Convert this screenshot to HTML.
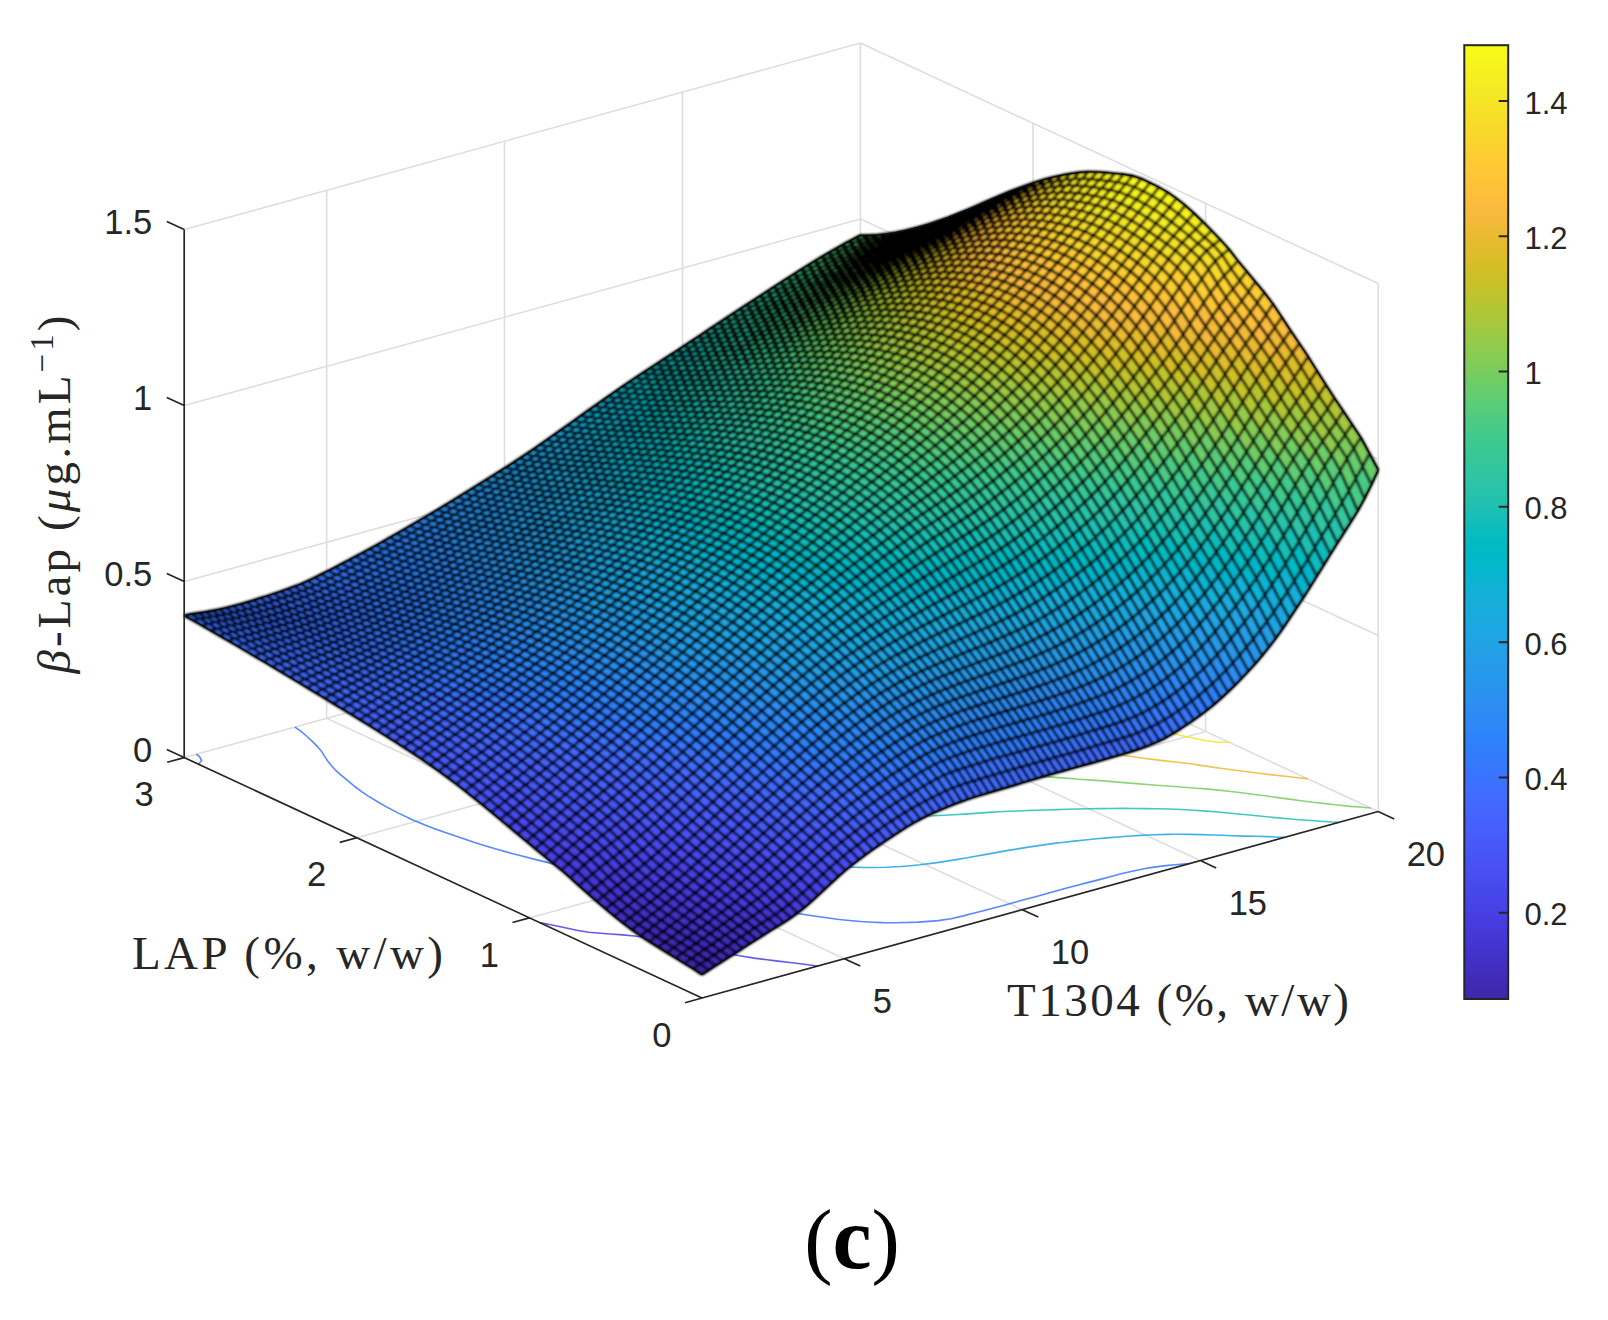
<!DOCTYPE html>
<html><head><meta charset="utf-8"><title>Figure (c)</title>
<style>
html,body{margin:0;padding:0;background:#fff}
body{width:1608px;height:1320px;overflow:hidden}
svg{display:block}
.tk text{font-family:"Liberation Sans",Arial,sans-serif;font-size:34.5px;fill:#262626}
.cbt text{font-family:"Liberation Sans",Arial,sans-serif;font-size:31px;fill:#262626}
.lab{font-family:"Liberation Serif","Times New Roman",serif;font-size:47px;fill:#262626}
.cap{font-family:"Liberation Serif","Times New Roman",serif;fill:#000}
#fills path{fill:currentColor;stroke:currentColor;stroke-width:.9;stroke-linejoin:round}
#cont path{fill:none;stroke-width:1.6;stroke-opacity:.85}
</style></head><body>
<svg width="1608" height="1320" viewBox="0 0 1608 1320">
<rect width="1608" height="1320" fill="#fff"/>
<path d="M326.6 718.3L326.6 190.3M504.5 669.3L504.5 141.3M682.5 620.2L682.5 92.2M860.4 571.1L860.4 43.1M184.2 757.6L860.4 571.1M184.2 581.6L860.4 395.1M184.2 405.6L860.4 219.1M184.2 229.6L860.4 43.1M1378.2 811.5L1378.2 283.5M1205.6 731.4L1205.6 203.4M1033 651.2L1033 123.2M860.4 571.1L1378.2 811.5M860.4 395.1L1378.2 635.5M860.4 219.1L1378.2 459.5M860.4 43.1L1378.2 283.5M844.4 958.7L326.6 718.3M1022.3 909.7L504.5 669.3M1200.3 860.6L682.5 620.2M529.4 917.9L1205.6 731.4M356.8 837.7L1033 651.2" fill="none" stroke="#dedede" stroke-width="1.6"/>
<g id="cont">
<path d="M539.7 922.6 550.8 924.7 563.9 927.5 576.8 930.3 588.6 932.2 600.8 933.3 609.9 934 622.9 934.9 636.7 936.2 645 937.3 659 939.6 672.6 942.2 682.7 944.2 693 946.4 705.6 949.1 718.8 951.8 732.4 954.5 742.6 956.3 754.2 958.1 767.2 959.8 777.9 961.1 790 962.5 802.3 964 813.5 965.5 817.7 966.1" stroke="#4740e3"/>
<path d="M198.4 764.2 201.6 760.4 199.5 756.6 196.4 754.2" stroke="#3a73fe"/>
<path d="M294.9 727.1 301.4 731.7 307 736.5 312.3 741.4 317.3 746.4 321.7 751.6 325.1 757.1 327.7 761 330.9 765.1 335.5 770.2 341 775.1 348.4 781.1 355.4 787 361.6 791.7 368.3 796.2 379.2 802.8 386.9 807.1 398.9 813.4 411.7 819.4 425.6 825.2 435.3 828.9 450.4 834.3 460.7 837.8 474.6 842.4 487.5 846.4 498.6 849.7 510.1 852.9 521.9 856.1 534 859.1 546.2 862.1 558.4 865.2 570.5 868.2 582.6 871.3 594.9 874.2 607.4 877.2 620 880.1 632.8 883 645.8 885.8 658.9 888.5 668.9 890.4 679.3 892.5 693 895.1 706.8 897.7 716.8 899.5 727.7 901.5 741.7 904 753.7 906.1 763 907.7 777.4 910.1 789.2 912.1 799.3 913.7 814.1 916 823.2 917.3 837.3 919.2 846.5 920.2 860.6 921.5 872.5 922.2 882.7 922.6 893.9 922.7 906.2 922.5 918.5 922.1 928.5 921.4 938.1 920.6 951 918.7 962.3 916.1 973.3 913.3 984.3 910.5 991.7 908.6 1002.5 905.7 1013.1 902.8 1023.8 899.8 1034.6 896.9 1045.3 894 1056 891 1066.7 888.1 1077.4 885.2 1088.4 882.4 1099.4 879.6 1110.1 876.7 1121 873.8 1132.3 871.2 1144.2 868.8 1152.5 867.4 1165.7 865.6 1175.1 864.7 1189.4 863.6" stroke="#3a73fe"/>
<path d="M531.2 661.9 533 666.7 534.2 670.6 535.7 675.8 536.7 679.5 538.2 684.9 539.2 688.4 540.8 694 541.8 697.3 543.7 703.2 544.8 706.4 546.8 711.9 548.3 715.9 550.2 720.5 552.4 725.7 553.9 729.1 556.6 734.7 559 739.4 561.1 743.1 564.3 748.6 567.8 754 570.6 757.9 573.6 762 577.9 767.2 582.4 772.3 587.4 777.3 592.7 782.3 598.4 787.1 605.8 792.7 614.5 798.6 621.6 803 633.1 809.4 645.4 815.6 658.6 821.6 672.6 827.3 683.1 831.2 697.8 836.3 708.5 839.7 720.7 843.4 734.7 847.3 747.3 850.5 758.9 853.2 769.7 855.6 781.4 858 795.3 860.5 807 862.4 817.7 863.9 830.6 865.4 842.9 866.5 852.3 867.1 863.4 867.5 874.8 867.5 886.6 867.2 900.9 866.5 910.6 865.7 919.9 864.8 933.4 863.1 942 861.9 954.8 859.9 967.2 857.7 975.5 856.3 987.7 854.1 999.9 851.9 1008.2 850.4 1020.8 848.4 1029.9 846.9 1042 845.1 1054 843.4 1064.2 842.2 1074.1 841.1 1087.3 839.7 1096.6 838.8 1109.9 837.6 1120.5 836.7 1130.4 836 1141.1 835.4 1155 834.7 1166.6 834.4 1177.7 834.3 1189.2 834.4 1201.1 834.6 1212 835 1222.3 835.3 1232.4 835.7 1244 836.1 1255.7 836.3 1267.7 836.6 1280.4 837.2 1284.2 837.4" stroke="#21a3e4"/>
<path d="M704.4 614.1 703.7 617.5 702.8 621.7 701.6 626.4 700.5 631.2 699.7 634.6 699 638.4 698.1 643.2 697.4 648 697 651.3 696.7 655.8 696.5 660.9 696.4 664.2 696.5 668.8 696.7 673.7 696.9 676.9 697.5 682.5 698 686.1 698.9 691 699.8 695.2 700.9 699.9 702.2 704.2 703.8 709.1 705.3 712.9 707.8 718.6 709.6 722.3 712.1 727 715.5 732.4 718.7 737.1 721.7 741.1 725.5 745.6 730.1 750.7 735.2 755.7 740.7 760.6 748.6 766.8 756.4 772.2 763.5 776.7 775 783.1 787.7 789.1 801.7 794.9 811.8 798.5 826.4 802.9 839.2 806.2 849.9 808.5 860.6 810.6 875.6 812.8 883.8 813.8 897.8 815 910.7 815.7 922 816 933.6 815.8 943.9 815.3 954 814.7 963.9 814.1 978.8 813.1 988.7 812.4 998.7 811.8 1009 811.3 1021.9 810.8 1035.2 810.3 1045.8 810 1056.4 809.6 1067.1 809.3 1077.8 809 1088.7 808.8 1099.7 808.6 1111.2 808.5 1123 808.4 1134.5 808.5 1145.7 808.6 1156.7 808.7 1168.6 809 1181.1 809.5 1194 810.3 1206 811.1 1215 811.8 1228.2 813 1241.1 814.2 1249.7 815 1264.2 816.5 1275.1 817.6 1285.6 818.5 1299.4 819.7 1310.7 820.5 1319.9 821.2 1332.8 822 1338.7 822.4" stroke="#1ec0b2"/>
<path d="M890.9 585.3 886.8 589.4 882.3 593.8 878.2 597.8 874.7 601.4 871.2 605.1 867.8 608.8 864.5 612.5 861.3 616.3 858.2 620.1 855.2 624 852.3 627.9 849.5 631.9 847 636 844.6 640.1 842.3 644.4 840.4 648.7 838.6 653.2 837.2 657.3 836.3 660.8 835.4 664.9 834.8 669.8 834.5 674.1 834.5 677.6 835 683.1 835.6 686.5 836.9 691.9 838.1 695.4 840.5 701.1 842.5 705 845.2 709.4 849.1 714.7 853.6 719.9 858.7 724.9 864.4 729.7 870.7 734.3 881.3 741 890 745.5 898 749.2 912.4 754.8 923.1 758.2 936.4 761.8 947.6 764.3 960.9 766.9 975.1 769.2 983.3 770.4 998.7 772.3 1007.5 773.2 1020.5 774.5 1033.4 775.7 1042.3 776.4 1055.2 777.4 1068.7 778.4 1078.6 779.2 1089 779.9 1102.4 780.9 1115 781.9 1124 782.6 1136.6 783.6 1150.4 784.8 1159.8 785.5 1170.8 786.3 1184.1 787.2 1196.5 788.2 1205.4 788.9 1218.7 790.1 1230.8 791.5 1241.5 792.8 1254.7 794.5 1265.1 795.8 1278.1 797.6 1289.2 799.1 1301.2 800.8 1313 802.3 1325.7 803.6 1335.3 804.7 1350.2 806.4 1359.9 807 1370.8 808" stroke="#78cc5f"/>
<path d="M980 626.6 976.3 630.2 972.8 633.8 969.5 637.5 966.4 641.4 963.6 645.3 961.1 649.5 959 653.8 957.3 658.2 956.1 662.9 955.6 666.2 955.4 670.5 955.9 675.7 956.6 679 958.5 684.6 960.5 688.7 963.1 692.9 967.2 698.1 972.1 703.2 977.8 708 985.5 713.4 995.1 719.2 1007.7 725.3 1021.9 731 1032.1 734.5 1044.8 738.4 1058.4 742.1 1070.4 745 1081.3 747.4 1092.7 749.7 1106.4 752.3 1119.5 754.6 1128.1 756 1143.2 758.2 1152.5 759.4 1167.2 761.1 1175.5 762 1190.3 763.7 1199.2 765.1 1213.9 767.4 1223.9 768.8 1237.4 770.5 1247.1 771.7 1261.2 773.5 1270.3 774.6 1285.4 776.3 1293.8 777.3 1307.9 778.9" stroke="#eabb30"/>
<path d="M1067.2 667.1 1067.3 670.5 1068.6 675.7 1070.2 679.3 1073.9 684.7 1078.5 689.8 1083.8 694.7 1089.8 699.4 1100.3 706.1 1108.4 710.3 1121.8 716.2 1131.4 719.9 1146.8 725.2 1157.5 728.7 1168.6 732 1179.9 735.3 1193 738 1206.3 740.8 1217.6 742.2 1229 742.2" stroke="#f5e526"/>
</g>
<filter id="bl" x="0" y="0" width="1608" height="1320" filterUnits="userSpaceOnUse"><feGaussianBlur stdDeviation="0.8"/></filter>
<g filter="url(#bl)">
<g id="fills">
<path color="#5ecc74" d="M862.4 239l6.8-3.7-8.8 0-6.8 3.6z"/>
<path color="#59cc78" d="M848.7 246.3l13.7-7.3-8.8-0.1-13.7 7.4z"/>
<path color="#53cc7d" d="M835 254.1l13.7-7.8-8.8 0-13.6 7.8z"/>
<path color="#4ccb82" d="M821.4 262.2l13.6-8.1-8.7 0-13.7 8.3z"/>
<path color="#46cb88" d="M807.7 270.7l13.7-8.5-8.8 0.2-13.7 8.5z"/>
<path color="#3fca8e" d="M794.1 279.4l13.6-8.7-8.8 0.2-13.6 8.7z"/>
<path color="#3ac994" d="M780.4 288.3l13.7-8.9-8.8 0.2-13.7 8.9z"/>
<path color="#35c79a" d="M766.7 297.2l13.7-8.9-8.8 0.2-13.6 8.8z"/>
<path color="#32c69f" d="M753.1 306.1l13.6-8.9-8.7 0.1-13.7 8.9z"/>
<path color="#2ec4a4" d="M739.4 315.1l13.7-9-8.8 0.1-13.7 9z"/>
<path color="#2ac3a9" d="M725.7 324.2l13.7-9.1-8.8 0.1-13.6 9z"/>
<path color="#24c1ae" d="M712.1 333.3l13.6-9.1-8.7 0-13.7 9.1z"/>
<path color="#1dc0b3" d="M698.4 342.4l13.7-9.1-8.8 0-13.7 9z"/>
<path color="#15bfb8" d="M684.8 351.5l13.6-9.1-8.8-0.1-13.6 9z"/>
<path color="#0cbdbc" d="M671.1 360.5l13.7-9-8.8-0.2-13.7 8.9z"/>
<path color="#05bbc1" d="M657.4 369.6l13.7-9.1-8.8-0.3-13.6 8.9z"/>
<path color="#01bac5" d="M643.8 378.8l13.6-9.2-8.7-0.5-13.7 9z"/>
<path color="#01b8ca" d="M630.1 388.1l13.7-9.3-8.8-0.7-13.7 9.2z"/>
<path color="#06b6ce" d="M616.5 397.6l13.6-9.5-8.8-0.8-13.6 9.5z"/>
<path color="#0cb3d3" d="M602.8 407.3l13.7-9.7-8.8-0.8-13.7 9.6z"/>
<path color="#13b0d7" d="M589.1 417.1l13.7-9.8-8.8-0.9-13.6 9.7z"/>
<path color="#18aedb" d="M575.5 427l13.6-9.9-8.7-1-13.7 9.8z"/>
<path color="#1baade" d="M561.8 436.8l13.7-9.8-8.8-1.1-13.7 9.6z"/>
<path color="#1ea7e1" d="M548.2 446.4l13.6-9.6-8.8-1.3-13.6 9.6z"/>
<path color="#20a4e3" d="M534.5 455.8l13.7-9.4-8.8-1.3-13.7 9.3z"/>
<path color="#23a1e5" d="M520.8 465l13.7-9.2-8.8-1.4-13.6 9z"/>
<path color="#249ee6" d="M507.2 473.8l13.6-8.8-8.7-1.6-13.7 8.7z"/>
<path color="#269be8" d="M493.5 482.6l13.7-8.8-8.8-1.7-13.7 8.6z"/>
<path color="#2798ea" d="M479.9 491.2l13.6-8.6-8.8-1.9-13.6 8.5z"/>
<path color="#2995ec" d="M466.2 499.8l13.7-8.6-8.8-2-13.7 8.4z"/>
<path color="#2b92ef" d="M452.5 508.2l13.7-8.4-8.8-2.2-13.6 8.3z"/>
<path color="#2c8ff1" d="M438.9 516.6l13.6-8.4-8.7-2.3-13.7 8.3z"/>
<path color="#2d8cf3" d="M425.2 524.8l13.7-8.2-8.8-2.4-13.7 8z"/>
<path color="#2d89f6" d="M411.5 532.9l13.7-8.1-8.8-2.6-13.6 8z"/>
<path color="#2e86f7" d="M397.9 540.9l13.6-8-8.7-2.7-13.7 7.8z"/>
<path color="#2e83f9" d="M384.2 548.7l13.7-7.8-8.8-2.9-13.6 7.7z"/>
<path color="#2f80fa" d="M370.6 556.4l13.6-7.7-8.7-3-13.7 7.5z"/>
<path color="#317dfb" d="M356.9 563.8l13.7-7.4-8.8-3.2-13.7 7.3z"/>
<path color="#337bfd" d="M343.2 571.1l13.7-7.3-8.8-3.3-13.6 7.1z"/>
<path color="#3578fd" d="M329.6 578.2l13.6-7.1-8.7-3.5-13.7 6.9z"/>
<path color="#3876fe" d="M315.9 584.9l13.7-6.7-8.8-3.7-13.7 6.7z"/>
<path color="#3a74fe" d="M302.3 590.7l13.6-5.8-8.8-3.7-13.6 5.6z"/>
<path color="#3b73fe" d="M288.6 595.7l13.7-5-8.8-3.9-13.7 4.9z"/>
<path color="#3c72ff" d="M274.9 600.4l13.7-4.7-8.8-4-13.6 4.6z"/>
<path color="#3c71ff" d="M261.3 604.7l13.6-4.3-8.7-4.1-13.7 4.3z"/>
<path color="#3d71ff" d="M247.6 608.7l13.7-4-8.8-4.1-13.7 3.9z"/>
<path color="#3d71ff" d="M234 612.2l13.6-3.5-8.8-4.2-13.6 3.5z"/>
<path color="#3c71ff" d="M220.3 615.1l13.7-2.9-8.8-4.2-13.7 2.9z"/>
<path color="#3b72ff" d="M206.6 617.6l13.7-2.5-8.8-4.2-13.6 2.3z"/>
<path color="#3a73fe" d="M193 620.3l13.6-2.7-8.7-4.4-13.7 2.3z"/>
<path color="#65cd6e" d="M871.1 238.6l6.9-3.8-8.8 0.5-6.8 3.7z"/>
<path color="#60cd72" d="M857.5 246.1l13.6-7.5-8.7 0.4-13.7 7.3z"/>
<path color="#5acc77" d="M843.8 253.9l13.7-7.8-8.8 0.2-13.7 7.8z"/>
<path color="#53cc7d" d="M830.1 262l13.7-8.1-8.8 0.2-13.6 8.1z"/>
<path color="#4ccb83" d="M816.5 270.4l13.6-8.4-8.7 0.2-13.7 8.5z"/>
<path color="#45cb89" d="M802.8 279.1l13.7-8.7-8.8 0.3-13.6 8.7z"/>
<path color="#3eca8f" d="M789.2 287.9l13.6-8.8-8.7 0.3-13.7 8.9z"/>
<path color="#39c895" d="M775.5 296.8l13.7-8.9-8.8 0.4-13.7 8.9z"/>
<path color="#35c79a" d="M761.8 305.8l13.7-9-8.8 0.4-13.6 8.9z"/>
<path color="#31c6a0" d="M748.2 314.9l13.6-9.1-8.7 0.3-13.7 9z"/>
<path color="#2dc4a5" d="M734.5 324l13.7-9.1-8.8 0.2-13.7 9.1z"/>
<path color="#28c3aa" d="M720.9 333.2l13.6-9.2-8.8 0.2-13.6 9.1z"/>
<path color="#23c1af" d="M707.2 342.4l13.7-9.2-8.8 0.1-13.7 9.1z"/>
<path color="#1bc0b4" d="M693.5 351.6l13.7-9.2-8.8 0-13.6 9.1z"/>
<path color="#12beb9" d="M679.9 360.8l13.6-9.2-8.7-0.1-13.7 9z"/>
<path color="#0abdbe" d="M666.2 370l13.7-9.2-8.8-0.3-13.7 9.1z"/>
<path color="#03bbc2" d="M652.6 379.3l13.6-9.3-8.8-0.4-13.6 9.2z"/>
<path color="#01b9c7" d="M638.9 388.7l13.7-9.4-8.8-0.5-13.7 9.3z"/>
<path color="#03b7cc" d="M625.2 398.4l13.7-9.7-8.8-0.6-13.6 9.5z"/>
<path color="#08b5d0" d="M611.6 408.1l13.6-9.7-8.7-0.8-13.7 9.7z"/>
<path color="#0fb2d5" d="M597.9 418l13.7-9.9-8.8-0.8-13.7 9.8z"/>
<path color="#15afd9" d="M584.3 427.9l13.6-9.9-8.8-0.9-13.6 9.9z"/>
<path color="#1aacdd" d="M570.6 437.8l13.7-9.9-8.8-0.9-13.7 9.8z"/>
<path color="#1da9e0" d="M556.9 447.5l13.7-9.7-8.8-1-13.6 9.6z"/>
<path color="#1fa5e2" d="M543.3 457.1l13.6-9.6-8.7-1.1-13.7 9.4z"/>
<path color="#22a2e4" d="M529.6 466.3l13.7-9.2-8.8-1.3-13.7 9.2z"/>
<path color="#249fe5" d="M516 475.4l13.6-9.1-8.8-1.3-13.6 8.8z"/>
<path color="#259ce7" d="M502.3 484.3l13.7-8.9-8.8-1.6-13.7 8.8z"/>
<path color="#2699e9" d="M488.6 493.1l13.7-8.8-8.8-1.7-13.6 8.6z"/>
<path color="#2896eb" d="M475 501.8l13.6-8.7-8.7-1.9-13.7 8.6z"/>
<path color="#2a93ee" d="M461.3 510.4l13.7-8.6-8.8-2-13.7 8.4z"/>
<path color="#2c90f0" d="M447.6 518.9l13.7-8.5-8.8-2.2-13.6 8.4z"/>
<path color="#2d8df2" d="M434 527.3l13.6-8.4-8.7-2.3-13.7 8.2z"/>
<path color="#2d8af5" d="M420.3 535.5l13.7-8.2-8.8-2.5-13.7 8.1z"/>
<path color="#2e87f7" d="M406.7 543.7l13.6-8.2-8.8-2.6-13.6 8z"/>
<path color="#2e84f9" d="M393 551.6l13.7-7.9-8.8-2.8-13.7 7.8z"/>
<path color="#2f81fa" d="M379.3 559.4l13.7-7.8-8.8-2.9-13.6 7.7z"/>
<path color="#317efb" d="M365.7 567l13.6-7.6-8.7-3-13.7 7.4z"/>
<path color="#327bfc" d="M352 574.5l13.7-7.5-8.8-3.2-13.7 7.3z"/>
<path color="#3579fd" d="M338.4 581.6l13.6-7.1-8.8-3.4-13.6 7.1z"/>
<path color="#3776fe" d="M324.7 588.3l13.7-6.7-8.8-3.4-13.7 6.7z"/>
<path color="#3974fe" d="M311 594.3l13.7-6-8.8-3.4-13.6 5.8z"/>
<path color="#3b73fe" d="M297.4 599.6l13.6-5.3-8.7-3.6-13.7 5z"/>
<path color="#3c72ff" d="M283.7 604.4l13.7-4.8-8.8-3.9-13.7 4.7z"/>
<path color="#3c71ff" d="M270.1 608.8l13.6-4.4-8.8-4-13.6 4.3z"/>
<path color="#3d71ff" d="M256.4 612.8l13.7-4-8.8-4.1-13.7 4z"/>
<path color="#3d71ff" d="M242.7 616.3l13.7-3.5-8.8-4.1-13.6 3.5z"/>
<path color="#3c71ff" d="M229.1 619.4l13.6-3.1-8.7-4.1-13.7 2.9z"/>
<path color="#3b72ff" d="M215.4 622.2l13.7-2.8-8.8-4.3-13.7 2.5z"/>
<path color="#3b73fe" d="M201.8 625.3l13.6-3.1-8.8-4.6-13.6 2.7z"/>
<path color="#6dcd67" d="M879.9 237.8l6.8-4-8.7 1-6.9 3.8z"/>
<path color="#68cd6b" d="M866.2 245.5l13.7-7.7-8.8 0.8-13.6 7.5z"/>
<path color="#61cd71" d="M852.6 253.3l13.6-7.8-8.7 0.6-13.7 7.8z"/>
<path color="#5acc77" d="M838.9 261.4l13.7-8.1-8.8 0.6-13.7 8.1z"/>
<path color="#53cc7d" d="M825.3 269.8l13.6-8.4-8.8 0.6-13.6 8.4z"/>
<path color="#4bcb83" d="M811.6 278.5l13.7-8.7-8.8 0.6-13.7 8.7z"/>
<path color="#44cb89" d="M797.9 287.3l13.7-8.8-8.8 0.6-13.6 8.8z"/>
<path color="#3eca90" d="M784.3 296.2l13.6-8.9-8.7 0.6-13.7 8.9z"/>
<path color="#38c896" d="M770.6 305.3l13.7-9.1-8.8 0.6-13.7 9z"/>
<path color="#34c79b" d="M757 314.4l13.6-9.1-8.8 0.5-13.6 9.1z"/>
<path color="#30c5a1" d="M743.3 323.7l13.7-9.3-8.8 0.5-13.7 9.1z"/>
<path color="#2cc4a6" d="M729.6 332.9l13.7-9.2-8.8 0.3-13.6 9.2z"/>
<path color="#27c2ab" d="M716 342.2l13.6-9.3-8.7 0.3-13.7 9.2z"/>
<path color="#21c1b0" d="M702.3 351.5l13.7-9.3-8.8 0.2-13.7 9.2z"/>
<path color="#19bfb5" d="M688.7 360.8l13.6-9.3-8.8 0.1-13.6 9.2z"/>
<path color="#10beba" d="M675 370.2l13.7-9.4-8.8 0-13.7 9.2z"/>
<path color="#08bcbf" d="M661.3 379.7l13.7-9.5-8.8-0.2-13.6 9.3z"/>
<path color="#02bac4" d="M647.7 389.3l13.6-9.6-8.7-0.4-13.7 9.4z"/>
<path color="#01b8c9" d="M634 399l13.7-9.7-8.8-0.6-13.7 9.7z"/>
<path color="#05b6ce" d="M620.4 408.9l13.6-9.9-8.8-0.6-13.6 9.7z"/>
<path color="#0bb3d2" d="M606.7 418.8l13.7-9.9-8.8-0.8-13.7 9.9z"/>
<path color="#13b1d7" d="M593 428.8l13.7-10-8.8-0.8-13.6 9.9z"/>
<path color="#18aedb" d="M579.4 438.7l13.6-9.9-8.7-0.9-13.7 9.9z"/>
<path color="#1baade" d="M565.7 448.5l13.7-9.8-8.8-0.9-13.7 9.7z"/>
<path color="#1ea7e1" d="M552 458.1l13.7-9.6-8.8-1-13.6 9.6z"/>
<path color="#20a4e3" d="M538.4 467.6l13.6-9.5-8.7-1-13.7 9.2z"/>
<path color="#23a1e5" d="M524.7 476.8l13.7-9.2-8.8-1.3-13.6 9.1z"/>
<path color="#249de6" d="M511.1 485.9l13.6-9.1-8.7-1.4-13.7 8.9z"/>
<path color="#269ae8" d="M497.4 494.8l13.7-8.9-8.8-1.6-13.7 8.8z"/>
<path color="#2797ea" d="M483.7 503.7l13.7-8.9-8.8-1.7-13.6 8.7z"/>
<path color="#2994ed" d="M470.1 512.4l13.6-8.7-8.7-1.9-13.7 8.6z"/>
<path color="#2b91ef" d="M456.4 521.1l13.7-8.7-8.8-2-13.7 8.5z"/>
<path color="#2c8ef1" d="M442.8 529.6l13.6-8.5-8.8-2.2-13.6 8.4z"/>
<path color="#2d8bf4" d="M429.1 538l13.7-8.4-8.8-2.3-13.7 8.2z"/>
<path color="#2d88f6" d="M415.4 546.3l13.7-8.3-8.8-2.5-13.6 8.2z"/>
<path color="#2e85f8" d="M401.8 554.4l13.6-8.1-8.7-2.6-13.7 7.9z"/>
<path color="#2f82fa" d="M388.1 562.4l13.7-8-8.8-2.8-13.7 7.8z"/>
<path color="#307ffb" d="M374.5 570.1l13.6-7.7-8.8-3-13.6 7.6z"/>
<path color="#327cfc" d="M360.8 577.7l13.7-7.6-8.8-3.1-13.7 7.5z"/>
<path color="#3479fd" d="M347.1 584.9l13.7-7.2-8.8-3.2-13.6 7.1z"/>
<path color="#3777fe" d="M333.5 591.7l13.6-6.8-8.7-3.3-13.7 6.7z"/>
<path color="#3975fe" d="M319.8 597.9l13.7-6.2-8.8-3.4-13.7 6z"/>
<path color="#3b73fe" d="M306.2 603.4l13.6-5.5-8.8-3.6-13.6 5.3z"/>
<path color="#3c72ff" d="M292.5 608.4l13.7-5-8.8-3.8-13.7 4.8z"/>
<path color="#3c71ff" d="M278.8 612.8l13.7-4.4-8.8-4-13.6 4.4z"/>
<path color="#3d71ff" d="M265.2 616.8l13.6-4-8.7-4-13.7 4z"/>
<path color="#3d71ff" d="M251.5 620.4l13.7-3.6-8.8-4-13.7 3.5z"/>
<path color="#3c71ff" d="M237.9 623.7l13.6-3.3-8.8-4.1-13.6 3.1z"/>
<path color="#3c72ff" d="M224.2 626.9l13.7-3.2-8.8-4.3-13.7 2.8z"/>
<path color="#3b72ff" d="M210.5 630.4l13.7-3.5-8.8-4.7-13.6 3.1z"/>
<path color="#77cc60" d="M888.7 236.5l6.8-4-8.8 1.3-6.8 4z"/>
<path color="#71cd64" d="M875 244.4l13.7-7.9-8.8 1.3-13.7 7.7z"/>
<path color="#6acd6a" d="M861.4 252.4l13.6-8-8.8 1.1-13.6 7.8z"/>
<path color="#62cd70" d="M847.7 260.6l13.7-8.2-8.8 0.9-13.7 8.1z"/>
<path color="#5bcc77" d="M834 269l13.7-8.4-8.8 0.8-13.6 8.4z"/>
<path color="#53cc7d" d="M820.4 277.7l13.6-8.7-8.7 0.8-13.7 8.7z"/>
<path color="#4bcb83" d="M806.7 286.5l13.7-8.8-8.8 0.8-13.7 8.8z"/>
<path color="#44cb8a" d="M793.1 295.5l13.6-9-8.8 0.8-13.6 8.9z"/>
<path color="#3dc990" d="M779.4 304.6l13.7-9.1-8.8 0.7-13.7 9.1z"/>
<path color="#38c896" d="M765.7 313.8l13.7-9.2-8.8 0.7-13.6 9.1z"/>
<path color="#34c79c" d="M752.1 323.1l13.6-9.3-8.7 0.6-13.7 9.3z"/>
<path color="#30c5a2" d="M738.4 332.5l13.7-9.4-8.8 0.6-13.7 9.2z"/>
<path color="#2cc4a7" d="M724.8 341.9l13.6-9.4-8.8 0.4-13.6 9.3z"/>
<path color="#26c2ac" d="M711.1 351.3l13.7-9.4-8.8 0.3-13.7 9.3z"/>
<path color="#1fc0b2" d="M697.4 360.8l13.7-9.5-8.8 0.2-13.6 9.3z"/>
<path color="#16bfb7" d="M683.8 370.3l13.6-9.5-8.7 0-13.7 9.4z"/>
<path color="#0dbdbc" d="M670.1 380l13.7-9.7-8.8-0.1-13.7 9.5z"/>
<path color="#05bbc1" d="M656.5 389.7l13.6-9.7-8.8-0.3-13.6 9.6z"/>
<path color="#01b9c6" d="M642.8 399.5l13.7-9.8-8.8-0.4-13.7 9.7z"/>
<path color="#02b7cb" d="M629.1 409.5l13.7-10-8.8-0.5-13.6 9.9z"/>
<path color="#07b5d0" d="M615.5 419.5l13.6-10-8.7-0.6-13.7 9.9z"/>
<path color="#0fb2d4" d="M601.8 429.5l13.7-10-8.8-0.7-13.7 10z"/>
<path color="#15afd9" d="M588.1 439.5l13.7-10-8.8-0.7-13.6 9.9z"/>
<path color="#1aacdd" d="M574.5 449.4l13.6-9.9-8.7-0.8-13.7 9.8z"/>
<path color="#1da9e0" d="M560.8 459.1l13.7-9.7-8.8-0.9-13.7 9.6z"/>
<path color="#1fa6e2" d="M547.2 468.7l13.6-9.6-8.8-1-13.6 9.5z"/>
<path color="#22a2e4" d="M533.5 478.1l13.7-9.4-8.8-1.1-13.7 9.2z"/>
<path color="#249fe5" d="M519.8 487.3l13.7-9.2-8.8-1.3-13.6 9.1z"/>
<path color="#259ce7" d="M506.2 496.4l13.6-9.1-8.7-1.4-13.7 8.9z"/>
<path color="#2699e9" d="M492.5 505.4l13.7-9-8.8-1.6-13.7 8.9z"/>
<path color="#2896ec" d="M478.9 514.3l13.6-8.9-8.8-1.7-13.6 8.7z"/>
<path color="#2a92ee" d="M465.2 523.1l13.7-8.8-8.8-1.9-13.7 8.7z"/>
<path color="#2c8ff1" d="M451.5 531.8l13.7-8.7-8.8-2-13.6 8.5z"/>
<path color="#2d8cf3" d="M437.9 540.4l13.6-8.6-8.7-2.2-13.7 8.4z"/>
<path color="#2d89f5" d="M424.2 548.8l13.7-8.4-8.8-2.4-13.7 8.3z"/>
<path color="#2e86f8" d="M410.6 557.1l13.6-8.3-8.8-2.5-13.6 8.1z"/>
<path color="#2e83f9" d="M396.9 565.2l13.7-8.1-8.8-2.7-13.7 8z"/>
<path color="#3080fb" d="M383.2 573.1l13.7-7.9-8.8-2.8-13.6 7.7z"/>
<path color="#317dfc" d="M369.6 580.7l13.6-7.6-8.7-3-13.7 7.6z"/>
<path color="#347afd" d="M355.9 588l13.7-7.3-8.8-3-13.7 7.2z"/>
<path color="#3677fe" d="M342.3 594.9l13.6-6.9-8.8-3.1-13.6 6.8z"/>
<path color="#3975fe" d="M328.6 601.3l13.7-6.4-8.8-3.2-13.7 6.2z"/>
<path color="#3a73fe" d="M314.9 607.1l13.7-5.8-8.8-3.4-13.6 5.5z"/>
<path color="#3b72ff" d="M301.3 612.2l13.6-5.1-8.7-3.7-13.7 5z"/>
<path color="#3c71ff" d="M287.6 616.7l13.7-4.5-8.8-3.8-13.7 4.4z"/>
<path color="#3c71ff" d="M273.9 620.9l13.7-4.2-8.8-3.9-13.6 4z"/>
<path color="#3d71ff" d="M260.3 624.6l13.6-3.7-8.7-4.1-13.7 3.6z"/>
<path color="#3c71ff" d="M246.6 628.2l13.7-3.6-8.8-4.2-13.6 3.3z"/>
<path color="#3c71ff" d="M233 631.7l13.6-3.5-8.7-4.5-13.7 3.2z"/>
<path color="#3c72ff" d="M219.3 635.5l13.7-3.8-8.8-4.8-13.7 3.5z"/>
<path color="#81cc58" d="M897.5 234.9l6.8-4.2-8.8 1.8-6.8 4z"/>
<path color="#7bcc5d" d="M883.8 243l13.7-8.1-8.8 1.6-13.7 7.9z"/>
<path color="#73cd63" d="M870.1 251.1l13.7-8.1-8.8 1.4-13.6 8z"/>
<path color="#6bcd69" d="M856.5 259.4l13.6-8.3-8.7 1.3-13.7 8.2z"/>
<path color="#63cd70" d="M842.8 267.9l13.7-8.5-8.8 1.2-13.7 8.4z"/>
<path color="#5bcc76" d="M829.2 276.6l13.6-8.7-8.8 1.1-13.6 8.7z"/>
<path color="#53cc7d" d="M815.5 285.5l13.7-8.9-8.8 1.1-13.7 8.8z"/>
<path color="#4bcb84" d="M801.8 294.6l13.7-9.1-8.8 1-13.6 9z"/>
<path color="#43ca8a" d="M788.2 303.8l13.6-9.2-8.7 0.9-13.7 9.1z"/>
<path color="#3dc991" d="M774.5 313.1l13.7-9.3-8.8 0.8-13.7 9.2z"/>
<path color="#37c897" d="M760.9 322.5l13.6-9.4-8.8 0.7-13.6 9.3z"/>
<path color="#33c69d" d="M747.2 332l13.7-9.5-8.8 0.6-13.7 9.4z"/>
<path color="#2fc5a3" d="M733.5 341.5l13.7-9.5-8.8 0.5-13.6 9.4z"/>
<path color="#2ac3a8" d="M719.9 351.1l13.6-9.6-8.7 0.4-13.7 9.4z"/>
<path color="#25c2ae" d="M706.2 360.7l13.7-9.6-8.8 0.2-13.7 9.5z"/>
<path color="#1dc0b3" d="M692.5 370.4l13.7-9.7-8.8 0.1-13.6 9.5z"/>
<path color="#13beb8" d="M678.9 380.1l13.6-9.7-8.7-0.1-13.7 9.7z"/>
<path color="#0abdbe" d="M665.2 390l13.7-9.9-8.8-0.1-13.6 9.7z"/>
<path color="#02bbc3" d="M651.6 399.9l13.6-9.9-8.7-0.3-13.7 9.8z"/>
<path color="#01b8c8" d="M637.9 410l13.7-10.1-8.8-0.4-13.7 10z"/>
<path color="#04b6cd" d="M624.2 420.1l13.7-10.1-8.8-0.5-13.6 10z"/>
<path color="#0bb4d2" d="M610.6 430.2l13.6-10.1-8.7-0.6-13.7 10z"/>
<path color="#12b1d7" d="M596.9 440.2l13.7-10-8.8-0.7-13.7 10z"/>
<path color="#17aedb" d="M583.3 450.2l13.6-10-8.8-0.7-13.6 9.9z"/>
<path color="#1babde" d="M569.6 460l13.7-9.8-8.8-0.8-13.7 9.7z"/>
<path color="#1ea7e1" d="M555.9 469.7l13.7-9.7-8.8-0.9-13.6 9.6z"/>
<path color="#20a4e3" d="M542.3 479.3l13.6-9.6-8.7-1-13.7 9.4z"/>
<path color="#23a1e4" d="M528.6 488.6l13.7-9.3-8.8-1.2-13.7 9.2z"/>
<path color="#249de6" d="M515 497.9l13.6-9.3-8.8-1.3-13.6 9.1z"/>
<path color="#269ae8" d="M501.3 507.1l13.7-9.2-8.8-1.5-13.7 9z"/>
<path color="#2797eb" d="M487.6 516.1l13.7-9-8.8-1.7-13.6 8.9z"/>
<path color="#2994ed" d="M474 525.1l13.6-9-8.7-1.8-13.7 8.8z"/>
<path color="#2b90ef" d="M460.3 533.9l13.7-8.8-8.8-2-13.7 8.7z"/>
<path color="#2d8df2" d="M446.7 542.6l13.6-8.7-8.8-2.1-13.6 8.6z"/>
<path color="#2d8af5" d="M433 551.2l13.7-8.6-8.8-2.2-13.7 8.4z"/>
<path color="#2e87f7" d="M419.3 559.6l13.7-8.4-8.8-2.4-13.6 8.3z"/>
<path color="#2e84f9" d="M405.7 567.8l13.6-8.2-8.7-2.5-13.7 8.1z"/>
<path color="#2f81fa" d="M392 575.8l13.7-8-8.8-2.6-13.7 7.9z"/>
<path color="#317efb" d="M378.4 583.6l13.6-7.8-8.8-2.7-13.6 7.6z"/>
<path color="#337bfd" d="M364.7 591l13.7-7.4-8.8-2.9-13.7 7.3z"/>
<path color="#3678fd" d="M351 598.1l13.7-7.1-8.8-3-13.6 6.9z"/>
<path color="#3876fe" d="M337.4 604.6l13.6-6.5-8.7-3.2-13.7 6.4z"/>
<path color="#3a74fe" d="M323.7 610.6l13.7-6-8.8-3.3-13.7 5.8z"/>
<path color="#3b72fe" d="M310 615.9l13.7-5.3-8.8-3.5-13.6 5.1z"/>
<path color="#3c72ff" d="M296.4 620.6l13.6-4.7-8.7-3.7-13.7 4.5z"/>
<path color="#3c71ff" d="M282.7 624.9l13.7-4.3-8.8-3.9-13.7 4.2z"/>
<path color="#3d71ff" d="M269.1 628.9l13.6-4-8.8-4-13.6 3.7z"/>
<path color="#3d71ff" d="M255.4 632.7l13.7-3.8-8.8-4.3-13.7 3.6z"/>
<path color="#3d71ff" d="M241.7 636.5l13.7-3.8-8.8-4.5-13.6 3.5z"/>
<path color="#3d71ff" d="M228.1 640.6l13.6-4.1-8.7-4.8-13.7 3.8z"/>
<path color="#8ccb50" d="M906.2 232.8l6.9-4.2-8.8 2.1-6.8 4.2z"/>
<path color="#86cb55" d="M892.6 241.2l13.6-8.4-8.7 2.1-13.7 8.1z"/>
<path color="#7ecc5b" d="M878.9 249.5l13.7-8.3-8.8 1.8-13.7 8.1z"/>
<path color="#75cc61" d="M865.3 257.9l13.6-8.4-8.8 1.6-13.6 8.3z"/>
<path color="#6dcd68" d="M851.6 266.6l13.7-8.7-8.8 1.5-13.7 8.5z"/>
<path color="#64cd6f" d="M837.9 275.4l13.7-8.8-8.8 1.3-13.6 8.7z"/>
<path color="#5ccc76" d="M824.3 284.3l13.6-8.9-8.7 1.2-13.7 8.9z"/>
<path color="#53cc7d" d="M810.6 293.5l13.7-9.2-8.8 1.2-13.7 9.1z"/>
<path color="#4acb84" d="M797 302.8l13.6-9.3-8.8 1.1-13.6 9.2z"/>
<path color="#42ca8b" d="M783.3 312.2l13.7-9.4-8.8 1-13.7 9.3z"/>
<path color="#3cc992" d="M769.6 321.7l13.7-9.5-8.8 0.9-13.6 9.4z"/>
<path color="#36c898" d="M756 331.3l13.6-9.6-8.7 0.8-13.7 9.5z"/>
<path color="#32c69e" d="M742.3 341l13.7-9.7-8.8 0.7-13.7 9.5z"/>
<path color="#2ec4a4" d="M728.6 350.7l13.7-9.7-8.8 0.5-13.6 9.6z"/>
<path color="#29c3aa" d="M715 360.5l13.6-9.8-8.7 0.4-13.7 9.6z"/>
<path color="#23c1af" d="M701.3 370.3l13.7-9.8-8.8 0.2-13.7 9.7z"/>
<path color="#1ac0b5" d="M687.7 380.2l13.6-9.9-8.8 0.1-13.6 9.7z"/>
<path color="#10beba" d="M674 390.2l13.7-10-8.8-0.1-13.7 9.9z"/>
<path color="#07bcc0" d="M660.3 400.3l13.7-10.1-8.8-0.2-13.6 9.9z"/>
<path color="#02bac5" d="M646.7 410.4l13.6-10.1-8.7-0.4-13.7 10.1z"/>
<path color="#01b8ca" d="M633 420.6l13.7-10.2-8.8-0.4-13.7 10.1z"/>
<path color="#07b5cf" d="M619.4 430.7l13.6-10.1-8.8-0.5-13.6 10.1z"/>
<path color="#0eb2d4" d="M605.7 440.9l13.7-10.2-8.8-0.5-13.7 10z"/>
<path color="#15afd8" d="M592 450.9l13.7-10-8.8-0.7-13.6 10z"/>
<path color="#19acdc" d="M578.4 460.9l13.6-10-8.7-0.7-13.7 9.8z"/>
<path color="#1ca9df" d="M564.7 470.7l13.7-9.8-8.8-0.9-13.7 9.7z"/>
<path color="#1fa6e2" d="M551.1 480.4l13.6-9.7-8.8-1-13.6 9.6z"/>
<path color="#21a2e4" d="M537.4 489.9l13.7-9.5-8.8-1.1-13.7 9.3z"/>
<path color="#249fe5" d="M523.7 499.3l13.7-9.4-8.8-1.3-13.6 9.3z"/>
<path color="#259ce7" d="M510.1 508.6l13.6-9.3-8.7-1.4-13.7 9.2z"/>
<path color="#2698ea" d="M496.4 517.8l13.7-9.2-8.8-1.5-13.7 9z"/>
<path color="#2895ec" d="M482.8 526.9l13.6-9.1-8.8-1.7-13.6 9z"/>
<path color="#2b92ee" d="M469.1 535.9l13.7-9-8.8-1.8-13.7 8.8z"/>
<path color="#2c8ef1" d="M455.4 544.8l13.7-8.9-8.8-2-13.6 8.7z"/>
<path color="#2d8bf4" d="M441.8 553.5l13.6-8.7-8.7-2.2-13.7 8.6z"/>
<path color="#2d88f6" d="M428.1 562l13.7-8.5-8.8-2.3-13.7 8.4z"/>
<path color="#2e85f8" d="M414.4 570.3l13.7-8.3-8.8-2.4-13.6 8.2z"/>
<path color="#2f82fa" d="M400.8 578.5l13.6-8.2-8.7-2.5-13.7 8z"/>
<path color="#307ffb" d="M387.1 586.4l13.7-7.9-8.8-2.7-13.6 7.8z"/>
<path color="#327cfc" d="M373.5 593.9l13.6-7.5-8.7-2.8-13.7 7.4z"/>
<path color="#3579fd" d="M359.8 601.1l13.7-7.2-8.8-2.9-13.7 7.1z"/>
<path color="#3776fe" d="M346.1 607.8l13.7-6.7-8.8-3-13.6 6.5z"/>
<path color="#3974fe" d="M332.5 613.9l13.6-6.1-8.7-3.2-13.7 6z"/>
<path color="#3b73fe" d="M318.8 619.4l13.7-5.5-8.8-3.3-13.7 5.3z"/>
<path color="#3c72ff" d="M305.2 624.4l13.6-5-8.8-3.5-13.6 4.7z"/>
<path color="#3c71ff" d="M291.5 628.9l13.7-4.5-8.8-3.8-13.7 4.3z"/>
<path color="#3d71ff" d="M277.8 633.2l13.7-4.3-8.8-4-13.6 4z"/>
<path color="#3d71ff" d="M264.2 637.2l13.6-4-8.7-4.3-13.7 3.8z"/>
<path color="#3d70ff" d="M250.5 641.3l13.7-4.1-8.8-4.5-13.7 3.8z"/>
<path color="#3d70ff" d="M236.9 645.7l13.6-4.4-8.8-4.8-13.6 4.1z"/>
<path color="#98ca47" d="M915 230.5l6.8-4.3-8.7 2.4-6.9 4.2z"/>
<path color="#91ca4c" d="M901.4 239l13.6-8.5-8.8 2.3-13.6 8.4z"/>
<path color="#89cb52" d="M887.7 247.5l13.7-8.5-8.8 2.2-13.7 8.3z"/>
<path color="#80cc59" d="M874 256.2l13.7-8.7-8.8 2-13.6 8.4z"/>
<path color="#77cc60" d="M860.4 264.9l13.6-8.7-8.7 1.7-13.7 8.7z"/>
<path color="#6ecd67" d="M846.7 273.8l13.7-8.9-8.8 1.7-13.7 8.8z"/>
<path color="#65cd6e" d="M833 282.9l13.7-9.1-8.8 1.6-13.6 8.9z"/>
<path color="#5ccc76" d="M819.4 292.2l13.6-9.3-8.7 1.4-13.7 9.2z"/>
<path color="#53cc7d" d="M805.7 301.6l13.7-9.4-8.8 1.3-13.6 9.3z"/>
<path color="#4acb85" d="M792.1 311.2l13.6-9.6-8.7 1.2-13.7 9.4z"/>
<path color="#42ca8c" d="M778.4 320.8l13.7-9.6-8.8 1-13.7 9.5z"/>
<path color="#3bc993" d="M764.7 330.6l13.7-9.8-8.8 0.9-13.6 9.6z"/>
<path color="#36c799" d="M751.1 340.4l13.6-9.8-8.7 0.7-13.7 9.7z"/>
<path color="#31c6a0" d="M737.4 350.2l13.7-9.8-8.8 0.6-13.7 9.7z"/>
<path color="#2dc4a6" d="M723.8 360.1l13.6-9.9-8.8 0.5-13.6 9.8z"/>
<path color="#27c2ab" d="M710.1 370.1l13.7-10-8.8 0.4-13.7 9.8z"/>
<path color="#20c1b1" d="M696.4 380.2l13.7-10.1-8.8 0.2-13.6 9.9z"/>
<path color="#17bfb7" d="M682.8 390.3l13.6-10.1-8.7 0-13.7 10z"/>
<path color="#0cbdbc" d="M669.1 400.5l13.7-10.2-8.8-0.1-13.7 10.1z"/>
<path color="#04bbc2" d="M655.5 410.7l13.6-10.2-8.8-0.2-13.6 10.1z"/>
<path color="#01b9c7" d="M641.8 421l13.7-10.3-8.8-0.3-13.7 10.2z"/>
<path color="#04b6cc" d="M628.1 431.2l13.7-10.2-8.8-0.4-13.6 10.1z"/>
<path color="#0ab4d1" d="M614.5 441.5l13.6-10.3-8.7-0.5-13.7 10.2z"/>
<path color="#12b1d6" d="M600.8 451.6l13.7-10.1-8.8-0.6-13.7 10z"/>
<path color="#17aeda" d="M587.2 461.6l13.6-10-8.8-0.7-13.6 10z"/>
<path color="#1babde" d="M573.5 471.6l13.7-10-8.8-0.7-13.7 9.8z"/>
<path color="#1ea8e1" d="M559.8 481.4l13.7-9.8-8.8-0.9-13.6 9.7z"/>
<path color="#20a4e3" d="M546.2 491.1l13.6-9.7-8.7-1-13.7 9.5z"/>
<path color="#23a1e4" d="M532.5 500.7l13.7-9.6-8.8-1.2-13.7 9.4z"/>
<path color="#249de6" d="M518.9 510.1l13.6-9.4-8.8-1.4-13.6 9.3z"/>
<path color="#269ae9" d="M505.2 519.5l13.7-9.4-8.8-1.5-13.7 9.2z"/>
<path color="#2797eb" d="M491.5 528.7l13.7-9.2-8.8-1.7-13.6 9.1z"/>
<path color="#2a93ed" d="M477.9 537.8l13.6-9.1-8.7-1.8-13.7 9z"/>
<path color="#2c90f0" d="M464.2 546.8l13.7-9-8.8-1.9-13.7 8.9z"/>
<path color="#2d8cf3" d="M450.5 555.6l13.7-8.8-8.8-2-13.6 8.7z"/>
<path color="#2d89f5" d="M436.9 564.3l13.6-8.7-8.7-2.1-13.7 8.5z"/>
<path color="#2e86f7" d="M423.2 572.8l13.7-8.5-8.8-2.3-13.7 8.3z"/>
<path color="#2e83f9" d="M409.6 581l13.6-8.2-8.8-2.5-13.6 8.2z"/>
<path color="#3080fb" d="M395.9 589l13.7-8-8.8-2.5-13.7 7.9z"/>
<path color="#317dfc" d="M382.2 596.7l13.7-7.7-8.8-2.6-13.6 7.5z"/>
<path color="#347afd" d="M368.6 604l13.6-7.3-8.7-2.8-13.7 7.2z"/>
<path color="#3677fe" d="M354.9 610.8l13.7-6.8-8.8-2.9-13.7 6.7z"/>
<path color="#3875fe" d="M341.3 617.2l13.6-6.4-8.8-3-13.6 6.1z"/>
<path color="#3a73fe" d="M327.6 622.9l13.7-5.7-8.8-3.3-13.7 5.5z"/>
<path color="#3b72ff" d="M313.9 628.2l13.7-5.3-8.8-3.5-13.6 5z"/>
<path color="#3c71ff" d="M300.3 633l13.6-4.8-8.7-3.8-13.7 4.5z"/>
<path color="#3d71ff" d="M286.6 637.5l13.7-4.5-8.8-4.1-13.7 4.3z"/>
<path color="#3d70ff" d="M273 641.8l13.6-4.3-8.8-4.3-13.6 4z"/>
<path color="#3d70ff" d="M259.3 646.2l13.7-4.4-8.8-4.6-13.7 4.1z"/>
<path color="#3e6fff" d="M245.6 650.8l13.7-4.6-8.8-4.9-13.6 4.4z"/>
<path color="#a3c83e" d="M923.8 227.9l6.8-4.3-8.8 2.6-6.8 4.3z"/>
<path color="#9dc943" d="M910.1 236.6l13.7-8.7-8.8 2.6-13.6 8.5z"/>
<path color="#94ca4a" d="M896.5 245.3l13.6-8.7-8.7 2.4-13.7 8.5z"/>
<path color="#8bcb51" d="M882.8 254.1l13.7-8.8-8.8 2.2-13.7 8.7z"/>
<path color="#82cc58" d="M869.1 263l13.7-8.9-8.8 2.1-13.6 8.7z"/>
<path color="#78cc5f" d="M855.5 272.1l13.6-9.1-8.7 1.9-13.7 8.9z"/>
<path color="#6ecd66" d="M841.8 281.4l13.7-9.3-8.8 1.7-13.7 9.1z"/>
<path color="#65cd6e" d="M828.2 290.8l13.6-9.4-8.8 1.5-13.6 9.3z"/>
<path color="#5bcc76" d="M814.5 300.3l13.7-9.5-8.8 1.4-13.7 9.4z"/>
<path color="#52cc7e" d="M800.8 310l13.7-9.7-8.8 1.3-13.6 9.6z"/>
<path color="#49cb85" d="M787.2 319.8l13.6-9.8-8.7 1.2-13.7 9.6z"/>
<path color="#40ca8d" d="M773.5 329.7l13.7-9.9-8.8 1-13.7 9.8z"/>
<path color="#3ac994" d="M759.9 339.7l13.6-10-8.8 0.9-13.6 9.8z"/>
<path color="#35c79b" d="M746.2 349.7l13.7-10-8.8 0.7-13.7 9.8z"/>
<path color="#30c5a1" d="M732.5 359.8l13.7-10.1-8.8 0.5-13.6 9.9z"/>
<path color="#2cc4a7" d="M718.9 369.9l13.6-10.1-8.7 0.3-13.7 10z"/>
<path color="#25c2ad" d="M705.2 380.1l13.7-10.2-8.8 0.2-13.7 10.1z"/>
<path color="#1dc0b3" d="M691.6 390.4l13.6-10.3-8.8 0.1-13.6 10.1z"/>
<path color="#12beb9" d="M677.9 400.7l13.7-10.3-8.8-0.1-13.7 10.2z"/>
<path color="#08bcbe" d="M664.2 411l13.7-10.3-8.8-0.2-13.6 10.2z"/>
<path color="#02bac4" d="M650.6 421.4l13.6-10.4-8.7-0.3-13.7 10.3z"/>
<path color="#01b8c9" d="M636.9 431.7l13.7-10.3-8.8-0.4-13.7 10.2z"/>
<path color="#06b5cf" d="M623.3 442l13.6-10.3-8.8-0.5-13.6 10.3z"/>
<path color="#0db3d4" d="M609.6 452.2l13.7-10.2-8.8-0.5-13.7 10.1z"/>
<path color="#14b0d8" d="M595.9 462.4l13.7-10.2-8.8-0.6-13.6 10z"/>
<path color="#19addc" d="M582.3 472.4l13.6-10-8.7-0.8-13.7 10z"/>
<path color="#1ca9df" d="M568.6 482.4l13.7-10-8.8-0.8-13.7 9.8z"/>
<path color="#1fa6e2" d="M554.9 492.2l13.7-9.8-8.8-1-13.6 9.7z"/>
<path color="#21a2e4" d="M541.3 501.9l13.6-9.7-8.7-1.1-13.7 9.6z"/>
<path color="#249fe5" d="M527.6 511.5l13.7-9.6-8.8-1.2-13.6 9.4z"/>
<path color="#259ce7" d="M514 521l13.6-9.5-8.7-1.4-13.7 9.4z"/>
<path color="#2798ea" d="M500.3 530.4l13.7-9.4-8.8-1.5-13.7 9.2z"/>
<path color="#2995ec" d="M486.6 539.6l13.7-9.2-8.8-1.7-13.6 9.1z"/>
<path color="#2b91ef" d="M473 548.7l13.6-9.1-8.7-1.8-13.7 9z"/>
<path color="#2c8ef2" d="M459.3 557.7l13.7-9-8.8-1.9-13.7 8.8z"/>
<path color="#2d8af4" d="M445.7 566.5l13.6-8.8-8.8-2.1-13.6 8.7z"/>
<path color="#2e87f7" d="M432 575.1l13.7-8.6-8.8-2.2-13.7 8.5z"/>
<path color="#2e84f9" d="M418.3 583.5l13.7-8.4-8.8-2.3-13.6 8.2z"/>
<path color="#2f81fa" d="M404.7 591.6l13.6-8.1-8.7-2.5-13.7 8z"/>
<path color="#317efb" d="M391 599.4l13.7-7.8-8.8-2.6-13.7 7.7z"/>
<path color="#337bfc" d="M377.4 606.8l13.6-7.4-8.8-2.7-13.6 7.3z"/>
<path color="#3578fd" d="M363.7 613.9l13.7-7.1-8.8-2.8-13.7 6.8z"/>
<path color="#3876fe" d="M350 620.4l13.7-6.5-8.8-3.1-13.6 6.4z"/>
<path color="#3a74fe" d="M336.4 626.4l13.6-6-8.7-3.2-13.7 5.7z"/>
<path color="#3b72fe" d="M322.7 631.9l13.7-5.5-8.8-3.5-13.7 5.3z"/>
<path color="#3c71ff" d="M309.1 637l13.6-5.1-8.8-3.7-13.6 4.8z"/>
<path color="#3d71ff" d="M295.4 641.8l13.7-4.8-8.8-4-13.7 4.5z"/>
<path color="#3d70ff" d="M281.7 646.4l13.7-4.6-8.8-4.3-13.6 4.3z"/>
<path color="#3e6fff" d="M268.1 651.1l13.6-4.7-8.7-4.6-13.7 4.4z"/>
<path color="#3f6fff" d="M254.4 656l13.7-4.9-8.8-4.9-13.7 4.6z"/>
<path color="#afc636" d="M932.6 225.1l6.8-4.5-8.8 3-6.8 4.3z"/>
<path color="#a9c73a" d="M918.9 233.9l13.7-8.8-8.8 2.8-13.7 8.7z"/>
<path color="#a0c841" d="M905.2 242.8l13.7-8.9-8.8 2.7-13.6 8.7z"/>
<path color="#97ca48" d="M891.6 251.8l13.6-9-8.7 2.5-13.7 8.8z"/>
<path color="#8ecb4f" d="M877.9 260.9l13.7-9.1-8.8 2.3-13.7 8.9z"/>
<path color="#84cc56" d="M864.3 270.2l13.6-9.3-8.8 2.1-13.6 9.1z"/>
<path color="#79cc5e" d="M850.6 279.6l13.7-9.4-8.8 1.9-13.7 9.3z"/>
<path color="#6fcd66" d="M836.9 289.2l13.7-9.6-8.8 1.8-13.6 9.4z"/>
<path color="#64cd6e" d="M823.3 298.9l13.6-9.7-8.7 1.6-13.7 9.5z"/>
<path color="#5bcc77" d="M809.6 308.8l13.7-9.9-8.8 1.4-13.7 9.7z"/>
<path color="#51cc7f" d="M796 318.8l13.6-10-8.8 1.2-13.6 9.8z"/>
<path color="#47cb87" d="M782.3 328.8l13.7-10-8.8 1-13.7 9.9z"/>
<path color="#3fca8e" d="M768.6 338.9l13.7-10.1-8.8 0.9-13.6 10z"/>
<path color="#38c896" d="M755 349.1l13.6-10.2-8.7 0.8-13.7 10z"/>
<path color="#33c79c" d="M741.3 359.4l13.7-10.3-8.8 0.6-13.7 10.1z"/>
<path color="#2fc5a3" d="M727.7 369.6l13.6-10.2-8.8 0.4-13.6 10.1z"/>
<path color="#2ac3a9" d="M714 380l13.7-10.4-8.8 0.3-13.7 10.2z"/>
<path color="#23c1af" d="M700.3 390.4l13.7-10.4-8.8 0.1-13.6 10.3z"/>
<path color="#19bfb5" d="M686.7 400.8l13.6-10.4-8.7 0-13.7 10.3z"/>
<path color="#0ebdbb" d="M673 411.2l13.7-10.4-8.8-0.1-13.7 10.3z"/>
<path color="#05bbc1" d="M659.3 421.7l13.7-10.5-8.8-0.2-13.6 10.4z"/>
<path color="#01b9c6" d="M645.7 432.1l13.6-10.4-8.7-0.3-13.7 10.3z"/>
<path color="#03b7cc" d="M632 442.5l13.7-10.4-8.8-0.4-13.6 10.3z"/>
<path color="#09b4d1" d="M618.4 452.9l13.6-10.4-8.7-0.5-13.7 10.2z"/>
<path color="#11b1d6" d="M604.7 463.1l13.7-10.2-8.8-0.7-13.7 10.2z"/>
<path color="#17aeda" d="M591 473.3l13.7-10.2-8.8-0.7-13.6 10z"/>
<path color="#1babde" d="M577.4 483.3l13.6-10-8.7-0.9-13.7 10z"/>
<path color="#1ea8e1" d="M563.7 493.3l13.7-10-8.8-0.9-13.7 9.8z"/>
<path color="#20a4e3" d="M550.1 503.1l13.6-9.8-8.8-1.1-13.6 9.7z"/>
<path color="#23a1e5" d="M536.4 512.9l13.7-9.8-8.8-1.2-13.7 9.6z"/>
<path color="#249de7" d="M522.7 522.5l13.7-9.6-8.8-1.4-13.6 9.5z"/>
<path color="#269ae9" d="M509.1 532l13.6-9.5-8.7-1.5-13.7 9.4z"/>
<path color="#2896eb" d="M495.4 541.4l13.7-9.4-8.8-1.6-13.7 9.2z"/>
<path color="#2a93ee" d="M481.8 550.6l13.6-9.2-8.8-1.8-13.6 9.1z"/>
<path color="#2c8ff0" d="M468.1 559.7l13.7-9.1-8.8-1.9-13.7 9z"/>
<path color="#2d8cf3" d="M454.4 568.6l13.7-8.9-8.8-2-13.6 8.8z"/>
<path color="#2d88f6" d="M440.8 577.3l13.6-8.7-8.7-2.1-13.7 8.6z"/>
<path color="#2e85f8" d="M427.1 585.8l13.7-8.5-8.8-2.2-13.7 8.4z"/>
<path color="#2f82fa" d="M413.5 594.1l13.6-8.3-8.8-2.3-13.6 8.1z"/>
<path color="#307ffb" d="M399.8 602l13.7-7.9-8.8-2.5-13.7 7.8z"/>
<path color="#327cfc" d="M386.1 609.6l13.7-7.6-8.8-2.6-13.6 7.4z"/>
<path color="#3579fd" d="M372.5 616.8l13.6-7.2-8.7-2.8-13.7 7.1z"/>
<path color="#3777fe" d="M358.8 623.6l13.7-6.8-8.8-2.9-13.7 6.5z"/>
<path color="#3975fe" d="M345.2 629.9l13.6-6.3-8.8-3.2-13.6 6z"/>
<path color="#3b73fe" d="M331.5 635.7l13.7-5.8-8.8-3.5-13.7 5.5z"/>
<path color="#3c72ff" d="M317.8 641.1l13.7-5.4-8.8-3.8-13.6 5.1z"/>
<path color="#3d70ff" d="M304.2 646.1l13.6-5-8.7-4.1-13.7 4.8z"/>
<path color="#3e70ff" d="M290.5 651.1l13.7-5-8.8-4.3-13.7 4.6z"/>
<path color="#3e6fff" d="M276.8 656l13.7-4.9-8.8-4.7-13.6 4.7z"/>
<path color="#3f6eff" d="M263.2 661.2l13.6-5.2-8.7-4.9-13.7 4.9z"/>
<path color="#bbc42f" d="M941.3 221.9l6.9-4.5-8.8 3.2-6.8 4.5z"/>
<path color="#b5c533" d="M927.7 231l13.6-9.1-8.7 3.2-13.7 8.8z"/>
<path color="#acc738" d="M914 240l13.7-9-8.8 2.9-13.7 8.9z"/>
<path color="#a3c83f" d="M900.4 249.2l13.6-9.2-8.8 2.8-13.6 9z"/>
<path color="#99c946" d="M886.7 258.6l13.7-9.4-8.8 2.6-13.7 9.1z"/>
<path color="#8fcb4e" d="M873 268.1l13.7-9.5-8.8 2.3-13.6 9.3z"/>
<path color="#85cb56" d="M859.4 277.7l13.6-9.6-8.7 2.1-13.7 9.4z"/>
<path color="#7acc5e" d="M845.7 287.5l13.7-9.8-8.8 1.9-13.7 9.6z"/>
<path color="#6ecd66" d="M832.1 297.4l13.6-9.9-8.8 1.7-13.6 9.7z"/>
<path color="#64cd6f" d="M818.4 307.5l13.7-10.1-8.8 1.5-13.7 9.9z"/>
<path color="#59cc78" d="M804.7 317.6l13.7-10.1-8.8 1.3-13.6 10z"/>
<path color="#4fcc80" d="M791.1 327.8l13.6-10.2-8.7 1.2-13.7 10z"/>
<path color="#46cb88" d="M777.4 338.1l13.7-10.3-8.8 1-13.7 10.1z"/>
<path color="#3dc990" d="M763.8 348.5l13.6-10.4-8.8 0.8-13.6 10.2z"/>
<path color="#37c898" d="M750.1 358.9l13.7-10.4-8.8 0.6-13.7 10.3z"/>
<path color="#32c69f" d="M736.4 369.3l13.7-10.4-8.8 0.5-13.6 10.2z"/>
<path color="#2dc4a5" d="M722.8 379.8l13.6-10.5-8.7 0.3-13.7 10.4z"/>
<path color="#27c2ab" d="M709.1 390.4l13.7-10.6-8.8 0.2-13.7 10.4z"/>
<path color="#1fc0b2" d="M695.4 400.9l13.7-10.5-8.8 0-13.6 10.4z"/>
<path color="#15bfb8" d="M681.8 411.4l13.6-10.5-8.7-0.1-13.7 10.4z"/>
<path color="#0abdbe" d="M668.1 422l13.7-10.6-8.8-0.2-13.7 10.5z"/>
<path color="#02bac3" d="M654.5 432.5l13.6-10.5-8.8-0.3-13.6 10.4z"/>
<path color="#01b8c9" d="M640.8 443l13.7-10.5-8.8-0.4-13.7 10.4z"/>
<path color="#06b6ce" d="M627.1 453.5l13.7-10.5-8.8-0.5-13.6 10.4z"/>
<path color="#0db3d3" d="M613.5 463.8l13.6-10.3-8.7-0.6-13.7 10.2z"/>
<path color="#14b0d8" d="M599.8 474.1l13.7-10.3-8.8-0.7-13.7 10.2z"/>
<path color="#19addc" d="M586.2 484.3l13.6-10.2-8.8-0.8-13.6 10z"/>
<path color="#1ca9df" d="M572.5 494.4l13.7-10.1-8.8-1-13.7 10z"/>
<path color="#1fa6e2" d="M558.8 504.3l13.7-9.9-8.8-1.1-13.6 9.8z"/>
<path color="#22a2e4" d="M545.2 514.2l13.6-9.9-8.7-1.2-13.7 9.8z"/>
<path color="#249fe6" d="M531.5 523.9l13.7-9.7-8.8-1.3-13.7 9.6z"/>
<path color="#259be8" d="M517.9 533.6l13.6-9.7-8.8-1.4-13.6 9.5z"/>
<path color="#2798ea" d="M504.2 543.1l13.7-9.5-8.8-1.6-13.7 9.4z"/>
<path color="#2994ed" d="M490.5 552.4l13.7-9.3-8.8-1.7-13.6 9.2z"/>
<path color="#2b91ef" d="M476.9 561.6l13.6-9.2-8.7-1.8-13.7 9.1z"/>
<path color="#2d8df2" d="M463.2 570.7l13.7-9.1-8.8-1.9-13.7 8.9z"/>
<path color="#2d8af5" d="M449.6 579.5l13.6-8.8-8.8-2.1-13.6 8.7z"/>
<path color="#2e86f7" d="M435.9 588.1l13.7-8.6-8.8-2.2-13.7 8.5z"/>
<path color="#2e83f9" d="M422.2 596.5l13.7-8.4-8.8-2.3-13.6 8.3z"/>
<path color="#3080fa" d="M408.6 604.6l13.6-8.1-8.7-2.4-13.7 7.9z"/>
<path color="#317dfc" d="M394.9 612.3l13.7-7.7-8.8-2.6-13.7 7.6z"/>
<path color="#347afd" d="M381.2 619.7l13.7-7.4-8.8-2.7-13.6 7.2z"/>
<path color="#3677fe" d="M367.6 626.7l13.6-7-8.7-2.9-13.7 6.8z"/>
<path color="#3875fe" d="M353.9 633.3l13.7-6.6-8.8-3.1-13.6 6.3z"/>
<path color="#3a73fe" d="M340.3 639.4l13.6-6.1-8.7-3.4-13.7 5.8z"/>
<path color="#3c72ff" d="M326.6 645.1l13.7-5.7-8.8-3.7-13.7 5.4z"/>
<path color="#3d70ff" d="M312.9 650.5l13.7-5.4-8.8-4-13.6 5z"/>
<path color="#3e6fff" d="M299.3 655.7l13.6-5.2-8.7-4.4-13.7 5z"/>
<path color="#3f6eff" d="M285.6 661l13.7-5.3-8.8-4.6-13.7 4.9z"/>
<path color="#406dfe" d="M272 666.4l13.6-5.4-8.8-5-13.6 5.2z"/>
<path color="#c7c12a" d="M950.1 218.6l6.8-4.7-8.7 3.5-6.9 4.5z"/>
<path color="#c1c32c" d="M936.5 227.8l13.6-9.2-8.8 3.3-13.6 9.1z"/>
<path color="#b8c431" d="M922.8 237.1l13.7-9.3-8.8 3.2-13.7 9z"/>
<path color="#afc637" d="M909.1 246.5l13.7-9.4-8.8 2.9-13.6 9.2z"/>
<path color="#a5c83d" d="M895.5 256.1l13.6-9.6-8.7 2.7-13.7 9.4z"/>
<path color="#9bc945" d="M881.8 265.8l13.7-9.7-8.8 2.5-13.7 9.5z"/>
<path color="#90ca4d" d="M868.2 275.7l13.6-9.9-8.8 2.3-13.6 9.6z"/>
<path color="#85cb56" d="M854.5 285.7l13.7-10-8.8 2-13.7 9.8z"/>
<path color="#79cc5e" d="M840.8 295.9l13.7-10.2-8.8 1.8-13.6 9.9z"/>
<path color="#6dcd67" d="M827.2 306.1l13.6-10.2-8.7 1.5-13.7 10.1z"/>
<path color="#62cd70" d="M813.5 316.5l13.7-10.4-8.8 1.4-13.7 10.1z"/>
<path color="#58cc7a" d="M799.8 326.9l13.7-10.4-8.8 1.1-13.6 10.2z"/>
<path color="#4dcc82" d="M786.2 337.3l13.6-10.4-8.7 0.9-13.7 10.3z"/>
<path color="#43ca8a" d="M772.5 347.9l13.7-10.6-8.8 0.8-13.6 10.4z"/>
<path color="#3bc992" d="M758.9 358.4l13.6-10.5-8.7 0.6-13.7 10.4z"/>
<path color="#35c79a" d="M745.2 369l13.7-10.6-8.8 0.5-13.7 10.4z"/>
<path color="#30c5a1" d="M731.5 379.7l13.7-10.7-8.8 0.3-13.6 10.5z"/>
<path color="#2bc3a8" d="M717.9 390.3l13.6-10.6-8.7 0.1-13.7 10.6z"/>
<path color="#24c2ae" d="M704.2 401l13.7-10.7-8.8 0.1-13.7 10.5z"/>
<path color="#1bc0b4" d="M690.6 411.7l13.6-10.7-8.8-0.1-13.6 10.5z"/>
<path color="#10beba" d="M676.9 422.3l13.7-10.6-8.8-0.3-13.7 10.6z"/>
<path color="#06bcc0" d="M663.2 432.9l13.7-10.6-8.8-0.3-13.6 10.5z"/>
<path color="#01b9c6" d="M649.6 443.5l13.6-10.6-8.7-0.4-13.7 10.5z"/>
<path color="#03b7cb" d="M635.9 454.1l13.7-10.6-8.8-0.5-13.7 10.5z"/>
<path color="#09b4d1" d="M622.3 464.5l13.6-10.4-8.8-0.6-13.6 10.3z"/>
<path color="#11b1d6" d="M608.6 474.9l13.7-10.4-8.8-0.7-13.7 10.3z"/>
<path color="#17aeda" d="M594.9 485.2l13.7-10.3-8.8-0.8-13.6 10.2z"/>
<path color="#1babde" d="M581.3 495.4l13.6-10.2-8.7-0.9-13.7 10.1z"/>
<path color="#1ea7e1" d="M567.6 505.5l13.7-10.1-8.8-1-13.7 9.9z"/>
<path color="#20a4e3" d="M554 515.5l13.6-10-8.8-1.2-13.6 9.9z"/>
<path color="#23a0e5" d="M540.3 525.4l13.7-9.9-8.8-1.3-13.7 9.7z"/>
<path color="#259de7" d="M526.6 535.1l13.7-9.7-8.8-1.5-13.6 9.7z"/>
<path color="#2699e9" d="M513 544.7l13.6-9.6-8.7-1.5-13.7 9.5z"/>
<path color="#2896ec" d="M499.3 554.2l13.7-9.5-8.8-1.6-13.7 9.3z"/>
<path color="#2b92ee" d="M485.7 563.5l13.6-9.3-8.8-1.8-13.6 9.2z"/>
<path color="#2c8ef1" d="M472 572.7l13.7-9.2-8.8-1.9-13.7 9.1z"/>
<path color="#2d8bf4" d="M458.3 581.6l13.7-8.9-8.8-2-13.6 8.8z"/>
<path color="#2d88f6" d="M444.7 590.4l13.6-8.8-8.7-2.1-13.7 8.6z"/>
<path color="#2e84f8" d="M431 598.9l13.7-8.5-8.8-2.3-13.7 8.4z"/>
<path color="#2f81fa" d="M417.3 607.1l13.7-8.2-8.8-2.4-13.6 8.1z"/>
<path color="#317efb" d="M403.7 615l13.6-7.9-8.7-2.5-13.7 7.7z"/>
<path color="#337bfc" d="M390 622.6l13.7-7.6-8.8-2.7-13.7 7.4z"/>
<path color="#3578fd" d="M376.4 629.8l13.6-7.2-8.8-2.9-13.6 7z"/>
<path color="#3876fe" d="M362.7 636.7l13.7-6.9-8.8-3.1-13.7 6.6z"/>
<path color="#3a74fe" d="M349 643.1l13.7-6.4-8.8-3.4-13.6 6.1z"/>
<path color="#3c72ff" d="M335.4 649l13.6-5.9-8.7-3.7-13.7 5.7z"/>
<path color="#3d70ff" d="M321.7 654.7l13.7-5.7-8.8-3.9-13.7 5.4z"/>
<path color="#3e6fff" d="M308.1 660.3l13.6-5.6-8.8-4.2-13.6 5.2z"/>
<path color="#3f6efe" d="M294.4 665.9l13.7-5.6-8.8-4.6-13.7 5.3z"/>
<path color="#406cfe" d="M280.7 671.7l13.7-5.8-8.8-4.9-13.6 5.4z"/>
<path color="#d2bf27" d="M958.9 215.1l6.8-4.7-8.8 3.5-6.8 4.7z"/>
<path color="#ccc028" d="M945.2 224.5l13.7-9.4-8.8 3.5-13.6 9.2z"/>
<path color="#c4c22b" d="M931.6 234l13.6-9.5-8.7 3.3-13.7 9.3z"/>
<path color="#bac430" d="M917.9 243.7l13.7-9.7-8.8 3.1-13.7 9.4z"/>
<path color="#b1c636" d="M904.3 253.5l13.6-9.8-8.8 2.8-13.6 9.6z"/>
<path color="#a6c83c" d="M890.6 263.5l13.7-10-8.8 2.6-13.7 9.7z"/>
<path color="#9bc944" d="M876.9 273.6l13.7-10.1-8.8 2.3-13.6 9.9z"/>
<path color="#90ca4d" d="M863.3 283.9l13.6-10.3-8.7 2.1-13.7 10z"/>
<path color="#84cc56" d="M849.6 294.3l13.7-10.4-8.8 1.8-13.7 10.2z"/>
<path color="#78cc5f" d="M835.9 304.7l13.7-10.4-8.8 1.6-13.6 10.2z"/>
<path color="#6bcd69" d="M822.3 315.3l13.6-10.6-8.7 1.4-13.7 10.4z"/>
<path color="#60cd72" d="M808.6 325.9l13.7-10.6-8.8 1.2-13.7 10.4z"/>
<path color="#55cc7c" d="M795 336.6l13.6-10.7-8.8 1-13.6 10.4z"/>
<path color="#4acb85" d="M781.3 347.3l13.7-10.7-8.8 0.7-13.7 10.6z"/>
<path color="#40ca8d" d="M767.6 358l13.7-10.7-8.8 0.6-13.6 10.5z"/>
<path color="#39c895" d="M754 368.8l13.6-10.8-8.7 0.4-13.7 10.6z"/>
<path color="#33c79c" d="M740.3 379.5l13.7-10.7-8.8 0.2-13.7 10.7z"/>
<path color="#2ec5a3" d="M726.7 390.3l13.6-10.8-8.8 0.2-13.6 10.6z"/>
<path color="#29c3aa" d="M713 401.1l13.7-10.8-8.8 0-13.7 10.7z"/>
<path color="#21c1b1" d="M699.3 411.9l13.7-10.8-8.8-0.1-13.6 10.7z"/>
<path color="#16bfb7" d="M685.7 422.7l13.6-10.8-8.7-0.2-13.7 10.6z"/>
<path color="#0abdbd" d="M672 433.4l13.7-10.7-8.8-0.4-13.7 10.6z"/>
<path color="#02bbc3" d="M658.4 444.1l13.6-10.7-8.8-0.5-13.6 10.6z"/>
<path color="#01b8c9" d="M644.7 454.7l13.7-10.6-8.8-0.6-13.7 10.6z"/>
<path color="#05b6ce" d="M631 465.3l13.7-10.6-8.8-0.6-13.6 10.4z"/>
<path color="#0db3d3" d="M617.4 475.8l13.6-10.5-8.7-0.8-13.7 10.4z"/>
<path color="#14b0d8" d="M603.7 486.2l13.7-10.4-8.8-0.9-13.7 10.3z"/>
<path color="#19addc" d="M590.1 496.5l13.6-10.3-8.8-1-13.6 10.2z"/>
<path color="#1ca9df" d="M576.4 506.7l13.7-10.2-8.8-1.1-13.7 10.1z"/>
<path color="#1fa6e2" d="M562.7 516.8l13.7-10.1-8.8-1.2-13.6 10z"/>
<path color="#22a2e4" d="M549.1 526.8l13.6-10-8.7-1.3-13.7 9.9z"/>
<path color="#249ee6" d="M535.4 536.6l13.7-9.8-8.8-1.4-13.7 9.7z"/>
<path color="#259be8" d="M521.7 546.4l13.7-9.8-8.8-1.5-13.6 9.6z"/>
<path color="#2797eb" d="M508.1 556l13.6-9.6-8.7-1.7-13.7 9.5z"/>
<path color="#2993ed" d="M494.4 565.4l13.7-9.4-8.8-1.8-13.6 9.3z"/>
<path color="#2c90f0" d="M480.8 574.7l13.6-9.3-8.7-1.9-13.7 9.2z"/>
<path color="#2d8cf3" d="M467.1 583.7l13.7-9-8.8-2-13.7 8.9z"/>
<path color="#2d89f5" d="M453.4 592.6l13.7-8.9-8.8-2.1-13.6 8.8z"/>
<path color="#2e86f8" d="M439.8 601.2l13.6-8.6-8.7-2.2-13.7 8.5z"/>
<path color="#2f82f9" d="M426.1 609.6l13.7-8.4-8.8-2.3-13.7 8.2z"/>
<path color="#307ffb" d="M412.5 617.7l13.6-8.1-8.8-2.5-13.6 7.9z"/>
<path color="#327cfc" d="M398.8 625.4l13.7-7.7-8.8-2.7-13.7 7.6z"/>
<path color="#3479fd" d="M385.1 632.9l13.7-7.5-8.8-2.8-13.6 7.2z"/>
<path color="#3777fe" d="M371.5 639.9l13.6-7-8.7-3.1-13.7 6.9z"/>
<path color="#3974fe" d="M357.8 646.6l13.7-6.7-8.8-3.2-13.7 6.4z"/>
<path color="#3b72ff" d="M344.2 652.9l13.6-6.3-8.8-3.5-13.6 5.9z"/>
<path color="#3d70ff" d="M330.5 659l13.7-6.1-8.8-3.9-13.7 5.7z"/>
<path color="#3f6fff" d="M316.8 664.9l13.7-5.9-8.8-4.3-13.6 5.6z"/>
<path color="#406dfe" d="M303.2 670.9l13.6-6-8.7-4.6-13.7 5.6z"/>
<path color="#416cfe" d="M289.5 676.9l13.7-6-8.8-5-13.7 5.8z"/>
<path color="#ddbd29" d="M967.7 211.4l6.8-4.7-8.8 3.7-6.8 4.7z"/>
<path color="#d7be28" d="M954 221l13.7-9.6-8.8 3.7-13.7 9.4z"/>
<path color="#cfc028" d="M940.3 230.8l13.7-9.8-8.8 3.5-13.6 9.5z"/>
<path color="#c6c22a" d="M926.7 240.8l13.6-10-8.7 3.2-13.7 9.7z"/>
<path color="#bcc42f" d="M913 250.9l13.7-10.1-8.8 2.9-13.6 9.8z"/>
<path color="#b1c635" d="M899.4 261.2l13.6-10.3-8.7 2.6-13.7 10z"/>
<path color="#a6c73c" d="M885.7 271.6l13.7-10.4-8.8 2.3-13.7 10.1z"/>
<path color="#9bc945" d="M872 282.1l13.7-10.5-8.8 2-13.6 10.3z"/>
<path color="#8fcb4e" d="M858.4 292.7l13.6-10.6-8.7 1.8-13.7 10.4z"/>
<path color="#82cc58" d="M844.7 303.4l13.7-10.7-8.8 1.6-13.7 10.4z"/>
<path color="#75cc61" d="M831.1 314.1l13.6-10.7-8.8 1.3-13.6 10.6z"/>
<path color="#69cd6b" d="M817.4 325l13.7-10.9-8.8 1.2-13.7 10.6z"/>
<path color="#5dcc75" d="M803.7 335.8l13.7-10.8-8.8 0.9-13.6 10.7z"/>
<path color="#52cc7e" d="M790.1 346.7l13.6-10.9-8.7 0.8-13.7 10.7z"/>
<path color="#47cb87" d="M776.4 357.6l13.7-10.9-8.8 0.6-13.7 10.7z"/>
<path color="#3dca90" d="M762.8 368.5l13.6-10.9-8.8 0.4-13.6 10.8z"/>
<path color="#36c898" d="M749.1 379.4l13.7-10.9-8.8 0.3-13.7 10.7z"/>
<path color="#31c69f" d="M735.4 390.3l13.7-10.9-8.8 0.1-13.6 10.8z"/>
<path color="#2cc4a6" d="M721.8 401.3l13.6-11-8.7 0-13.7 10.8z"/>
<path color="#25c2ad" d="M708.1 412.2l13.7-10.9-8.8-0.2-13.7 10.8z"/>
<path color="#1cc0b3" d="M694.5 423l13.6-10.8-8.8-0.3-13.6 10.8z"/>
<path color="#11beba" d="M680.8 433.9l13.7-10.9-8.8-0.3-13.7 10.7z"/>
<path color="#07bcc0" d="M667.1 444.6l13.7-10.7-8.8-0.5-13.6 10.7z"/>
<path color="#01b9c6" d="M653.5 455.4l13.6-10.8-8.7-0.5-13.7 10.6z"/>
<path color="#02b7cb" d="M639.8 466l13.7-10.6-8.8-0.7-13.7 10.6z"/>
<path color="#09b4d1" d="M626.2 476.6l13.6-10.6-8.8-0.7-13.6 10.5z"/>
<path color="#11b1d6" d="M612.5 487.1l13.7-10.5-8.8-0.8-13.7 10.4z"/>
<path color="#17aeda" d="M598.8 497.6l13.7-10.5-8.8-0.9-13.6 10.3z"/>
<path color="#1babde" d="M585.2 507.9l13.6-10.3-8.7-1.1-13.7 10.2z"/>
<path color="#1ea7e1" d="M571.5 518.1l13.7-10.2-8.8-1.2-13.7 10.1z"/>
<path color="#21a4e3" d="M557.8 528.2l13.7-10.1-8.8-1.3-13.6 10z"/>
<path color="#23a0e5" d="M544.2 538.2l13.6-10-8.7-1.4-13.7 9.8z"/>
<path color="#259ce7" d="M530.5 548l13.7-9.8-8.8-1.6-13.7 9.8z"/>
<path color="#2699ea" d="M516.9 557.7l13.6-9.7-8.8-1.6-13.6 9.6z"/>
<path color="#2895ec" d="M503.2 567.3l13.7-9.6-8.8-1.7-13.7 9.4z"/>
<path color="#2b91ef" d="M489.5 576.6l13.7-9.3-8.8-1.9-13.6 9.3z"/>
<path color="#2c8ef2" d="M475.9 585.8l13.6-9.2-8.7-1.9-13.7 9z"/>
<path color="#2d8af4" d="M462.2 594.8l13.7-9-8.8-2.1-13.7 8.9z"/>
<path color="#2e87f7" d="M448.6 603.6l13.6-8.8-8.8-2.2-13.6 8.6z"/>
<path color="#2e83f9" d="M434.9 612.1l13.7-8.5-8.8-2.4-13.7 8.4z"/>
<path color="#2f80fa" d="M421.2 620.3l13.7-8.2-8.8-2.5-13.6 8.1z"/>
<path color="#317dfc" d="M407.6 628.2l13.6-7.9-8.7-2.6-13.7 7.7z"/>
<path color="#347afd" d="M393.9 635.9l13.7-7.7-8.8-2.8-13.7 7.5z"/>
<path color="#3677fe" d="M380.3 643.2l13.6-7.3-8.8-3-13.6 7z"/>
<path color="#3975fe" d="M366.6 650.2l13.7-7-8.8-3.3-13.7 6.7z"/>
<path color="#3b72fe" d="M352.9 656.8l13.7-6.6-8.8-3.6-13.6 6.3z"/>
<path color="#3d70ff" d="M339.3 663.3l13.6-6.5-8.7-3.9-13.7 6.1z"/>
<path color="#3f6eff" d="M325.6 669.6l13.7-6.3-8.8-4.3-13.7 5.9z"/>
<path color="#406dfe" d="M312 675.8l13.6-6.2-8.8-4.7-13.6 6z"/>
<path color="#416bfe" d="M298.3 682.2l13.7-6.4-8.8-4.9-13.7 6z"/>
<path color="#e7bb2e" d="M976.4 207.6l6.9-4.8-8.8 3.9-6.8 4.7z"/>
<path color="#e1bc2b" d="M962.8 217.5l13.6-9.9-8.7 3.8-13.7 9.6z"/>
<path color="#d9bd28" d="M949.1 227.6l13.7-10.1-8.8 3.5-13.7 9.8z"/>
<path color="#d0bf27" d="M935.5 237.8l13.6-10.2-8.8 3.2-13.6 10z"/>
<path color="#c7c12a" d="M921.8 248.2l13.7-10.4-8.8 3-13.7 10.1z"/>
<path color="#bcc42f" d="M908.1 258.8l13.7-10.6-8.8 2.7-13.6 10.3z"/>
<path color="#b1c635" d="M894.5 269.5l13.6-10.7-8.7 2.4-13.7 10.4z"/>
<path color="#a5c83d" d="M880.8 280.3l13.7-10.8-8.8 2.1-13.7 10.5z"/>
<path color="#99c946" d="M867.2 291.1l13.6-10.8-8.8 1.8-13.6 10.6z"/>
<path color="#8ccb50" d="M853.5 302.1l13.7-11-8.8 1.6-13.7 10.7z"/>
<path color="#7fcc5a" d="M839.8 313.1l13.7-11-8.8 1.3-13.6 10.7z"/>
<path color="#72cd64" d="M826.2 324.1l13.6-11-8.7 1-13.7 10.9z"/>
<path color="#65cd6e" d="M812.5 335.1l13.7-11-8.8 0.9-13.7 10.8z"/>
<path color="#59cc78" d="M798.9 346.2l13.6-11.1-8.8 0.7-13.6 10.9z"/>
<path color="#4dcc82" d="M785.2 357.3l13.7-11.1-8.8 0.5-13.7 10.9z"/>
<path color="#43ca8b" d="M771.5 368.3l13.7-11-8.8 0.3-13.6 10.9z"/>
<path color="#3ac993" d="M757.9 379.4l13.6-11.1-8.7 0.2-13.7 10.9z"/>
<path color="#34c79b" d="M744.2 390.4l13.7-11-8.8 0-13.7 10.9z"/>
<path color="#2fc5a3" d="M730.6 401.5l13.6-11.1-8.8-0.1-13.6 11z"/>
<path color="#29c3a9" d="M716.9 412.5l13.7-11-8.8-0.2-13.7 10.9z"/>
<path color="#21c1b0" d="M703.2 423.5l13.7-11-8.8-0.3-13.6 10.8z"/>
<path color="#17bfb6" d="M689.6 434.4l13.6-10.9-8.7-0.5-13.7 10.9z"/>
<path color="#0bbdbd" d="M675.9 445.3l13.7-10.9-8.8-0.5-13.7 10.7z"/>
<path color="#02bbc3" d="M662.2 456.1l13.7-10.8-8.8-0.7-13.6 10.8z"/>
<path color="#01b8c9" d="M648.6 466.9l13.6-10.8-8.7-0.7-13.7 10.6z"/>
<path color="#06b6ce" d="M634.9 477.6l13.7-10.7-8.8-0.9-13.6 10.6z"/>
<path color="#0db3d3" d="M621.3 488.2l13.6-10.6-8.7-1-13.7 10.5z"/>
<path color="#14b0d8" d="M607.6 498.7l13.7-10.5-8.8-1.1-13.7 10.5z"/>
<path color="#19acdc" d="M593.9 509.1l13.7-10.4-8.8-1.1-13.6 10.3z"/>
<path color="#1da9e0" d="M580.3 519.4l13.6-10.3-8.7-1.2-13.7 10.2z"/>
<path color="#20a5e2" d="M566.6 529.6l13.7-10.2-8.8-1.3-13.7 10.1z"/>
<path color="#22a1e4" d="M553 539.7l13.6-10.1-8.8-1.4-13.6 10z"/>
<path color="#249ee6" d="M539.3 549.7l13.7-10-8.8-1.5-13.7 9.8z"/>
<path color="#269ae8" d="M525.6 559.5l13.7-9.8-8.8-1.7-13.6 9.7z"/>
<path color="#2796eb" d="M512 569.2l13.6-9.7-8.7-1.8-13.7 9.6z"/>
<path color="#2a93ee" d="M498.3 578.7l13.7-9.5-8.8-1.9-13.7 9.3z"/>
<path color="#2c8ff1" d="M484.7 588l13.6-9.3-8.8-2.1-13.6 9.2z"/>
<path color="#2d8bf3" d="M471 597.1l13.7-9.1-8.8-2.2-13.7 9z"/>
<path color="#2d88f6" d="M457.3 605.9l13.7-8.8-8.8-2.3-13.6 8.8z"/>
<path color="#2e85f8" d="M443.7 614.6l13.6-8.7-8.7-2.3-13.7 8.5z"/>
<path color="#2f81fa" d="M430 623l13.7-8.4-8.8-2.5-13.7 8.2z"/>
<path color="#317efb" d="M416.4 631.1l13.6-8.1-8.8-2.7-13.6 7.9z"/>
<path color="#337bfc" d="M402.7 638.9l13.7-7.8-8.8-2.9-13.7 7.7z"/>
<path color="#3678fd" d="M389 646.5l13.7-7.6-8.8-3-13.6 7.3z"/>
<path color="#3875fe" d="M375.4 653.7l13.6-7.2-8.7-3.3-13.7 7z"/>
<path color="#3b73fe" d="M361.7 660.7l13.7-7-8.8-3.5-13.7 6.6z"/>
<path color="#3d70ff" d="M348.1 667.5l13.6-6.8-8.8-3.9-13.6 6.5z"/>
<path color="#3f6eff" d="M334.4 674.2l13.7-6.7-8.8-4.2-13.7 6.3z"/>
<path color="#406cfe" d="M320.7 680.8l13.7-6.6-8.8-4.6-13.6 6.2z"/>
<path color="#426afe" d="M307.1 687.5l13.6-6.7-8.7-5-13.7 6.4z"/>
<path color="#f0ba36" d="M985.2 203.8l6.9-4.9-8.8 3.9-6.9 4.8z"/>
<path color="#ebba31" d="M971.6 214l13.6-10.2-8.8 3.8-13.6 9.9z"/>
<path color="#e3bc2c" d="M957.9 224.4l13.7-10.4-8.8 3.5-13.7 10.1z"/>
<path color="#dbbd28" d="M944.2 234.9l13.7-10.5-8.8 3.2-13.6 10.2z"/>
<path color="#d1bf27" d="M930.6 245.6l13.6-10.7-8.7 2.9-13.7 10.4z"/>
<path color="#c7c12a" d="M916.9 256.5l13.7-10.9-8.8 2.6-13.7 10.6z"/>
<path color="#bcc42f" d="M903.3 267.5l13.6-11-8.8 2.3-13.6 10.7z"/>
<path color="#b0c636" d="M889.6 278.5l13.7-11-8.8 2-13.7 10.8z"/>
<path color="#a3c83e" d="M875.9 289.7l13.7-11.2-8.8 1.8-13.6 10.8z"/>
<path color="#96ca48" d="M862.3 300.8l13.6-11.1-8.7 1.4-13.7 11z"/>
<path color="#89cb52" d="M848.6 312.1l13.7-11.3-8.8 1.3-13.7 11z"/>
<path color="#7bcc5d" d="M835 323.3l13.6-11.2-8.8 1-13.6 11z"/>
<path color="#6dcd67" d="M821.3 334.5l13.7-11.2-8.8 0.8-13.7 11z"/>
<path color="#61cd72" d="M807.6 345.8l13.7-11.3-8.8 0.6-13.6 11.1z"/>
<path color="#55cc7c" d="M794 357l13.6-11.2-8.7 0.4-13.7 11.1z"/>
<path color="#49cb85" d="M780.3 368.3l13.7-11.3-8.8 0.3-13.7 11z"/>
<path color="#3fca8e" d="M766.7 379.5l13.6-11.2-8.8 0-13.6 11.1z"/>
<path color="#37c897" d="M753 390.6l13.7-11.1-8.8-0.1-13.7 11z"/>
<path color="#32c69f" d="M739.3 401.8l13.7-11.2-8.8-0.2-13.6 11.1z"/>
<path color="#2dc4a6" d="M725.7 412.9l13.6-11.1-8.7-0.3-13.7 11z"/>
<path color="#26c2ad" d="M712 424l13.7-11.1-8.8-0.4-13.7 11z"/>
<path color="#1cc0b3" d="M698.3 435l13.7-11-8.8-0.5-13.6 10.9z"/>
<path color="#11beba" d="M684.7 446l13.6-11-8.7-0.6-13.7 10.9z"/>
<path color="#06bcc0" d="M671 456.9l13.7-10.9-8.8-0.7-13.7 10.8z"/>
<path color="#01b9c6" d="M657.4 467.8l13.6-10.9-8.8-0.8-13.6 10.8z"/>
<path color="#03b7cc" d="M643.7 478.5l13.7-10.7-8.8-0.9-13.7 10.7z"/>
<path color="#09b4d1" d="M630 489.2l13.7-10.7-8.8-0.9-13.6 10.6z"/>
<path color="#12b1d6" d="M616.4 499.9l13.6-10.7-8.7-1-13.7 10.5z"/>
<path color="#18aedb" d="M602.7 510.4l13.7-10.5-8.8-1.2-13.7 10.4z"/>
<path color="#1baade" d="M589.1 520.8l13.6-10.4-8.8-1.3-13.6 10.3z"/>
<path color="#1ea7e1" d="M575.4 531.1l13.7-10.3-8.8-1.4-13.7 10.2z"/>
<path color="#21a3e3" d="M561.7 541.3l13.7-10.2-8.8-1.5-13.6 10.1z"/>
<path color="#249fe5" d="M548.1 551.4l13.6-10.1-8.7-1.6-13.7 10z"/>
<path color="#259be7" d="M534.4 561.3l13.7-9.9-8.8-1.7-13.7 9.8z"/>
<path color="#2798ea" d="M520.8 571.1l13.6-9.8-8.8-1.8-13.6 9.7z"/>
<path color="#2994ed" d="M507.1 580.7l13.7-9.6-8.8-1.9-13.7 9.5z"/>
<path color="#2b90f0" d="M493.4 590.1l13.7-9.4-8.8-2-13.6 9.3z"/>
<path color="#2d8df2" d="M479.8 599.3l13.6-9.2-8.7-2.1-13.7 9.1z"/>
<path color="#2d89f5" d="M466.1 608.4l13.7-9.1-8.8-2.2-13.7 8.8z"/>
<path color="#2e86f8" d="M452.5 617.1l13.6-8.7-8.8-2.5-13.6 8.7z"/>
<path color="#2f82f9" d="M438.8 625.7l13.7-8.6-8.8-2.5-13.7 8.4z"/>
<path color="#307ffb" d="M425.1 634l13.7-8.3-8.8-2.7-13.6 8.1z"/>
<path color="#327cfc" d="M411.5 642l13.6-8-8.7-2.9-13.7 7.8z"/>
<path color="#3579fd" d="M397.8 649.8l13.7-7.8-8.8-3.1-13.7 7.6z"/>
<path color="#3876fe" d="M384.1 657.3l13.7-7.5-8.8-3.3-13.6 7.2z"/>
<path color="#3b73fe" d="M370.5 664.6l13.6-7.3-8.7-3.6-13.7 7z"/>
<path color="#3d70ff" d="M356.8 671.8l13.7-7.2-8.8-3.9-13.6 6.8z"/>
<path color="#3f6eff" d="M343.2 678.8l13.6-7-8.7-4.3-13.7 6.7z"/>
<path color="#416cfe" d="M329.5 685.8l13.7-7-8.8-4.6-13.7 6.6z"/>
<path color="#4269fe" d="M315.8 692.8l13.7-7-8.8-5-13.6 6.7z"/>
<path color="#f8ba3d" d="M994 200.2l6.8-5-8.7 3.7-6.9 4.9z"/>
<path color="#f3ba39" d="M980.3 210.6l13.7-10.4-8.8 3.6-13.6 10.2z"/>
<path color="#ecba32" d="M966.7 221.2l13.6-10.6-8.7 3.4-13.7 10.4z"/>
<path color="#e4bb2c" d="M953 232.1l13.7-10.9-8.8 3.2-13.7 10.5z"/>
<path color="#dbbd28" d="M939.4 243.1l13.6-11-8.8 2.8-13.6 10.7z"/>
<path color="#d1bf27" d="M925.7 254.3l13.7-11.2-8.8 2.5-13.7 10.9z"/>
<path color="#c6c22a" d="M912 265.6l13.7-11.3-8.8 2.2-13.6 11z"/>
<path color="#bac430" d="M898.4 276.9l13.6-11.3-8.7 1.9-13.7 11z"/>
<path color="#adc638" d="M884.7 288.3l13.7-11.4-8.8 1.6-13.7 11.2z"/>
<path color="#a0c841" d="M871.1 299.8l13.6-11.5-8.8 1.4-13.6 11.1z"/>
<path color="#92ca4b" d="M857.4 311.2l13.7-11.4-8.8 1-13.7 11.3z"/>
<path color="#84cb56" d="M843.7 322.6l13.7-11.4-8.8 0.9-13.6 11.2z"/>
<path color="#76cc60" d="M830.1 334.1l13.6-11.5-8.7 0.7-13.7 11.2z"/>
<path color="#68cd6b" d="M816.4 345.5l13.7-11.4-8.8 0.4-13.7 11.3z"/>
<path color="#5ccc76" d="M802.7 356.9l13.7-11.4-8.8 0.3-13.6 11.2z"/>
<path color="#4fcc80" d="M789.1 368.3l13.6-11.4-8.7 0.1-13.7 11.3z"/>
<path color="#44cb89" d="M775.4 379.6l13.7-11.3-8.8 0-13.6 11.2z"/>
<path color="#3bc992" d="M761.8 390.9l13.6-11.3-8.7-0.1-13.7 11.1z"/>
<path color="#35c79b" d="M748.1 402.2l13.7-11.3-8.8-0.3-13.7 11.2z"/>
<path color="#2fc5a2" d="M734.4 413.4l13.7-11.2-8.8-0.4-13.6 11.1z"/>
<path color="#29c3a9" d="M720.8 424.6l13.6-11.2-8.7-0.5-13.7 11.1z"/>
<path color="#21c1b0" d="M707.1 435.7l13.7-11.1-8.8-0.6-13.7 11z"/>
<path color="#16bfb7" d="M693.5 446.8l13.6-11.1-8.8-0.7-13.6 11z"/>
<path color="#0abdbd" d="M679.8 457.8l13.7-11-8.8-0.8-13.7 10.9z"/>
<path color="#02bac3" d="M666.1 468.7l13.7-10.9-8.8-0.9-13.6 10.9z"/>
<path color="#01b8c9" d="M652.5 479.6l13.6-10.9-8.7-0.9-13.7 10.7z"/>
<path color="#06b5cf" d="M638.8 490.4l13.7-10.8-8.8-1.1-13.7 10.7z"/>
<path color="#0eb2d4" d="M625.2 501.1l13.6-10.7-8.8-1.2-13.6 10.7z"/>
<path color="#15afd9" d="M611.5 511.7l13.7-10.6-8.8-1.2-13.7 10.5z"/>
<path color="#1aacdd" d="M597.8 522.3l13.7-10.6-8.8-1.3-13.6 10.4z"/>
<path color="#1da8e0" d="M584.2 532.7l13.6-10.4-8.7-1.5-13.7 10.3z"/>
<path color="#20a4e3" d="M570.5 543l13.7-10.3-8.8-1.6-13.7 10.2z"/>
<path color="#23a1e5" d="M556.9 553.2l13.6-10.2-8.8-1.7-13.6 10.1z"/>
<path color="#259de7" d="M543.2 563.2l13.7-10-8.8-1.8-13.7 9.9z"/>
<path color="#2699e9" d="M529.5 573.1l13.7-9.9-8.8-1.9-13.6 9.8z"/>
<path color="#2895ec" d="M515.9 582.8l13.6-9.7-8.7-2-13.7 9.6z"/>
<path color="#2b92ef" d="M502.2 592.3l13.7-9.5-8.8-2.1-13.7 9.4z"/>
<path color="#2c8ef1" d="M488.6 601.7l13.6-9.4-8.8-2.2-13.6 9.2z"/>
<path color="#2d8af4" d="M474.9 610.8l13.7-9.1-8.8-2.4-13.7 9.1z"/>
<path color="#2e87f7" d="M461.2 619.8l13.7-9-8.8-2.4-13.6 8.7z"/>
<path color="#2e83f9" d="M447.6 628.4l13.6-8.6-8.7-2.7-13.7 8.6z"/>
<path color="#3080fa" d="M433.9 636.9l13.7-8.5-8.8-2.7-13.7 8.3z"/>
<path color="#317dfc" d="M420.2 645.1l13.7-8.2-8.8-2.9-13.6 8z"/>
<path color="#3479fd" d="M406.6 653.1l13.6-8-8.7-3.1-13.7 7.8z"/>
<path color="#3776fe" d="M392.9 660.9l13.7-7.8-8.8-3.3-13.7 7.5z"/>
<path color="#3a73fe" d="M379.3 668.6l13.6-7.7-8.8-3.6-13.6 7.3z"/>
<path color="#3d70ff" d="M365.6 676l13.7-7.4-8.8-4-13.7 7.2z"/>
<path color="#3f6efe" d="M351.9 683.5l13.7-7.5-8.8-4.2-13.6 7z"/>
<path color="#416bfe" d="M338.3 690.8l13.6-7.3-8.7-4.7-13.7 7z"/>
<path color="#4368fe" d="M324.6 698.1l13.7-7.3-8.8-5-13.7 7z"/>
<path color="#febe3c" d="M1002.8 196.8l6.8-5.2-8.8 3.6-6.8 5z"/>
<path color="#fabc3d" d="M989.1 207.4l13.7-10.6-8.8 3.4-13.7 10.4z"/>
<path color="#f4ba3a" d="M975.5 218.3l13.6-10.9-8.8 3.2-13.6 10.6z"/>
<path color="#ecba33" d="M961.8 229.5l13.7-11.2-8.8 2.9-13.7 10.9z"/>
<path color="#e3bb2c" d="M948.1 240.8l13.7-11.3-8.8 2.6-13.6 11z"/>
<path color="#d9bd28" d="M934.5 252.3l13.6-11.5-8.7 2.3-13.7 11.2z"/>
<path color="#cfc028" d="M920.8 263.9l13.7-11.6-8.8 2-13.7 11.3z"/>
<path color="#c3c22b" d="M907.2 275.5l13.6-11.6-8.8 1.7-13.6 11.3z"/>
<path color="#b6c532" d="M893.5 287.1l13.7-11.6-8.8 1.4-13.7 11.4z"/>
<path color="#a9c73a" d="M879.8 298.8l13.7-11.7-8.8 1.2-13.6 11.5z"/>
<path color="#9bc944" d="M866.2 310.5l13.6-11.7-8.7 1-13.7 11.4z"/>
<path color="#8dcb4f" d="M852.5 322.2l13.7-11.7-8.8 0.7-13.7 11.4z"/>
<path color="#7fcc5a" d="M838.8 333.8l13.7-11.6-8.8 0.4-13.6 11.5z"/>
<path color="#70cd65" d="M825.2 345.4l13.6-11.6-8.7 0.3-13.7 11.4z"/>
<path color="#62cd70" d="M811.5 357l13.7-11.6-8.8 0.1-13.7 11.4z"/>
<path color="#56cc7b" d="M797.9 368.5l13.6-11.5-8.8-0.1-13.6 11.4z"/>
<path color="#4acb85" d="M784.2 380l13.7-11.5-8.8-0.2-13.7 11.3z"/>
<path color="#3fca8e" d="M770.5 391.4l13.7-11.4-8.8-0.4-13.6 11.3z"/>
<path color="#37c897" d="M756.9 402.7l13.6-11.3-8.7-0.5-13.7 11.3z"/>
<path color="#32c69f" d="M743.2 414.1l13.7-11.4-8.8-0.5-13.7 11.2z"/>
<path color="#2cc4a6" d="M729.6 425.3l13.6-11.2-8.8-0.7-13.6 11.2z"/>
<path color="#25c2ad" d="M715.9 436.6l13.7-11.3-8.8-0.7-13.7 11.1z"/>
<path color="#1bc0b4" d="M702.2 447.7l13.7-11.1-8.8-0.9-13.6 11.1z"/>
<path color="#0fbeba" d="M688.6 458.8l13.6-11.1-8.7-0.9-13.7 11z"/>
<path color="#05bbc1" d="M674.9 469.8l13.7-11-8.8-1-13.7 10.9z"/>
<path color="#01b9c7" d="M661.3 480.8l13.6-11-8.8-1.1-13.6 10.9z"/>
<path color="#04b6cd" d="M647.6 491.7l13.7-10.9-8.8-1.2-13.7 10.8z"/>
<path color="#0bb4d2" d="M633.9 502.5l13.7-10.8-8.8-1.3-13.6 10.7z"/>
<path color="#13b0d7" d="M620.3 513.2l13.6-10.7-8.7-1.4-13.7 10.6z"/>
<path color="#19addc" d="M606.6 523.8l13.7-10.6-8.8-1.5-13.7 10.6z"/>
<path color="#1caadf" d="M593 534.3l13.6-10.5-8.8-1.5-13.6 10.4z"/>
<path color="#1fa6e2" d="M579.3 544.7l13.7-10.4-8.8-1.6-13.7 10.3z"/>
<path color="#22a2e4" d="M565.6 555l13.7-10.3-8.8-1.7-13.6 10.2z"/>
<path color="#249ee6" d="M552 565.2l13.6-10.2-8.7-1.8-13.7 10z"/>
<path color="#269ae8" d="M538.3 575.2l13.7-10-8.8-2-13.7 9.9z"/>
<path color="#2797eb" d="M524.6 585l13.7-9.8-8.8-2.1-13.6 9.7z"/>
<path color="#2a93ee" d="M511 594.7l13.6-9.7-8.7-2.2-13.7 9.5z"/>
<path color="#2c8ff1" d="M497.3 604.1l13.7-9.4-8.8-2.4-13.6 9.4z"/>
<path color="#2d8bf3" d="M483.7 613.4l13.6-9.3-8.7-2.4-13.7 9.1z"/>
<path color="#2d88f6" d="M470 622.5l13.7-9.1-8.8-2.6-13.7 9z"/>
<path color="#2e84f8" d="M456.3 631.3l13.7-8.8-8.8-2.7-13.6 8.6z"/>
<path color="#2f81fa" d="M442.7 639.9l13.6-8.6-8.7-2.9-13.7 8.5z"/>
<path color="#317dfc" d="M429 648.3l13.7-8.4-8.8-3-13.7 8.2z"/>
<path color="#347afd" d="M415.4 656.5l13.6-8.2-8.8-3.2-13.6 8z"/>
<path color="#3777fe" d="M401.7 664.6l13.7-8.1-8.8-3.4-13.7 7.8z"/>
<path color="#3a73fe" d="M388 672.5l13.7-7.9-8.8-3.7-13.6 7.7z"/>
<path color="#3d70ff" d="M374.4 680.4l13.6-7.9-8.7-3.9-13.7 7.4z"/>
<path color="#3f6dfe" d="M360.7 688.1l13.7-7.7-8.8-4.4-13.7 7.5z"/>
<path color="#416afe" d="M347.1 695.8l13.6-7.7-8.8-4.6-13.6 7.3z"/>
<path color="#4368fd" d="M333.4 703.5l13.7-7.7-8.8-5-13.7 7.3z"/>
<path color="#fec338" d="M1011.6 193.4l6.8-5.2-8.8 3.4-6.8 5.2z"/>
<path color="#fec03b" d="M997.9 204.3l13.7-10.9-8.8 3.4-13.7 10.6z"/>
<path color="#fbbc3d" d="M984.2 215.5l13.7-11.2-8.8 3.1-13.6 10.9z"/>
<path color="#f4ba39" d="M970.6 227l13.6-11.5-8.7 2.8-13.7 11.2z"/>
<path color="#ebba32" d="M956.9 238.7l13.7-11.7-8.8 2.5-13.7 11.3z"/>
<path color="#e2bc2b" d="M943.2 250.5l13.7-11.8-8.8 2.1-13.6 11.5z"/>
<path color="#d7be28" d="M929.6 262.3l13.6-11.8-8.7 1.8-13.7 11.6z"/>
<path color="#cbc029" d="M915.9 274.3l13.7-12-8.8 1.6-13.6 11.6z"/>
<path color="#bfc32d" d="M902.3 286.2l13.6-11.9-8.7 1.2-13.7 11.6z"/>
<path color="#b2c635" d="M888.6 298.1l13.7-11.9-8.8 0.9-13.7 11.7z"/>
<path color="#a4c83e" d="M874.9 310l13.7-11.9-8.8 0.7-13.6 11.7z"/>
<path color="#95ca49" d="M861.3 321.9l13.6-11.9-8.7 0.5-13.7 11.7z"/>
<path color="#87cb54" d="M847.6 333.7l13.7-11.8-8.8 0.3-13.7 11.6z"/>
<path color="#78cc5f" d="M834 345.5l13.6-11.8-8.8 0.1-13.6 11.6z"/>
<path color="#6acd6a" d="M820.3 357.2l13.7-11.7-8.8-0.1-13.7 11.6z"/>
<path color="#5ccc75" d="M806.6 368.8l13.7-11.6-8.8-0.2-13.6 11.5z"/>
<path color="#50cc80" d="M793 380.4l13.6-11.6-8.7-0.3-13.7 11.5z"/>
<path color="#44cb8a" d="M779.3 392l13.7-11.6-8.8-0.4-13.7 11.4z"/>
<path color="#3bc993" d="M765.7 403.5l13.6-11.5-8.8-0.6-13.6 11.3z"/>
<path color="#34c79b" d="M752 414.9l13.7-11.4-8.8-0.8-13.7 11.4z"/>
<path color="#2fc5a3" d="M738.3 426.2l13.7-11.3-8.8-0.8-13.6 11.2z"/>
<path color="#29c3aa" d="M724.7 437.5l13.6-11.3-8.7-0.9-13.7 11.3z"/>
<path color="#20c1b1" d="M711 448.8l13.7-11.3-8.8-0.9-13.7 11.1z"/>
<path color="#15bfb8" d="M697.4 459.9l13.6-11.1-8.8-1.1-13.6 11.1z"/>
<path color="#09bcbe" d="M683.7 471l13.7-11.1-8.8-1.1-13.7 11z"/>
<path color="#02bac4" d="M670 482.1l13.7-11.1-8.8-1.2-13.6 11z"/>
<path color="#01b7ca" d="M656.4 493l13.6-10.9-8.7-1.3-13.7 10.9z"/>
<path color="#07b5d0" d="M642.7 503.9l13.7-10.9-8.8-1.3-13.7 10.8z"/>
<path color="#10b2d5" d="M629 514.7l13.7-10.8-8.8-1.4-13.6 10.7z"/>
<path color="#17aeda" d="M615.4 525.4l13.6-10.7-8.7-1.5-13.7 10.6z"/>
<path color="#1babde" d="M601.7 536.1l13.7-10.7-8.8-1.6-13.6 10.5z"/>
<path color="#1ea7e1" d="M588.1 546.6l13.6-10.5-8.7-1.8-13.7 10.4z"/>
<path color="#21a3e3" d="M574.4 556.9l13.7-10.3-8.8-1.9-13.7 10.3z"/>
<path color="#239fe5" d="M560.7 567.2l13.7-10.3-8.8-1.9-13.6 10.2z"/>
<path color="#259ce7" d="M547.1 577.3l13.6-10.1-8.7-2-13.7 10z"/>
<path color="#2798ea" d="M533.4 587.3l13.7-10-8.8-2.1-13.7 9.8z"/>
<path color="#2994ed" d="M519.8 597.1l13.6-9.8-8.8-2.3-13.6 9.7z"/>
<path color="#2b90f0" d="M506.1 606.7l13.7-9.6-8.8-2.4-13.7 9.4z"/>
<path color="#2d8cf3" d="M492.4 616.1l13.7-9.4-8.8-2.6-13.6 9.3z"/>
<path color="#2d89f5" d="M478.8 625.3l13.6-9.2-8.7-2.7-13.7 9.1z"/>
<path color="#2e85f8" d="M465.1 634.3l13.7-9-8.8-2.8-13.7 8.8z"/>
<path color="#2f82fa" d="M451.5 643.1l13.6-8.8-8.8-3-13.6 8.6z"/>
<path color="#317efb" d="M437.8 651.7l13.7-8.6-8.8-3.2-13.7 8.4z"/>
<path color="#337bfd" d="M424.1 660.1l13.7-8.4-8.8-3.4-13.6 8.2z"/>
<path color="#3777fe" d="M410.5 668.4l13.6-8.3-8.7-3.6-13.7 8.1z"/>
<path color="#3a74fe" d="M396.8 676.6l13.7-8.2-8.8-3.8-13.7 7.9z"/>
<path color="#3d70ff" d="M383.2 684.7l13.6-8.1-8.8-4.1-13.6 7.9z"/>
<path color="#406dfe" d="M369.5 692.8l13.7-8.1-8.8-4.3-13.7 7.7z"/>
<path color="#426afe" d="M355.8 700.9l13.7-8.1-8.8-4.7-13.6 7.7z"/>
<path color="#4367fd" d="M342.2 708.8l13.6-7.9-8.7-5.1-13.7 7.7z"/>
<path color="#fec934" d="M1020.3 190.4l6.9-5.4-8.8 3.2-6.8 5.2z"/>
<path color="#fec537" d="M1006.7 201.5l13.6-11.1-8.7 3-13.7 10.9z"/>
<path color="#febf3b" d="M993 213.1l13.7-11.6-8.8 2.8-13.7 11.2z"/>
<path color="#fabb3d" d="M979.3 224.9l13.7-11.8-8.8 2.4-13.6 11.5z"/>
<path color="#f2ba38" d="M965.7 236.8l13.6-11.9-8.7 2.1-13.7 11.7z"/>
<path color="#e9bb30" d="M952 248.9l13.7-12.1-8.8 1.9-13.7 11.8z"/>
<path color="#dfbc2a" d="M938.4 261.1l13.6-12.2-8.8 1.6-13.6 11.8z"/>
<path color="#d3bf27" d="M924.7 273.3l13.7-12.2-8.8 1.2-13.7 12z"/>
<path color="#c7c12a" d="M911 285.5l13.7-12.2-8.8 1-13.6 11.9z"/>
<path color="#bac430" d="M897.4 297.6l13.6-12.1-8.7 0.7-13.7 11.9z"/>
<path color="#acc738" d="M883.7 309.7l13.7-12.1-8.8 0.5-13.7 11.9z"/>
<path color="#9dc943" d="M870.1 321.8l13.6-12.1-8.8 0.3-13.6 11.9z"/>
<path color="#8fcb4e" d="M856.4 333.8l13.7-12-8.8 0.1-13.7 11.8z"/>
<path color="#80cc5a" d="M842.7 345.8l13.7-12-8.8-0.1-13.6 11.8z"/>
<path color="#70cd65" d="M829.1 357.6l13.6-11.8-8.7-0.3-13.7 11.7z"/>
<path color="#62cd70" d="M815.4 369.4l13.7-11.8-8.8-0.4-13.7 11.6z"/>
<path color="#55cc7b" d="M801.8 381.1l13.6-11.7-8.8-0.6-13.6 11.6z"/>
<path color="#49cb85" d="M788.1 392.8l13.7-11.7-8.8-0.7-13.7 11.6z"/>
<path color="#3eca8f" d="M774.4 404.3l13.7-11.5-8.8-0.8-13.6 11.5z"/>
<path color="#37c898" d="M760.8 415.8l13.6-11.5-8.7-0.8-13.7 11.4z"/>
<path color="#31c6a0" d="M747.1 427.3l13.7-11.5-8.8-0.9-13.7 11.3z"/>
<path color="#2cc4a7" d="M733.5 438.6l13.6-11.3-8.8-1.1-13.6 11.3z"/>
<path color="#24c1ae" d="M719.8 450l13.7-11.4-8.8-1.1-13.7 11.3z"/>
<path color="#19bfb5" d="M706.1 461.2l13.7-11.2-8.8-1.2-13.6 11.1z"/>
<path color="#0dbdbc" d="M692.5 472.4l13.6-11.2-8.7-1.3-13.7 11.1z"/>
<path color="#04bbc2" d="M678.8 483.5l13.7-11.1-8.8-1.4-13.7 11.1z"/>
<path color="#01b8c8" d="M665.1 494.5l13.7-11-8.8-1.4-13.6 10.9z"/>
<path color="#05b6ce" d="M651.5 505.5l13.6-11-8.7-1.5-13.7 10.9z"/>
<path color="#0db3d3" d="M637.8 516.4l13.7-10.9-8.8-1.6-13.7 10.8z"/>
<path color="#14b0d8" d="M624.2 527.2l13.6-10.8-8.8-1.7-13.6 10.7z"/>
<path color="#1aacdd" d="M610.5 537.9l13.7-10.7-8.8-1.8-13.7 10.7z"/>
<path color="#1da8e0" d="M596.8 548.5l13.7-10.6-8.8-1.8-13.6 10.5z"/>
<path color="#20a5e3" d="M583.2 559l13.6-10.5-8.7-1.9-13.7 10.3z"/>
<path color="#23a1e5" d="M569.5 569.4l13.7-10.4-8.8-2.1-13.7 10.3z"/>
<path color="#259de7" d="M555.9 579.6l13.6-10.2-8.8-2.2-13.6 10.1z"/>
<path color="#2699e9" d="M542.2 589.7l13.7-10.1-8.8-2.3-13.7 10z"/>
<path color="#2895ec" d="M528.5 599.6l13.7-9.9-8.8-2.4-13.6 9.8z"/>
<path color="#2b91ef" d="M514.9 609.3l13.6-9.7-8.7-2.5-13.7 9.6z"/>
<path color="#2d8df2" d="M501.2 618.9l13.7-9.6-8.8-2.6-13.7 9.4z"/>
<path color="#2d8af5" d="M487.6 628.2l13.6-9.3-8.8-2.8-13.6 9.2z"/>
<path color="#2e86f7" d="M473.9 637.4l13.7-9.2-8.8-2.9-13.7 9z"/>
<path color="#2f82f9" d="M460.2 646.4l13.7-9-8.8-3.1-13.6 8.8z"/>
<path color="#307ffb" d="M446.6 655.1l13.6-8.7-8.7-3.3-13.7 8.6z"/>
<path color="#337bfc" d="M432.9 663.7l13.7-8.6-8.8-3.4-13.7 8.4z"/>
<path color="#3677fe" d="M419.3 672.2l13.6-8.5-8.8-3.6-13.6 8.3z"/>
<path color="#3a74fe" d="M405.6 680.7l13.7-8.5-8.8-3.8-13.7 8.2z"/>
<path color="#3d70ff" d="M391.9 689.2l13.7-8.5-8.8-4.1-13.6 8.1z"/>
<path color="#406dfe" d="M378.3 697.6l13.6-8.4-8.7-4.5-13.7 8.1z"/>
<path color="#4269fe" d="M364.6 705.9l13.7-8.3-8.8-4.8-13.7 8.1z"/>
<path color="#4466fd" d="M350.9 714.1l13.7-8.2-8.8-5-13.6 7.9z"/>
<path color="#fdce31" d="M1029.1 187.5l6.8-5.5-8.7 3-6.9 5.4z"/>
<path color="#feca33" d="M1015.4 199l13.7-11.5-8.8 2.9-13.6 11.1z"/>
<path color="#fec437" d="M1001.8 210.9l13.6-11.9-8.7 2.5-13.7 11.6z"/>
<path color="#febe3c" d="M988.1 223l13.7-12.1-8.8 2.2-13.7 11.8z"/>
<path color="#f8ba3d" d="M974.5 235.3l13.6-12.3-8.8 1.9-13.6 11.9z"/>
<path color="#efba35" d="M960.8 247.7l13.7-12.4-8.8 1.5-13.7 12.1z"/>
<path color="#e6bb2d" d="M947.1 260.1l13.7-12.4-8.8 1.2-13.6 12.2z"/>
<path color="#dabd28" d="M933.5 272.6l13.6-12.5-8.7 1-13.7 12.2z"/>
<path color="#cec028" d="M919.8 285l13.7-12.4-8.8 0.7-13.7 12.2z"/>
<path color="#c1c32c" d="M906.2 297.4l13.6-12.4-8.8 0.5-13.6 12.1z"/>
<path color="#b3c534" d="M892.5 309.8l13.7-12.4-8.8 0.2-13.7 12.1z"/>
<path color="#a5c83e" d="M878.8 322l13.7-12.2-8.8-0.1-13.6 12.1z"/>
<path color="#96ca49" d="M865.2 334.2l13.6-12.2-8.7-0.2-13.7 12z"/>
<path color="#86cb54" d="M851.5 346.3l13.7-12.1-8.8-0.4-13.7 12z"/>
<path color="#77cc60" d="M837.9 358.3l13.6-12-8.8-0.5-13.6 11.8z"/>
<path color="#68cd6b" d="M824.2 370.2l13.7-11.9-8.8-0.7-13.7 11.8z"/>
<path color="#5bcc77" d="M810.5 382l13.7-11.8-8.8-0.8-13.6 11.7z"/>
<path color="#4ecc81" d="M796.9 393.8l13.6-11.8-8.7-0.9-13.7 11.7z"/>
<path color="#42ca8b" d="M783.2 405.4l13.7-11.6-8.8-1-13.7 11.5z"/>
<path color="#39c994" d="M769.5 417l13.7-11.6-8.8-1.1-13.6 11.5z"/>
<path color="#33c79d" d="M755.9 428.5l13.6-11.5-8.7-1.2-13.7 11.5z"/>
<path color="#2ec4a4" d="M742.2 440l13.7-11.5-8.8-1.2-13.6 11.3z"/>
<path color="#27c2ac" d="M728.6 451.3l13.6-11.3-8.7-1.4-13.7 11.4z"/>
<path color="#1dc0b3" d="M714.9 462.6l13.7-11.3-8.8-1.3-13.7 11.2z"/>
<path color="#11beb9" d="M701.2 473.9l13.7-11.3-8.8-1.4-13.6 11.2z"/>
<path color="#07bcc0" d="M687.6 485l13.6-11.1-8.7-1.5-13.7 11.1z"/>
<path color="#01b9c6" d="M673.9 496.2l13.7-11.2-8.8-1.5-13.7 11z"/>
<path color="#03b7cc" d="M660.3 507.2l13.6-11-8.8-1.7-13.6 11z"/>
<path color="#0ab4d2" d="M646.6 518.2l13.7-11-8.8-1.7-13.7 10.9z"/>
<path color="#13b1d7" d="M632.9 529.1l13.7-10.9-8.8-1.8-13.6 10.8z"/>
<path color="#18addb" d="M619.3 539.9l13.6-10.8-8.7-1.9-13.7 10.7z"/>
<path color="#1caadf" d="M605.6 550.6l13.7-10.7-8.8-2-13.7 10.6z"/>
<path color="#1fa6e2" d="M592 561.2l13.6-10.6-8.8-2.1-13.6 10.5z"/>
<path color="#22a2e4" d="M578.3 571.7l13.7-10.5-8.8-2.2-13.7 10.4z"/>
<path color="#249ee6" d="M564.6 582l13.7-10.3-8.8-2.3-13.6 10.2z"/>
<path color="#269ae9" d="M551 592.2l13.6-10.2-8.7-2.4-13.7 10.1z"/>
<path color="#2896eb" d="M537.3 602.2l13.7-10-8.8-2.5-13.7 9.9z"/>
<path color="#2b92ee" d="M523.7 612.1l13.6-9.9-8.8-2.6-13.6 9.7z"/>
<path color="#2c8ef1" d="M510 621.8l13.7-9.7-8.8-2.8-13.7 9.6z"/>
<path color="#2d8af4" d="M496.3 631.3l13.7-9.5-8.8-2.9-13.6 9.3z"/>
<path color="#2e87f7" d="M482.7 640.6l13.6-9.3-8.7-3.1-13.7 9.2z"/>
<path color="#2e83f9" d="M469 649.8l13.7-9.2-8.8-3.2-13.7 9z"/>
<path color="#307ffb" d="M455.4 658.8l13.6-9-8.8-3.4-13.6 8.7z"/>
<path color="#327bfc" d="M441.7 667.6l13.7-8.8-8.8-3.7-13.7 8.6z"/>
<path color="#3677fe" d="M428 676.3l13.7-8.7-8.8-3.9-13.6 8.5z"/>
<path color="#3a74fe" d="M414.4 685l13.6-8.7-8.7-4.1-13.7 8.5z"/>
<path color="#3e70ff" d="M400.7 693.8l13.7-8.8-8.8-4.3-13.7 8.5z"/>
<path color="#406cfe" d="M387 702.5l13.7-8.7-8.8-4.6-13.6 8.4z"/>
<path color="#4369fe" d="M373.4 711.1l13.6-8.6-8.7-4.9-13.7 8.3z"/>
<path color="#4465fd" d="M359.7 719.5l13.7-8.4-8.8-5.2-13.7 8.2z"/>
<path color="#fad42e" d="M1037.9 185.1l6.8-5.7-8.8 2.6-6.8 5.5z"/>
<path color="#fccf30" d="M1024.2 196.9l13.7-11.8-8.8 2.4-13.7 11.5z"/>
<path color="#fec934" d="M1010.6 209.1l13.6-12.2-8.8 2.1-13.6 11.9z"/>
<path color="#fec339" d="M996.9 221.5l13.7-12.4-8.8 1.8-13.7 12.1z"/>
<path color="#fdbd3d" d="M983.2 234.1l13.7-12.6-8.8 1.5-13.6 12.3z"/>
<path color="#f5ba3b" d="M969.6 246.8l13.6-12.7-8.7 1.2-13.7 12.4z"/>
<path color="#ebba32" d="M955.9 259.5l13.7-12.7-8.8 0.9-13.7 12.4z"/>
<path color="#e1bc2b" d="M942.3 272.2l13.6-12.7-8.8 0.6-13.6 12.5z"/>
<path color="#d5be28" d="M928.6 284.9l13.7-12.7-8.8 0.4-13.7 12.4z"/>
<path color="#c8c129" d="M914.9 297.5l13.7-12.6-8.8 0.1-13.6 12.4z"/>
<path color="#bac430" d="M901.3 310.1l13.6-12.6-8.7-0.1-13.7 12.4z"/>
<path color="#abc739" d="M887.6 322.5l13.7-12.4-8.8-0.3-13.7 12.2z"/>
<path color="#9cc944" d="M874 334.9l13.6-12.4-8.8-0.5-13.6 12.2z"/>
<path color="#8dcb4f" d="M860.3 347.1l13.7-12.2-8.8-0.7-13.7 12.1z"/>
<path color="#7dcc5b" d="M846.6 359.3l13.7-12.2-8.8-0.8-13.6 12z"/>
<path color="#6ecd67" d="M833 371.3l13.6-12-8.7-1-13.7 11.9z"/>
<path color="#60cd72" d="M819.3 383.2l13.7-11.9-8.8-1.1-13.7 11.8z"/>
<path color="#53cc7d" d="M805.6 395l13.7-11.8-8.8-1.2-13.6 11.8z"/>
<path color="#46cb88" d="M792 406.8l13.6-11.8-8.7-1.2-13.7 11.6z"/>
<path color="#3cc991" d="M778.3 418.4l13.7-11.6-8.8-1.4-13.7 11.6z"/>
<path color="#35c79a" d="M764.7 430l13.6-11.6-8.8-1.4-13.6 11.5z"/>
<path color="#30c5a2" d="M751 441.5l13.7-11.5-8.8-1.5-13.7 11.5z"/>
<path color="#2ac3a9" d="M737.3 452.9l13.7-11.4-8.8-1.5-13.6 11.3z"/>
<path color="#21c1b0" d="M723.7 464.2l13.6-11.3-8.7-1.6-13.7 11.3z"/>
<path color="#16bfb7" d="M710 475.5l13.7-11.3-8.8-1.6-13.7 11.3z"/>
<path color="#0abdbe" d="M696.4 486.8l13.6-11.3-8.8-1.6-13.6 11.1z"/>
<path color="#02bac4" d="M682.7 498l13.7-11.2-8.8-1.8-13.7 11.2z"/>
<path color="#01b8ca" d="M669 509.1l13.7-11.1-8.8-1.8-13.6 11z"/>
<path color="#07b5d0" d="M655.4 520.1l13.6-11-8.7-1.9-13.7 11z"/>
<path color="#10b2d5" d="M641.7 531.1l13.7-11-8.8-1.9-13.7 10.9z"/>
<path color="#17aeda" d="M628.1 542l13.6-10.9-8.8-2-13.6 10.8z"/>
<path color="#1babde" d="M614.4 552.8l13.7-10.8-8.8-2.1-13.7 10.7z"/>
<path color="#1ea7e1" d="M600.7 563.5l13.7-10.7-8.8-2.2-13.6 10.6z"/>
<path color="#21a3e3" d="M587.1 574.1l13.6-10.6-8.7-2.3-13.7 10.5z"/>
<path color="#249fe6" d="M573.4 584.6l13.7-10.5-8.8-2.4-13.7 10.3z"/>
<path color="#259be8" d="M559.8 594.9l13.6-10.3-8.8-2.6-13.6 10.2z"/>
<path color="#2797eb" d="M546.1 605l13.7-10.1-8.8-2.7-13.7 10z"/>
<path color="#2a93ee" d="M532.4 615.1l13.7-10.1-8.8-2.8-13.6 9.9z"/>
<path color="#2c8ff1" d="M518.8 624.9l13.6-9.8-8.7-3-13.7 9.7z"/>
<path color="#2d8bf4" d="M505.1 634.6l13.7-9.7-8.8-3.1-13.7 9.5z"/>
<path color="#2e87f7" d="M491.4 644.1l13.7-9.5-8.8-3.3-13.6 9.3z"/>
<path color="#2e83f9" d="M477.8 653.4l13.6-9.3-8.7-3.5-13.7 9.2z"/>
<path color="#307ffb" d="M464.1 662.6l13.7-9.2-8.8-3.6-13.6 9z"/>
<path color="#327cfc" d="M450.5 671.6l13.6-9-8.7-3.8-13.7 8.8z"/>
<path color="#3677fe" d="M436.8 680.6l13.7-9-8.8-4-13.7 8.7z"/>
<path color="#3a73fe" d="M423.1 689.5l13.7-8.9-8.8-4.3-13.6 8.7z"/>
<path color="#3e6fff" d="M409.5 698.5l13.6-9-8.7-4.5-13.7 8.8z"/>
<path color="#416cfe" d="M395.8 707.4l13.7-8.9-8.8-4.7-13.7 8.7z"/>
<path color="#4368fe" d="M382.2 716.2l13.6-8.8-8.8-4.9-13.6 8.6z"/>
<path color="#4464fd" d="M368.5 724.9l13.7-8.7-8.8-5.1-13.7 8.4z"/>
<path color="#f8d92b" d="M1046.7 183l6.8-5.9-8.8 2.3-6.8 5.7z"/>
<path color="#fad42e" d="M1033 195.2l13.7-12.2-8.8 2.1-13.7 11.8z"/>
<path color="#fdcd31" d="M1019.3 207.7l13.7-12.5-8.8 1.7-13.6 12.2z"/>
<path color="#fec736" d="M1005.7 220.4l13.6-12.7-8.7 1.4-13.7 12.4z"/>
<path color="#fec03b" d="M992 233.3l13.7-12.9-8.8 1.1-13.7 12.6z"/>
<path color="#fabb3d" d="M978.4 246.3l13.6-13-8.8 0.8-13.6 12.7z"/>
<path color="#f1ba37" d="M964.7 259.3l13.7-13-8.8 0.5-13.7 12.7z"/>
<path color="#e6bb2d" d="M951 272.2l13.7-12.9-8.8 0.2-13.6 12.7z"/>
<path color="#dabd28" d="M937.4 285.2l13.6-13-8.7 0-13.7 12.7z"/>
<path color="#cec028" d="M923.7 298l13.7-12.8-8.8-0.3-13.7 12.6z"/>
<path color="#c0c32d" d="M910 310.7l13.7-12.7-8.8-0.5-13.6 12.6z"/>
<path color="#b1c635" d="M896.4 323.4l13.6-12.7-8.7-0.6-13.7 12.4z"/>
<path color="#a2c83f" d="M882.7 335.9l13.7-12.5-8.8-0.9-13.6 12.4z"/>
<path color="#93ca4b" d="M869.1 348.3l13.6-12.4-8.7-1-13.7 12.2z"/>
<path color="#83cc57" d="M855.4 360.5l13.7-12.2-8.8-1.2-13.7 12.2z"/>
<path color="#73cd63" d="M841.7 372.6l13.7-12.1-8.8-1.2-13.6 12z"/>
<path color="#64cd6e" d="M828.1 384.6l13.6-12-8.7-1.3-13.7 11.9z"/>
<path color="#57cc7a" d="M814.4 396.5l13.7-11.9-8.8-1.4-13.7 11.8z"/>
<path color="#4acb84" d="M800.8 408.3l13.6-11.8-8.8-1.5-13.6 11.8z"/>
<path color="#3fca8e" d="M787.1 420l13.7-11.7-8.8-1.5-13.7 11.6z"/>
<path color="#37c897" d="M773.4 431.6l13.7-11.6-8.8-1.6-13.6 11.6z"/>
<path color="#31c69f" d="M759.8 443.2l13.6-11.6-8.7-1.6-13.7 11.5z"/>
<path color="#2cc4a7" d="M746.1 454.6l13.7-11.4-8.8-1.7-13.7 11.4z"/>
<path color="#24c2ae" d="M732.5 466l13.6-11.4-8.8-1.7-13.6 11.3z"/>
<path color="#1abfb5" d="M718.8 477.4l13.7-11.4-8.8-1.8-13.7 11.3z"/>
<path color="#0dbdbc" d="M705.1 488.7l13.7-11.3-8.8-1.9-13.6 11.3z"/>
<path color="#03bbc2" d="M691.5 499.9l13.6-11.2-8.7-1.9-13.7 11.2z"/>
<path color="#01b8c8" d="M677.8 511.1l13.7-11.2-8.8-1.9-13.7 11.1z"/>
<path color="#05b6ce" d="M664.2 522.2l13.6-11.1-8.8-2-13.6 11z"/>
<path color="#0eb2d4" d="M650.5 533.3l13.7-11.1-8.8-2.1-13.7 11z"/>
<path color="#15afd9" d="M636.8 544.3l13.7-11-8.8-2.2-13.6 10.9z"/>
<path color="#1aacdd" d="M623.2 555.2l13.6-10.9-8.7-2.3-13.7 10.8z"/>
<path color="#1ea8e0" d="M609.5 566l13.7-10.8-8.8-2.4-13.7 10.7z"/>
<path color="#21a4e3" d="M595.9 576.7l13.6-10.7-8.8-2.5-13.6 10.6z"/>
<path color="#23a0e5" d="M582.2 587.3l13.7-10.6-8.8-2.6-13.7 10.5z"/>
<path color="#259ce7" d="M568.5 597.7l13.7-10.4-8.8-2.7-13.6 10.3z"/>
<path color="#2798ea" d="M554.9 608l13.6-10.3-8.7-2.8-13.7 10.1z"/>
<path color="#2994ed" d="M541.2 618.2l13.7-10.2-8.8-3-13.7 10.1z"/>
<path color="#2c90f0" d="M527.5 628.2l13.7-10-8.8-3.1-13.6 9.8z"/>
<path color="#2d8cf3" d="M513.9 638l13.6-9.8-8.7-3.3-13.7 9.7z"/>
<path color="#2d88f6" d="M500.2 647.7l13.7-9.7-8.8-3.4-13.7 9.5z"/>
<path color="#2e84f9" d="M486.6 657.2l13.6-9.5-8.8-3.6-13.6 9.3z"/>
<path color="#3080fb" d="M472.9 666.6l13.7-9.4-8.8-3.8-13.7 9.2z"/>
<path color="#327cfc" d="M459.2 675.8l13.7-9.2-8.8-4-13.6 9z"/>
<path color="#3677fe" d="M445.6 685l13.6-9.2-8.7-4.2-13.7 9z"/>
<path color="#3a73fe" d="M431.9 694.2l13.7-9.2-8.8-4.4-13.7 8.9z"/>
<path color="#3e6fff" d="M418.3 703.3l13.6-9.1-8.8-4.7-13.6 9z"/>
<path color="#416bfe" d="M404.6 712.4l13.7-9.1-8.8-4.8-13.7 8.9z"/>
<path color="#4367fd" d="M390.9 721.5l13.7-9.1-8.8-5-13.6 8.8z"/>
<path color="#4563fd" d="M377.3 730.4l13.6-8.9-8.7-5.3-13.7 8.7z"/>
<path color="#f6de29" d="M1055.4 181.3l6.9-6.1-8.8 1.9-6.8 5.9z"/>
<path color="#f8d92c" d="M1041.8 193.8l13.6-12.5-8.7 1.7-13.7 12.2z"/>
<path color="#fbd22f" d="M1028.1 206.7l13.7-12.9-8.8 1.4-13.7 12.5z"/>
<path color="#fdcb33" d="M1014.5 219.8l13.6-13.1-8.8 1-13.6 12.7z"/>
<path color="#fec438" d="M1000.8 232.9l13.7-13.1-8.8 0.6-13.7 12.9z"/>
<path color="#fdbd3d" d="M987.1 246.2l13.7-13.3-8.8 0.4-13.6 13z"/>
<path color="#f5ba3b" d="M973.5 259.4l13.6-13.2-8.7 0.1-13.7 13z"/>
<path color="#ebba31" d="M959.8 272.6l13.7-13.2-8.8-0.1-13.7 12.9z"/>
<path color="#dfbc2a" d="M946.1 285.8l13.7-13.2-8.8-0.4-13.6 13z"/>
<path color="#d3bf27" d="M932.5 298.8l13.6-13-8.7-0.6-13.7 12.8z"/>
<path color="#c5c22a" d="M918.8 311.8l13.7-13-8.8-0.8-13.7 12.7z"/>
<path color="#b7c532" d="M905.2 324.6l13.6-12.8-8.8-1.1-13.6 12.7z"/>
<path color="#a7c73c" d="M891.5 337.2l13.7-12.6-8.8-1.2-13.7 12.5z"/>
<path color="#98ca47" d="M877.8 349.7l13.7-12.5-8.8-1.3-13.6 12.4z"/>
<path color="#88cb53" d="M864.2 362.1l13.6-12.4-8.7-1.4-13.7 12.2z"/>
<path color="#78cc5f" d="M850.5 374.3l13.7-12.2-8.8-1.6-13.7 12.1z"/>
<path color="#69cd6b" d="M836.9 386.4l13.6-12.1-8.8-1.7-13.6 12z"/>
<path color="#5bcc76" d="M823.2 398.3l13.7-11.9-8.8-1.8-13.7 11.9z"/>
<path color="#4ecc81" d="M809.5 410.2l13.7-11.9-8.8-1.8-13.6 11.8z"/>
<path color="#42ca8b" d="M795.9 421.9l13.6-11.7-8.7-1.9-13.7 11.7z"/>
<path color="#39c994" d="M782.2 433.6l13.7-11.7-8.8-1.9-13.7 11.6z"/>
<path color="#33c69d" d="M768.6 445.1l13.6-11.5-8.8-2-13.6 11.6z"/>
<path color="#2ec4a5" d="M754.9 456.6l13.7-11.5-8.8-1.9-13.7 11.4z"/>
<path color="#27c2ac" d="M741.2 468.1l13.7-11.5-8.8-2-13.6 11.4z"/>
<path color="#1dc0b3" d="M727.6 479.5l13.6-11.4-8.7-2.1-13.7 11.4z"/>
<path color="#10beba" d="M713.9 490.8l13.7-11.3-8.8-2.1-13.7 11.3z"/>
<path color="#06bcc0" d="M700.3 502.1l13.6-11.3-8.8-2.1-13.6 11.2z"/>
<path color="#01b9c7" d="M686.6 513.3l13.7-11.2-8.8-2.2-13.7 11.2z"/>
<path color="#04b6cd" d="M672.9 524.5l13.7-11.2-8.8-2.2-13.6 11.1z"/>
<path color="#0bb3d2" d="M659.3 535.7l13.6-11.2-8.7-2.3-13.7 11.1z"/>
<path color="#14b0d8" d="M645.6 546.7l13.7-11-8.8-2.4-13.7 11z"/>
<path color="#19acdc" d="M631.9 557.7l13.7-11-8.8-2.4-13.6 10.9z"/>
<path color="#1da9e0" d="M618.3 568.6l13.6-10.9-8.7-2.5-13.7 10.8z"/>
<path color="#20a5e3" d="M604.6 579.4l13.7-10.8-8.8-2.6-13.6 10.7z"/>
<path color="#23a1e5" d="M591 590.1l13.6-10.7-8.7-2.7-13.7 10.6z"/>
<path color="#259ce7" d="M577.3 600.7l13.7-10.6-8.8-2.8-13.7 10.4z"/>
<path color="#2698ea" d="M563.6 611.2l13.7-10.5-8.8-3-13.6 10.3z"/>
<path color="#2994ed" d="M550 621.5l13.6-10.3-8.7-3.2-13.7 10.2z"/>
<path color="#2c90f0" d="M536.3 631.6l13.7-10.1-8.8-3.3-13.7 10z"/>
<path color="#2d8cf3" d="M522.7 641.6l13.6-10-8.8-3.4-13.6 9.8z"/>
<path color="#2d88f6" d="M509 651.5l13.7-9.9-8.8-3.6-13.7 9.7z"/>
<path color="#2e84f9" d="M495.3 661.2l13.7-9.7-8.8-3.8-13.6 9.5z"/>
<path color="#3080fb" d="M481.7 670.7l13.6-9.5-8.7-4-13.7 9.4z"/>
<path color="#327cfc" d="M468 680.2l13.7-9.5-8.8-4.1-13.7 9.2z"/>
<path color="#3777fe" d="M454.4 689.6l13.6-9.4-8.8-4.4-13.6 9.2z"/>
<path color="#3b73fe" d="M440.7 699l13.7-9.4-8.8-4.6-13.7 9.2z"/>
<path color="#3f6eff" d="M427 708.3l13.7-9.3-8.8-4.8-13.6 9.1z"/>
<path color="#426afe" d="M413.4 717.6l13.6-9.3-8.7-5-13.7 9.1z"/>
<path color="#4466fd" d="M399.7 726.8l13.7-9.2-8.8-5.2-13.7 9.1z"/>
<path color="#4562fc" d="M386.1 735.9l13.6-9.1-8.8-5.3-13.6 8.9z"/>
<path color="#f5e327" d="M1064.2 180l6.8-6.4-8.7 1.6-6.9 6.1z"/>
<path color="#f6dd29" d="M1050.5 192.9l13.7-12.9-8.8 1.3-13.6 12.5z"/>
<path color="#fad62d" d="M1036.9 206.1l13.6-13.2-8.7 0.9-13.7 12.9z"/>
<path color="#fdce31" d="M1023.2 219.5l13.7-13.4-8.8 0.6-13.6 13.1z"/>
<path color="#fec735" d="M1009.6 233l13.6-13.5-8.7 0.3-13.7 13.1z"/>
<path color="#fec03b" d="M995.9 246.5l13.7-13.5-8.8-0.1-13.7 13.3z"/>
<path color="#f9bb3d" d="M982.2 260l13.7-13.5-8.8-0.3-13.6 13.2z"/>
<path color="#efba35" d="M968.6 273.5l13.6-13.5-8.7-0.6-13.7 13.2z"/>
<path color="#e4bb2c" d="M954.9 286.8l13.7-13.3-8.8-0.9-13.7 13.2z"/>
<path color="#d7be28" d="M941.3 300.1l13.6-13.3-8.8-1-13.6 13z"/>
<path color="#cac129" d="M927.6 313.2l13.7-13.1-8.8-1.3-13.7 13z"/>
<path color="#bbc42f" d="M913.9 326.1l13.7-12.9-8.8-1.4-13.6 12.8z"/>
<path color="#acc738" d="M900.3 338.9l13.6-12.8-8.7-1.5-13.7 12.6z"/>
<path color="#9cc944" d="M886.6 351.6l13.7-12.7-8.8-1.7-13.7 12.5z"/>
<path color="#8ccb50" d="M873 364l13.6-12.4-8.8-1.9-13.6 12.4z"/>
<path color="#7ccc5c" d="M859.3 376.3l13.7-12.3-8.8-1.9-13.7 12.2z"/>
<path color="#6dcd68" d="M845.6 388.4l13.7-12.1-8.8-2-13.6 12.1z"/>
<path color="#5fcd73" d="M832 400.4l13.6-12-8.7-2-13.7 11.9z"/>
<path color="#51cc7e" d="M818.3 412.3l13.7-11.9-8.8-2.1-13.7 11.9z"/>
<path color="#45cb89" d="M804.7 424.1l13.6-11.8-8.8-2.1-13.6 11.7z"/>
<path color="#3bc992" d="M791 435.8l13.7-11.7-8.8-2.2-13.7 11.7z"/>
<path color="#35c79b" d="M777.3 447.3l13.7-11.5-8.8-2.2-13.6 11.5z"/>
<path color="#2fc5a3" d="M763.7 458.9l13.6-11.6-8.7-2.2-13.7 11.5z"/>
<path color="#28c3aa" d="M750 470.3l13.7-11.4-8.8-2.3-13.7 11.5z"/>
<path color="#1fc1b1" d="M736.4 481.7l13.6-11.4-8.8-2.2-13.6 11.4z"/>
<path color="#14beb8" d="M722.7 493.1l13.7-11.4-8.8-2.2-13.7 11.3z"/>
<path color="#08bcbf" d="M709 504.5l13.7-11.4-8.8-2.3-13.6 11.3z"/>
<path color="#01bac5" d="M695.4 515.8l13.6-11.3-8.7-2.4-13.7 11.2z"/>
<path color="#02b7cb" d="M681.7 527l13.7-11.2-8.8-2.5-13.7 11.2z"/>
<path color="#09b4d1" d="M668 538.2l13.7-11.2-8.8-2.5-13.6 11.2z"/>
<path color="#12b1d7" d="M654.4 549.4l13.6-11.2-8.7-2.5-13.7 11z"/>
<path color="#18addb" d="M640.7 560.4l13.7-11-8.8-2.7-13.7 11z"/>
<path color="#1ca9df" d="M627.1 571.4l13.6-11-8.8-2.7-13.6 10.9z"/>
<path color="#1fa5e2" d="M613.4 582.4l13.7-11-8.8-2.8-13.7 10.8z"/>
<path color="#22a1e4" d="M599.7 593.2l13.7-10.8-8.8-3-13.6 10.7z"/>
<path color="#249de7" d="M586.1 603.9l13.6-10.7-8.7-3.1-13.7 10.6z"/>
<path color="#2699e9" d="M572.4 614.5l13.7-10.6-8.8-3.2-13.7 10.5z"/>
<path color="#2995ec" d="M558.8 624.9l13.6-10.4-8.8-3.3-13.6 10.3z"/>
<path color="#2b91ef" d="M545.1 635.2l13.7-10.3-8.8-3.4-13.7 10.1z"/>
<path color="#2d8cf3" d="M531.4 645.4l13.7-10.2-8.8-3.6-13.6 10z"/>
<path color="#2d88f6" d="M517.8 655.4l13.6-10-8.7-3.8-13.7 9.9z"/>
<path color="#2e84f9" d="M504.1 665.3l13.7-9.9-8.8-3.9-13.7 9.7z"/>
<path color="#3080fb" d="M490.5 675.1l13.6-9.8-8.8-4.1-13.6 9.5z"/>
<path color="#327bfc" d="M476.8 684.7l13.7-9.6-8.8-4.4-13.7 9.5z"/>
<path color="#3777fe" d="M463.1 694.3l13.7-9.6-8.8-4.5-13.6 9.4z"/>
<path color="#3b72ff" d="M449.5 703.9l13.6-9.6-8.7-4.7-13.7 9.4z"/>
<path color="#3f6efe" d="M435.8 713.4l13.7-9.5-8.8-4.9-13.7 9.3z"/>
<path color="#4269fe" d="M422.2 722.8l13.6-9.4-8.8-5.1-13.6 9.3z"/>
<path color="#4465fd" d="M408.5 732.2l13.7-9.4-8.8-5.2-13.7 9.2z"/>
<path color="#4561fc" d="M394.8 741.4l13.7-9.2-8.8-5.4-13.6 9.1z"/>
<path color="#f5e725" d="M1073 179l6.8-6.6-8.8 1.2-6.8 6.4z"/>
<path color="#f5e128" d="M1059.3 192.5l13.7-13.5-8.8 1-13.7 12.9z"/>
<path color="#f8da2b" d="M1045.7 206.1l13.6-13.6-8.8 0.4-13.6 13.2z"/>
<path color="#fbd22f" d="M1032 219.8l13.7-13.7-8.8 0-13.7 13.4z"/>
<path color="#feca33" d="M1018.3 233.5l13.7-13.7-8.8-0.3-13.6 13.5z"/>
<path color="#fec239" d="M1004.7 247.3l13.6-13.8-8.7-0.5-13.7 13.5z"/>
<path color="#fcbc3d" d="M991 261.1l13.7-13.8-8.8-0.8-13.7 13.5z"/>
<path color="#f2ba38" d="M977.4 274.7l13.6-13.6-8.8-1.1-13.6 13.5z"/>
<path color="#e7bb2e" d="M963.7 288.3l13.7-13.6-8.8-1.2-13.7 13.3z"/>
<path color="#dbbd29" d="M950 301.7l13.7-13.4-8.8-1.5-13.6 13.3z"/>
<path color="#cdc028" d="M936.4 315l13.6-13.3-8.7-1.6-13.7 13.1z"/>
<path color="#bfc32d" d="M922.7 328.1l13.7-13.1-8.8-1.8-13.7 12.9z"/>
<path color="#b0c636" d="M909.1 341.1l13.6-13-8.8-2-13.6 12.8z"/>
<path color="#a0c841" d="M895.4 353.8l13.7-12.7-8.8-2.2-13.7 12.7z"/>
<path color="#90ca4d" d="M881.7 366.3l13.7-12.5-8.8-2.2-13.6 12.4z"/>
<path color="#80cc59" d="M868.1 378.7l13.6-12.4-8.7-2.3-13.7 12.3z"/>
<path color="#70cd65" d="M854.4 390.9l13.7-12.2-8.8-2.4-13.7 12.1z"/>
<path color="#62cd71" d="M840.8 402.9l13.6-12-8.8-2.5-13.6 12z"/>
<path color="#54cc7c" d="M827.1 414.8l13.7-11.9-8.8-2.5-13.7 11.9z"/>
<path color="#48cb86" d="M813.4 426.6l13.7-11.8-8.8-2.5-13.6 11.8z"/>
<path color="#3dc990" d="M799.8 438.2l13.6-11.6-8.7-2.5-13.7 11.7z"/>
<path color="#36c799" d="M786.1 449.8l13.7-11.6-8.8-2.4-13.7 11.5z"/>
<path color="#30c5a1" d="M772.4 461.4l13.7-11.6-8.8-2.5-13.6 11.6z"/>
<path color="#2ac3a9" d="M758.8 472.8l13.6-11.4-8.7-2.5-13.7 11.4z"/>
<path color="#22c1b0" d="M745.1 484.3l13.7-11.5-8.8-2.5-13.6 11.4z"/>
<path color="#17bfb7" d="M731.5 495.7l13.6-11.4-8.7-2.6-13.7 11.4z"/>
<path color="#0abdbd" d="M717.8 507l13.7-11.3-8.8-2.6-13.7 11.4z"/>
<path color="#02bac4" d="M704.1 518.4l13.7-11.4-8.8-2.5-13.6 11.3z"/>
<path color="#01b8ca" d="M690.5 529.7l13.6-11.3-8.7-2.6-13.7 11.2z"/>
<path color="#07b5d0" d="M676.8 541l13.7-11.3-8.8-2.7-13.7 11.2z"/>
<path color="#11b1d6" d="M663.2 552.2l13.6-11.2-8.8-2.8-13.6 11.2z"/>
<path color="#17aedb" d="M649.5 563.4l13.7-11.2-8.8-2.8-13.7 11z"/>
<path color="#1caadf" d="M635.8 574.5l13.7-11.1-8.8-3-13.6 11z"/>
<path color="#1fa6e2" d="M622.2 585.5l13.6-11-8.7-3.1-13.7 11z"/>
<path color="#22a2e4" d="M608.5 596.4l13.7-10.9-8.8-3.1-13.7 10.8z"/>
<path color="#249ee6" d="M594.9 607.3l13.6-10.9-8.8-3.2-13.6 10.7z"/>
<path color="#2699e9" d="M581.2 618l13.7-10.7-8.8-3.4-13.7 10.6z"/>
<path color="#2895ec" d="M567.5 628.6l13.7-10.6-8.8-3.5-13.6 10.4z"/>
<path color="#2b91ef" d="M553.9 639.1l13.6-10.5-8.7-3.7-13.7 10.3z"/>
<path color="#2d8cf3" d="M540.2 649.4l13.7-10.3-8.8-3.9-13.7 10.2z"/>
<path color="#2d88f6" d="M526.6 659.6l13.6-10.2-8.8-4-13.6 10z"/>
<path color="#2e84f9" d="M512.9 669.6l13.7-10-8.8-4.2-13.7 9.9z"/>
<path color="#307ffb" d="M499.2 679.6l13.7-10-8.8-4.3-13.6 9.8z"/>
<path color="#337bfc" d="M485.6 689.4l13.6-9.8-8.7-4.5-13.7 9.6z"/>
<path color="#3776fe" d="M471.9 699.2l13.7-9.8-8.8-4.7-13.7 9.6z"/>
<path color="#3c72ff" d="M458.3 708.9l13.6-9.7-8.8-4.9-13.6 9.6z"/>
<path color="#406dfe" d="M444.6 718.6l13.7-9.7-8.8-5-13.7 9.5z"/>
<path color="#4369fe" d="M430.9 728.2l13.7-9.6-8.8-5.2-13.6 9.4z"/>
<path color="#4464fd" d="M417.3 737.7l13.6-9.5-8.7-5.4-13.7 9.4z"/>
<path color="#4660fc" d="M403.6 747.1l13.7-9.4-8.8-5.5-13.7 9.2z"/>
<path color="#f5eb23" d="M1081.8 178.7l6.8-6.8-8.8 0.5-6.8 6.6z"/>
<path color="#f5e526" d="M1068.1 192.6l13.7-13.9-8.8 0.3-13.7 13.5z"/>
<path color="#f7dd2a" d="M1054.4 206.5l13.7-13.9-8.8-0.1-13.6 13.6z"/>
<path color="#fad52e" d="M1040.8 220.5l13.6-14-8.7-0.4-13.7 13.7z"/>
<path color="#fdcd32" d="M1027.1 234.5l13.7-14-8.8-0.7-13.7 13.7z"/>
<path color="#fec537" d="M1013.5 248.6l13.6-14.1-8.8-1-13.6 13.8z"/>
<path color="#febd3c" d="M999.8 262.6l13.7-14-8.8-1.3-13.7 13.8z"/>
<path color="#f5ba3b" d="M986.1 276.5l13.7-13.9-8.8-1.5-13.6 13.6z"/>
<path color="#eaba31" d="M972.5 290.3l13.6-13.8-8.7-1.8-13.7 13.6z"/>
<path color="#debd29" d="M958.8 303.9l13.7-13.6-8.8-2-13.7 13.4z"/>
<path color="#d0bf27" d="M945.2 317.3l13.6-13.4-8.8-2.2-13.6 13.3z"/>
<path color="#c2c22c" d="M931.5 330.6l13.7-13.3-8.8-2.3-13.7 13.1z"/>
<path color="#b3c534" d="M917.8 343.6l13.7-13-8.8-2.5-13.6 13z"/>
<path color="#a3c83f" d="M904.2 356.4l13.6-12.8-8.7-2.5-13.7 12.7z"/>
<path color="#93ca4b" d="M890.5 369l13.7-12.6-8.8-2.6-13.7 12.5z"/>
<path color="#83cc57" d="M876.9 381.4l13.6-12.4-8.8-2.7-13.6 12.4z"/>
<path color="#73cd63" d="M863.2 393.7l13.7-12.3-8.8-2.7-13.7 12.2z"/>
<path color="#64cd6f" d="M849.5 405.7l13.7-12-8.8-2.8-13.6 12z"/>
<path color="#57cc7a" d="M835.9 417.6l13.6-11.9-8.7-2.8-13.7 11.9z"/>
<path color="#4acb85" d="M822.2 429.4l13.7-11.8-8.8-2.8-13.7 11.8z"/>
<path color="#3fca8e" d="M808.5 441l13.7-11.6-8.8-2.8-13.6 11.6z"/>
<path color="#37c897" d="M794.9 452.6l13.6-11.6-8.7-2.8-13.7 11.6z"/>
<path color="#31c6a0" d="M781.2 464.1l13.7-11.5-8.8-2.8-13.7 11.6z"/>
<path color="#2cc4a7" d="M767.6 475.6l13.6-11.5-8.8-2.7-13.6 11.4z"/>
<path color="#24c1ae" d="M753.9 487l13.7-11.4-8.8-2.8-13.7 11.5z"/>
<path color="#19bfb5" d="M740.2 498.5l13.7-11.5-8.8-2.7-13.6 11.4z"/>
<path color="#0cbdbc" d="M726.6 509.9l13.6-11.4-8.7-2.8-13.7 11.3z"/>
<path color="#03bbc3" d="M712.9 521.2l13.7-11.3-8.8-2.9-13.7 11.4z"/>
<path color="#01b8c9" d="M699.3 532.6l13.6-11.4-8.8-2.8-13.6 11.3z"/>
<path color="#06b5cf" d="M685.6 543.9l13.7-11.3-8.8-2.9-13.7 11.3z"/>
<path color="#0fb2d5" d="M671.9 555.2l13.7-11.3-8.8-2.9-13.6 11.2z"/>
<path color="#16aeda" d="M658.3 566.5l13.6-11.3-8.7-3-13.7 11.2z"/>
<path color="#1babde" d="M644.6 577.7l13.7-11.2-8.8-3.1-13.7 11.1z"/>
<path color="#1ea6e1" d="M631 588.8l13.6-11.1-8.8-3.2-13.6 11z"/>
<path color="#22a2e4" d="M617.3 599.9l13.7-11.1-8.8-3.3-13.7 10.9z"/>
<path color="#249ee6" d="M603.6 610.8l13.7-10.9-8.8-3.5-13.6 10.9z"/>
<path color="#269ae9" d="M590 621.7l13.6-10.9-8.7-3.5-13.7 10.7z"/>
<path color="#2895ec" d="M576.3 632.5l13.7-10.8-8.8-3.7-13.7 10.6z"/>
<path color="#2b91ef" d="M562.7 643.1l13.6-10.6-8.8-3.9-13.6 10.5z"/>
<path color="#2d8df3" d="M549 653.6l13.7-10.5-8.8-4-13.7 10.3z"/>
<path color="#2d88f6" d="M535.3 663.9l13.7-10.3-8.8-4.2-13.6 10.2z"/>
<path color="#2e84f9" d="M521.7 674.2l13.6-10.3-8.7-4.3-13.7 10z"/>
<path color="#307ffb" d="M508 684.3l13.7-10.1-8.8-4.6-13.7 10z"/>
<path color="#337afd" d="M494.3 694.3l13.7-10-8.8-4.7-13.6 9.8z"/>
<path color="#3876fe" d="M480.7 704.2l13.6-9.9-8.7-4.9-13.7 9.8z"/>
<path color="#3d71ff" d="M467 714.1l13.7-9.9-8.8-5-13.6 9.7z"/>
<path color="#406cfe" d="M453.4 723.9l13.6-9.8-8.7-5.2-13.7 9.7z"/>
<path color="#4368fd" d="M439.7 733.6l13.7-9.7-8.8-5.3-13.7 9.6z"/>
<path color="#4563fd" d="M426 743.3l13.7-9.7-8.8-5.4-13.6 9.5z"/>
<path color="#465ffb" d="M412.4 752.8l13.6-9.5-8.7-5.6-13.7 9.4z"/>
<path color="#f5ee21" d="M1090.5 179.1l6.9-7.1-8.8-0.1-6.8 6.8z"/>
<path color="#f5e825" d="M1076.9 193.2l13.6-14.1-8.7-0.4-13.7 13.9z"/>
<path color="#f6e028" d="M1063.2 207.4l13.7-14.2-8.8-0.6-13.7 13.9z"/>
<path color="#f9d72c" d="M1049.6 221.7l13.6-14.3-8.8-0.9-13.6 14z"/>
<path color="#fccf30" d="M1035.9 236l13.7-14.3-8.8-1.2-13.7 14z"/>
<path color="#fec735" d="M1022.2 250.3l13.7-14.3-8.8-1.5-13.6 14.1z"/>
<path color="#febf3b" d="M1008.6 264.6l13.6-14.3-8.7-1.7-13.7 14z"/>
<path color="#f8ba3d" d="M994.9 278.7l13.7-14.1-8.8-2-13.7 13.9z"/>
<path color="#edba33" d="M981.3 292.7l13.6-14-8.8-2.2-13.6 13.8z"/>
<path color="#e0bc2b" d="M967.6 306.5l13.7-13.8-8.8-2.4-13.7 13.6z"/>
<path color="#d3bf27" d="M953.9 320.1l13.7-13.6-8.8-2.6-13.6 13.4z"/>
<path color="#c4c22a" d="M940.3 333.5l13.6-13.4-8.7-2.8-13.7 13.3z"/>
<path color="#b5c533" d="M926.6 346.6l13.7-13.1-8.8-2.9-13.7 13z"/>
<path color="#a5c83d" d="M912.9 359.5l13.7-12.9-8.8-3-13.6 12.8z"/>
<path color="#95ca49" d="M899.3 372.2l13.6-12.7-8.7-3.1-13.7 12.6z"/>
<path color="#85cb55" d="M885.6 384.6l13.7-12.4-8.8-3.2-13.6 12.4z"/>
<path color="#75cc61" d="M872 396.9l13.6-12.3-8.7-3.2-13.7 12.3z"/>
<path color="#66cd6d" d="M858.3 408.9l13.7-12-8.8-3.2-13.7 12z"/>
<path color="#58cc79" d="M844.6 420.8l13.7-11.9-8.8-3.2-13.6 11.9z"/>
<path color="#4bcb83" d="M831 432.5l13.6-11.7-8.7-3.2-13.7 11.8z"/>
<path color="#40ca8d" d="M817.3 444.1l13.7-11.6-8.8-3.1-13.7 11.6z"/>
<path color="#38c896" d="M803.7 455.7l13.6-11.6-8.8-3.1-13.6 11.6z"/>
<path color="#32c69f" d="M790 467.2l13.7-11.5-8.8-3.1-13.7 11.5z"/>
<path color="#2cc4a6" d="M776.3 478.6l13.7-11.4-8.8-3.1-13.6 11.5z"/>
<path color="#25c2ad" d="M762.7 490.1l13.6-11.5-8.7-3-13.7 11.4z"/>
<path color="#1bc0b4" d="M749 501.5l13.7-11.4-8.8-3.1-13.7 11.5z"/>
<path color="#0ebdbb" d="M735.4 512.9l13.6-11.4-8.8-3-13.6 11.4z"/>
<path color="#04bbc2" d="M721.7 524.3l13.7-11.4-8.8-3-13.7 11.3z"/>
<path color="#01b8c8" d="M708 535.7l13.7-11.4-8.8-3.1-13.6 11.4z"/>
<path color="#06b6ce" d="M694.4 547.1l13.6-11.4-8.7-3.1-13.7 11.3z"/>
<path color="#0eb2d4" d="M680.7 558.5l13.7-11.4-8.8-3.2-13.7 11.3z"/>
<path color="#16afd9" d="M667.1 569.8l13.6-11.3-8.8-3.3-13.6 11.3z"/>
<path color="#1babde" d="M653.4 581.1l13.7-11.3-8.8-3.3-13.7 11.2z"/>
<path color="#1ea7e1" d="M639.7 592.3l13.7-11.2-8.8-3.4-13.6 11.1z"/>
<path color="#21a3e4" d="M626.1 603.5l13.6-11.2-8.7-3.5-13.7 11.1z"/>
<path color="#249ee6" d="M612.4 614.6l13.7-11.1-8.8-3.6-13.7 10.9z"/>
<path color="#269ae9" d="M598.7 625.6l13.7-11-8.8-3.8-13.6 10.9z"/>
<path color="#2896ec" d="M585.1 636.5l13.6-10.9-8.7-3.9-13.7 10.8z"/>
<path color="#2b91ef" d="M571.4 647.3l13.7-10.8-8.8-4-13.6 10.6z"/>
<path color="#2d8cf3" d="M557.8 658l13.6-10.7-8.7-4.2-13.7 10.5z"/>
<path color="#2d88f6" d="M544.1 668.5l13.7-10.5-8.8-4.4-13.7 10.3z"/>
<path color="#2e83f9" d="M530.4 678.9l13.7-10.4-8.8-4.6-13.6 10.3z"/>
<path color="#307ffb" d="M516.8 689.2l13.6-10.3-8.7-4.7-13.7 10.1z"/>
<path color="#347afd" d="M503.1 699.3l13.7-10.1-8.8-4.9-13.7 10z"/>
<path color="#3975fe" d="M489.5 709.4l13.6-10.1-8.8-5-13.6 9.9z"/>
<path color="#3d70ff" d="M475.8 719.4l13.7-10-8.8-5.2-13.7 9.9z"/>
<path color="#416bfe" d="M462.1 729.4l13.7-10-8.8-5.3-13.6 9.8z"/>
<path color="#4367fd" d="M448.5 739.2l13.6-9.8-8.7-5.5-13.7 9.7z"/>
<path color="#4562fc" d="M434.8 749l13.7-9.8-8.8-5.6-13.7 9.7z"/>
<path color="#465efb" d="M421.2 758.7l13.6-9.7-8.8-5.7-13.6 9.5z"/>
<path color="#f6f11f" d="M1099.3 179.9l6.8-7.2-8.7-0.7-6.9 7.1z"/>
<path color="#f5eb23" d="M1085.7 194.3l13.6-14.4-8.8-0.8-13.6 14.1z"/>
<path color="#f5e227" d="M1072 208.8l13.7-14.5-8.8-1.1-13.7 14.2z"/>
<path color="#f8da2b" d="M1058.3 223.4l13.7-14.6-8.8-1.4-13.6 14.3z"/>
<path color="#fcd12f" d="M1044.7 238l13.6-14.6-8.7-1.7-13.7 14.3z"/>
<path color="#fec934" d="M1031 252.6l13.7-14.6-8.8-2-13.7 14.3z"/>
<path color="#fec13a" d="M1017.4 267.1l13.6-14.5-8.8-2.3-13.6 14.3z"/>
<path color="#f9bb3d" d="M1003.7 281.4l13.7-14.3-8.8-2.5-13.7 14.1z"/>
<path color="#eeba34" d="M990 295.6l13.7-14.2-8.8-2.7-13.6 14z"/>
<path color="#e2bc2b" d="M976.4 309.6l13.6-14-8.7-2.9-13.7 13.8z"/>
<path color="#d4bf28" d="M962.7 323.4l13.7-13.8-8.8-3.1-13.7 13.6z"/>
<path color="#c6c22a" d="M949 336.9l13.7-13.5-8.8-3.3-13.6 13.4z"/>
<path color="#b6c532" d="M935.4 350.2l13.6-13.3-8.7-3.4-13.7 13.1z"/>
<path color="#a7c73c" d="M921.7 363.1l13.7-12.9-8.8-3.6-13.7 12.9z"/>
<path color="#96ca48" d="M908.1 375.8l13.6-12.7-8.8-3.6-13.6 12.7z"/>
<path color="#86cb54" d="M894.4 388.3l13.7-12.5-8.8-3.6-13.7 12.4z"/>
<path color="#76cc60" d="M880.7 400.5l13.7-12.2-8.8-3.7-13.6 12.3z"/>
<path color="#67cd6c" d="M867.1 412.5l13.6-12-8.7-3.6-13.7 12z"/>
<path color="#59cc78" d="M853.4 424.3l13.7-11.8-8.8-3.6-13.7 11.9z"/>
<path color="#4dcb82" d="M839.8 436l13.6-11.7-8.8-3.5-13.6 11.7z"/>
<path color="#41ca8c" d="M826.1 447.6l13.7-11.6-8.8-3.5-13.7 11.6z"/>
<path color="#39c895" d="M812.4 459.1l13.7-11.5-8.8-3.5-13.6 11.6z"/>
<path color="#33c69e" d="M798.8 470.5l13.6-11.4-8.7-3.4-13.7 11.5z"/>
<path color="#2dc4a5" d="M785.1 482l13.7-11.5-8.8-3.3-13.7 11.4z"/>
<path color="#26c2ad" d="M771.5 493.4l13.6-11.4-8.8-3.4-13.6 11.5z"/>
<path color="#1cc0b3" d="M757.8 504.8l13.7-11.4-8.8-3.3-13.7 11.4z"/>
<path color="#0fbeba" d="M744.1 516.2l13.7-11.4-8.8-3.3-13.6 11.4z"/>
<path color="#05bbc1" d="M730.5 527.7l13.6-11.5-8.7-3.3-13.7 11.4z"/>
<path color="#01b9c7" d="M716.8 539.1l13.7-11.4-8.8-3.4-13.7 11.4z"/>
<path color="#05b6ce" d="M703.2 550.5l13.6-11.4-8.8-3.4-13.6 11.4z"/>
<path color="#0db3d3" d="M689.5 561.9l13.7-11.4-8.8-3.4-13.7 11.4z"/>
<path color="#15afd9" d="M675.8 573.3l13.7-11.4-8.8-3.4-13.6 11.3z"/>
<path color="#1aabdd" d="M662.2 584.7l13.6-11.4-8.7-3.5-13.7 11.3z"/>
<path color="#1ea7e1" d="M648.5 596.1l13.7-11.4-8.8-3.6-13.7 11.2z"/>
<path color="#21a3e3" d="M634.8 607.3l13.7-11.2-8.8-3.8-13.6 11.2z"/>
<path color="#249ee6" d="M621.2 618.6l13.6-11.3-8.7-3.8-13.7 11.1z"/>
<path color="#269ae8" d="M607.5 629.7l13.7-11.1-8.8-4-13.7 11z"/>
<path color="#2895ec" d="M593.9 640.8l13.6-11.1-8.8-4.1-13.6 10.9z"/>
<path color="#2b91ef" d="M580.2 651.7l13.7-10.9-8.8-4.3-13.7 10.8z"/>
<path color="#2d8cf3" d="M566.5 662.6l13.7-10.9-8.8-4.4-13.6 10.7z"/>
<path color="#2d88f6" d="M552.9 673.3l13.6-10.7-8.7-4.6-13.7 10.5z"/>
<path color="#2e83f9" d="M539.2 683.8l13.7-10.5-8.8-4.8-13.7 10.4z"/>
<path color="#317efb" d="M525.6 694.3l13.6-10.5-8.8-4.9-13.6 10.3z"/>
<path color="#3579fd" d="M511.9 704.6l13.7-10.3-8.8-5.1-13.7 10.1z"/>
<path color="#3a74fe" d="M498.2 714.8l13.7-10.2-8.8-5.3-13.6 10.1z"/>
<path color="#3e6fff" d="M484.6 725l13.6-10.2-8.7-5.4-13.7 10z"/>
<path color="#426afe" d="M470.9 735l13.7-10-8.8-5.6-13.7 10z"/>
<path color="#4465fd" d="M457.3 745l13.6-10-8.8-5.6-13.6 9.8z"/>
<path color="#4561fc" d="M443.6 754.9l13.7-9.9-8.8-5.8-13.7 9.8z"/>
<path color="#475dfa" d="M429.9 764.7l13.7-9.8-8.8-5.9-13.6 9.7z"/>
<path color="#f7f31d" d="M1108.1 181l6.8-7.5-8.8-0.8-6.8 7.2z"/>
<path color="#f5ed22" d="M1094.4 195.8l13.7-14.8-8.8-1.1-13.6 14.4z"/>
<path color="#f5e426" d="M1080.8 210.7l13.6-14.9-8.7-1.5-13.7 14.5z"/>
<path color="#f7db2a" d="M1067.1 225.6l13.7-14.9-8.8-1.9-13.7 14.6z"/>
<path color="#fbd32f" d="M1053.4 240.5l13.7-14.9-8.8-2.2-13.6 14.6z"/>
<path color="#feca33" d="M1039.8 255.4l13.6-14.9-8.7-2.5-13.7 14.6z"/>
<path color="#fec239" d="M1026.1 270.1l13.7-14.7-8.8-2.8-13.6 14.5z"/>
<path color="#fabb3d" d="M1012.5 284.7l13.6-14.6-8.7-3-13.7 14.3z"/>
<path color="#efba35" d="M998.8 299.1l13.7-14.4-8.8-3.3-13.7 14.2z"/>
<path color="#e3bc2c" d="M985.1 313.3l13.7-14.2-8.8-3.5-13.6 14z"/>
<path color="#d5be28" d="M971.5 327.2l13.6-13.9-8.7-3.7-13.7 13.8z"/>
<path color="#c7c12a" d="M957.8 340.9l13.7-13.7-8.8-3.8-13.7 13.5z"/>
<path color="#b7c532" d="M944.2 354.2l13.6-13.3-8.8-4-13.6 13.3z"/>
<path color="#a7c73c" d="M930.5 367.2l13.7-13-8.8-4-13.7 12.9z"/>
<path color="#97ca48" d="M916.8 379.9l13.7-12.7-8.8-4.1-13.6 12.7z"/>
<path color="#87cb54" d="M903.2 392.4l13.6-12.5-8.7-4.1-13.7 12.5z"/>
<path color="#77cc60" d="M889.5 404.5l13.7-12.1-8.8-4.1-13.7 12.2z"/>
<path color="#67cd6c" d="M875.9 416.5l13.6-12-8.8-4-13.6 12z"/>
<path color="#5acc77" d="M862.2 428.3l13.7-11.8-8.8-4-13.7 11.8z"/>
<path color="#4dcc82" d="M848.5 439.9l13.7-11.6-8.8-4-13.6 11.7z"/>
<path color="#42ca8c" d="M834.9 451.4l13.6-11.5-8.7-3.9-13.7 11.6z"/>
<path color="#39c895" d="M821.2 462.8l13.7-11.4-8.8-3.8-13.7 11.5z"/>
<path color="#33c69d" d="M807.6 474.2l13.6-11.4-8.8-3.7-13.6 11.4z"/>
<path color="#2ec4a5" d="M793.9 485.6l13.7-11.4-8.8-3.7-13.7 11.5z"/>
<path color="#27c2ac" d="M780.2 497l13.7-11.4-8.8-3.6-13.6 11.4z"/>
<path color="#1dc0b3" d="M766.6 508.4l13.6-11.4-8.7-3.6-13.7 11.4z"/>
<path color="#10beba" d="M752.9 519.8l13.7-11.4-8.8-3.6-13.7 11.4z"/>
<path color="#06bcc0" d="M739.2 531.3l13.7-11.5-8.8-3.6-13.6 11.5z"/>
<path color="#01b9c7" d="M725.6 542.7l13.6-11.4-8.7-3.6-13.7 11.4z"/>
<path color="#04b6cd" d="M711.9 554.2l13.7-11.5-8.8-3.6-13.6 11.4z"/>
<path color="#0db3d3" d="M698.3 565.7l13.6-11.5-8.7-3.7-13.7 11.4z"/>
<path color="#15afd8" d="M684.6 577.1l13.7-11.4-8.8-3.8-13.7 11.4z"/>
<path color="#1aacdd" d="M670.9 588.6l13.7-11.5-8.8-3.8-13.6 11.4z"/>
<path color="#1ea7e1" d="M657.3 600l13.6-11.4-8.7-3.9-13.7 11.4z"/>
<path color="#21a3e3" d="M643.6 611.4l13.7-11.4-8.8-3.9-13.7 11.2z"/>
<path color="#249ee6" d="M630 622.8l13.6-11.4-8.8-4.1-13.6 11.3z"/>
<path color="#269ae9" d="M616.3 634l13.7-11.2-8.8-4.2-13.7 11.1z"/>
<path color="#2895ec" d="M602.6 645.2l13.7-11.2-8.8-4.3-13.6 11.1z"/>
<path color="#2b91ef" d="M589 656.3l13.6-11.1-8.7-4.4-13.7 10.9z"/>
<path color="#2d8cf3" d="M575.3 667.3l13.7-11-8.8-4.6-13.7 10.9z"/>
<path color="#2e87f7" d="M561.7 678.2l13.6-10.9-8.8-4.7-13.6 10.7z"/>
<path color="#2f82f9" d="M548 689l13.7-10.8-8.8-4.9-13.7 10.5z"/>
<path color="#317dfc" d="M534.3 699.6l13.7-10.6-8.8-5.2-13.6 10.5z"/>
<path color="#3678fd" d="M520.7 710l13.6-10.4-8.7-5.3-13.7 10.3z"/>
<path color="#3b73fe" d="M507 720.4l13.7-10.4-8.8-5.4-13.7 10.2z"/>
<path color="#3f6efe" d="M493.4 730.7l13.6-10.3-8.8-5.6-13.6 10.2z"/>
<path color="#4269fe" d="M479.7 740.9l13.7-10.2-8.8-5.7-13.7 10z"/>
<path color="#4464fd" d="M466 751l13.7-10.1-8.8-5.9-13.6 10z"/>
<path color="#4660fb" d="M452.4 761l13.6-10-8.7-6-13.7 9.9z"/>
<path color="#475bf9" d="M438.7 770.9l13.7-9.9-8.8-6.1-13.7 9.8z"/>
<path color="#f7f51b" d="M1116.9 182.2l6.8-7.8-8.8-0.9-6.8 7.5z"/>
<path color="#f6ef20" d="M1103.2 197.7l13.7-15.5-8.8-1.2-13.7 14.8z"/>
<path color="#f5e626" d="M1089.5 213l13.7-15.3-8.8-1.9-13.6 14.9z"/>
<path color="#f7dd2a" d="M1075.9 228.3l13.6-15.3-8.7-2.3-13.7 14.9z"/>
<path color="#fad42e" d="M1062.2 243.5l13.7-15.2-8.8-2.7-13.7 14.9z"/>
<path color="#fdcb33" d="M1048.6 258.7l13.6-15.2-8.8-3-13.6 14.9z"/>
<path color="#fec239" d="M1034.9 273.7l13.7-15-8.8-3.3-13.7 14.7z"/>
<path color="#fbbc3d" d="M1021.2 288.5l13.7-14.8-8.8-3.6-13.6 14.6z"/>
<path color="#f0ba36" d="M1007.6 303.1l13.6-14.6-8.7-3.8-13.7 14.4z"/>
<path color="#e3bc2c" d="M993.9 317.5l13.7-14.4-8.8-4-13.7 14.2z"/>
<path color="#d5be28" d="M980.3 331.6l13.6-14.1-8.8-4.2-13.6 13.9z"/>
<path color="#c6c22a" d="M966.6 345.3l13.7-13.7-8.8-4.4-13.7 13.7z"/>
<path color="#b7c532" d="M952.9 358.8l13.7-13.5-8.8-4.4-13.6 13.3z"/>
<path color="#a7c73c" d="M939.3 371.8l13.6-13-8.7-4.6-13.7 13z"/>
<path color="#96ca48" d="M925.6 384.6l13.7-12.8-8.8-4.6-13.7 12.7z"/>
<path color="#86cb55" d="M912 397l13.6-12.4-8.8-4.7-13.6 12.5z"/>
<path color="#76cc60" d="M898.3 409.1l13.7-12.1-8.8-4.6-13.7 12.1z"/>
<path color="#67cd6c" d="M884.6 421l13.7-11.9-8.8-4.6-13.6 12z"/>
<path color="#5acc78" d="M871 432.7l13.6-11.7-8.7-4.5-13.7 11.8z"/>
<path color="#4dcc82" d="M857.3 444.2l13.7-11.5-8.8-4.4-13.7 11.6z"/>
<path color="#42ca8c" d="M843.7 455.6l13.6-11.4-8.8-4.3-13.6 11.5z"/>
<path color="#39c995" d="M830 467l13.7-11.4-8.8-4.2-13.7 11.4z"/>
<path color="#33c69d" d="M816.3 478.3l13.7-11.3-8.8-4.2-13.6 11.4z"/>
<path color="#2ec4a5" d="M802.7 489.6l13.6-11.3-8.7-4.1-13.7 11.4z"/>
<path color="#27c2ac" d="M789 500.9l13.7-11.3-8.8-4-13.7 11.4z"/>
<path color="#1dc0b3" d="M775.3 512.3l13.7-11.4-8.8-3.9-13.6 11.4z"/>
<path color="#11beb9" d="M761.7 523.7l13.6-11.4-8.7-3.9-13.7 11.4z"/>
<path color="#06bcc0" d="M748 535.1l13.7-11.4-8.8-3.9-13.7 11.5z"/>
<path color="#01b9c7" d="M734.4 546.6l13.6-11.5-8.8-3.8-13.6 11.4z"/>
<path color="#04b6cd" d="M720.7 558.1l13.7-11.5-8.8-3.9-13.7 11.5z"/>
<path color="#0cb3d3" d="M707 569.6l13.7-11.5-8.8-3.9-13.6 11.5z"/>
<path color="#15afd8" d="M693.4 581.1l13.6-11.5-8.7-3.9-13.7 11.4z"/>
<path color="#1aacdd" d="M679.7 592.7l13.7-11.6-8.8-4-13.7 11.5z"/>
<path color="#1ea7e1" d="M666.1 604.2l13.6-11.5-8.8-4.1-13.6 11.4z"/>
<path color="#21a3e3" d="M652.4 615.7l13.7-11.5-8.8-4.2-13.7 11.4z"/>
<path color="#249ee6" d="M638.7 627.1l13.7-11.4-8.8-4.3-13.6 11.4z"/>
<path color="#269ae9" d="M625.1 638.6l13.6-11.5-8.7-4.3-13.7 11.2z"/>
<path color="#2895ec" d="M611.4 649.9l13.7-11.3-8.8-4.6-13.7 11.2z"/>
<path color="#2b90f0" d="M597.8 661.2l13.6-11.3-8.8-4.7-13.6 11.1z"/>
<path color="#2d8bf3" d="M584.1 672.3l13.7-11.1-8.8-4.9-13.7 11z"/>
<path color="#2e86f7" d="M570.4 683.4l13.7-11.1-8.8-5-13.6 10.9z"/>
<path color="#2f81fa" d="M556.8 694.3l13.6-10.9-8.7-5.2-13.7 10.8z"/>
<path color="#327cfc" d="M543.1 705.1l13.7-10.8-8.8-5.3-13.7 10.6z"/>
<path color="#3777fe" d="M529.5 715.7l13.6-10.6-8.8-5.5-13.6 10.4z"/>
<path color="#3c72ff" d="M515.8 726.2l13.7-10.5-8.8-5.7-13.7 10.4z"/>
<path color="#406cfe" d="M502.1 736.6l13.7-10.4-8.8-5.8-13.6 10.3z"/>
<path color="#4368fd" d="M488.5 746.9l13.6-10.3-8.7-5.9-13.7 10.2z"/>
<path color="#4563fc" d="M474.8 757.1l13.7-10.2-8.8-6-13.7 10.1z"/>
<path color="#465efb" d="M461.1 767.2l13.7-10.1-8.8-6.1-13.6 10z"/>
<path color="#475af9" d="M447.5 777.3l13.6-10.1-8.7-6.2-13.7 9.9z"/>
<path color="#f8f718" d="M1125.6 184l6.9-8.1-8.8-1.5-6.8 7.8z"/>
<path color="#f6f11f" d="M1112 200.1l13.6-16.1-8.7-1.8-13.7 15.5z"/>
<path color="#f5e725" d="M1098.3 216l13.7-15.9-8.8-2.4-13.7 15.3z"/>
<path color="#f6de29" d="M1084.7 231.6l13.6-15.6-8.8-3-13.6 15.3z"/>
<path color="#fad42e" d="M1071 247.1l13.7-15.5-8.8-3.3-13.7 15.2z"/>
<path color="#fdcb33" d="M1057.3 262.5l13.7-15.4-8.8-3.6-13.6 15.2z"/>
<path color="#fec339" d="M1043.7 277.8l13.6-15.3-8.7-3.8-13.7 15z"/>
<path color="#fbbc3d" d="M1030 292.9l13.7-15.1-8.8-4.1-13.7 14.8z"/>
<path color="#f0ba36" d="M1016.4 307.7l13.6-14.8-8.8-4.4-13.6 14.6z"/>
<path color="#e3bc2c" d="M1002.7 322.3l13.7-14.6-8.8-4.6-13.7 14.4z"/>
<path color="#d5be28" d="M989 336.5l13.7-14.2-8.8-4.8-13.6 14.1z"/>
<path color="#c5c22a" d="M975.4 350.4l13.6-13.9-8.7-4.9-13.7 13.7z"/>
<path color="#b5c533" d="M961.7 363.9l13.7-13.5-8.8-5.1-13.7 13.5z"/>
<path color="#a5c83d" d="M948.1 377l13.6-13.1-8.8-5.1-13.6 13z"/>
<path color="#95ca49" d="M934.4 389.7l13.7-12.7-8.8-5.2-13.7 12.8z"/>
<path color="#85cb56" d="M920.7 402.1l13.7-12.4-8.8-5.1-13.6 12.4z"/>
<path color="#75cc61" d="M907.1 414.1l13.6-12-8.7-5.1-13.7 12.1z"/>
<path color="#66cd6d" d="M893.4 425.9l13.7-11.8-8.8-5-13.7 11.9z"/>
<path color="#59cc78" d="M879.7 437.5l13.7-11.6-8.8-4.9-13.6 11.7z"/>
<path color="#4ccb83" d="M866.1 448.9l13.6-11.4-8.7-4.8-13.7 11.5z"/>
<path color="#41ca8c" d="M852.4 460.2l13.7-11.3-8.8-4.7-13.6 11.4z"/>
<path color="#39c895" d="M838.8 471.4l13.6-11.2-8.7-4.6-13.7 11.4z"/>
<path color="#33c69d" d="M825.1 482.7l13.7-11.3-8.8-4.4-13.7 11.3z"/>
<path color="#2ec4a5" d="M811.4 493.9l13.7-11.2-8.8-4.4-13.6 11.3z"/>
<path color="#27c2ac" d="M797.8 505.2l13.6-11.3-8.7-4.3-13.7 11.3z"/>
<path color="#1dc0b3" d="M784.1 516.5l13.7-11.3-8.8-4.3-13.7 11.4z"/>
<path color="#11beb9" d="M770.5 527.9l13.6-11.4-8.8-4.2-13.6 11.4z"/>
<path color="#06bcc0" d="M756.8 539.3l13.7-11.4-8.8-4.2-13.7 11.4z"/>
<path color="#01b9c7" d="M743.1 550.8l13.7-11.5-8.8-4.2-13.6 11.5z"/>
<path color="#04b6cd" d="M729.5 562.3l13.6-11.5-8.7-4.2-13.7 11.5z"/>
<path color="#0cb3d3" d="M715.8 573.8l13.7-11.5-8.8-4.2-13.7 11.5z"/>
<path color="#15afd8" d="M702.2 585.4l13.6-11.6-8.8-4.2-13.6 11.5z"/>
<path color="#1aacdd" d="M688.5 597l13.7-11.6-8.8-4.3-13.7 11.6z"/>
<path color="#1ea7e1" d="M674.8 608.6l13.7-11.6-8.8-4.3-13.6 11.5z"/>
<path color="#21a3e3" d="M661.2 620.2l13.6-11.6-8.7-4.4-13.7 11.5z"/>
<path color="#249ee6" d="M647.5 631.7l13.7-11.5-8.8-4.5-13.7 11.4z"/>
<path color="#2699e9" d="M633.9 643.3l13.6-11.6-8.8-4.6-13.6 11.5z"/>
<path color="#2995ec" d="M620.2 654.8l13.7-11.5-8.8-4.7-13.7 11.3z"/>
<path color="#2c90f0" d="M606.5 666.2l13.7-11.4-8.8-4.9-13.6 11.3z"/>
<path color="#2d8bf4" d="M592.9 677.5l13.6-11.3-8.7-5-13.7 11.1z"/>
<path color="#2e86f8" d="M579.2 688.7l13.7-11.2-8.8-5.2-13.7 11.1z"/>
<path color="#2f81fa" d="M565.6 699.8l13.6-11.1-8.8-5.3-13.6 10.9z"/>
<path color="#327bfc" d="M551.9 710.8l13.7-11-8.8-5.5-13.7 10.8z"/>
<path color="#3876fe" d="M538.2 721.6l13.7-10.8-8.8-5.7-13.6 10.6z"/>
<path color="#3d70ff" d="M524.6 732.2l13.6-10.6-8.7-5.9-13.7 10.5z"/>
<path color="#416bfe" d="M510.9 742.8l13.7-10.6-8.8-6-13.7 10.4z"/>
<path color="#4466fd" d="M497.2 753.2l13.7-10.4-8.8-6.2-13.6 10.3z"/>
<path color="#4561fc" d="M483.6 763.5l13.6-10.3-8.7-6.3-13.7 10.2z"/>
<path color="#475dfa" d="M469.9 773.7l13.7-10.2-8.8-6.4-13.7 10.1z"/>
<path color="#4758f8" d="M456.3 783.9l13.6-10.2-8.8-6.5-13.6 10.1z"/>
<path color="#f8f917" d="M1134.4 187.1l6.9-8.4-8.8-2.8-6.9 8.1z"/>
<path color="#f6f21e" d="M1120.8 203.5l13.6-16.4-8.8-3.1-13.6 16.1z"/>
<path color="#f5e825" d="M1107.1 219.6l13.7-16.1-8.8-3.4-13.7 15.9z"/>
<path color="#f6df29" d="M1093.4 235.4l13.7-15.8-8.8-3.6-13.6 15.6z"/>
<path color="#fad52e" d="M1079.8 251.2l13.6-15.8-8.7-3.8-13.7 15.5z"/>
<path color="#fdcb33" d="M1066.1 266.9l13.7-15.7-8.8-4.1-13.7 15.4z"/>
<path color="#fec239" d="M1052.5 282.5l13.6-15.6-8.8-4.4-13.6 15.3z"/>
<path color="#fabb3d" d="M1038.8 297.8l13.7-15.3-8.8-4.7-13.7 15.1z"/>
<path color="#efba35" d="M1025.1 312.9l13.7-15.1-8.8-4.9-13.6 14.8z"/>
<path color="#e2bc2b" d="M1011.5 327.7l13.6-14.8-8.7-5.2-13.7 14.6z"/>
<path color="#d3bf27" d="M997.8 342.1l13.7-14.4-8.8-5.4-13.7 14.2z"/>
<path color="#c3c22b" d="M984.2 356.1l13.6-14-8.8-5.6-13.6 13.9z"/>
<path color="#b3c534" d="M970.5 369.6l13.7-13.5-8.8-5.7-13.7 13.5z"/>
<path color="#a3c83f" d="M956.8 382.8l13.7-13.2-8.8-5.7-13.6 13.1z"/>
<path color="#92ca4b" d="M943.2 395.5l13.6-12.7-8.7-5.8-13.7 12.7z"/>
<path color="#82cc58" d="M929.5 407.8l13.7-12.3-8.8-5.8-13.7 12.4z"/>
<path color="#72cd63" d="M915.8 419.7l13.7-11.9-8.8-5.7-13.6 12z"/>
<path color="#64cd6f" d="M902.2 431.4l13.6-11.7-8.7-5.6-13.7 11.8z"/>
<path color="#57cc7a" d="M888.5 442.8l13.7-11.4-8.8-5.5-13.7 11.6z"/>
<path color="#4bcb84" d="M874.9 454.1l13.6-11.3-8.8-5.3-13.6 11.4z"/>
<path color="#40ca8d" d="M861.2 465.2l13.7-11.1-8.8-5.2-13.7 11.3z"/>
<path color="#38c896" d="M847.5 476.3l13.7-11.1-8.8-5-13.6 11.2z"/>
<path color="#33c69e" d="M833.9 487.4l13.6-11.1-8.7-4.9-13.7 11.3z"/>
<path color="#2dc4a5" d="M820.2 498.6l13.7-11.2-8.8-4.7-13.7 11.2z"/>
<path color="#26c2ac" d="M806.6 509.8l13.6-11.2-8.8-4.7-13.6 11.3z"/>
<path color="#1dc0b3" d="M792.9 521l13.7-11.2-8.8-4.6-13.7 11.3z"/>
<path color="#11beba" d="M779.2 532.4l13.7-11.4-8.8-4.5-13.6 11.4z"/>
<path color="#06bcc0" d="M765.6 543.7l13.6-11.3-8.7-4.5-13.7 11.4z"/>
<path color="#01b9c7" d="M751.9 555.2l13.7-11.5-8.8-4.4-13.7 11.5z"/>
<path color="#04b6cd" d="M738.3 566.7l13.6-11.5-8.8-4.4-13.6 11.5z"/>
<path color="#0cb3d3" d="M724.6 578.3l13.7-11.6-8.8-4.4-13.7 11.5z"/>
<path color="#15afd9" d="M710.9 589.9l13.7-11.6-8.8-4.5-13.6 11.6z"/>
<path color="#1aabdd" d="M697.3 601.5l13.6-11.6-8.7-4.5-13.7 11.6z"/>
<path color="#1ea7e1" d="M683.6 613.2l13.7-11.7-8.8-4.5-13.7 11.6z"/>
<path color="#21a2e4" d="M670 624.9l13.6-11.7-8.8-4.6-13.6 11.6z"/>
<path color="#249ee6" d="M656.3 636.6l13.7-11.7-8.8-4.7-13.7 11.5z"/>
<path color="#2699e9" d="M642.6 648.2l13.7-11.6-8.8-4.9-13.6 11.6z"/>
<path color="#2994ed" d="M629 659.8l13.6-11.6-8.7-4.9-13.7 11.5z"/>
<path color="#2c8ff0" d="M615.3 671.3l13.7-11.5-8.8-5-13.7 11.4z"/>
<path color="#2d8af4" d="M601.6 682.8l13.7-11.5-8.8-5.1-13.6 11.3z"/>
<path color="#2e85f8" d="M588 694.2l13.6-11.4-8.7-5.3-13.7 11.2z"/>
<path color="#307ffb" d="M574.3 705.5l13.7-11.3-8.8-5.5-13.6 11.1z"/>
<path color="#347afd" d="M560.7 716.7l13.6-11.2-8.7-5.7-13.7 11z"/>
<path color="#3974fe" d="M547 727.6l13.7-10.9-8.8-5.9-13.7 10.8z"/>
<path color="#3f6fff" d="M533.3 738.4l13.7-10.8-8.8-6-13.6 10.6z"/>
<path color="#4269fe" d="M519.7 749l13.6-10.6-8.7-6.2-13.7 10.6z"/>
<path color="#4464fd" d="M506 759.6l13.7-10.6-8.8-6.2-13.7 10.4z"/>
<path color="#4660fb" d="M492.4 770l13.6-10.4-8.8-6.4-13.6 10.3z"/>
<path color="#475bf9" d="M478.7 780.4l13.7-10.4-8.8-6.5-13.7 10.2z"/>
<path color="#4756f7" d="M465 790.7l13.7-10.3-8.8-6.7-13.6 10.2z"/>
<path color="#f9f916" d="M1143.2 191.2l6.8-8.3-8.7-4.2-6.9 8.4z"/>
<path color="#f6f21e" d="M1129.5 207.7l13.7-16.5-8.8-4.1-13.6 16.4z"/>
<path color="#f5e825" d="M1115.9 223.8l13.6-16.1-8.7-4.2-13.7 16.1z"/>
<path color="#f6df29" d="M1102.2 239.9l13.7-16.1-8.8-4.2-13.7 15.8z"/>
<path color="#fad52e" d="M1088.6 255.9l13.6-16-8.8-4.5-13.6 15.8z"/>
<path color="#fdcb33" d="M1074.9 271.9l13.7-16-8.8-4.7-13.7 15.7z"/>
<path color="#fec239" d="M1061.2 287.8l13.7-15.9-8.8-5-13.6 15.6z"/>
<path color="#f9bb3d" d="M1047.6 303.4l13.6-15.6-8.7-5.3-13.7 15.3z"/>
<path color="#edba34" d="M1033.9 318.8l13.7-15.4-8.8-5.6-13.7 15.1z"/>
<path color="#e0bc2a" d="M1020.2 333.8l13.7-15-8.8-5.9-13.6 14.8z"/>
<path color="#d1bf27" d="M1006.6 348.3l13.6-14.5-8.7-6.1-13.7 14.4z"/>
<path color="#c0c32d" d="M992.9 362.4l13.7-14.1-8.8-6.2-13.6 14z"/>
<path color="#b0c636" d="M979.3 376l13.6-13.6-8.7-6.3-13.7 13.5z"/>
<path color="#9fc941" d="M965.6 389.1l13.7-13.1-8.8-6.4-13.7 13.2z"/>
<path color="#8fcb4e" d="M951.9 401.8l13.7-12.7-8.8-6.3-13.6 12.7z"/>
<path color="#7fcc5a" d="M938.3 414l13.6-12.2-8.7-6.3-13.7 12.3z"/>
<path color="#6fcd66" d="M924.6 425.8l13.7-11.8-8.8-6.2-13.7 11.9z"/>
<path color="#61cd71" d="M911 437.3l13.6-11.5-8.8-6.1-13.6 11.7z"/>
<path color="#55cc7c" d="M897.3 448.6l13.7-11.3-8.8-5.9-13.7 11.4z"/>
<path color="#49cb86" d="M883.6 459.7l13.7-11.1-8.8-5.8-13.6 11.3z"/>
<path color="#3eca8f" d="M870 470.7l13.6-11-8.7-5.6-13.7 11.1z"/>
<path color="#37c897" d="M856.3 481.6l13.7-10.9-8.8-5.5-13.7 11.1z"/>
<path color="#32c69f" d="M842.7 492.6l13.6-11-8.8-5.3-13.6 11.1z"/>
<path color="#2dc4a6" d="M829 503.6l13.7-11-8.8-5.2-13.7 11.2z"/>
<path color="#26c2ad" d="M815.3 514.7l13.7-11.1-8.8-5-13.6 11.2z"/>
<path color="#1cc0b4" d="M801.7 525.9l13.6-11.2-8.7-4.9-13.7 11.2z"/>
<path color="#10beba" d="M788 537.2l13.7-11.3-8.8-4.9-13.7 11.4z"/>
<path color="#05bbc1" d="M774.4 548.5l13.6-11.3-8.8-4.8-13.6 11.3z"/>
<path color="#01b9c7" d="M760.7 559.9l13.7-11.4-8.8-4.8-13.7 11.5z"/>
<path color="#05b6cd" d="M747 571.4l13.7-11.5-8.8-4.7-13.6 11.5z"/>
<path color="#0db3d3" d="M733.4 583l13.6-11.6-8.7-4.7-13.7 11.6z"/>
<path color="#15afd9" d="M719.7 594.7l13.7-11.7-8.8-4.7-13.7 11.6z"/>
<path color="#1babde" d="M706.1 606.3l13.6-11.6-8.8-4.8-13.6 11.6z"/>
<path color="#1ea7e1" d="M692.4 618.1l13.7-11.8-8.8-4.8-13.7 11.7z"/>
<path color="#22a2e4" d="M678.7 629.8l13.7-11.7-8.8-4.9-13.6 11.7z"/>
<path color="#249de6" d="M665.1 641.6l13.6-11.8-8.7-4.9-13.7 11.7z"/>
<path color="#2699ea" d="M651.4 653.3l13.7-11.7-8.8-5-13.7 11.6z"/>
<path color="#2994ed" d="M637.7 665l13.7-11.7-8.8-5.1-13.6 11.6z"/>
<path color="#2c8ef1" d="M624.1 676.7l13.6-11.7-8.7-5.2-13.7 11.5z"/>
<path color="#2d89f5" d="M610.4 688.3l13.7-11.6-8.8-5.4-13.7 11.5z"/>
<path color="#2e84f9" d="M596.8 699.8l13.6-11.5-8.8-5.5-13.6 11.4z"/>
<path color="#317efb" d="M583.1 711.3l13.7-11.5-8.8-5.6-13.7 11.3z"/>
<path color="#3579fd" d="M569.4 722.6l13.7-11.3-8.8-5.8-13.6 11.2z"/>
<path color="#3b73fe" d="M555.8 733.7l13.6-11.1-8.7-5.9-13.7 10.9z"/>
<path color="#406dfe" d="M542.1 744.6l13.7-10.9-8.8-6.1-13.7 10.8z"/>
<path color="#4368fe" d="M528.5 755.4l13.6-10.8-8.8-6.2-13.6 10.6z"/>
<path color="#4563fc" d="M514.8 766.1l13.7-10.7-8.8-6.4-13.7 10.6z"/>
<path color="#465efb" d="M501.1 776.7l13.7-10.6-8.8-6.5-13.6 10.4z"/>
<path color="#4759f8" d="M487.5 787.3l13.6-10.6-8.7-6.7-13.7 10.4z"/>
<path color="#4854f5" d="M473.8 797.7l13.7-10.4-8.8-6.9-13.7 10.3z"/>
<path color="#f8f917" d="M1152 195.9l6.8-8.6-8.8-4.4-6.8 8.3z"/>
<path color="#f6f21e" d="M1138.3 212.4l13.7-16.5-8.8-4.7-13.7 16.5z"/>
<path color="#f5e825" d="M1124.7 228.6l13.6-16.2-8.8-4.7-13.6 16.1z"/>
<path color="#f6de29" d="M1111 244.9l13.7-16.3-8.8-4.8-13.7 16.1z"/>
<path color="#fad42e" d="M1097.3 261.2l13.7-16.3-8.8-5-13.6 16z"/>
<path color="#feca33" d="M1083.7 277.5l13.6-16.3-8.7-5.3-13.7 16z"/>
<path color="#fec13a" d="M1070 293.7l13.7-16.2-8.8-5.6-13.7 15.9z"/>
<path color="#f8ba3d" d="M1056.3 309.6l13.7-15.9-8.8-5.9-13.6 15.6z"/>
<path color="#ebba32" d="M1042.7 325.3l13.6-15.7-8.7-6.2-13.7 15.4z"/>
<path color="#ddbd29" d="M1029 340.5l13.7-15.2-8.8-6.5-13.7 15z"/>
<path color="#cdc028" d="M1015.4 355.2l13.6-14.7-8.8-6.7-13.6 14.5z"/>
<path color="#bcc42f" d="M1001.7 369.4l13.7-14.2-8.8-6.9-13.7 14.1z"/>
<path color="#acc739" d="M988 383l13.7-13.6-8.8-7-13.6 13.6z"/>
<path color="#9bc945" d="M974.4 396.1l13.6-13.1-8.7-7-13.7 13.1z"/>
<path color="#8acb52" d="M960.7 408.7l13.7-12.6-8.8-7-13.7 12.7z"/>
<path color="#7acc5e" d="M947.1 420.8l13.6-12.1-8.8-6.9-13.6 12.2z"/>
<path color="#6bcd69" d="M933.4 432.5l13.7-11.7-8.8-6.8-13.7 11.8z"/>
<path color="#5dcc74" d="M919.7 443.9l13.7-11.4-8.8-6.7-13.6 11.5z"/>
<path color="#51cc7f" d="M906.1 454.9l13.6-11-8.7-6.6-13.7 11.3z"/>
<path color="#46cb88" d="M892.4 465.8l13.7-10.9-8.8-6.3-13.7 11.1z"/>
<path color="#3dc991" d="M878.8 476.6l13.6-10.8-8.8-6.1-13.6 11z"/>
<path color="#36c899" d="M865.1 487.3l13.7-10.7-8.8-5.9-13.7 10.9z"/>
<path color="#31c6a0" d="M851.4 498.1l13.7-10.8-8.8-5.7-13.6 11z"/>
<path color="#2cc4a7" d="M837.8 509l13.6-10.9-8.7-5.5-13.7 11z"/>
<path color="#25c2ae" d="M824.1 520l13.7-11-8.8-5.4-13.7 11.1z"/>
<path color="#1ac0b4" d="M810.5 531.1l13.6-11.1-8.8-5.3-13.6 11.2z"/>
<path color="#0ebdbb" d="M796.8 542.3l13.7-11.2-8.8-5.2-13.7 11.3z"/>
<path color="#04bbc2" d="M783.1 553.6l13.7-11.3-8.8-5.1-13.6 11.3z"/>
<path color="#01b9c8" d="M769.5 565l13.6-11.4-8.7-5.1-13.7 11.4z"/>
<path color="#05b6ce" d="M755.8 576.5l13.7-11.5-8.8-5.1-13.7 11.5z"/>
<path color="#0eb2d4" d="M742.1 588l13.7-11.5-8.8-5.1-13.6 11.6z"/>
<path color="#16afd9" d="M728.5 599.7l13.6-11.7-8.7-5-13.7 11.7z"/>
<path color="#1babde" d="M714.8 611.4l13.7-11.7-8.8-5-13.6 11.6z"/>
<path color="#1fa6e2" d="M701.2 623.2l13.6-11.8-8.7-5.1-13.7 11.8z"/>
<path color="#22a2e4" d="M687.5 635l13.7-11.8-8.8-5.1-13.7 11.7z"/>
<path color="#259de7" d="M673.8 646.8l13.7-11.8-8.8-5.2-13.6 11.8z"/>
<path color="#2798ea" d="M660.2 658.7l13.6-11.9-8.7-5.2-13.7 11.7z"/>
<path color="#2a93ee" d="M646.5 670.5l13.7-11.8-8.8-5.4-13.7 11.7z"/>
<path color="#2c8ef2" d="M632.9 682.3l13.6-11.8-8.8-5.5-13.6 11.7z"/>
<path color="#2d88f6" d="M619.2 694l13.7-11.7-8.8-5.6-13.7 11.6z"/>
<path color="#2e83f9" d="M605.5 705.6l13.7-11.6-8.8-5.7-13.6 11.5z"/>
<path color="#317dfc" d="M591.9 717.2l13.6-11.6-8.7-5.8-13.7 11.5z"/>
<path color="#3677fe" d="M578.2 728.6l13.7-11.4-8.8-5.9-13.7 11.3z"/>
<path color="#3c71ff" d="M564.6 739.8l13.6-11.2-8.8-6-13.6 11.1z"/>
<path color="#416cfe" d="M550.9 750.9l13.7-11.1-8.8-6.1-13.7 10.9z"/>
<path color="#4466fd" d="M537.2 761.9l13.7-11-8.8-6.3-13.6 10.8z"/>
<path color="#4561fc" d="M523.6 772.7l13.6-10.8-8.7-6.5-13.7 10.7z"/>
<path color="#475cfa" d="M509.9 783.5l13.7-10.8-8.8-6.6-13.7 10.6z"/>
<path color="#4757f7" d="M496.3 794.2l13.6-10.7-8.8-6.8-13.6 10.6z"/>
<path color="#4852f4" d="M482.6 804.8l13.7-10.6-8.8-6.9-13.7 10.4z"/>
<path color="#f8f817" d="M1160.7 201l6.9-8.7-8.8-5-6.8 8.6z"/>
<path color="#f6f11f" d="M1147.1 217.7l13.6-16.7-8.7-5.1-13.7 16.5z"/>
<path color="#f5e725" d="M1133.4 234l13.7-16.3-8.8-5.3-13.6 16.2z"/>
<path color="#f6dd2a" d="M1119.8 250.3l13.6-16.3-8.7-5.4-13.7 16.3z"/>
<path color="#fbd32e" d="M1106.1 266.9l13.7-16.6-8.8-5.4-13.7 16.3z"/>
<path color="#fec934" d="M1092.4 283.6l13.7-16.7-8.8-5.7-13.6 16.3z"/>
<path color="#febf3b" d="M1078.8 300.2l13.6-16.6-8.7-6.1-13.7 16.2z"/>
<path color="#f6ba3b" d="M1065.1 316.5l13.7-16.3-8.8-6.5-13.7 15.9z"/>
<path color="#e8bb2f" d="M1051.5 332.4l13.6-15.9-8.8-6.9-13.6 15.7z"/>
<path color="#d9be28" d="M1037.8 347.9l13.7-15.5-8.8-7.1-13.7 15.2z"/>
<path color="#c8c129" d="M1024.1 362.7l13.7-14.8-8.8-7.4-13.6 14.7z"/>
<path color="#b7c532" d="M1010.5 377l13.6-14.3-8.7-7.5-13.7 14.2z"/>
<path color="#a6c83d" d="M996.8 390.7l13.7-13.7-8.8-7.6-13.7 13.6z"/>
<path color="#95ca49" d="M983.2 403.8l13.6-13.1-8.8-7.7-13.6 13.1z"/>
<path color="#84cc56" d="M969.5 416.3l13.7-12.5-8.8-7.7-13.7 12.6z"/>
<path color="#74cc62" d="M955.8 428.3l13.7-12-8.8-7.6-13.6 12.1z"/>
<path color="#65cd6e" d="M942.2 439.8l13.6-11.5-8.7-7.5-13.7 11.7z"/>
<path color="#59cc78" d="M928.5 451l13.7-11.2-8.8-7.3-13.7 11.4z"/>
<path color="#4dcc82" d="M914.9 461.8l13.6-10.8-8.8-7.1-13.6 11z"/>
<path color="#43ca8b" d="M901.2 472.4l13.7-10.6-8.8-6.9-13.7 10.9z"/>
<path color="#3bc993" d="M887.5 483l13.7-10.6-8.8-6.6-13.6 10.8z"/>
<path color="#35c79b" d="M873.9 493.5l13.6-10.5-8.7-6.4-13.7 10.7z"/>
<path color="#30c5a2" d="M860.2 504.1l13.7-10.6-8.8-6.2-13.7 10.8z"/>
<path color="#2ac3a9" d="M846.6 514.9l13.6-10.8-8.8-6-13.6 10.9z"/>
<path color="#23c1af" d="M832.9 525.8l13.7-10.9-8.8-5.9-13.7 11z"/>
<path color="#18bfb6" d="M819.2 536.8l13.7-11-8.8-5.8-13.6 11.1z"/>
<path color="#0cbdbc" d="M805.6 547.9l13.6-11.1-8.7-5.7-13.7 11.2z"/>
<path color="#03bbc3" d="M791.9 559.1l13.7-11.2-8.8-5.6-13.7 11.3z"/>
<path color="#01b8c9" d="M778.2 570.4l13.7-11.3-8.8-5.5-13.6 11.4z"/>
<path color="#06b5cf" d="M764.6 581.8l13.6-11.4-8.7-5.4-13.7 11.5z"/>
<path color="#10b2d5" d="M750.9 593.3l13.7-11.5-8.8-5.3-13.7 11.5z"/>
<path color="#17aeda" d="M737.3 605l13.6-11.7-8.8-5.3-13.6 11.7z"/>
<path color="#1caadf" d="M723.6 616.7l13.7-11.7-8.8-5.3-13.7 11.7z"/>
<path color="#1fa6e2" d="M709.9 628.5l13.7-11.8-8.8-5.3-13.6 11.8z"/>
<path color="#23a1e4" d="M696.3 640.4l13.6-11.9-8.7-5.3-13.7 11.8z"/>
<path color="#259ce7" d="M682.6 652.3l13.7-11.9-8.8-5.4-13.7 11.8z"/>
<path color="#2797eb" d="M669 664.2l13.6-11.9-8.8-5.5-13.6 11.9z"/>
<path color="#2b92ee" d="M655.3 676.1l13.7-11.9-8.8-5.5-13.7 11.8z"/>
<path color="#2d8df3" d="M641.6 688l13.7-11.9-8.8-5.6-13.6 11.8z"/>
<path color="#2e87f7" d="M628 699.8l13.6-11.8-8.7-5.7-13.7 11.7z"/>
<path color="#2f82fa" d="M614.3 711.5l13.7-11.7-8.8-5.8-13.7 11.6z"/>
<path color="#327cfc" d="M600.7 723.2l13.6-11.7-8.8-5.9-13.6 11.6z"/>
<path color="#3876fe" d="M587 734.7l13.7-11.5-8.8-6-13.7 11.4z"/>
<path color="#3e70ff" d="M573.3 746l13.7-11.3-8.8-6.1-13.6 11.2z"/>
<path color="#426afe" d="M559.7 757.3l13.6-11.3-8.7-6.2-13.7 11.1z"/>
<path color="#4464fd" d="M546 768.4l13.7-11.1-8.8-6.4-13.7 11z"/>
<path color="#465ffb" d="M532.4 779.4l13.6-11-8.8-6.5-13.6 10.8z"/>
<path color="#475af9" d="M518.7 790.4l13.7-11-8.8-6.7-13.7 10.8z"/>
<path color="#4755f6" d="M505 801.3l13.7-10.9-8.8-6.9-13.6 10.7z"/>
<path color="#4850f3" d="M491.4 812l13.6-10.7-8.7-7.1-13.7 10.6z"/>
<path color="#f8f719" d="M1169.5 207.1l6.9-8.6-8.8-6.2-6.9 8.7z"/>
<path color="#f6f020" d="M1155.9 223.5l13.6-16.4-8.8-6.1-13.6 16.7z"/>
<path color="#f5e626" d="M1142.2 239.7l13.7-16.2-8.8-5.8-13.7 16.3z"/>
<path color="#f7dc2a" d="M1128.5 256.3l13.7-16.6-8.8-5.7-13.6 16.3z"/>
<path color="#fbd12f" d="M1114.9 273.3l13.6-17-8.7-6-13.7 16.6z"/>
<path color="#fec735" d="M1101.2 290.4l13.7-17.1-8.8-6.4-13.7 16.7z"/>
<path color="#febe3c" d="M1087.6 307.5l13.6-17.1-8.8-6.8-13.6 16.6z"/>
<path color="#f3ba38" d="M1073.9 324.1l13.7-16.6-8.8-7.3-13.7 16.3z"/>
<path color="#e4bb2c" d="M1060.2 340.3l13.7-16.2-8.8-7.6-13.6 15.9z"/>
<path color="#d4bf28" d="M1046.6 356l13.6-15.7-8.7-7.9-13.7 15.5z"/>
<path color="#c3c22b" d="M1032.9 371l13.7-15-8.8-8.1-13.7 14.8z"/>
<path color="#b1c636" d="M1019.3 385.3l13.6-14.3-8.8-8.3-13.6 14.3z"/>
<path color="#9fc942" d="M1005.6 399l13.7-13.7-8.8-8.3-13.7 13.7z"/>
<path color="#8dcb4f" d="M991.9 412.1l13.7-13.1-8.8-8.3-13.6 13.1z"/>
<path color="#7dcc5c" d="M978.3 424.5l13.6-12.4-8.7-8.3-13.7 12.5z"/>
<path color="#6dcd67" d="M964.6 436.4l13.7-11.9-8.8-8.2-13.7 12z"/>
<path color="#5fcd73" d="M951 447.8l13.6-11.4-8.8-8.1-13.6 11.5z"/>
<path color="#53cc7d" d="M937.3 458.7l13.7-10.9-8.8-8-13.7 11.2z"/>
<path color="#48cb86" d="M923.6 469.2l13.7-10.5-8.8-7.7-13.6 10.8z"/>
<path color="#3fca8e" d="M910 479.6l13.6-10.4-8.7-7.4-13.7 10.6z"/>
<path color="#38c896" d="M896.3 489.8l13.7-10.2-8.8-7.2-13.7 10.6z"/>
<path color="#33c69d" d="M882.6 500.2l13.7-10.4-8.8-6.8-13.6 10.5z"/>
<path color="#2ec4a4" d="M869 510.6l13.6-10.4-8.7-6.7-13.7 10.6z"/>
<path color="#28c3ab" d="M855.3 521.2l13.7-10.6-8.8-6.5-13.6 10.8z"/>
<path color="#20c1b1" d="M841.7 531.9l13.6-10.7-8.7-6.3-13.7 10.9z"/>
<path color="#15bfb7" d="M828 542.8l13.7-10.9-8.8-6.1-13.7 11z"/>
<path color="#09bdbe" d="M814.3 553.8l13.7-11-8.8-6-13.6 11.1z"/>
<path color="#02bac4" d="M800.7 564.9l13.6-11.1-8.7-5.9-13.7 11.2z"/>
<path color="#01b8ca" d="M787 576.1l13.7-11.2-8.8-5.8-13.7 11.3z"/>
<path color="#08b5d0" d="M773.4 587.4l13.6-11.3-8.8-5.7-13.6 11.4z"/>
<path color="#11b1d6" d="M759.7 598.9l13.7-11.5-8.8-5.6-13.7 11.5z"/>
<path color="#18addb" d="M746 610.5l13.7-11.6-8.8-5.6-13.6 11.7z"/>
<path color="#1ca9df" d="M732.4 622.2l13.6-11.7-8.7-5.5-13.7 11.7z"/>
<path color="#20a5e2" d="M718.7 634.1l13.7-11.9-8.8-5.5-13.7 11.8z"/>
<path color="#23a0e5" d="M705.1 646l13.6-11.9-8.8-5.6-13.6 11.9z"/>
<path color="#259be8" d="M691.4 657.9l13.7-11.9-8.8-5.6-13.7 11.9z"/>
<path color="#2896eb" d="M677.7 669.9l13.7-12-8.8-5.6-13.6 11.9z"/>
<path color="#2b91ef" d="M664.1 681.9l13.6-12-8.7-5.7-13.7 11.9z"/>
<path color="#2d8bf3" d="M650.4 693.9l13.7-12-8.8-5.8-13.7 11.9z"/>
<path color="#2e86f7" d="M636.8 705.8l13.6-11.9-8.8-5.9-13.6 11.8z"/>
<path color="#2f80fa" d="M623.1 717.6l13.7-11.8-8.8-6-13.7 11.7z"/>
<path color="#337afd" d="M609.4 729.4l13.7-11.8-8.8-6.1-13.6 11.7z"/>
<path color="#3a74fe" d="M595.8 741l13.6-11.6-8.7-6.2-13.7 11.5z"/>
<path color="#3f6eff" d="M582.1 752.4l13.7-11.4-8.8-6.3-13.7 11.3z"/>
<path color="#4368fe" d="M568.4 763.8l13.7-11.4-8.8-6.4-13.6 11.3z"/>
<path color="#4563fc" d="M554.8 775l13.6-11.2-8.7-6.5-13.7 11.1z"/>
<path color="#465dfa" d="M541.1 786.2l13.7-11.2-8.8-6.6-13.6 11z"/>
<path color="#4758f8" d="M527.5 797.3l13.6-11.1-8.7-6.8-13.7 11z"/>
<path color="#4853f5" d="M513.8 808.4l13.7-11.1-8.8-6.9-13.7 10.9z"/>
<path color="#484ef1" d="M500.1 819.3l13.7-10.9-8.8-7.1-13.6 10.7z"/>
<path color="#f7f51b" d="M1178.3 213.9l6.8-8.5-8.7-6.9-6.9 8.6z"/>
<path color="#f5ee21" d="M1164.6 229.7l13.7-15.8-8.8-6.8-13.6 16.4z"/>
<path color="#f5e526" d="M1151 245.7l13.6-16-8.7-6.2-13.7 16.2z"/>
<path color="#f8da2b" d="M1137.3 262.7l13.7-17-8.8-6-13.7 16.6z"/>
<path color="#fcd030" d="M1123.7 280.3l13.6-17.6-8.8-6.4-13.6 17z"/>
<path color="#fec537" d="M1110 298l13.7-17.7-8.8-7-13.7 17.1z"/>
<path color="#fbbc3d" d="M1096.3 315.5l13.7-17.5-8.8-7.6-13.6 17.1z"/>
<path color="#eeba35" d="M1082.7 332.5l13.6-17-8.7-8-13.7 16.6z"/>
<path color="#dfbc2a" d="M1069 349l13.7-16.5-8.8-8.4-13.7 16.2z"/>
<path color="#cec028" d="M1055.4 364.8l13.6-15.8-8.8-8.7-13.6 15.7z"/>
<path color="#bbc42f" d="M1041.7 379.9l13.7-15.1-8.8-8.8-13.7 15z"/>
<path color="#a9c73b" d="M1028 394.4l13.7-14.5-8.8-8.9-13.6 14.3z"/>
<path color="#97ca48" d="M1014.4 408.1l13.6-13.7-8.7-9.1-13.7 13.7z"/>
<path color="#85cb55" d="M1000.7 421.1l13.7-13-8.8-9.1-13.7 13.1z"/>
<path color="#74cc62" d="M987.1 433.4l13.6-12.3-8.8-9-13.6 12.4z"/>
<path color="#65cd6e" d="M973.4 445.2l13.7-11.8-8.8-8.9-13.7 11.9z"/>
<path color="#58cc79" d="M959.7 456.4l13.7-11.2-8.8-8.8-13.6 11.4z"/>
<path color="#4dcb82" d="M946.1 467l13.6-10.6-8.7-8.6-13.7 10.9z"/>
<path color="#43ca8b" d="M932.4 477.3l13.7-10.3-8.8-8.3-13.7 10.5z"/>
<path color="#3bc993" d="M918.7 487.3l13.7-10-8.8-8.1-13.6 10.4z"/>
<path color="#35c79a" d="M905.1 497.3l13.6-10-8.7-7.7-13.7 10.2z"/>
<path color="#31c6a0" d="M891.4 507.3l13.7-10-8.8-7.5-13.7 10.4z"/>
<path color="#2cc4a7" d="M877.8 517.5l13.6-10.2-8.8-7.1-13.6 10.4z"/>
<path color="#26c2ad" d="M864.1 528l13.7-10.5-8.8-6.9-13.7 10.6z"/>
<path color="#1dc0b3" d="M850.4 538.6l13.7-10.6-8.8-6.8-13.6 10.7z"/>
<path color="#11beb9" d="M836.8 549.3l13.6-10.7-8.7-6.7-13.7 10.9z"/>
<path color="#07bcc0" d="M823.1 560.1l13.7-10.8-8.8-6.5-13.7 11z"/>
<path color="#01b9c6" d="M809.5 571.1l13.6-11-8.8-6.3-13.6 11.1z"/>
<path color="#03b7cc" d="M795.8 582.2l13.7-11.1-8.8-6.2-13.7 11.2z"/>
<path color="#0ab4d1" d="M782.1 593.4l13.7-11.2-8.8-6.1-13.6 11.3z"/>
<path color="#13b0d7" d="M768.5 604.8l13.6-11.4-8.7-6-13.7 11.5z"/>
<path color="#19addc" d="M754.8 616.3l13.7-11.5-8.8-5.9-13.7 11.6z"/>
<path color="#1da8e0" d="M741.2 628l13.6-11.7-8.8-5.8-13.6 11.7z"/>
<path color="#20a4e3" d="M727.5 639.9l13.7-11.9-8.8-5.8-13.7 11.9z"/>
<path color="#249fe5" d="M713.8 651.8l13.7-11.9-8.8-5.8-13.6 11.9z"/>
<path color="#269ae8" d="M700.2 663.8l13.6-12-8.7-5.8-13.7 11.9z"/>
<path color="#2895ec" d="M686.5 675.9l13.7-12.1-8.8-5.9-13.7 12z"/>
<path color="#2c90f0" d="M672.9 688l13.6-12.1-8.8-6-13.6 12z"/>
<path color="#2d8af4" d="M659.2 700l13.7-12-8.8-6.1-13.7 12z"/>
<path color="#2e84f8" d="M645.5 712l13.7-12-8.8-6.1-13.6 11.9z"/>
<path color="#307ffb" d="M631.9 723.9l13.6-11.9-8.7-6.2-13.7 11.8z"/>
<path color="#3578fd" d="M618.2 735.7l13.7-11.8-8.8-6.3-13.7 11.8z"/>
<path color="#3b72ff" d="M604.5 747.4l13.7-11.7-8.8-6.3-13.6 11.6z"/>
<path color="#406cfe" d="M590.9 758.9l13.6-11.5-8.7-6.4-13.7 11.4z"/>
<path color="#4466fd" d="M577.2 770.4l13.7-11.5-8.8-6.5-13.7 11.4z"/>
<path color="#4661fc" d="M563.6 781.7l13.6-11.3-8.8-6.6-13.6 11.2z"/>
<path color="#475bfa" d="M549.9 793l13.7-11.3-8.8-6.7-13.7 11.2z"/>
<path color="#4756f7" d="M536.2 804.3l13.7-11.3-8.8-6.8-13.6 11.1z"/>
<path color="#4851f3" d="M522.6 815.6l13.6-11.3-8.7-7-13.7 11.1z"/>
<path color="#484bef" d="M508.9 826.6l13.7-11-8.8-7.2-13.7 10.9z"/>
<path color="#f7f31d" d="M1187.1 221.2l6.8-8-8.8-7.8-6.8 8.5z"/>
<path color="#f5ec22" d="M1173.4 236l13.7-14.8-8.8-7.3-13.7 15.8z"/>
<path color="#f5e327" d="M1159.8 252.1l13.6-16.1-8.8-6.3-13.6 16z"/>
<path color="#f8d82c" d="M1146.1 269.7l13.7-17.6-8.8-6.4-13.7 17z"/>
<path color="#fdcd31" d="M1132.4 288l13.7-18.3-8.8-7-13.6 17.6z"/>
<path color="#fec239" d="M1118.8 306.4l13.6-18.4-8.7-7.7-13.7 17.7z"/>
<path color="#f8ba3d" d="M1105.1 324.3l13.7-17.9-8.8-8.4-13.7 17.5z"/>
<path color="#e9bb30" d="M1091.5 341.7l13.6-17.4-8.8-8.8-13.6 17z"/>
<path color="#d8be28" d="M1077.8 358.4l13.7-16.7-8.8-9.2-13.7 16.5z"/>
<path color="#c6c22a" d="M1064.1 374.4l13.7-16-8.8-9.4-13.6 15.8z"/>
<path color="#b3c534" d="M1050.5 389.6l13.6-15.2-8.7-9.6-13.7 15.1z"/>
<path color="#a0c941" d="M1036.8 404.1l13.7-14.5-8.8-9.7-13.7 14.5z"/>
<path color="#8dcb4f" d="M1023.1 417.8l13.7-13.7-8.8-9.7-13.6 13.7z"/>
<path color="#7bcc5d" d="M1009.5 430.8l13.6-13-8.7-9.7-13.7 13z"/>
<path color="#6bcd69" d="M995.8 443l13.7-12.2-8.8-9.7-13.6 12.3z"/>
<path color="#5dcc75" d="M982.2 454.6l13.6-11.6-8.7-9.6-13.7 11.8z"/>
<path color="#50cc7f" d="M968.5 465.6l13.7-11-8.8-9.4-13.7 11.2z"/>
<path color="#46cb88" d="M954.8 476l13.7-10.4-8.8-9.2-13.6 10.6z"/>
<path color="#3dc990" d="M941.2 486l13.6-10-8.7-9-13.7 10.3z"/>
<path color="#37c897" d="M927.5 495.7l13.7-9.7-8.8-8.7-13.7 10z"/>
<path color="#33c69e" d="M913.9 505.3l13.6-9.6-8.8-8.4-13.6 10z"/>
<path color="#2ec5a4" d="M900.2 515l13.7-9.7-8.8-8-13.7 10z"/>
<path color="#29c3aa" d="M886.5 525l13.7-10-8.8-7.7-13.6 10.2z"/>
<path color="#22c1b0" d="M872.9 535.3l13.6-10.3-8.7-7.5-13.7 10.5z"/>
<path color="#18bfb6" d="M859.2 545.7l13.7-10.4-8.8-7.3-13.7 10.6z"/>
<path color="#0dbdbc" d="M845.6 556.2l13.6-10.5-8.8-7.1-13.6 10.7z"/>
<path color="#04bbc2" d="M831.9 566.9l13.7-10.7-8.8-6.9-13.7 10.8z"/>
<path color="#01b9c8" d="M818.2 577.7l13.7-10.8-8.8-6.8-13.6 11z"/>
<path color="#05b6cd" d="M804.6 588.6l13.6-10.9-8.7-6.6-13.7 11.1z"/>
<path color="#0db3d3" d="M790.9 599.7l13.7-11.1-8.8-6.4-13.7 11.2z"/>
<path color="#15afd8" d="M777.3 611l13.6-11.3-8.8-6.3-13.6 11.4z"/>
<path color="#1aacdd" d="M763.6 622.5l13.7-11.5-8.8-6.2-13.7 11.5z"/>
<path color="#1ea7e1" d="M749.9 634.1l13.7-11.6-8.8-6.2-13.6 11.7z"/>
<path color="#21a3e3" d="M736.3 645.9l13.6-11.8-8.7-6.1-13.7 11.9z"/>
<path color="#249ee6" d="M722.6 657.9l13.7-12-8.8-6-13.7 11.9z"/>
<path color="#2699e9" d="M708.9 669.9l13.7-12-8.8-6.1-13.6 12z"/>
<path color="#2994ed" d="M695.3 682l13.6-12.1-8.7-6.1-13.7 12.1z"/>
<path color="#2c8ef1" d="M681.6 694.2l13.7-12.2-8.8-6.1-13.6 12.1z"/>
<path color="#2d89f6" d="M668 706.3l13.6-12.1-8.7-6.2-13.7 12z"/>
<path color="#2e83f9" d="M654.3 718.4l13.7-12.1-8.8-6.3-13.7 12z"/>
<path color="#317dfc" d="M640.6 730.3l13.7-11.9-8.8-6.4-13.6 11.9z"/>
<path color="#3777fe" d="M627 742.2l13.6-11.9-8.7-6.4-13.7 11.8z"/>
<path color="#3d70ff" d="M613.3 754l13.7-11.8-8.8-6.5-13.7 11.7z"/>
<path color="#426afe" d="M599.7 765.6l13.6-11.6-8.8-6.6-13.6 11.5z"/>
<path color="#4464fd" d="M586 777.1l13.7-11.5-8.8-6.7-13.7 11.5z"/>
<path color="#465ffb" d="M572.3 788.5l13.7-11.4-8.8-6.7-13.6 11.3z"/>
<path color="#4759f9" d="M558.7 799.9l13.6-11.4-8.7-6.8-13.7 11.3z"/>
<path color="#4854f5" d="M545 811.3l13.7-11.4-8.8-6.9-13.7 11.3z"/>
<path color="#484ff1" d="M531.4 822.7l13.6-11.4-8.8-7-13.6 11.3z"/>
<path color="#4849ed" d="M517.7 834l13.7-11.3-8.8-7.1-13.7 11z"/>
<path color="#f6f01f" d="M1195.9 229.2l6.8-7.5-8.8-8.5-6.8 8z"/>
<path color="#f5ea24" d="M1182.2 242.6l13.7-13.4-8.8-8-13.7 14.8z"/>
<path color="#f6e128" d="M1168.5 259.1l13.7-16.5-8.8-6.6-13.6 16.1z"/>
<path color="#f9d62d" d="M1154.9 277.7l13.6-18.6-8.7-7-13.7 17.6z"/>
<path color="#feca33" d="M1141.2 296.8l13.7-19.1-8.8-8-13.7 18.3z"/>
<path color="#febf3b" d="M1127.6 315.7l13.6-18.9-8.8-8.8-13.6 18.4z"/>
<path color="#f3ba39" d="M1113.9 334.1l13.7-18.4-8.8-9.3-13.7 17.9z"/>
<path color="#e3bc2c" d="M1100.2 351.7l13.7-17.6-8.8-9.8-13.6 17.4z"/>
<path color="#d0bf27" d="M1086.6 368.6l13.6-16.9-8.7-10-13.7 16.7z"/>
<path color="#bdc32f" d="M1072.9 384.7l13.7-16.1-8.8-10.2-13.7 16z"/>
<path color="#a9c73b" d="M1059.2 400l13.7-15.3-8.8-10.3-13.6 15.2z"/>
<path color="#95ca49" d="M1045.6 414.5l13.6-14.5-8.7-10.4-13.7 14.5z"/>
<path color="#82cc58" d="M1031.9 428.2l13.7-13.7-8.8-10.4-13.7 13.7z"/>
<path color="#70cd65" d="M1018.3 441.1l13.6-12.9-8.8-10.4-13.6 13z"/>
<path color="#61cd72" d="M1004.6 453.2l13.7-12.1-8.8-10.3-13.7 12.2z"/>
<path color="#53cc7d" d="M990.9 464.7l13.7-11.5-8.8-10.2-13.6 11.6z"/>
<path color="#48cb86" d="M977.3 475.5l13.6-10.8-8.7-10.1-13.7 11z"/>
<path color="#3eca8f" d="M963.6 485.8l13.7-10.3-8.8-9.9-13.7 10.4z"/>
<path color="#38c896" d="M950 495.4l13.6-9.6-8.8-9.8-13.6 10z"/>
<path color="#33c79c" d="M936.3 504.7l13.7-9.3-8.8-9.4-13.7 9.7z"/>
<path color="#2fc5a2" d="M922.6 513.9l13.7-9.2-8.8-9-13.6 9.6z"/>
<path color="#2bc3a8" d="M909 523.3l13.6-9.4-8.7-8.6-13.7 9.7z"/>
<path color="#25c2ad" d="M895.3 533.1l13.7-9.8-8.8-8.3-13.7 10z"/>
<path color="#1dc0b3" d="M881.7 543.2l13.6-10.1-8.8-8.1-13.6 10.3z"/>
<path color="#12beb9" d="M868 553.4l13.7-10.2-8.8-7.9-13.7 10.4z"/>
<path color="#08bcbf" d="M854.3 563.7l13.7-10.3-8.8-7.7-13.6 10.5z"/>
<path color="#02bac4" d="M840.7 574.1l13.6-10.4-8.7-7.5-13.7 10.7z"/>
<path color="#01b8ca" d="M827 584.7l13.7-10.6-8.8-7.2-13.7 10.8z"/>
<path color="#07b5d0" d="M813.4 595.4l13.6-10.7-8.8-7-13.6 10.9z"/>
<path color="#10b2d5" d="M799.7 606.3l13.7-10.9-8.8-6.8-13.7 11.1z"/>
<path color="#17aeda" d="M786 617.4l13.7-11.1-8.8-6.6-13.6 11.3z"/>
<path color="#1baade" d="M772.4 628.8l13.6-11.4-8.7-6.4-13.7 11.5z"/>
<path color="#1fa6e2" d="M758.7 640.4l13.7-11.6-8.8-6.3-13.7 11.6z"/>
<path color="#22a1e4" d="M745 652.2l13.7-11.8-8.8-6.3-13.6 11.8z"/>
<path color="#259de7" d="M731.4 664.2l13.6-12-8.7-6.3-13.7 12z"/>
<path color="#2798ea" d="M717.7 676.3l13.7-12.1-8.8-6.3-13.7 12z"/>
<path color="#2a92ee" d="M704.1 688.4l13.6-12.1-8.8-6.4-13.6 12.1z"/>
<path color="#2d8df2" d="M690.4 700.6l13.7-12.2-8.8-6.4-13.7 12.2z"/>
<path color="#2e87f7" d="M676.7 712.8l13.7-12.2-8.8-6.4-13.6 12.1z"/>
<path color="#2f81fa" d="M663.1 724.9l13.6-12.1-8.7-6.5-13.7 12.1z"/>
<path color="#327bfc" d="M649.4 737l13.7-12.1-8.8-6.5-13.7 11.9z"/>
<path color="#3975fe" d="M635.8 748.9l13.6-11.9-8.8-6.7-13.6 11.9z"/>
<path color="#3f6eff" d="M622.1 760.7l13.7-11.8-8.8-6.7-13.7 11.8z"/>
<path color="#4368fe" d="M608.4 772.4l13.7-11.7-8.8-6.7-13.6 11.6z"/>
<path color="#4562fc" d="M594.8 783.9l13.6-11.5-8.7-6.8-13.7 11.5z"/>
<path color="#465dfa" d="M581.1 795.3l13.7-11.4-8.8-6.8-13.7 11.4z"/>
<path color="#4757f7" d="M567.5 806.8l13.6-11.5-8.8-6.8-13.6 11.4z"/>
<path color="#4852f4" d="M553.8 818.3l13.7-11.5-8.8-6.9-13.7 11.4z"/>
<path color="#484cf0" d="M540.1 829.8l13.7-11.5-8.8-7-13.6 11.4z"/>
<path color="#4747eb" d="M526.5 841.3l13.6-11.5-8.7-7.1-13.7 11.3z"/>
<path color="#f5ed22" d="M1204.6 237.4l6.9-6.8-8.8-8.9-6.8 7.5z"/>
<path color="#f5e725" d="M1191 250.2l13.6-12.8-8.7-8.2-13.7 13.4z"/>
<path color="#f6de29" d="M1177.3 267.3l13.7-17.1-8.8-7.6-13.7 16.5z"/>
<path color="#fbd32f" d="M1163.6 286.9l13.7-19.6-8.8-8.2-13.6 18.6z"/>
<path color="#fec636" d="M1150 306.8l13.6-19.9-8.7-9.2-13.7 19.1z"/>
<path color="#fbbc3d" d="M1136.3 326.2l13.7-19.4-8.8-10-13.6 18.9z"/>
<path color="#ecba33" d="M1122.7 344.7l13.6-18.5-8.7-10.5-13.7 18.4z"/>
<path color="#dabd28" d="M1109 362.5l13.7-17.8-8.8-10.6-13.7 17.6z"/>
<path color="#c7c12a" d="M1095.3 379.4l13.7-16.9-8.8-10.8-13.6 16.9z"/>
<path color="#b2c635" d="M1081.7 395.7l13.6-16.3-8.7-10.8-13.7 16.1z"/>
<path color="#9dc943" d="M1068 411l13.7-15.3-8.8-11-13.7 15.3z"/>
<path color="#89cb53" d="M1054.4 425.5l13.6-14.5-8.8-11-13.6 14.5z"/>
<path color="#75cc61" d="M1040.7 439.2l13.7-13.7-8.8-11-13.7 13.7z"/>
<path color="#64cd6f" d="M1027 452l13.7-12.8-8.8-11-13.6 12.9z"/>
<path color="#56cc7b" d="M1013.4 464.1l13.6-12.1-8.7-10.9-13.7 12.1z"/>
<path color="#49cb85" d="M999.7 475.5l13.7-11.4-8.8-10.9-13.7 11.5z"/>
<path color="#3fca8e" d="M986.1 486.2l13.6-10.7-8.8-10.8-13.6 10.8z"/>
<path color="#38c896" d="M972.4 496.2l13.7-10-8.8-10.7-13.7 10.3z"/>
<path color="#33c79c" d="M958.7 505.6l13.7-9.4-8.8-10.4-13.6 9.6z"/>
<path color="#2fc5a2" d="M945.1 514.5l13.6-8.9-8.7-10.2-13.7 9.3z"/>
<path color="#2cc4a7" d="M931.4 523.3l13.7-8.8-8.8-9.8-13.7 9.2z"/>
<path color="#26c2ac" d="M917.8 532.3l13.6-9-8.8-9.4-13.6 9.4z"/>
<path color="#1fc1b1" d="M904.1 541.9l13.7-9.6-8.8-9-13.7 9.8z"/>
<path color="#16bfb7" d="M890.4 551.8l13.7-9.9-8.8-8.8-13.6 10.1z"/>
<path color="#0bbdbc" d="M876.8 561.7l13.6-9.9-8.7-8.6-13.7 10.2z"/>
<path color="#04bbc2" d="M863.1 571.7l13.7-10-8.8-8.3-13.7 10.3z"/>
<path color="#01b9c7" d="M849.4 581.8l13.7-10.1-8.8-8-13.6 10.4z"/>
<path color="#04b6cd" d="M835.8 592.1l13.6-10.3-8.7-7.7-13.7 10.6z"/>
<path color="#0ab4d2" d="M822.1 602.5l13.7-10.4-8.8-7.4-13.6 10.7z"/>
<path color="#13b1d7" d="M808.5 613.2l13.6-10.7-8.7-7.1-13.7 10.9z"/>
<path color="#19addc" d="M794.8 624.2l13.7-11-8.8-6.9-13.7 11.1z"/>
<path color="#1ca9df" d="M781.1 635.5l13.7-11.3-8.8-6.8-13.6 11.4z"/>
<path color="#20a5e2" d="M767.5 647l13.6-11.5-8.7-6.7-13.7 11.6z"/>
<path color="#23a0e5" d="M753.8 658.8l13.7-11.8-8.8-6.6-13.7 11.8z"/>
<path color="#259be8" d="M740.2 670.7l13.6-11.9-8.8-6.6-13.6 12z"/>
<path color="#2896eb" d="M726.5 682.8l13.7-12.1-8.8-6.5-13.7 12.1z"/>
<path color="#2b91ef" d="M712.8 695l13.7-12.2-8.8-6.5-13.6 12.1z"/>
<path color="#2d8bf4" d="M699.2 707.2l13.6-12.2-8.7-6.6-13.7 12.2z"/>
<path color="#2e85f8" d="M685.5 719.5l13.7-12.3-8.8-6.6-13.7 12.2z"/>
<path color="#307ffb" d="M671.9 731.7l13.6-12.2-8.8-6.7-13.6 12.1z"/>
<path color="#3579fd" d="M658.2 743.8l13.7-12.1-8.8-6.8-13.7 12.1z"/>
<path color="#3b73fe" d="M644.5 755.8l13.7-12-8.8-6.8-13.6 11.9z"/>
<path color="#406cfe" d="M630.9 767.7l13.6-11.9-8.7-6.9-13.7 11.8z"/>
<path color="#4466fd" d="M617.2 779.3l13.7-11.6-8.8-7-13.7 11.7z"/>
<path color="#4660fc" d="M603.6 790.9l13.6-11.6-8.8-6.9-13.6 11.5z"/>
<path color="#475bf9" d="M589.9 802.3l13.7-11.4-8.8-7-13.7 11.4z"/>
<path color="#4755f6" d="M576.2 813.6l13.7-11.3-8.8-7-13.6 11.5z"/>
<path color="#4850f3" d="M562.6 825.2l13.6-11.6-8.7-6.8-13.7 11.5z"/>
<path color="#484aee" d="M548.9 836.9l13.7-11.7-8.8-6.9-13.7 11.5z"/>
<path color="#4745e9" d="M535.3 848.6l13.6-11.7-8.8-7.1-13.6 11.5z"/>
<path color="#f5ea24" d="M1213.4 244.9l6.8-5.2-8.7-9.1-6.9 6.8z"/>
<path color="#f5e426" d="M1199.7 258.2l13.7-13.3-8.8-7.5-13.6 12.8z"/>
<path color="#f7db2b" d="M1186.1 277.1l13.6-18.9-8.7-8-13.7 17.1z"/>
<path color="#fdce31" d="M1172.4 297.8l13.7-20.7-8.8-9.8-13.7 19.6z"/>
<path color="#fec239" d="M1158.8 318.2l13.6-20.4-8.8-10.9-13.6 19.9z"/>
<path color="#f5ba3b" d="M1145.1 337.7l13.7-19.5-8.8-11.4-13.7 19.4z"/>
<path color="#e4bb2c" d="M1131.4 356.2l13.7-18.5-8.8-11.5-13.6 18.5z"/>
<path color="#d0bf27" d="M1117.8 374l13.6-17.8-8.7-11.5-13.7 17.8z"/>
<path color="#bbc42f" d="M1104.1 391l13.7-17-8.8-11.5-13.7 16.9z"/>
<path color="#a5c83d" d="M1090.5 407.3l13.6-16.3-8.8-11.6-13.6 16.3z"/>
<path color="#90ca4d" d="M1076.8 422.6l13.7-15.3-8.8-11.6-13.7 15.3z"/>
<path color="#7bcc5d" d="M1063.1 437.1l13.7-14.5-8.8-11.6-13.6 14.5z"/>
<path color="#68cd6b" d="M1049.5 450.7l13.6-13.6-8.7-11.6-13.7 13.7z"/>
<path color="#58cc79" d="M1035.8 463.5l13.7-12.8-8.8-11.5-13.7 12.8z"/>
<path color="#4acb84" d="M1022.2 475.5l13.6-12-8.8-11.5-13.6 12.1z"/>
<path color="#3fca8e" d="M1008.5 486.8l13.7-11.3-8.8-11.4-13.7 11.4z"/>
<path color="#38c896" d="M994.8 497.4l13.7-10.6-8.8-11.3-13.6 10.7z"/>
<path color="#33c69d" d="M981.2 507.3l13.6-9.9-8.7-11.2-13.7 10z"/>
<path color="#2fc5a3" d="M967.5 516.5l13.7-9.2-8.8-11.1-13.7 9.4z"/>
<path color="#2bc3a8" d="M953.9 525.2l13.6-8.7-8.8-10.9-13.6 8.9z"/>
<path color="#26c2ad" d="M940.2 533.6l13.7-8.4-8.8-10.7-13.7 8.8z"/>
<path color="#1fc1b1" d="M926.5 542.3l13.7-8.7-8.8-10.3-13.6 9z"/>
<path color="#18bfb6" d="M912.9 551.6l13.6-9.3-8.7-10-13.7 9.6z"/>
<path color="#0ebdbb" d="M899.2 561l13.7-9.4-8.8-9.7-13.7 9.9z"/>
<path color="#06bcc0" d="M885.5 570.6l13.7-9.6-8.8-9.2-13.6 9.9z"/>
<path color="#01bac5" d="M871.9 580.2l13.6-9.6-8.7-8.9-13.7 10z"/>
<path color="#02b7cb" d="M858.2 590l13.7-9.8-8.8-8.5-13.7 10.1z"/>
<path color="#07b5cf" d="M844.6 599.9l13.6-9.9-8.8-8.2-13.6 10.3z"/>
<path color="#0fb2d4" d="M830.9 610l13.7-10.1-8.8-7.8-13.7 10.4z"/>
<path color="#15afd9" d="M817.2 620.5l13.7-10.5-8.8-7.5-13.6 10.7z"/>
<path color="#1aacdd" d="M803.6 631.3l13.6-10.8-8.7-7.3-13.7 11z"/>
<path color="#1ea8e1" d="M789.9 642.4l13.7-11.1-8.8-7.1-13.7 11.3z"/>
<path color="#21a3e3" d="M776.3 653.8l13.6-11.4-8.8-6.9-13.6 11.5z"/>
<path color="#249fe6" d="M762.6 665.5l13.7-11.7-8.8-6.8-13.7 11.8z"/>
<path color="#269ae9" d="M748.9 677.5l13.7-12-8.8-6.7-13.6 11.9z"/>
<path color="#2995ec" d="M735.3 689.6l13.6-12.1-8.7-6.8-13.7 12.1z"/>
<path color="#2c8ff1" d="M721.6 701.8l13.7-12.2-8.8-6.8-13.7 12.2z"/>
<path color="#2d89f5" d="M708 714.1l13.6-12.3-8.8-6.8-13.6 12.2z"/>
<path color="#2e84f9" d="M694.3 726.4l13.7-12.3-8.8-6.9-13.7 12.3z"/>
<path color="#317dfc" d="M680.6 738.6l13.7-12.2-8.8-6.9-13.6 12.2z"/>
<path color="#3777fe" d="M667 750.8l13.6-12.2-8.7-6.9-13.7 12.1z"/>
<path color="#3d70ff" d="M653.3 762.9l13.7-12.1-8.8-7-13.7 12z"/>
<path color="#426afe" d="M639.7 774.8l13.6-11.9-8.8-7.1-13.6 11.9z"/>
<path color="#4564fd" d="M626 786.5l13.7-11.7-8.8-7.1-13.7 11.6z"/>
<path color="#465efb" d="M612.3 798l13.7-11.5-8.8-7.2-13.6 11.6z"/>
<path color="#4759f8" d="M598.7 809.3l13.6-11.3-8.7-7.1-13.7 11.4z"/>
<path color="#4853f5" d="M585 820.6l13.7-11.3-8.8-7-13.7 11.3z"/>
<path color="#484ef1" d="M571.3 832l13.7-11.4-8.8-7-13.6 11.6z"/>
<path color="#4848ec" d="M557.7 843.8l13.6-11.8-8.7-6.8-13.7 11.7z"/>
<path color="#4742e6" d="M544 855.8l13.7-12-8.8-6.9-13.6 11.7z"/>
<path color="#f5e626" d="M1222.2 254.8l6.8-5.4-8.8-9.7-6.8 5.2z"/>
<path color="#f6e028" d="M1208.5 269.2l13.7-14.4-8.8-9.9-13.7 13.3z"/>
<path color="#fad62d" d="M1194.9 289.1l13.6-19.9-8.8-11-13.6 18.9z"/>
<path color="#fec934" d="M1181.2 310.3l13.7-21.2-8.8-12-13.7 20.7z"/>
<path color="#fcbd3d" d="M1167.5 330.9l13.7-20.6-8.8-12.5-13.6 20.4z"/>
<path color="#edba33" d="M1153.9 350.1l13.6-19.2-8.7-12.7-13.7 19.5z"/>
<path color="#dabd28" d="M1140.2 368.4l13.7-18.3-8.8-12.4-13.7 18.5z"/>
<path color="#c5c22a" d="M1126.6 386l13.6-17.6-8.8-12.2-13.6 17.8z"/>
<path color="#aec637" d="M1112.9 403.1l13.7-17.1-8.8-12-13.7 17z"/>
<path color="#98ca47" d="M1099.2 419.4l13.7-16.3-8.8-12.1-13.6 16.3z"/>
<path color="#81cc58" d="M1085.6 434.8l13.6-15.4-8.7-12.1-13.7 15.3z"/>
<path color="#6dcd68" d="M1071.9 449.3l13.7-14.5-8.8-12.2-13.7 14.5z"/>
<path color="#5bcc76" d="M1058.3 462.8l13.6-13.5-8.8-12.2-13.6 13.6z"/>
<path color="#4ccb83" d="M1044.6 475.6l13.7-12.8-8.8-12.1-13.7 12.8z"/>
<path color="#40ca8d" d="M1030.9 487.5l13.7-11.9-8.8-12.1-13.6 12z"/>
<path color="#38c897" d="M1017.3 498.8l13.6-11.3-8.7-12-13.7 11.3z"/>
<path color="#32c69e" d="M1003.6 509.3l13.7-10.5-8.8-12-13.7 10.6z"/>
<path color="#2ec4a5" d="M989.9 519.1l13.7-9.8-8.8-11.9-13.6 9.9z"/>
<path color="#29c3aa" d="M976.3 528.1l13.6-9-8.7-11.8-13.7 9.2z"/>
<path color="#23c1af" d="M962.6 536.6l13.7-8.5-8.8-11.6-13.6 8.7z"/>
<path color="#1dc0b3" d="M949 544.9l13.6-8.3-8.7-11.4-13.7 8.4z"/>
<path color="#16bfb7" d="M935.3 553.3l13.7-8.4-8.8-11.3-13.7 8.7z"/>
<path color="#0dbdbc" d="M921.6 562l13.7-8.7-8.8-11-13.6 9.3z"/>
<path color="#06bcc0" d="M908 571l13.6-9-8.7-10.4-13.7 9.4z"/>
<path color="#02bac5" d="M894.3 580.1l13.7-9.1-8.8-10-13.7 9.6z"/>
<path color="#01b8ca" d="M880.7 589.3l13.6-9.2-8.8-9.5-13.6 9.6z"/>
<path color="#05b6ce" d="M867 598.6l13.7-9.3-8.8-9.1-13.7 9.8z"/>
<path color="#0cb3d3" d="M853.3 608.1l13.7-9.5-8.8-8.6-13.6 9.9z"/>
<path color="#13b0d7" d="M839.7 617.9l13.6-9.8-8.7-8.2-13.7 10.1z"/>
<path color="#18addb" d="M826 628l13.7-10.1-8.8-7.9-13.7 10.5z"/>
<path color="#1caadf" d="M812.4 638.6l13.6-10.6-8.8-7.5-13.6 10.8z"/>
<path color="#1fa6e2" d="M798.7 649.5l13.7-10.9-8.8-7.3-13.7 11.1z"/>
<path color="#22a1e4" d="M785 660.9l13.7-11.4-8.8-7.1-13.6 11.4z"/>
<path color="#259de7" d="M771.4 672.5l13.6-11.6-8.7-7.1-13.7 11.7z"/>
<path color="#2798ea" d="M757.7 684.4l13.7-11.9-8.8-7-13.7 12z"/>
<path color="#2a93ee" d="M744.1 696.5l13.6-12.1-8.8-6.9-13.6 12.1z"/>
<path color="#2d8df2" d="M730.4 708.8l13.7-12.3-8.8-6.9-13.7 12.2z"/>
<path color="#2d87f6" d="M716.7 721.1l13.7-12.3-8.8-7-13.6 12.3z"/>
<path color="#2f82fa" d="M703.1 733.4l13.6-12.3-8.7-7-13.7 12.3z"/>
<path color="#327bfc" d="M689.4 745.8l13.7-12.4-8.8-7-13.7 12.2z"/>
<path color="#3974fe" d="M675.8 758l13.6-12.2-8.8-7.2-13.6 12.2z"/>
<path color="#3f6eff" d="M662.1 770.2l13.7-12.2-8.8-7.2-13.7 12.1z"/>
<path color="#4368fd" d="M648.4 782.2l13.7-12-8.8-7.3-13.6 11.9z"/>
<path color="#4562fc" d="M634.8 793.9l13.6-11.7-8.7-7.4-13.7 11.7z"/>
<path color="#475cfa" d="M621.1 805.4l13.7-11.5-8.8-7.4-13.7 11.5z"/>
<path color="#4757f7" d="M607.4 816.6l13.7-11.2-8.8-7.4-13.6 11.3z"/>
<path color="#4851f3" d="M593.8 827.7l13.6-11.1-8.7-7.3-13.7 11.3z"/>
<path color="#484cef" d="M580.1 838.8l13.7-11.1-8.8-7.1-13.7 11.4z"/>
<path color="#4746ea" d="M566.5 850.6l13.6-11.8-8.8-6.8-13.6 11.8z"/>
<path color="#4740e4" d="M552.8 863l13.7-12.4-8.8-6.8-13.7 12z"/>
<path color="#f6e028" d="M1231 268.5l6.8-7.7-8.8-11.4-6.8 5.4z"/>
<path color="#f8da2b" d="M1217.3 283.7l13.7-15.2-8.8-13.7-13.7 14.4z"/>
<path color="#fccf30" d="M1203.6 302.8l13.7-19.1-8.8-14.5-13.6 19.9z"/>
<path color="#fec239" d="M1190 323.9l13.6-21.1-8.7-13.7-13.7 21.2z"/>
<path color="#f5ba3a" d="M1176.3 344.3l13.7-20.4-8.8-13.6-13.7 20.6z"/>
<path color="#e2bc2b" d="M1162.7 363l13.6-18.7-8.8-13.4-13.6 19.2z"/>
<path color="#cec028" d="M1149 381l13.7-18-8.8-12.9-13.7 18.3z"/>
<path color="#b7c531" d="M1135.3 398.5l13.7-17.5-8.8-12.6-13.6 17.6z"/>
<path color="#a0c841" d="M1121.7 415.6l13.6-17.1-8.7-12.5-13.7 17.1z"/>
<path color="#89cb53" d="M1108 432l13.7-16.4-8.8-12.5-13.7 16.3z"/>
<path color="#72cd64" d="M1094.4 447.5l13.6-15.5-8.8-12.6-13.6 15.4z"/>
<path color="#5ecd74" d="M1080.7 461.9l13.7-14.4-8.8-12.7-13.7 14.5z"/>
<path color="#4ecc81" d="M1067 475.5l13.7-13.6-8.8-12.6-13.6 13.5z"/>
<path color="#40ca8d" d="M1053.4 488.1l13.6-12.6-8.7-12.7-13.7 12.8z"/>
<path color="#37c897" d="M1039.7 500l13.7-11.9-8.8-12.5-13.7 11.9z"/>
<path color="#32c69f" d="M1026 511.2l13.7-11.2-8.8-12.5-13.6 11.3z"/>
<path color="#2cc4a6" d="M1012.4 521.7l13.6-10.5-8.7-12.4-13.7 10.5z"/>
<path color="#26c2ac" d="M998.7 531.4l13.7-9.7-8.8-12.4-13.7 9.8z"/>
<path color="#1fc1b1" d="M985.1 540.3l13.6-8.9-8.8-12.3-13.6 9z"/>
<path color="#18bfb6" d="M971.4 548.6l13.7-8.3-8.8-12.2-13.7 8.5z"/>
<path color="#11beba" d="M957.7 556.7l13.7-8.1-8.8-12-13.6 8.3z"/>
<path color="#0abdbe" d="M944.1 564.8l13.6-8.1-8.7-11.8-13.7 8.4z"/>
<path color="#04bbc2" d="M930.4 573.1l13.7-8.3-8.8-11.5-13.7 8.7z"/>
<path color="#01b9c6" d="M916.8 581.5l13.6-8.4-8.8-11.1-13.6 9z"/>
<path color="#01b8ca" d="M903.1 590.1l13.7-8.6-8.8-10.5-13.7 9.1z"/>
<path color="#05b6ce" d="M889.4 598.8l13.7-8.7-8.8-10-13.6 9.2z"/>
<path color="#0bb4d2" d="M875.8 607.6l13.6-8.8-8.7-9.5-13.7 9.3z"/>
<path color="#12b1d6" d="M862.1 616.7l13.7-9.1-8.8-9-13.7 9.5z"/>
<path color="#16aeda" d="M848.5 626.1l13.6-9.4-8.8-8.6-13.6 9.8z"/>
<path color="#1aabdd" d="M834.8 635.9l13.7-9.8-8.8-8.2-13.7 10.1z"/>
<path color="#1da8e0" d="M821.1 646.2l13.7-10.3-8.8-7.9-13.6 10.6z"/>
<path color="#20a4e3" d="M807.5 657l13.6-10.8-8.7-7.6-13.7 10.9z"/>
<path color="#23a0e5" d="M793.8 668.2l13.7-11.2-8.8-7.5-13.7 11.4z"/>
<path color="#259be8" d="M780.2 679.7l13.6-11.5-8.8-7.3-13.6 11.6z"/>
<path color="#2896eb" d="M766.5 691.6l13.7-11.9-8.8-7.2-13.7 11.9z"/>
<path color="#2b91ef" d="M752.8 703.7l13.7-12.1-8.8-7.2-13.6 12.1z"/>
<path color="#2d8bf4" d="M739.2 715.9l13.6-12.2-8.7-7.2-13.7 12.3z"/>
<path color="#2e85f8" d="M725.5 728.3l13.7-12.4-8.8-7.1-13.7 12.3z"/>
<path color="#307ffb" d="M711.8 740.7l13.7-12.4-8.8-7.2-13.6 12.3z"/>
<path color="#3579fd" d="M698.2 753.1l13.6-12.4-8.7-7.3-13.7 12.4z"/>
<path color="#3c72ff" d="M684.5 765.4l13.7-12.3-8.8-7.3-13.6 12.2z"/>
<path color="#416bfe" d="M670.9 777.7l13.6-12.3-8.7-7.4-13.7 12.2z"/>
<path color="#4465fd" d="M657.2 789.7l13.7-12-8.8-7.5-13.7 12z"/>
<path color="#465ffb" d="M643.5 801.6l13.7-11.9-8.8-7.5-13.6 11.7z"/>
<path color="#4759f9" d="M629.9 813.2l13.6-11.6-8.7-7.7-13.7 11.5z"/>
<path color="#4854f5" d="M616.2 824.3l13.7-11.1-8.8-7.8-13.7 11.2z"/>
<path color="#484ff2" d="M602.6 835.1l13.6-10.8-8.8-7.7-13.6 11.1z"/>
<path color="#484aee" d="M588.9 845.9l13.7-10.8-8.8-7.4-13.7 11.1z"/>
<path color="#4744e8" d="M575.2 857.4l13.7-11.5-8.8-7.1-13.6 11.8z"/>
<path color="#473ee1" d="M561.6 870.1l13.6-12.7-8.7-6.8-13.7 12.4z"/>
<path color="#f8d92b" d="M1239.7 280.6l6.9-9.2-8.8-10.6-6.8 7.7z"/>
<path color="#fbd22f" d="M1226.1 297.5l13.6-16.9-8.7-12.1-13.7 15.2z"/>
<path color="#fec735" d="M1212.4 316.2l13.7-18.7-8.8-13.8-13.7 19.1z"/>
<path color="#fbbc3d" d="M1198.8 336.9l13.6-20.7-8.8-13.4-13.6 21.1z"/>
<path color="#eaba31" d="M1185.1 357.2l13.7-20.3-8.8-13-13.7 20.4z"/>
<path color="#d6be28" d="M1171.4 375.8l13.7-18.6-8.8-12.9-13.6 18.7z"/>
<path color="#c0c32d" d="M1157.8 393.7l13.6-17.9-8.7-12.8-13.7 18z"/>
<path color="#a9c73b" d="M1144.1 411.3l13.7-17.6-8.8-12.7-13.7 17.5z"/>
<path color="#91ca4d" d="M1130.4 428.5l13.7-17.2-8.8-12.8-13.6 17.1z"/>
<path color="#78cc5f" d="M1116.8 445l13.6-16.5-8.7-12.9-13.7 16.4z"/>
<path color="#62cd70" d="M1103.1 460.6l13.7-15.6-8.8-13-13.6 15.5z"/>
<path color="#50cc80" d="M1089.5 475.1l13.6-14.5-8.7-13.1-13.7 14.4z"/>
<path color="#41ca8c" d="M1075.8 488.6l13.7-13.5-8.8-13.2-13.7 13.6z"/>
<path color="#37c897" d="M1062.1 501.2l13.7-12.6-8.8-13.1-13.6 12.6z"/>
<path color="#31c6a0" d="M1048.5 512.9l13.6-11.7-8.7-13.1-13.7 11.9z"/>
<path color="#2bc3a8" d="M1034.8 524l13.7-11.1-8.8-12.9-13.7 11.2z"/>
<path color="#24c1ae" d="M1021.2 534.4l13.6-10.4-8.8-12.8-13.6 10.5z"/>
<path color="#1bc0b4" d="M1007.5 544.1l13.7-9.7-8.8-12.7-13.7 9.7z"/>
<path color="#12beb9" d="M993.8 552.9l13.7-8.8-8.8-12.7-13.6 8.9z"/>
<path color="#0abdbd" d="M980.2 561.1l13.6-8.2-8.7-12.6-13.7 8.3z"/>
<path color="#05bbc1" d="M966.5 569l13.7-7.9-8.8-12.5-13.7 8.1z"/>
<path color="#02bac4" d="M952.9 576.8l13.6-7.8-8.8-12.3-13.6 8.1z"/>
<path color="#01b9c8" d="M939.2 584.6l13.7-7.8-8.8-12-13.7 8.3z"/>
<path color="#03b7cb" d="M925.5 592.5l13.7-7.9-8.8-11.5-13.6 8.4z"/>
<path color="#06b5cf" d="M911.9 600.6l13.6-8.1-8.7-11-13.7 8.6z"/>
<path color="#0bb3d2" d="M898.2 608.7l13.7-8.1-8.8-10.5-13.7 8.7z"/>
<path color="#12b1d6" d="M884.6 617.1l13.6-8.4-8.8-9.9-13.6 8.8z"/>
<path color="#16afd9" d="M870.9 625.7l13.7-8.6-8.8-9.5-13.7 9.1z"/>
<path color="#19acdc" d="M857.2 634.6l13.7-8.9-8.8-9-13.6 9.4z"/>
<path color="#1ca9df" d="M843.6 644l13.6-9.4-8.7-8.5-13.7 9.8z"/>
<path color="#1fa6e2" d="M829.9 654l13.7-10-8.8-8.1-13.7 10.3z"/>
<path color="#22a2e4" d="M816.3 664.6l13.6-10.6-8.8-7.8-13.6 10.8z"/>
<path color="#249ee6" d="M802.6 675.7l13.7-11.1-8.8-7.6-13.7 11.2z"/>
<path color="#2699e9" d="M788.9 687.2l13.7-11.5-8.8-7.5-13.6 11.5z"/>
<path color="#2994ed" d="M775.3 699l13.6-11.8-8.7-7.5-13.7 11.9z"/>
<path color="#2c8ff1" d="M761.6 711l13.7-12-8.8-7.4-13.7 12.1z"/>
<path color="#2d89f5" d="M747.9 723.2l13.7-12.2-8.8-7.3-13.6 12.2z"/>
<path color="#2e83f9" d="M734.3 735.6l13.6-12.4-8.7-7.3-13.7 12.4z"/>
<path color="#317dfc" d="M720.6 748l13.7-12.4-8.8-7.3-13.7 12.4z"/>
<path color="#3776fe" d="M707 760.5l13.6-12.5-8.8-7.3-13.6 12.4z"/>
<path color="#3e6fff" d="M693.3 772.9l13.7-12.4-8.8-7.4-13.7 12.3z"/>
<path color="#4269fe" d="M679.6 785.3l13.7-12.4-8.8-7.5-13.6 12.3z"/>
<path color="#4562fc" d="M666 797.5l13.6-12.2-8.7-7.6-13.7 12z"/>
<path color="#475cfa" d="M652.3 809.5l13.7-12-8.8-7.8-13.7 11.9z"/>
<path color="#4757f7" d="M638.7 821.2l13.6-11.7-8.8-7.9-13.6 11.6z"/>
<path color="#4851f4" d="M625 832.5l13.7-11.3-8.8-8-13.7 11.1z"/>
<path color="#484cf0" d="M611.3 843.2l13.7-10.7-8.8-8.2-13.6 10.8z"/>
<path color="#4747eb" d="M597.7 853.7l13.6-10.5-8.7-8.1-13.7 10.8z"/>
<path color="#4742e6" d="M584 864.9l13.7-11.2-8.8-7.8-13.7 11.5z"/>
<path color="#463cdf" d="M570.4 877.8l13.6-12.9-8.8-7.5-13.6 12.7z"/>
<path color="#fad42e" d="M1248.5 291.7l6.8-9.9-8.7-10.4-6.9 9.2z"/>
<path color="#fdcb33" d="M1234.9 310l13.6-18.3-8.8-11.1-13.6 16.9z"/>
<path color="#fec03a" d="M1221.2 328.6l13.7-18.6-8.8-12.5-13.7 18.7z"/>
<path color="#f4ba39" d="M1207.5 348.8l13.7-20.2-8.8-12.4-13.6 20.7z"/>
<path color="#e0bc2a" d="M1193.9 369.3l13.6-20.5-8.7-11.9-13.7 20.3z"/>
<path color="#cac129" d="M1180.2 388.5l13.7-19.2-8.8-12.1-13.7 18.6z"/>
<path color="#b2c635" d="M1166.5 406.7l13.7-18.2-8.8-12.7-13.6 17.9z"/>
<path color="#99c946" d="M1152.9 424.4l13.6-17.7-8.7-13-13.7 17.6z"/>
<path color="#80cc59" d="M1139.2 441.8l13.7-17.4-8.8-13.1-13.7 17.2z"/>
<path color="#68cd6c" d="M1125.6 458.5l13.6-16.7-8.8-13.3-13.6 16.5z"/>
<path color="#53cc7d" d="M1111.9 474.2l13.7-15.7-8.8-13.5-13.7 15.6z"/>
<path color="#42ca8b" d="M1098.2 488.8l13.7-14.6-8.8-13.6-13.6 14.5z"/>
<path color="#37c897" d="M1084.6 502.3l13.6-13.5-8.7-13.7-13.7 13.5z"/>
<path color="#30c5a1" d="M1070.9 514.8l13.7-12.5-8.8-13.7-13.7 12.6z"/>
<path color="#2ac3a9" d="M1057.3 526.4l13.6-11.6-8.8-13.6-13.6 11.7z"/>
<path color="#21c1b0" d="M1043.6 537.3l13.7-10.9-8.8-13.5-13.7 11.1z"/>
<path color="#17bfb6" d="M1029.9 547.6l13.7-10.3-8.8-13.3-13.6 10.4z"/>
<path color="#0dbdbc" d="M1016.3 557.1l13.6-9.5-8.7-13.2-13.7 9.7z"/>
<path color="#06bcc0" d="M1002.6 565.8l13.7-8.7-8.8-13-13.7 8.8z"/>
<path color="#02bac4" d="M989 573.9l13.6-8.1-8.8-12.9-13.6 8.2z"/>
<path color="#01b9c8" d="M975.3 581.6l13.7-7.7-8.8-12.8-13.7 7.9z"/>
<path color="#02b7cb" d="M961.6 589.1l13.7-7.5-8.8-12.6-13.6 7.8z"/>
<path color="#05b6ce" d="M948 596.5l13.6-7.4-8.7-12.3-13.7 7.8z"/>
<path color="#09b4d1" d="M934.3 603.9l13.7-7.4-8.8-11.9-13.7 7.9z"/>
<path color="#0eb2d4" d="M920.7 611.4l13.6-7.5-8.8-11.4-13.6 8.1z"/>
<path color="#13b0d7" d="M907 619l13.7-7.6-8.8-10.8-13.7 8.1z"/>
<path color="#16aeda" d="M893.3 626.9l13.7-7.9-8.8-10.3-13.6 8.4z"/>
<path color="#19acdc" d="M879.7 635l13.6-8.1-8.7-9.8-13.7 8.6z"/>
<path color="#1caadf" d="M866 643.5l13.7-8.5-8.8-9.3-13.7 8.9z"/>
<path color="#1ea7e1" d="M852.3 652.5l13.7-9-8.8-8.9-13.6 9.4z"/>
<path color="#21a3e3" d="M838.7 662.2l13.6-9.7-8.7-8.5-13.7 10z"/>
<path color="#23a0e5" d="M825 672.6l13.7-10.4-8.8-8.2-13.6 10.6z"/>
<path color="#259be7" d="M811.4 683.5l13.6-10.9-8.7-8-13.7 11.1z"/>
<path color="#2797eb" d="M797.7 694.8l13.7-11.3-8.8-7.8-13.7 11.5z"/>
<path color="#2b92ee" d="M784 706.5l13.7-11.7-8.8-7.6-13.6 11.8z"/>
<path color="#2d8cf3" d="M770.4 718.5l13.6-12-8.7-7.5-13.7 12z"/>
<path color="#2e87f7" d="M756.7 730.7l13.7-12.2-8.8-7.5-13.7 12.2z"/>
<path color="#2f81fa" d="M743.1 743.1l13.6-12.4-8.8-7.5-13.6 12.4z"/>
<path color="#337afd" d="M729.4 755.5l13.7-12.4-8.8-7.5-13.7 12.4z"/>
<path color="#3a74fe" d="M715.7 768l13.7-12.5-8.8-7.5-13.6 12.5z"/>
<path color="#406dfe" d="M702.1 780.5l13.6-12.5-8.7-7.5-13.7 12.4z"/>
<path color="#4466fd" d="M688.4 792.9l13.7-12.4-8.8-7.6-13.7 12.4z"/>
<path color="#4660fb" d="M674.8 805.3l13.6-12.4-8.8-7.6-13.6 12.2z"/>
<path color="#475af9" d="M661.1 817.5l13.7-12.2-8.8-7.8-13.7 12z"/>
<path color="#4854f5" d="M647.4 829.5l13.7-12-8.8-8-13.6 11.7z"/>
<path color="#484ef1" d="M633.8 841l13.6-11.5-8.7-8.3-13.7 11.3z"/>
<path color="#4849ed" d="M620.1 852l13.7-11-8.8-8.5-13.7 10.7z"/>
<path color="#4744e8" d="M606.5 862.5l13.6-10.5-8.8-8.8-13.6 10.5z"/>
<path color="#473fe2" d="M592.8 873.7l13.7-11.2-8.8-8.8-13.7 11.2z"/>
<path color="#463ada" d="M579.1 885.7l13.7-12-8.8-8.8-13.6 12.9z"/>
<path color="#fdce31" d="M1257.3 302.8l6.8-10.4-8.8-10.6-6.8 9.9z"/>
<path color="#fec537" d="M1243.6 321.9l13.7-19.1-8.8-11.1-13.6 18.3z"/>
<path color="#fbbc3d" d="M1230 340.8l13.6-18.9-8.7-11.9-13.7 18.6z"/>
<path color="#ebba31" d="M1216.3 361l13.7-20.2-8.8-12.2-13.7 20.2z"/>
<path color="#d5be28" d="M1202.6 381.8l13.7-20.8-8.8-12.2-13.6 20.5z"/>
<path color="#bcc42f" d="M1189 401.7l13.6-19.9-8.7-12.5-13.7 19.2z"/>
<path color="#a2c83f" d="M1175.3 420.2l13.7-18.5-8.8-13.2-13.7 18.2z"/>
<path color="#88cb53" d="M1161.7 438.1l13.6-17.9-8.8-13.5-13.6 17.7z"/>
<path color="#6ecd66" d="M1148 455.8l13.7-17.7-8.8-13.7-13.7 17.4z"/>
<path color="#58cc7a" d="M1134.3 472.7l13.7-16.9-8.8-14-13.6 16.7z"/>
<path color="#44cb89" d="M1120.7 488.4l13.6-15.7-8.7-14.2-13.7 15.7z"/>
<path color="#37c897" d="M1107 503l13.7-14.6-8.8-14.2-13.7 14.6z"/>
<path color="#30c5a2" d="M1093.4 516.4l13.6-13.4-8.8-14.2-13.6 13.5z"/>
<path color="#28c3aa" d="M1079.7 528.8l13.7-12.4-8.8-14.1-13.7 12.5z"/>
<path color="#1ec0b2" d="M1066 540.3l13.7-11.5-8.8-14-13.6 11.6z"/>
<path color="#13beb9" d="M1052.4 551.1l13.6-10.8-8.7-13.9-13.7 10.9z"/>
<path color="#08bcbf" d="M1038.7 561.2l13.7-10.1-8.8-13.8-13.7 10.3z"/>
<path color="#02bac4" d="M1025.1 570.5l13.6-9.3-8.8-13.6-13.6 9.5z"/>
<path color="#01b8c8" d="M1011.4 579.1l13.7-8.6-8.8-13.4-13.7 8.7z"/>
<path color="#03b7cc" d="M997.7 587l13.7-7.9-8.8-13.3-13.6 8.1z"/>
<path color="#06b5cf" d="M984.1 594.5l13.6-7.5-8.7-13.1-13.7 7.7z"/>
<path color="#0ab4d2" d="M970.4 601.6l13.7-7.1-8.8-12.9-13.7 7.5z"/>
<path color="#0fb2d4" d="M956.8 608.6l13.6-7-8.8-12.5-13.6 7.4z"/>
<path color="#13b1d7" d="M943.1 615.5l13.7-6.9-8.8-12.1-13.7 7.4z"/>
<path color="#15afd9" d="M929.4 622.5l13.7-7-8.8-11.6-13.6 7.5z"/>
<path color="#18addb" d="M915.8 629.6l13.6-7.1-8.7-11.1-13.7 7.6z"/>
<path color="#1aabdd" d="M902.1 636.9l13.7-7.3-8.8-10.6-13.7 7.9z"/>
<path color="#1ca9df" d="M888.4 644.6l13.7-7.7-8.8-10-13.6 8.1z"/>
<path color="#1ea7e1" d="M874.8 652.7l13.6-8.1-8.7-9.6-13.7 8.5z"/>
<path color="#20a4e3" d="M861.1 661.3l13.7-8.6-8.8-9.2-13.7 9z"/>
<path color="#23a1e4" d="M847.5 670.7l13.6-9.4-8.8-8.8-13.6 9.7z"/>
<path color="#249de7" d="M833.8 680.8l13.7-10.1-8.8-8.5-13.7 10.4z"/>
<path color="#2699e9" d="M820.1 691.5l13.7-10.7-8.8-8.2-13.6 10.9z"/>
<path color="#2994ed" d="M806.5 702.7l13.6-11.2-8.7-8-13.7 11.3z"/>
<path color="#2c8ff0" d="M792.8 714.3l13.7-11.6-8.8-7.9-13.7 11.7z"/>
<path color="#2d8af4" d="M779.2 726.2l13.6-11.9-8.8-7.8-13.6 12z"/>
<path color="#2e84f8" d="M765.5 738.3l13.7-12.1-8.8-7.7-13.7 12.2z"/>
<path color="#317efb" d="M751.8 750.6l13.7-12.3-8.8-7.6-13.6 12.4z"/>
<path color="#3678fe" d="M738.2 763.1l13.6-12.5-8.7-7.5-13.7 12.4z"/>
<path color="#3d71ff" d="M724.5 775.6l13.7-12.5-8.8-7.6-13.7 12.5z"/>
<path color="#426afe" d="M710.9 788.1l13.6-12.5-8.8-7.6-13.6 12.5z"/>
<path color="#4564fd" d="M697.2 800.7l13.7-12.6-8.8-7.6-13.7 12.4z"/>
<path color="#465dfa" d="M683.5 813.1l13.7-12.4-8.8-7.8-13.6 12.4z"/>
<path color="#4757f7" d="M669.9 825.5l13.6-12.4-8.7-7.8-13.7 12.2z"/>
<path color="#4851f3" d="M656.2 837.7l13.7-12.2-8.8-8-13.7 12z"/>
<path color="#484bef" d="M642.6 849.6l13.6-11.9-8.8-8.2-13.6 11.5z"/>
<path color="#4746ea" d="M628.9 860.9l13.7-11.3-8.8-8.6-13.7 11z"/>
<path color="#4741e4" d="M615.2 871.5l13.7-10.6-8.8-8.9-13.6 10.5z"/>
<path color="#463cde" d="M601.6 882.3l13.6-10.8-8.7-9-13.7 11.2z"/>
<path color="#4537d6" d="M587.9 893.5l13.7-11.2-8.8-8.6-13.7 12z"/>
<path color="#fec934" d="M1266.1 314.6l6.8-10.6-8.8-11.6-6.8 10.4z"/>
<path color="#fec03b" d="M1252.4 334.1l13.7-19.5-8.8-11.8-13.7 19.1z"/>
<path color="#f3ba39" d="M1238.7 353.6l13.7-19.5-8.8-12.2-13.6 18.9z"/>
<path color="#e0bc2a" d="M1225.1 374.2l13.6-20.6-8.7-12.8-13.7 20.2z"/>
<path color="#c8c129" d="M1211.4 395.3l13.7-21.1-8.8-13.2-13.7 20.8z"/>
<path color="#adc638" d="M1197.8 415.6l13.6-20.3-8.8-13.5-13.6 19.9z"/>
<path color="#91ca4c" d="M1184.1 434.6l13.7-19-8.8-13.9-13.7 18.5z"/>
<path color="#75cc61" d="M1170.4 452.9l13.7-18.3-8.8-14.4-13.6 17.9z"/>
<path color="#5dcc75" d="M1156.8 470.6l13.6-17.7-8.7-14.8-13.7 17.7z"/>
<path color="#47cb87" d="M1143.1 487.5l13.7-16.9-8.8-14.8-13.7 16.9z"/>
<path color="#38c896" d="M1129.5 503.2l13.6-15.7-8.8-14.8-13.6 15.7z"/>
<path color="#30c5a2" d="M1115.8 517.6l13.7-14.4-8.8-14.8-13.7 14.6z"/>
<path color="#27c2ab" d="M1102.1 531l13.7-13.4-8.8-14.6-13.6 13.4z"/>
<path color="#1cc0b4" d="M1088.5 543.2l13.6-12.2-8.7-14.6-13.7 12.4z"/>
<path color="#0ebebb" d="M1074.8 554.6l13.7-11.4-8.8-14.4-13.7 11.5z"/>
<path color="#05bbc1" d="M1061.2 565.2l13.6-10.6-8.8-14.3-13.6 10.8z"/>
<path color="#01b9c7" d="M1047.5 575.1l13.7-9.9-8.8-14.1-13.7 10.1z"/>
<path color="#03b7cc" d="M1033.8 584.2l13.7-9.1-8.8-13.9-13.6 9.3z"/>
<path color="#07b5d0" d="M1020.2 592.6l13.6-8.4-8.7-13.7-13.7 8.6z"/>
<path color="#0cb3d3" d="M1006.5 600.3l13.7-7.7-8.8-13.5-13.7 7.9z"/>
<path color="#11b1d6" d="M992.8 607.5l13.7-7.2-8.8-13.3-13.6 7.5z"/>
<path color="#14b0d8" d="M979.2 614.2l13.6-6.7-8.7-13-13.7 7.1z"/>
<path color="#17aeda" d="M965.5 620.8l13.7-6.6-8.8-12.6-13.6 7z"/>
<path color="#19addc" d="M951.9 627.2l13.6-6.4-8.7-12.2-13.7 6.9z"/>
<path color="#1aabdd" d="M938.2 633.7l13.7-6.5-8.8-11.7-13.7 7z"/>
<path color="#1caadf" d="M924.5 640.3l13.7-6.6-8.8-11.2-13.6 7.1z"/>
<path color="#1da8e0" d="M910.9 647.2l13.6-6.9-8.7-10.7-13.7 7.3z"/>
<path color="#1fa6e2" d="M897.2 654.4l13.7-7.2-8.8-10.3-13.7 7.7z"/>
<path color="#21a4e3" d="M883.6 662.1l13.6-7.7-8.8-9.8-13.6 8.1z"/>
<path color="#23a1e4" d="M869.9 670.4l13.7-8.3-8.8-9.4-13.7 8.6z"/>
<path color="#249ee6" d="M856.2 679.5l13.7-9.1-8.8-9.1-13.6 9.4z"/>
<path color="#269ae8" d="M842.6 689.3l13.6-9.8-8.7-8.8-13.7 10.1z"/>
<path color="#2796eb" d="M828.9 699.7l13.7-10.4-8.8-8.5-13.7 10.7z"/>
<path color="#2b92ee" d="M815.3 710.7l13.6-11-8.8-8.2-13.6 11.2z"/>
<path color="#2d8df2" d="M801.6 722.1l13.7-11.4-8.8-8-13.7 11.6z"/>
<path color="#2d88f6" d="M787.9 734l13.7-11.9-8.8-7.8-13.6 11.9z"/>
<path color="#2f82fa" d="M774.3 746l13.6-12-8.7-7.8-13.7 12.1z"/>
<path color="#327cfc" d="M760.6 758.3l13.7-12.3-8.8-7.7-13.7 12.3z"/>
<path color="#3975fe" d="M747 770.7l13.6-12.4-8.8-7.7-13.6 12.5z"/>
<path color="#3f6eff" d="M733.3 783.2l13.7-12.5-8.8-7.6-13.7 12.5z"/>
<path color="#4367fd" d="M719.6 795.7l13.7-12.5-8.8-7.6-13.6 12.5z"/>
<path color="#4561fc" d="M706 808.3l13.6-12.6-8.7-7.6-13.7 12.6z"/>
<path color="#475bf9" d="M692.3 820.9l13.7-12.6-8.8-7.6-13.7 12.4z"/>
<path color="#4854f6" d="M678.6 833.4l13.7-12.5-8.8-7.8-13.6 12.4z"/>
<path color="#484ef1" d="M665 845.8l13.6-12.4-8.7-7.9-13.7 12.2z"/>
<path color="#4848ec" d="M651.3 857.9l13.7-12.1-8.8-8.1-13.6 11.9z"/>
<path color="#4742e6" d="M637.7 869.4l13.6-11.5-8.7-8.3-13.7 11.3z"/>
<path color="#463de0" d="M624 880l13.7-10.6-8.8-8.5-13.7 10.6z"/>
<path color="#4539d9" d="M610.3 890.6l13.7-10.6-8.8-8.5-13.6 10.8z"/>
<path color="#4435d0" d="M596.7 901.2l13.6-10.6-8.7-8.3-13.7 11.2z"/>
<path color="#fec239" d="M1274.8 327.4l6.9-10.2-8.8-13.2-6.8 10.6z"/>
<path color="#fabb3d" d="M1261.2 346.6l13.6-19.2-8.7-12.8-13.7 19.5z"/>
<path color="#e9bb30" d="M1247.5 366.8l13.7-20.2-8.8-12.5-13.7 19.5z"/>
<path color="#d4bf27" d="M1233.9 388l13.6-21.2-8.8-13.2-13.6 20.6z"/>
<path color="#b9c431" d="M1220.2 409.6l13.7-21.6-8.8-13.8-13.7 21.1z"/>
<path color="#9bc945" d="M1206.5 430.2l13.7-20.6-8.8-14.3-13.6 20.3z"/>
<path color="#7dcc5b" d="M1192.9 449.6l13.6-19.4-8.7-14.6-13.7 19z"/>
<path color="#62cd70" d="M1179.2 468.1l13.7-18.5-8.8-15-13.7 18.3z"/>
<path color="#4bcb84" d="M1165.6 485.9l13.6-17.8-8.8-15.2-13.6 17.7z"/>
<path color="#3ac994" d="M1151.9 502.7l13.7-16.8-8.8-15.3-13.7 16.9z"/>
<path color="#30c5a1" d="M1138.2 518.3l13.7-15.6-8.8-15.2-13.6 15.7z"/>
<path color="#27c2ac" d="M1124.6 532.6l13.6-14.3-8.7-15.1-13.7 14.4z"/>
<path color="#19bfb5" d="M1110.9 545.8l13.7-13.2-8.8-15-13.7 13.4z"/>
<path color="#0abdbd" d="M1097.3 557.9l13.6-12.1-8.8-14.8-13.6 12.2z"/>
<path color="#02bac4" d="M1083.6 569.1l13.7-11.2-8.8-14.7-13.7 11.4z"/>
<path color="#01b8ca" d="M1069.9 579.5l13.7-10.4-8.8-14.5-13.6 10.6z"/>
<path color="#06b5cf" d="M1056.3 589.2l13.6-9.7-8.7-14.3-13.7 9.9z"/>
<path color="#0db3d3" d="M1042.6 598.1l13.7-8.9-8.8-14.1-13.7 9.1z"/>
<path color="#12b1d7" d="M1028.9 606.2l13.7-8.1-8.8-13.9-13.6 8.4z"/>
<path color="#16afd9" d="M1015.3 613.7l13.6-7.5-8.7-13.6-13.7 7.7z"/>
<path color="#19addc" d="M1001.6 620.5l13.7-6.8-8.8-13.4-13.7 7.2z"/>
<path color="#1aabdd" d="M988 626.9l13.6-6.4-8.8-13-13.6 6.7z"/>
<path color="#1caadf" d="M974.3 633l13.7-6.1-8.8-12.7-13.7 6.6z"/>
<path color="#1da9e0" d="M960.6 639l13.7-6-8.8-12.2-13.6 6.4z"/>
<path color="#1ea7e1" d="M947 645l13.6-6-8.7-11.8-13.7 6.5z"/>
<path color="#1fa6e2" d="M933.3 651.1l13.7-6.1-8.8-11.3-13.7 6.6z"/>
<path color="#20a4e3" d="M919.7 657.5l13.6-6.4-8.8-10.8-13.6 6.9z"/>
<path color="#22a2e4" d="M906 664.3l13.7-6.8-8.8-10.3-13.7 7.2z"/>
<path color="#23a0e5" d="M892.3 671.7l13.7-7.4-8.8-9.9-13.6 7.7z"/>
<path color="#249ee6" d="M878.7 679.6l13.6-7.9-8.7-9.6-13.7 8.3z"/>
<path color="#259be8" d="M865 688.4l13.7-8.8-8.8-9.2-13.7 9.1z"/>
<path color="#2798ea" d="M851.4 697.9l13.6-9.5-8.8-8.9-13.6 9.8z"/>
<path color="#2994ed" d="M837.7 708.1l13.7-10.2-8.8-8.6-13.7 10.4z"/>
<path color="#2c8ff0" d="M824 718.8l13.7-10.7-8.8-8.4-13.6 11z"/>
<path color="#2d8af4" d="M810.4 730.1l13.6-11.3-8.7-8.1-13.7 11.4z"/>
<path color="#2e85f8" d="M796.7 741.8l13.7-11.7-8.8-8-13.7 11.9z"/>
<path color="#307ffb" d="M783.1 753.8l13.6-12-8.8-7.8-13.6 12z"/>
<path color="#3579fd" d="M769.4 766l13.7-12.2-8.8-7.8-13.7 12.3z"/>
<path color="#3b72ff" d="M755.7 778.3l13.7-12.3-8.8-7.7-13.6 12.4z"/>
<path color="#416bfe" d="M742.1 790.8l13.6-12.5-8.7-7.6-13.7 12.5z"/>
<path color="#4465fd" d="M728.4 803.3l13.7-12.5-8.8-7.6-13.7 12.5z"/>
<path color="#465efb" d="M714.7 815.9l13.7-12.6-8.8-7.6-13.6 12.6z"/>
<path color="#4758f8" d="M701.1 828.5l13.6-12.6-8.7-7.6-13.7 12.6z"/>
<path color="#4852f4" d="M687.4 841l13.7-12.5-8.8-7.6-13.7 12.5z"/>
<path color="#484cef" d="M673.8 853.4l13.6-12.4-8.8-7.6-13.6 12.4z"/>
<path color="#4745ea" d="M660.1 865.5l13.7-12.1-8.8-7.6-13.7 12.1z"/>
<path color="#4740e3" d="M646.4 877l13.7-11.5-8.8-7.6-13.6 11.5z"/>
<path color="#463bdc" d="M632.8 887.9l13.6-10.9-8.7-7.6-13.7 10.6z"/>
<path color="#4536d4" d="M619.1 898.4l13.7-10.5-8.8-7.9-13.7 10.6z"/>
<path color="#4433cb" d="M605.5 908.8l13.6-10.4-8.8-7.8-13.6 10.6z"/>
<path color="#fcbd3d" d="M1283.6 340.4l6.8-10-8.7-13.2-6.9 10.2z"/>
<path color="#f1ba37" d="M1270 359.6l13.6-19.2-8.8-13-13.6 19.2z"/>
<path color="#debc2a" d="M1256.3 380.3l13.7-20.7-8.8-13-13.7 20.2z"/>
<path color="#c5c22a" d="M1242.6 402l13.7-21.7-8.8-13.5-13.6 21.2z"/>
<path color="#a8c73b" d="M1229 423.9l13.6-21.9-8.7-14-13.7 21.6z"/>
<path color="#88cb53" d="M1215.3 445l13.7-21.1-8.8-14.3-13.7 20.6z"/>
<path color="#69cd6a" d="M1201.7 464.7l13.6-19.7-8.8-14.8-13.6 19.4z"/>
<path color="#50cc7f" d="M1188 483.5l13.7-18.8-8.8-15.1-13.7 18.5z"/>
<path color="#3cc991" d="M1174.3 501.4l13.7-17.9-8.8-15.4-13.6 17.8z"/>
<path color="#31c6a0" d="M1160.7 518.2l13.6-16.8-8.7-15.5-13.7 16.8z"/>
<path color="#27c2ac" d="M1147 533.7l13.7-15.5-8.8-15.5-13.7 15.6z"/>
<path color="#18bfb6" d="M1133.3 547.8l13.7-14.1-8.8-15.4-13.6 14.3z"/>
<path color="#08bcbf" d="M1119.7 560.8l13.6-13-8.7-15.2-13.7 13.2z"/>
<path color="#01b9c6" d="M1106 572.8l13.7-12-8.8-15-13.6 12.1z"/>
<path color="#04b6cd" d="M1092.4 583.8l13.6-11-8.7-14.9-13.7 11.2z"/>
<path color="#0bb4d2" d="M1078.7 593.9l13.7-10.1-8.8-14.7-13.7 10.4z"/>
<path color="#12b1d7" d="M1065 603.4l13.7-9.5-8.8-14.4-13.6 9.7z"/>
<path color="#17aeda" d="M1051.4 612l13.6-8.6-8.7-14.2-13.7 8.9z"/>
<path color="#1aacdd" d="M1037.7 619.9l13.7-7.9-8.8-13.9-13.7 8.1z"/>
<path color="#1caadf" d="M1024.1 627l13.6-7.1-8.8-13.7-13.6 7.5z"/>
<path color="#1da8e0" d="M1010.4 633.5l13.7-6.5-8.8-13.3-13.7 6.8z"/>
<path color="#1ea6e1" d="M996.7 639.6l13.7-6.1-8.8-13-13.6 6.4z"/>
<path color="#1fa5e2" d="M983.1 645.2l13.6-5.6-8.7-12.7-13.7 6.1z"/>
<path color="#20a4e3" d="M969.4 650.7l13.7-5.5-8.8-12.2-13.7 6z"/>
<path color="#21a3e3" d="M955.8 656.3l13.6-5.6-8.8-11.7-13.6 6z"/>
<path color="#22a2e4" d="M942.1 661.9l13.7-5.6-8.8-11.3-13.7 6.1z"/>
<path color="#23a0e5" d="M928.4 667.9l13.7-6-8.8-10.8-13.6 6.4z"/>
<path color="#249fe6" d="M914.8 674.3l13.6-6.4-8.7-10.4-13.7 6.8z"/>
<path color="#259de7" d="M901.1 681.3l13.7-7-8.8-10-13.7 7.4z"/>
<path color="#269be8" d="M887.5 689l13.6-7.7-8.8-9.6-13.6 7.9z"/>
<path color="#2798ea" d="M873.8 697.4l13.7-8.4-8.8-9.4-13.7 8.8z"/>
<path color="#2995ec" d="M860.1 706.6l13.7-9.2-8.8-9-13.6 9.5z"/>
<path color="#2b91ef" d="M846.5 716.5l13.6-9.9-8.7-8.7-13.7 10.2z"/>
<path color="#2d8cf3" d="M832.8 727.1l13.7-10.6-8.8-8.4-13.7 10.7z"/>
<path color="#2d88f6" d="M819.1 738.2l13.7-11.1-8.8-8.3-13.6 11.3z"/>
<path color="#2f82f9" d="M805.5 749.7l13.6-11.5-8.7-8.1-13.7 11.7z"/>
<path color="#327cfc" d="M791.8 761.6l13.7-11.9-8.8-7.9-13.6 12z"/>
<path color="#3876fe" d="M778.2 773.7l13.6-12.1-8.7-7.8-13.7 12.2z"/>
<path color="#3e6fff" d="M764.5 785.9l13.7-12.2-8.8-7.7-13.7 12.3z"/>
<path color="#4369fe" d="M750.8 798.3l13.7-12.4-8.8-7.6-13.6 12.5z"/>
<path color="#4562fc" d="M737.2 810.8l13.6-12.5-8.7-7.5-13.7 12.5z"/>
<path color="#475cfa" d="M723.5 823.3l13.7-12.5-8.8-7.5-13.7 12.6z"/>
<path color="#4756f6" d="M709.9 835.9l13.6-12.6-8.8-7.4-13.6 12.6z"/>
<path color="#484ff2" d="M696.2 848.4l13.7-12.5-8.8-7.4-13.7 12.5z"/>
<path color="#4849ed" d="M682.5 860.7l13.7-12.3-8.8-7.4-13.6 12.4z"/>
<path color="#4743e7" d="M668.9 872.7l13.6-12-8.7-7.3-13.7 12.1z"/>
<path color="#463de0" d="M655.2 884.2l13.7-11.5-8.8-7.2-13.7 11.5z"/>
<path color="#4538d8" d="M641.6 895.2l13.6-11-8.8-7.2-13.6 10.9z"/>
<path color="#4434d0" d="M627.9 905.7l13.7-10.5-8.8-7.3-13.7 10.5z"/>
<path color="#4331c6" d="M614.2 916l13.7-10.3-8.8-7.3-13.6 10.4z"/>
<path color="#f5ba3a" d="M1292.4 353l6.8-9.5-8.8-13.1-6.8 10z"/>
<path color="#e7bb2e" d="M1278.7 373.2l13.7-20.2-8.8-12.6-13.6 19.2z"/>
<path color="#d1bf27" d="M1265.1 394.2l13.6-21-8.7-13.6-13.7 20.7z"/>
<path color="#b5c533" d="M1251.4 416l13.7-21.8-8.8-13.9-13.7 21.7z"/>
<path color="#96ca49" d="M1237.7 438l13.7-22-8.8-14-13.6 21.9z"/>
<path color="#74cc62" d="M1224.1 459.3l13.6-21.3-8.7-14.1-13.7 21.1z"/>
<path color="#58cc79" d="M1210.4 479.4l13.7-20.1-8.8-14.3-13.6 19.7z"/>
<path color="#40ca8d" d="M1196.8 498.6l13.6-19.2-8.7-14.7-13.7 18.8z"/>
<path color="#33c69e" d="M1183.1 516.8l13.7-18.2-8.8-15.1-13.7 17.9z"/>
<path color="#28c2ab" d="M1169.4 533.7l13.7-16.9-8.8-15.4-13.6 16.8z"/>
<path color="#17bfb6" d="M1155.8 549l13.6-15.3-8.7-15.5-13.7 15.5z"/>
<path color="#06bcc0" d="M1142.1 563.1l13.7-14.1-8.8-15.3-13.7 14.1z"/>
<path color="#01b8c8" d="M1128.5 576l13.6-12.9-8.8-15.3-13.6 13z"/>
<path color="#06b5cf" d="M1114.8 587.7l13.7-11.7-8.8-15.2-13.7 12z"/>
<path color="#10b2d5" d="M1101.1 598.5l13.7-10.8-8.8-14.9-13.6 11z"/>
<path color="#16afd9" d="M1087.5 608.4l13.6-9.9-8.7-14.7-13.7 10.1z"/>
<path color="#1aacdd" d="M1073.8 617.5l13.7-9.1-8.8-14.5-13.7 9.5z"/>
<path color="#1da9e0" d="M1060.2 625.9l13.6-8.4-8.8-14.1-13.6 8.6z"/>
<path color="#1ea6e1" d="M1046.5 633.5l13.7-7.6-8.8-13.9-13.7 7.9z"/>
<path color="#20a4e3" d="M1032.8 640.2l13.7-6.7-8.8-13.6-13.6 7.1z"/>
<path color="#21a3e3" d="M1019.2 646.3l13.6-6.1-8.7-13.2-13.7 6.5z"/>
<path color="#22a1e4" d="M1005.5 651.9l13.7-5.6-8.8-12.8-13.7 6.1z"/>
<path color="#23a0e5" d="M991.9 657.2l13.6-5.3-8.8-12.3-13.6 5.6z"/>
<path color="#239fe5" d="M978.2 662.3l13.7-5.1-8.8-12-13.7 5.5z"/>
<path color="#249ee6" d="M964.5 667.5l13.7-5.2-8.8-11.6-13.6 5.6z"/>
<path color="#249de6" d="M950.9 672.7l13.6-5.2-8.7-11.2-13.7 5.6z"/>
<path color="#259ce7" d="M937.2 678.3l13.7-5.6-8.8-10.8-13.7 6z"/>
<path color="#259be8" d="M923.6 684.4l13.6-6.1-8.8-10.4-13.6 6.4z"/>
<path color="#2699e9" d="M909.9 691l13.7-6.6-8.8-10.1-13.7 7z"/>
<path color="#2797eb" d="M896.2 698.3l13.7-7.3-8.8-9.7-13.6 7.7z"/>
<path color="#2995ec" d="M882.6 706.5l13.6-8.2-8.7-9.3-13.7 8.4z"/>
<path color="#2b91ef" d="M868.9 715.4l13.7-8.9-8.8-9.1-13.7 9.2z"/>
<path color="#2c8ef2" d="M855.2 725l13.7-9.6-8.8-8.8-13.6 9.9z"/>
<path color="#2d89f5" d="M841.6 735.4l13.6-10.4-8.7-8.5-13.7 10.6z"/>
<path color="#2e85f8" d="M827.9 746.3l13.7-10.9-8.8-8.3-13.7 11.1z"/>
<path color="#307ffb" d="M814.3 757.7l13.6-11.4-8.8-8.1-13.6 11.5z"/>
<path color="#3479fd" d="M800.6 769.4l13.7-11.7-8.8-8-13.7 11.9z"/>
<path color="#3b73fe" d="M786.9 781.4l13.7-12-8.8-7.8-13.6 12.1z"/>
<path color="#406cfe" d="M773.3 793.5l13.6-12.1-8.7-7.7-13.7 12.2z"/>
<path color="#4466fd" d="M759.6 805.8l13.7-12.3-8.8-7.6-13.7 12.4z"/>
<path color="#4660fb" d="M746 818.2l13.6-12.4-8.8-7.5-13.6 12.5z"/>
<path color="#4759f9" d="M732.3 830.7l13.7-12.5-8.8-7.4-13.7 12.5z"/>
<path color="#4853f5" d="M718.6 843.2l13.7-12.5-8.8-7.4-13.6 12.6z"/>
<path color="#484df0" d="M705 855.5l13.6-12.3-8.7-7.3-13.7 12.5z"/>
<path color="#4747eb" d="M691.3 867.7l13.7-12.2-8.8-7.1-13.7 12.3z"/>
<path color="#4741e5" d="M677.7 879.6l13.6-11.9-8.8-7-13.6 12z"/>
<path color="#463bdd" d="M664 891.1l13.7-11.5-8.8-6.9-13.7 11.5z"/>
<path color="#4537d5" d="M650.3 902.1l13.7-11-8.8-6.9-13.6 11z"/>
<path color="#4433cb" d="M636.7 912.7l13.6-10.6-8.7-6.9-13.7 10.5z"/>
<path color="#422fc2" d="M623 923l13.7-10.3-8.8-7-13.7 10.3z"/>
<path color="#eaba31" d="M1301.2 367.1l6.8-10.5-8.8-13.1-6.8 9.5z"/>
<path color="#dbbd29" d="M1287.5 387.4l13.7-20.3-8.8-14.1-13.7 20.2z"/>
<path color="#c2c22c" d="M1273.8 408.2l13.7-20.8-8.8-14.2-13.6 21z"/>
<path color="#a4c83e" d="M1260.2 429.9l13.6-21.7-8.7-14-13.7 21.8z"/>
<path color="#84cc56" d="M1246.5 451.8l13.7-21.9-8.8-13.9-13.7 22z"/>
<path color="#63cd70" d="M1232.9 473.3l13.6-21.5-8.8-13.8-13.6 21.3z"/>
<path color="#47cb87" d="M1219.2 493.9l13.7-20.6-8.8-14-13.7 20.1z"/>
<path color="#35c799" d="M1205.5 513.4l13.7-19.5-8.8-14.5-13.6 19.2z"/>
<path color="#2ac3a9" d="M1191.9 531.7l13.6-18.3-8.7-14.8-13.7 18.2z"/>
<path color="#19bfb5" d="M1178.2 548.7l13.7-17-8.8-14.9-13.7 16.9z"/>
<path color="#06bcc0" d="M1164.6 564.2l13.6-15.5-8.8-15-13.6 15.3z"/>
<path color="#01b8c9" d="M1150.9 578.3l13.7-14.1-8.8-15.2-13.7 14.1z"/>
<path color="#09b4d1" d="M1137.2 591.2l13.7-12.9-8.8-15.2-13.6 12.9z"/>
<path color="#13b0d7" d="M1123.6 602.8l13.6-11.6-8.7-15.2-13.7 11.7z"/>
<path color="#19addc" d="M1109.9 613.3l13.7-10.5-8.8-15.1-13.7 10.8z"/>
<path color="#1ca9df" d="M1096.3 622.8l13.6-9.5-8.8-14.8-13.6 9.9z"/>
<path color="#1fa6e2" d="M1082.6 631.6l13.7-8.8-8.8-14.4-13.7 9.1z"/>
<path color="#21a3e3" d="M1068.9 639.6l13.7-8-8.8-14.1-13.6 8.4z"/>
<path color="#23a1e4" d="M1055.3 646.8l13.6-7.2-8.7-13.7-13.7 7.6z"/>
<path color="#249fe5" d="M1041.6 653.1l13.7-6.3-8.8-13.3-13.7 6.7z"/>
<path color="#249ee6" d="M1028 658.9l13.6-5.8-8.8-12.9-13.6 6.1z"/>
<path color="#259ce7" d="M1014.3 664.1l13.7-5.2-8.8-12.6-13.7 5.6z"/>
<path color="#259ce7" d="M1000.6 669.1l13.7-5-8.8-12.2-13.6 5.3z"/>
<path color="#259be8" d="M987 673.9l13.6-4.8-8.7-11.9-13.7 5.1z"/>
<path color="#269ae8" d="M973.3 678.7l13.7-4.8-8.8-11.6-13.7 5.2z"/>
<path color="#2699e9" d="M959.6 683.6l13.7-4.9-8.8-11.2-13.6 5.2z"/>
<path color="#2698ea" d="M946 688.8l13.6-5.2-8.7-10.9-13.7 5.6z"/>
<path color="#2797eb" d="M932.3 694.5l13.7-5.7-8.8-10.5-13.6 6.1z"/>
<path color="#2896ec" d="M918.7 700.8l13.6-6.3-8.7-10.1-13.7 6.6z"/>
<path color="#2994ed" d="M905 707.8l13.7-7-8.8-9.8-13.7 7.3z"/>
<path color="#2b91ef" d="M891.3 715.6l13.7-7.8-8.8-9.5-13.6 8.2z"/>
<path color="#2c8ef1" d="M877.7 724.2l13.6-8.6-8.7-9.1-13.7 8.9z"/>
<path color="#2d8bf4" d="M864 733.7l13.7-9.5-8.8-8.8-13.7 9.6z"/>
<path color="#2e86f7" d="M850.4 743.7l13.6-10-8.8-8.7-13.6 10.4z"/>
<path color="#2f82fa" d="M836.7 754.4l13.7-10.7-8.8-8.3-13.7 10.9z"/>
<path color="#327cfc" d="M823 765.6l13.7-11.2-8.8-8.1-13.6 11.4z"/>
<path color="#3776fe" d="M809.4 777.2l13.6-11.6-8.7-7.9-13.7 11.7z"/>
<path color="#3d70ff" d="M795.7 789l13.7-11.8-8.8-7.8-13.7 12z"/>
<path color="#426afe" d="M782.1 801.1l13.6-12.1-8.8-7.6-13.6 12.1z"/>
<path color="#4563fd" d="M768.4 813.3l13.7-12.2-8.8-7.6-13.7 12.3z"/>
<path color="#465dfb" d="M754.7 825.6l13.7-12.3-8.8-7.5-13.6 12.4z"/>
<path color="#4757f7" d="M741.1 838l13.6-12.4-8.7-7.4-13.7 12.5z"/>
<path color="#4851f3" d="M727.4 850.3l13.7-12.3-8.8-7.3-13.7 12.5z"/>
<path color="#484bee" d="M713.8 862.5l13.6-12.2-8.8-7.1-13.6 12.3z"/>
<path color="#4745e9" d="M700.1 874.5l13.7-12-8.8-7-13.7 12.2z"/>
<path color="#473fe2" d="M686.4 886.3l13.7-11.8-8.8-6.8-13.6 11.9z"/>
<path color="#463ada" d="M672.8 897.6l13.6-11.3-8.7-6.7-13.7 11.5z"/>
<path color="#4435d1" d="M659.1 908.7l13.7-11.1-8.8-6.5-13.7 11z"/>
<path color="#4331c8" d="M645.5 919.3l13.6-10.6-8.8-6.6-13.6 10.6z"/>
<path color="#412ebe" d="M631.8 929.6l13.7-10.3-8.8-6.6-13.7 10.3z"/>
<path color="#debc2a" d="M1309.9 381.5l6.9-10.9-8.8-14-6.8 10.5z"/>
<path color="#ccc028" d="M1296.3 401.6l13.6-20.1-8.7-14.4-13.7 20.3z"/>
<path color="#b2c635" d="M1282.6 422l13.7-20.4-8.8-14.2-13.7 20.8z"/>
<path color="#93ca4b" d="M1269 443.5l13.6-21.5-8.8-13.8-13.6 21.7z"/>
<path color="#71cd64" d="M1255.3 465.5l13.7-22-8.8-13.6-13.7 21.9z"/>
<path color="#53cc7d" d="M1241.6 487.3l13.7-21.8-8.8-13.7-13.6 21.5z"/>
<path color="#3bc993" d="M1228 508.3l13.6-21-8.7-14-13.7 20.6z"/>
<path color="#2ec4a4" d="M1214.3 528l13.7-19.7-8.8-14.4-13.7 19.5z"/>
<path color="#1ec0b2" d="M1200.7 546.5l13.6-18.5-8.8-14.6-13.6 18.3z"/>
<path color="#08bcbf" d="M1187 563.6l13.7-17.1-8.8-14.8-13.7 17z"/>
<path color="#01b8c9" d="M1173.3 579.2l13.7-15.6-8.8-14.9-13.6 15.5z"/>
<path color="#0bb3d2" d="M1159.7 593.5l13.6-14.3-8.7-15-13.7 14.1z"/>
<path color="#15afd9" d="M1146 606.3l13.7-12.8-8.8-15.2-13.7 12.9z"/>
<path color="#1babde" d="M1132.4 617.8l13.6-11.5-8.8-15.1-13.6 11.6z"/>
<path color="#1ea7e1" d="M1118.7 628.1l13.7-10.3-8.8-15-13.7 10.5z"/>
<path color="#21a3e3" d="M1105 637.3l13.7-9.2-8.8-14.8-13.6 9.5z"/>
<path color="#23a0e5" d="M1091.4 645.7l13.6-8.4-8.7-14.5-13.7 8.8z"/>
<path color="#249de6" d="M1077.7 653.3l13.7-7.6-8.8-14.1-13.7 8z"/>
<path color="#259be8" d="M1064.1 660l13.6-6.7-8.8-13.7-13.6 7.2z"/>
<path color="#269ae9" d="M1050.4 665.9l13.7-5.9-8.8-13.2-13.7 6.3z"/>
<path color="#2698ea" d="M1036.7 671.3l13.7-5.4-8.8-12.8-13.6 5.8z"/>
<path color="#2797ea" d="M1023.1 676.2l13.6-4.9-8.7-12.4-13.7 5.2z"/>
<path color="#2797eb" d="M1009.4 680.9l13.7-4.7-8.8-12.1-13.7 5z"/>
<path color="#2896eb" d="M995.7 685.4l13.7-4.5-8.8-11.8-13.6 4.8z"/>
<path color="#2896ec" d="M982.1 689.9l13.6-4.5-8.7-11.5-13.7 4.8z"/>
<path color="#2895ec" d="M968.4 694.5l13.7-4.6-8.8-11.2-13.7 4.9z"/>
<path color="#2994ed" d="M954.8 699.4l13.6-4.9-8.8-10.9-13.6 5.2z"/>
<path color="#2a93ed" d="M941.1 704.8l13.7-5.4-8.8-10.6-13.7 5.7z"/>
<path color="#2b92ee" d="M927.4 710.7l13.7-5.9-8.8-10.3-13.6 6.3z"/>
<path color="#2c90f0" d="M913.8 717.4l13.6-6.7-8.7-9.9-13.7 7z"/>
<path color="#2c8ef2" d="M900.1 724.9l13.7-7.5-8.8-9.6-13.7 7.8z"/>
<path color="#2d8bf4" d="M886.5 733.2l13.6-8.3-8.8-9.3-13.6 8.6z"/>
<path color="#2d87f6" d="M872.8 742.4l13.7-9.2-8.8-9-13.7 9.5z"/>
<path color="#2e83f9" d="M859.1 752.2l13.7-9.8-8.8-8.7-13.6 10z"/>
<path color="#307ffb" d="M845.5 762.6l13.6-10.4-8.7-8.5-13.7 10.7z"/>
<path color="#3479fd" d="M831.8 773.6l13.7-11-8.8-8.2-13.7 11.2z"/>
<path color="#3a73fe" d="M818.2 784.9l13.6-11.3-8.8-8-13.6 11.6z"/>
<path color="#3f6dfe" d="M804.5 796.6l13.7-11.7-8.8-7.7-13.7 11.8z"/>
<path color="#4367fd" d="M790.8 808.6l13.7-12-8.8-7.6-13.6 12.1z"/>
<path color="#4561fc" d="M777.2 820.8l13.6-12.2-8.7-7.5-13.7 12.2z"/>
<path color="#475bf9" d="M763.5 833.1l13.7-12.3-8.8-7.5-13.7 12.3z"/>
<path color="#4755f6" d="M749.9 845.3l13.6-12.2-8.8-7.5-13.6 12.4z"/>
<path color="#484ff2" d="M736.2 857.5l13.7-12.2-8.8-7.3-13.7 12.3z"/>
<path color="#4849ed" d="M722.5 869.5l13.7-12-8.8-7.2-13.6 12.2z"/>
<path color="#4743e7" d="M708.9 881.3l13.6-11.8-8.7-7-13.7 12z"/>
<path color="#463de0" d="M695.2 892.8l13.7-11.5-8.8-6.8-13.7 11.8z"/>
<path color="#4538d8" d="M681.5 904l13.7-11.2-8.8-6.5-13.6 11.3z"/>
<path color="#4434ce" d="M667.9 915l13.6-11-8.7-6.4-13.7 11.1z"/>
<path color="#4230c4" d="M654.2 925.6l13.7-10.6-8.8-6.3-13.6 10.6z"/>
<path color="#412dbb" d="M640.6 935.8l13.6-10.2-8.7-6.3-13.7 10.3z"/>
<path color="#d0bf27" d="M1318.7 395.5l6.9-10.9-8.8-14-6.9 10.9z"/>
<path color="#bdc42f" d="M1305.1 415.2l13.6-19.7-8.8-14-13.6 20.1z"/>
<path color="#a1c840" d="M1291.4 435.3l13.7-20.1-8.8-13.6-13.7 20.4z"/>
<path color="#82cc58" d="M1277.7 456.9l13.7-21.6-8.8-13.3-13.6 21.5z"/>
<path color="#61cd72" d="M1264.1 479.3l13.6-22.4-8.7-13.4-13.7 22z"/>
<path color="#44cb8a" d="M1250.4 501.4l13.7-22.1-8.8-13.8-13.7 21.8z"/>
<path color="#32c69e" d="M1236.8 522.7l13.6-21.3-8.8-14.1-13.6 21z"/>
<path color="#24c2ae" d="M1223.1 542.6l13.7-19.9-8.8-14.4-13.7 19.7z"/>
<path color="#0cbdbc" d="M1209.4 561.1l13.7-18.5-8.8-14.6-13.6 18.5z"/>
<path color="#01b9c8" d="M1195.8 578.3l13.6-17.2-8.7-14.6-13.7 17.1z"/>
<path color="#0ab4d2" d="M1182.1 594.2l13.7-15.9-8.8-14.7-13.7 15.6z"/>
<path color="#16aeda" d="M1168.5 608.6l13.6-14.4-8.8-15-13.6 14.3z"/>
<path color="#1ca9df" d="M1154.8 621.4l13.7-12.8-8.8-15.1-13.7 12.8z"/>
<path color="#20a5e3" d="M1141.1 632.8l13.7-11.4-8.8-15.1-13.6 11.5z"/>
<path color="#23a0e5" d="M1127.5 642.8l13.6-10-8.7-15-13.7 10.3z"/>
<path color="#259de7" d="M1113.8 651.8l13.7-9-8.8-14.7-13.7 9.2z"/>
<path color="#269ae9" d="M1100.1 659.8l13.7-8-8.8-14.5-13.6 8.4z"/>
<path color="#2798ea" d="M1086.5 666.9l13.6-7.1-8.7-14.1-13.7 7.6z"/>
<path color="#2896ec" d="M1072.8 673.1l13.7-6.2-8.8-13.6-13.6 6.7z"/>
<path color="#2994ed" d="M1059.2 678.7l13.6-5.6-8.7-13.1-13.7 5.9z"/>
<path color="#2a93ee" d="M1045.5 683.7l13.7-5-8.8-12.8-13.7 5.4z"/>
<path color="#2a92ee" d="M1031.8 688.4l13.7-4.7-8.8-12.4-13.6 4.9z"/>
<path color="#2b92ef" d="M1018.2 692.8l13.6-4.4-8.7-12.2-13.7 4.7z"/>
<path color="#2b91ef" d="M1004.5 697.1l13.7-4.3-8.8-11.9-13.7 4.5z"/>
<path color="#2b91ef" d="M990.9 701.3l13.6-4.2-8.8-11.7-13.6 4.5z"/>
<path color="#2b90f0" d="M977.2 705.6l13.7-4.3-8.8-11.4-13.7 4.6z"/>
<path color="#2c90f0" d="M963.5 710.2l13.7-4.6-8.8-11.1-13.6 4.9z"/>
<path color="#2c8ff1" d="M949.9 715.2l13.6-5-8.7-10.8-13.7 5.4z"/>
<path color="#2c8ef1" d="M936.2 720.8l13.7-5.6-8.8-10.4-13.7 5.9z"/>
<path color="#2d8cf3" d="M922.6 727.1l13.6-6.3-8.8-10.1-13.6 6.7z"/>
<path color="#2d8af4" d="M908.9 734.3l13.7-7.2-8.8-9.7-13.7 7.5z"/>
<path color="#2d87f6" d="M895.2 742.4l13.7-8.1-8.8-9.4-13.6 8.3z"/>
<path color="#2e84f8" d="M881.6 751.3l13.6-8.9-8.7-9.2-13.7 9.2z"/>
<path color="#3080fa" d="M867.9 760.9l13.7-9.6-8.8-8.9-13.7 9.8z"/>
<path color="#327bfc" d="M854.3 771l13.6-10.1-8.8-8.7-13.6 10.4z"/>
<path color="#3776fe" d="M840.6 781.7l13.7-10.7-8.8-8.4-13.7 11z"/>
<path color="#3d70ff" d="M826.9 792.8l13.7-11.1-8.8-8.1-13.6 11.3z"/>
<path color="#416bfe" d="M813.3 804.3l13.6-11.5-8.7-7.9-13.7 11.7z"/>
<path color="#4465fd" d="M799.6 816.2l13.7-11.9-8.8-7.7-13.7 12z"/>
<path color="#465efb" d="M786 828.3l13.6-12.1-8.8-7.6-13.6 12.2z"/>
<path color="#4758f8" d="M772.3 840.5l13.7-12.2-8.8-7.5-13.7 12.3z"/>
<path color="#4852f4" d="M758.6 852.7l13.7-12.2-8.8-7.4-13.6 12.2z"/>
<path color="#484cf0" d="M745 864.7l13.6-12-8.7-7.4-13.7 12.2z"/>
<path color="#4746eb" d="M731.3 876.5l13.7-11.8-8.8-7.2-13.7 12z"/>
<path color="#4741e5" d="M717.6 888l13.7-11.5-8.8-7-13.6 11.8z"/>
<path color="#463bdd" d="M704 899.3l13.6-11.3-8.7-6.7-13.7 11.5z"/>
<path color="#4537d5" d="M690.3 910.3l13.7-11-8.8-6.5-13.7 11.2z"/>
<path color="#4433cb" d="M676.7 921l13.6-10.7-8.8-6.3-13.6 11z"/>
<path color="#422fc1" d="M663 931.4l13.7-10.4-8.8-6-13.7 10.6z"/>
<path color="#402cb8" d="M649.3 941.5l13.7-10.1-8.8-5.8-13.6 10.2z"/>
<path color="#c1c32c" d="M1327.5 408.8l6.8-10.8-8.7-13.4-6.9 10.9z"/>
<path color="#adc638" d="M1313.8 428.2l13.7-19.4-8.8-13.3-13.6 19.7z"/>
<path color="#91ca4d" d="M1300.2 448.2l13.6-20-8.7-13-13.7 20.1z"/>
<path color="#70cd65" d="M1286.5 470.4l13.7-22.2-8.8-12.9-13.7 21.6z"/>
<path color="#51cc7f" d="M1272.9 493.3l13.6-22.9-8.8-13.5-13.6 22.4z"/>
<path color="#38c896" d="M1259.2 515.9l13.7-22.6-8.8-14-13.7 22.1z"/>
<path color="#2bc3a8" d="M1245.5 537.3l13.7-21.4-8.8-14.5-13.6 21.3z"/>
<path color="#15bfb7" d="M1231.9 557.3l13.6-20-8.7-14.6-13.7 19.9z"/>
<path color="#02bac5" d="M1218.2 575.8l13.7-18.5-8.8-14.7-13.7 18.5z"/>
<path color="#08b4d0" d="M1204.6 593.1l13.6-17.3-8.8-14.7-13.6 17.2z"/>
<path color="#16afd9" d="M1190.9 609.1l13.7-16-8.8-14.8-13.7 15.9z"/>
<path color="#1da9e0" d="M1177.2 623.7l13.7-14.6-8.8-14.9-13.6 14.4z"/>
<path color="#21a3e3" d="M1163.6 636.5l13.6-12.8-8.7-15.1-13.7 12.8z"/>
<path color="#249ee6" d="M1149.9 647.7l13.7-11.2-8.8-15.1-13.7 11.4z"/>
<path color="#269ae9" d="M1136.2 657.6l13.7-9.9-8.8-14.9-13.6 10z"/>
<path color="#2796eb" d="M1122.6 666.3l13.6-8.7-8.7-14.8-13.7 9z"/>
<path color="#2994ed" d="M1108.9 673.9l13.7-7.6-8.8-14.5-13.7 8z"/>
<path color="#2b91ef" d="M1095.3 680.5l13.6-6.6-8.8-14.1-13.6 7.1z"/>
<path color="#2c90f0" d="M1081.6 686.3l13.7-5.8-8.8-13.6-13.7 6.2z"/>
<path color="#2c8ef1" d="M1067.9 691.4l13.7-5.1-8.8-13.2-13.6 5.6z"/>
<path color="#2d8df2" d="M1054.3 696.2l13.6-4.8-8.7-12.7-13.7 5z"/>
<path color="#2d8df2" d="M1040.6 700.6l13.7-4.4-8.8-12.5-13.7 4.7z"/>
<path color="#2d8cf3" d="M1027 704.8l13.6-4.2-8.8-12.2-13.6 4.4z"/>
<path color="#2d8cf3" d="M1013.3 708.9l13.7-4.1-8.8-12-13.7 4.3z"/>
<path color="#2d8cf3" d="M999.6 712.9l13.7-4-8.8-11.8-13.6 4.2z"/>
<path color="#2d8bf3" d="M986 717l13.6-4.1-8.7-11.6-13.7 4.3z"/>
<path color="#2d8bf4" d="M972.3 721.3l13.7-4.3-8.8-11.4-13.7 4.6z"/>
<path color="#2d8bf4" d="M958.7 725.9l13.6-4.6-8.8-11.1-13.6 5z"/>
<path color="#2d8af5" d="M945 731.1l13.7-5.2-8.8-10.7-13.7 5.6z"/>
<path color="#2d88f6" d="M931.3 737l13.7-5.9-8.8-10.3-13.6 6.3z"/>
<path color="#2e86f7" d="M917.7 743.9l13.6-6.9-8.7-9.9-13.7 7.2z"/>
<path color="#2e84f9" d="M904 751.8l13.7-7.9-8.8-9.6-13.7 8.1z"/>
<path color="#2f80fa" d="M890.4 760.5l13.6-8.7-8.8-9.4-13.6 8.9z"/>
<path color="#327dfc" d="M876.7 769.8l13.7-9.3-8.8-9.2-13.7 9.6z"/>
<path color="#3678fd" d="M863 779.6l13.7-9.8-8.8-8.9-13.6 10.1z"/>
<path color="#3b73fe" d="M849.4 789.9l13.6-10.3-8.7-8.6-13.7 10.7z"/>
<path color="#3f6dfe" d="M835.7 800.8l13.7-10.9-8.8-8.2-13.7 11.1z"/>
<path color="#4368fd" d="M822 812.1l13.7-11.3-8.8-8-13.6 11.5z"/>
<path color="#4562fc" d="M808.4 823.9l13.6-11.8-8.7-7.8-13.7 11.9z"/>
<path color="#475cfa" d="M794.7 835.9l13.7-12-8.8-7.7-13.6 12.1z"/>
<path color="#4756f7" d="M781.1 848.1l13.6-12.2-8.7-7.6-13.7 12.2z"/>
<path color="#4850f2" d="M767.4 860.3l13.7-12.2-8.8-7.6-13.7 12.2z"/>
<path color="#484aee" d="M753.7 872.1l13.7-11.8-8.8-7.6-13.6 12z"/>
<path color="#4744e8" d="M740.1 883.6l13.6-11.5-8.7-7.4-13.7 11.8z"/>
<path color="#473fe2" d="M726.4 894.8l13.7-11.2-8.8-7.1-13.7 11.5z"/>
<path color="#463ada" d="M712.8 905.8l13.6-11-8.8-6.8-13.6 11.3z"/>
<path color="#4535d2" d="M699.1 916.4l13.7-10.6-8.8-6.5-13.7 11z"/>
<path color="#4332c8" d="M685.4 926.9l13.7-10.5-8.8-6.1-13.6 10.7z"/>
<path color="#422ebf" d="M671.8 937.1l13.6-10.2-8.7-5.9-13.7 10.4z"/>
<path color="#402bb6" d="M658.1 947l13.7-9.9-8.8-5.7-13.7 10.1z"/>
<path color="#b2c535" d="M1336.3 421.9l6.8-10.8-8.8-13.1-6.8 10.8z"/>
<path color="#9dc943" d="M1322.6 441.2l13.7-19.3-8.8-13.1-13.7 19.4z"/>
<path color="#80cc59" d="M1309 461.9l13.6-20.7-8.8-13-13.6 20z"/>
<path color="#60cd72" d="M1295.3 484.9l13.7-23-8.8-13.7-13.7 22.2z"/>
<path color="#42ca8b" d="M1281.6 508.2l13.7-23.3-8.8-14.5-13.6 22.9z"/>
<path color="#30c5a1" d="M1268 530.9l13.6-22.7-8.7-14.9-13.7 22.6z"/>
<path color="#1ec0b2" d="M1254.3 552.4l13.7-21.5-8.8-15-13.7 21.4z"/>
<path color="#05bbc1" d="M1240.6 572.2l13.7-19.8-8.8-15.1-13.6 20z"/>
<path color="#05b6ce" d="M1227 590.6l13.6-18.4-8.7-14.9-13.7 18.5z"/>
<path color="#14b0d8" d="M1213.3 607.9l13.7-17.3-8.8-14.8-13.6 17.3z"/>
<path color="#1ca9e0" d="M1199.7 624l13.6-16.1-8.7-14.8-13.7 16z"/>
<path color="#21a2e4" d="M1186 638.6l13.7-14.6-8.8-14.9-13.7 14.6z"/>
<path color="#259ce7" d="M1172.3 651.4l13.7-12.8-8.8-14.9-13.6 12.8z"/>
<path color="#2797ea" d="M1158.7 662.5l13.6-11.1-8.7-14.9-13.7 11.2z"/>
<path color="#2a93ed" d="M1145 672.3l13.7-9.8-8.8-14.8-13.7 9.9z"/>
<path color="#2c90f0" d="M1131.4 680.7l13.6-8.4-8.8-14.7-13.6 8.7z"/>
<path color="#2d8df2" d="M1117.7 688l13.7-7.3-8.8-14.4-13.7 7.6z"/>
<path color="#2d8bf4" d="M1104 694.1l13.7-6.1-8.8-14.1-13.6 6.6z"/>
<path color="#2d89f5" d="M1090.4 699.4l13.6-5.3-8.7-13.6-13.7 5.8z"/>
<path color="#2d88f6" d="M1076.7 704.2l13.7-4.8-8.8-13.1-13.7 5.1z"/>
<path color="#2d88f6" d="M1063.1 708.7l13.6-4.5-8.8-12.8-13.6 4.8z"/>
<path color="#2e87f7" d="M1049.4 712.9l13.7-4.2-8.8-12.5-13.7 4.4z"/>
<path color="#2e87f7" d="M1035.7 717l13.7-4.1-8.8-12.3-13.6 4.2z"/>
<path color="#2e87f7" d="M1022.1 720.9l13.6-3.9-8.7-12.2-13.7 4.1z"/>
<path color="#2e86f7" d="M1008.4 724.8l13.7-3.9-8.8-12-13.7 4z"/>
<path color="#2e86f7" d="M994.8 728.7l13.6-3.9-8.8-11.9-13.6 4.1z"/>
<path color="#2e86f7" d="M981.1 732.7l13.7-4-8.8-11.7-13.7 4.3z"/>
<path color="#2e86f8" d="M967.4 737.1l13.7-4.4-8.8-11.4-13.6 4.6z"/>
<path color="#2e85f8" d="M953.8 741.9l13.6-4.8-8.7-11.2-13.7 5.2z"/>
<path color="#2e84f8" d="M940.1 747.3l13.7-5.4-8.8-10.8-13.7 5.9z"/>
<path color="#2f82f9" d="M926.5 753.8l13.6-6.5-8.8-10.3-13.6 6.9z"/>
<path color="#3080fb" d="M912.8 761.5l13.7-7.7-8.8-9.9-13.7 7.9z"/>
<path color="#327dfc" d="M899.1 770l13.7-8.5-8.8-9.7-13.6 8.7z"/>
<path color="#3579fd" d="M885.5 778.9l13.6-8.9-8.7-9.5-13.7 9.3z"/>
<path color="#3974fe" d="M871.8 788.4l13.7-9.5-8.8-9.1-13.7 9.8z"/>
<path color="#3e6fff" d="M858.1 798.4l13.7-10-8.8-8.8-13.6 10.3z"/>
<path color="#426afe" d="M844.5 809l13.6-10.6-8.7-8.5-13.7 10.9z"/>
<path color="#4465fd" d="M830.8 820.1l13.7-11.1-8.8-8.2-13.7 11.3z"/>
<path color="#465ffb" d="M817.2 831.6l13.6-11.5-8.8-8-13.6 11.8z"/>
<path color="#4759f9" d="M803.5 843.7l13.7-12.1-8.8-7.7-13.7 12z"/>
<path color="#4853f5" d="M789.8 855.9l13.7-12.2-8.8-7.8-13.6 12.2z"/>
<path color="#484df1" d="M776.2 868.1l13.6-12.2-8.7-7.8-13.7 12.2z"/>
<path color="#4747ec" d="M762.5 879.8l13.7-11.7-8.8-7.8-13.7 11.8z"/>
<path color="#4742e6" d="M748.9 891l13.6-11.2-8.8-7.7-13.6 11.5z"/>
<path color="#463ddf" d="M735.2 901.8l13.7-10.8-8.8-7.4-13.7 11.2z"/>
<path color="#4538d7" d="M721.5 912.3l13.7-10.5-8.8-7-13.6 11z"/>
<path color="#4434cf" d="M707.9 922.6l13.6-10.3-8.7-6.5-13.7 10.6z"/>
<path color="#4331c6" d="M694.2 932.7l13.7-10.1-8.8-6.2-13.7 10.5z"/>
<path color="#412dbd" d="M680.6 942.7l13.6-10-8.8-5.8-13.6 10.2z"/>
<path color="#402ab4" d="M666.9 952.5l13.7-9.8-8.8-5.6-13.7 9.9z"/>
<path color="#a3c83f" d="M1345.1 434.7l6.8-10.4-8.8-13.2-6.8 10.8z"/>
<path color="#8dcb50" d="M1331.4 455l13.7-20.3-8.8-12.8-13.7 19.3z"/>
<path color="#6dcd67" d="M1317.7 477.4l13.7-22.4-8.8-13.8-13.6 20.7z"/>
<path color="#4ecc81" d="M1304.1 500.8l13.6-23.4-8.7-15.5-13.7 23z"/>
<path color="#36c898" d="M1290.4 524.1l13.7-23.3-8.8-15.9-13.7 23.3z"/>
<path color="#27c2ac" d="M1276.7 546.7l13.7-22.6-8.8-15.9-13.6 22.7z"/>
<path color="#0cbdbc" d="M1263.1 568.2l13.6-21.5-8.7-15.8-13.7 21.5z"/>
<path color="#01b7ca" d="M1249.4 587.8l13.7-19.6-8.8-15.8-13.7 19.8z"/>
<path color="#12b1d6" d="M1235.8 605.8l13.6-18-8.8-15.6-13.6 18.4z"/>
<path color="#1baadf" d="M1222.1 623l13.7-17.2-8.8-15.2-13.7 17.3z"/>
<path color="#21a3e3" d="M1208.4 639.1l13.7-16.1-8.8-15.1-13.6 16.1z"/>
<path color="#259ce7" d="M1194.8 653.6l13.6-14.5-8.7-15.1-13.7 14.6z"/>
<path color="#2896ec" d="M1181.1 666.2l13.7-12.6-8.8-15-13.7 12.8z"/>
<path color="#2b91ef" d="M1167.5 677.3l13.6-11.1-8.8-14.8-13.6 11.1z"/>
<path color="#2d8cf3" d="M1153.8 686.9l13.7-9.6-8.8-14.8-13.7 9.8z"/>
<path color="#2d89f6" d="M1140.1 695.1l13.7-8.2-8.8-14.6-13.6 8.4z"/>
<path color="#2e86f7" d="M1126.5 702.1l13.6-7-8.7-14.4-13.7 7.3z"/>
<path color="#2e84f8" d="M1112.8 707.8l13.7-5.7-8.8-14.1-13.7 6.1z"/>
<path color="#2e83f9" d="M1099.2 712.7l13.6-4.9-8.8-13.7-13.6 5.3z"/>
<path color="#2f82f9" d="M1085.5 717.1l13.7-4.4-8.8-13.3-13.7 4.8z"/>
<path color="#2f82fa" d="M1071.8 721.4l13.7-4.3-8.8-12.9-13.6 4.5z"/>
<path color="#2f81fa" d="M1058.2 725.5l13.6-4.1-8.7-12.7-13.7 4.2z"/>
<path color="#2f81fa" d="M1044.5 729.5l13.7-4-8.8-12.6-13.7 4.1z"/>
<path color="#2f81fa" d="M1030.9 733.3l13.6-3.8-8.8-12.5-13.6 3.9z"/>
<path color="#2f81fa" d="M1017.2 737.1l13.7-3.8-8.8-12.4-13.7 3.9z"/>
<path color="#2f81fa" d="M1003.5 740.9l13.7-3.8-8.8-12.3-13.6 3.9z"/>
<path color="#2f81fa" d="M989.9 744.7l13.6-3.8-8.7-12.2-13.7 4z"/>
<path color="#2f80fa" d="M976.2 748.8l13.7-4.1-8.8-12-13.7 4.4z"/>
<path color="#3080fa" d="M962.5 753.3l13.7-4.5-8.8-11.7-13.6 4.8z"/>
<path color="#307ffb" d="M948.9 758.1l13.6-4.8-8.7-11.4-13.7 5.4z"/>
<path color="#317efb" d="M935.2 764.1l13.7-6-8.8-10.8-13.6 6.5z"/>
<path color="#327bfc" d="M921.6 771.6l13.6-7.5-8.7-10.3-13.7 7.7z"/>
<path color="#3678fd" d="M907.9 779.9l13.7-8.3-8.8-10.1-13.7 8.5z"/>
<path color="#3974fe" d="M894.2 788.4l13.7-8.5-8.8-9.9-13.6 8.9z"/>
<path color="#3d70ff" d="M880.6 797.4l13.6-9-8.7-9.5-13.7 9.5z"/>
<path color="#416cfe" d="M866.9 807.1l13.7-9.7-8.8-9-13.7 10z"/>
<path color="#4367fd" d="M853.3 817.4l13.6-10.3-8.8-8.7-13.6 10.6z"/>
<path color="#4562fc" d="M839.6 828.2l13.7-10.8-8.8-8.4-13.7 11.1z"/>
<path color="#475cfa" d="M825.9 839.6l13.7-11.4-8.8-8.1-13.6 11.5z"/>
<path color="#4757f7" d="M812.3 851.6l13.6-12-8.7-8-13.7 12.1z"/>
<path color="#4851f3" d="M798.6 863.9l13.7-12.3-8.8-7.9-13.7 12.2z"/>
<path color="#484bee" d="M785 876.1l13.6-12.2-8.8-8-13.6 12.2z"/>
<path color="#4745e9" d="M771.3 887.8l13.7-11.7-8.8-8-13.7 11.7z"/>
<path color="#473fe3" d="M757.6 898.6l13.7-10.8-8.8-8-13.6 11.2z"/>
<path color="#463adc" d="M744 908.9l13.6-10.3-8.7-7.6-13.7 10.8z"/>
<path color="#4536d4" d="M730.3 918.9l13.7-10-8.8-7.1-13.7 10.5z"/>
<path color="#4433cc" d="M716.7 928.8l13.6-9.9-8.8-6.6-13.6 10.3z"/>
<path color="#4230c3" d="M703 938.5l13.7-9.7-8.8-6.2-13.7 10.1z"/>
<path color="#412cba" d="M689.3 948.2l13.7-9.7-8.8-5.8-13.6 10z"/>
<path color="#3f29b2" d="M675.7 957.9l13.6-9.7-8.7-5.5-13.7 9.8z"/>
<path color="#93ca4b" d="M1353.8 448.2l6.9-10.7-8.8-13.2-6.8 10.4z"/>
<path color="#7acc5d" d="M1340.2 470.7l13.6-22.5-8.7-13.5-13.7 20.3z"/>
<path color="#5acc78" d="M1326.5 494.6l13.7-23.9-8.8-15.7-13.7 22.4z"/>
<path color="#3dc990" d="M1312.8 518.1l13.7-23.5-8.8-17.2-13.6 23.4z"/>
<path color="#2dc4a5" d="M1299.2 541.2l13.6-23.1-8.7-17.3-13.7 23.3z"/>
<path color="#16bfb7" d="M1285.5 563.6l13.7-22.4-8.8-17.1-13.7 22.6z"/>
<path color="#01b9c7" d="M1271.9 584.8l13.6-21.2-8.8-16.9-13.6 21.5z"/>
<path color="#0eb3d4" d="M1258.2 604.2l13.7-19.4-8.8-16.6-13.7 19.6z"/>
<path color="#1aabdd" d="M1244.5 621.8l13.7-17.6-8.8-16.4-13.6 18z"/>
<path color="#21a4e3" d="M1230.9 638.8l13.6-17-8.7-16-13.7 17.2z"/>
<path color="#259ce7" d="M1217.2 654.5l13.7-15.7-8.8-15.8-13.7 16.1z"/>
<path color="#2895ec" d="M1203.6 668.6l13.6-14.1-8.8-15.4-13.6 14.5z"/>
<path color="#2c8ff1" d="M1189.9 681l13.7-12.4-8.8-15-13.7 12.6z"/>
<path color="#2d89f5" d="M1176.2 691.8l13.7-10.8-8.8-14.8-13.6 11.1z"/>
<path color="#2e85f8" d="M1162.6 701.3l13.6-9.5-8.7-14.5-13.7 9.6z"/>
<path color="#2f81fa" d="M1148.9 709.4l13.7-8.1-8.8-14.4-13.7 8.2z"/>
<path color="#307ffb" d="M1135.3 716.2l13.6-6.8-8.8-14.3-13.6 7z"/>
<path color="#317dfc" d="M1121.6 721.6l13.7-5.4-8.8-14.1-13.7 5.7z"/>
<path color="#327cfc" d="M1107.9 726.1l13.7-4.5-8.8-13.8-13.6 4.9z"/>
<path color="#327bfc" d="M1094.3 730.1l13.6-4-8.7-13.4-13.7 4.4z"/>
<path color="#337bfc" d="M1080.6 734.3l13.7-4.2-8.8-13-13.7 4.3z"/>
<path color="#337bfd" d="M1067 738.4l13.6-4.1-8.8-12.9-13.6 4.1z"/>
<path color="#337bfd" d="M1053.3 742.3l13.7-3.9-8.8-12.9-13.7 4z"/>
<path color="#337bfd" d="M1039.6 746l13.7-3.7-8.8-12.8-13.6 3.8z"/>
<path color="#337afd" d="M1026 749.9l13.6-3.9-8.7-12.7-13.7 3.8z"/>
<path color="#337afd" d="M1012.3 753.6l13.7-3.7-8.8-12.8-13.7 3.8z"/>
<path color="#337afd" d="M998.6 757.3l13.7-3.7-8.8-12.7-13.6 3.8z"/>
<path color="#337afd" d="M985 761.3l13.6-4-8.7-12.6-13.7 4.1z"/>
<path color="#347afd" d="M971.3 765.6l13.7-4.3-8.8-12.5-13.7 4.5z"/>
<path color="#3479fd" d="M957.7 769.9l13.6-4.3-8.8-12.3-13.6 4.8z"/>
<path color="#3578fd" d="M944 775.1l13.7-5.2-8.8-11.8-13.7 6z"/>
<path color="#3776fe" d="M930.3 782.3l13.7-7.2-8.8-11-13.6 7.5z"/>
<path color="#3a73fe" d="M916.7 790.1l13.6-7.8-8.7-10.7-13.7 8.3z"/>
<path color="#3e70ff" d="M903 798.2l13.7-8.1-8.8-10.2-13.7 8.5z"/>
<path color="#406cfe" d="M889.4 806.8l13.6-8.6-8.8-9.8-13.6 9z"/>
<path color="#4368fe" d="M875.7 816.2l13.7-9.4-8.8-9.4-13.7 9.7z"/>
<path color="#4563fd" d="M862 826.1l13.7-9.9-8.8-9.1-13.6 10.3z"/>
<path color="#465ffb" d="M848.4 836.5l13.6-10.4-8.7-8.7-13.7 10.8z"/>
<path color="#4759f9" d="M834.7 847.7l13.7-11.2-8.8-8.3-13.7 11.4z"/>
<path color="#4854f5" d="M821.1 859.6l13.6-11.9-8.8-8.1-13.6 12z"/>
<path color="#484ef1" d="M807.4 872.1l13.7-12.5-8.8-8-13.7 12.3z"/>
<path color="#4848ec" d="M793.7 884.5l13.7-12.4-8.8-8.2-13.6 12.2z"/>
<path color="#4742e6" d="M780.1 896l13.6-11.5-8.7-8.4-13.7 11.7z"/>
<path color="#463ddf" d="M766.4 906.5l13.7-10.5-8.8-8.2-13.7 10.8z"/>
<path color="#4538d8" d="M752.8 916.2l13.6-9.7-8.8-7.9-13.6 10.3z"/>
<path color="#4435d0" d="M739.1 925.6l13.7-9.4-8.8-7.3-13.7 10z"/>
<path color="#4332c8" d="M725.4 935l13.7-9.4-8.8-6.7-13.6 9.9z"/>
<path color="#422fc0" d="M711.8 944.4l13.6-9.4-8.7-6.2-13.7 9.7z"/>
<path color="#402bb8" d="M698.1 953.8l13.7-9.4-8.8-5.9-13.7 9.7z"/>
<path color="#3f29af" d="M684.4 963.3l13.7-9.5-8.8-5.6-13.6 9.7z"/>
<path color="#7ecc5b" d="M1362.6 466.3l6.8-12.8-8.7-16-6.9 10.7z"/>
<path color="#63cd6f" d="M1348.9 490.6l13.7-24.3-8.8-18.1-13.6 22.5z"/>
<path color="#44cb8a" d="M1335.3 513.6l13.6-23-8.7-19.9-13.7 23.9z"/>
<path color="#31c6a0" d="M1321.6 536.2l13.7-22.6-8.8-19-13.7 23.5z"/>
<path color="#1fc0b2" d="M1308 558.8l13.6-22.6-8.8-18.1-13.6 23.1z"/>
<path color="#03bbc2" d="M1294.3 580.9l13.7-22.1-8.8-17.6-13.7 22.4z"/>
<path color="#09b4d1" d="M1280.6 601.9l13.7-21-8.8-17.3-13.6 21.2z"/>
<path color="#19acdc" d="M1267 621.4l13.6-19.5-8.7-17.1-13.7 19.4z"/>
<path color="#20a4e3" d="M1253.3 638.9l13.7-17.5-8.8-17.2-13.7 17.6z"/>
<path color="#259ce7" d="M1239.7 655.1l13.6-16.2-8.8-17.1-13.6 17z"/>
<path color="#2995ec" d="M1226 670.1l13.7-15-8.8-16.3-13.7 15.7z"/>
<path color="#2c8ef2" d="M1212.3 683.7l13.7-13.6-8.8-15.6-13.6 14.1z"/>
<path color="#2d88f6" d="M1198.7 695.6l13.6-11.9-8.7-15.1-13.7 12.4z"/>
<path color="#2f82f9" d="M1185 706l13.7-10.4-8.8-14.6-13.7 10.8z"/>
<path color="#317efb" d="M1171.4 715.4l13.6-9.4-8.8-14.2-13.6 9.5z"/>
<path color="#347afd" d="M1157.7 723.5l13.7-8.1-8.8-14.1-13.7 8.1z"/>
<path color="#3777fe" d="M1144 730.1l13.7-6.6-8.8-14.1-13.6 6.8z"/>
<path color="#3875fe" d="M1130.4 735.4l13.6-5.3-8.7-13.9-13.7 5.4z"/>
<path color="#3974fe" d="M1116.7 739.6l13.7-4.2-8.8-13.8-13.7 4.5z"/>
<path color="#3974fe" d="M1103 743.5l13.7-3.9-8.8-13.5-13.6 4z"/>
<path color="#3a74fe" d="M1089.4 747.6l13.6-4.1-8.7-13.4-13.7 4.2z"/>
<path color="#3a74fe" d="M1075.7 751.6l13.7-4-8.8-13.3-13.6 4.1z"/>
<path color="#3a74fe" d="M1062.1 755.4l13.6-3.8-8.7-13.2-13.7 3.9z"/>
<path color="#3a74fe" d="M1048.4 759.1l13.7-3.7-8.8-13.1-13.7 3.7z"/>
<path color="#3a73fe" d="M1034.7 763l13.7-3.9-8.8-13.1-13.6 3.9z"/>
<path color="#3a73fe" d="M1021.1 766.9l13.6-3.9-8.7-13.1-13.7 3.7z"/>
<path color="#3a73fe" d="M1007.4 770.7l13.7-3.8-8.8-13.3-13.7 3.7z"/>
<path color="#3a73fe" d="M993.8 774.8l13.6-4.1-8.8-13.4-13.6 4z"/>
<path color="#3b73fe" d="M980.1 778.9l13.7-4.1-8.8-13.5-13.7 4.3z"/>
<path color="#3b73fe" d="M966.4 783l13.7-4.1-8.8-13.3-13.6 4.3z"/>
<path color="#3b72ff" d="M952.8 787.8l13.6-4.8-8.7-13.1-13.7 5.2z"/>
<path color="#3d70ff" d="M939.1 794.1l13.7-6.3-8.8-12.7-13.7 7.2z"/>
<path color="#3f6efe" d="M925.5 800.9l13.6-6.8-8.8-11.8-13.6 7.8z"/>
<path color="#416bfe" d="M911.8 808.3l13.7-7.4-8.8-10.8-13.7 8.1z"/>
<path color="#4368fd" d="M898.1 816.6l13.7-8.3-8.8-10.1-13.6 8.6z"/>
<path color="#4564fd" d="M884.5 825.7l13.6-9.1-8.7-9.8-13.7 9.4z"/>
<path color="#4660fb" d="M870.8 835.2l13.7-9.5-8.8-9.5-13.7 9.9z"/>
<path color="#475bfa" d="M857.2 845.2l13.6-10-8.8-9.1-13.6 10.4z"/>
<path color="#4756f7" d="M843.5 856l13.7-10.8-8.8-8.7-13.7 11.2z"/>
<path color="#4851f3" d="M829.8 867.7l13.7-11.7-8.8-8.3-13.6 11.9z"/>
<path color="#484bef" d="M816.2 880.4l13.6-12.7-8.7-8.1-13.7 12.5z"/>
<path color="#4745e9" d="M802.5 893.1l13.7-12.7-8.8-8.3-13.7 12.4z"/>
<path color="#473fe2" d="M788.8 904.5l13.7-11.4-8.8-8.6-13.6 11.5z"/>
<path color="#463adb" d="M775.2 914.4l13.6-9.9-8.7-8.5-13.7 10.5z"/>
<path color="#4536d4" d="M761.5 923.4l13.7-9-8.8-7.9-13.6 9.7z"/>
<path color="#4433cd" d="M747.9 932.4l13.6-9-8.7-7.2-13.7 9.4z"/>
<path color="#4330c5" d="M734.2 941.4l13.7-9-8.8-6.8-13.7 9.4z"/>
<path color="#412dbd" d="M720.5 950.5l13.7-9.1-8.8-6.4-13.6 9.4z"/>
<path color="#402ab5" d="M706.9 959.5l13.6-9-8.7-6.1-13.7 9.4z"/>
<path color="#3f28ad" d="M693.2 968.7l13.7-9.2-8.8-5.7-13.7 9.5z"/>
<path color="#66cd6d" d="M1371.4 484.6l6.8-14.6-8.8-16.5-6.8 12.8z"/>
<path color="#4acb84" d="M1357.7 510.9l13.7-26.3-8.8-18.3-13.7 24.3z"/>
<path color="#34c79b" d="M1344.1 532.4l13.6-21.5-8.8-20.3-13.6 23z"/>
<path color="#25c2ad" d="M1330.4 554.1l13.7-21.7-8.8-18.8-13.7 22.6z"/>
<path color="#09bcbe" d="M1316.7 576.2l13.7-22.1-8.8-17.9-13.6 22.6z"/>
<path color="#04b6cd" d="M1303.1 597.9l13.6-21.7-8.7-17.4-13.7 22.1z"/>
<path color="#17aeda" d="M1289.4 618.6l13.7-20.7-8.8-17-13.7 21z"/>
<path color="#1fa5e2" d="M1275.8 638.2l13.6-19.6-8.8-16.7-13.6 19.5z"/>
<path color="#259de7" d="M1262.1 655.6l13.7-17.4-8.8-16.8-13.7 17.5z"/>
<path color="#2995ec" d="M1248.4 671.1l13.7-15.5-8.8-16.7-13.6 16.2z"/>
<path color="#2d8df2" d="M1234.8 685.3l13.6-14.2-8.7-16-13.7 15z"/>
<path color="#2e86f7" d="M1221.1 698.2l13.7-12.9-8.8-15.2-13.7 13.6z"/>
<path color="#2f80fa" d="M1207.4 709.8l13.7-11.6-8.8-14.5-13.6 11.9z"/>
<path color="#337bfd" d="M1193.8 719.8l13.6-10-8.7-14.2-13.7 10.4z"/>
<path color="#3876fe" d="M1180.1 729l13.7-9.2-8.8-13.8-13.6 9.4z"/>
<path color="#3b72ff" d="M1166.5 737.2l13.6-8.2-8.7-13.6-13.7 8.1z"/>
<path color="#3e6fff" d="M1152.8 743.7l13.7-6.5-8.8-13.7-13.7 6.6z"/>
<path color="#3f6efe" d="M1139.1 748.9l13.7-5.2-8.8-13.6-13.6 5.3z"/>
<path color="#406dfe" d="M1125.5 753.2l13.6-4.3-8.7-13.5-13.7 4.2z"/>
<path color="#406dfe" d="M1111.8 757.2l13.7-4-8.8-13.6-13.7 3.9z"/>
<path color="#406dfe" d="M1098.2 761.2l13.6-4-8.8-13.7-13.6 4.1z"/>
<path color="#406cfe" d="M1084.5 764.9l13.7-3.7-8.8-13.6-13.7 4z"/>
<path color="#406cfe" d="M1070.8 768.7l13.7-3.8-8.8-13.3-13.6 3.8z"/>
<path color="#406cfe" d="M1057.2 772.4l13.6-3.7-8.7-13.3-13.7 3.7z"/>
<path color="#406cfe" d="M1043.5 776.4l13.7-4-8.8-13.3-13.7 3.9z"/>
<path color="#406cfe" d="M1029.9 780.5l13.6-4.1-8.8-13.4-13.6 3.9z"/>
<path color="#406cfe" d="M1016.2 784.6l13.7-4.1-8.8-13.6-13.7 3.8z"/>
<path color="#406cfe" d="M1002.5 788.6l13.7-4-8.8-13.9-13.6 4.1z"/>
<path color="#416cfe" d="M988.9 792.7l13.6-4.1-8.7-13.8-13.7 4.1z"/>
<path color="#416bfe" d="M975.2 796.8l13.7-4.1-8.8-13.8-13.7 4.1z"/>
<path color="#416bfe" d="M961.6 801.4l13.6-4.6-8.8-13.8-13.6 4.8z"/>
<path color="#426afe" d="M947.9 806.7l13.7-5.3-8.8-13.6-13.7 6.3z"/>
<path color="#4368fe" d="M934.2 812.5l13.7-5.8-8.8-12.6-13.6 6.8z"/>
<path color="#4466fd" d="M920.6 819.1l13.6-6.6-8.7-11.6-13.7 7.4z"/>
<path color="#4563fd" d="M906.9 826.8l13.7-7.7-8.8-10.8-13.7 8.3z"/>
<path color="#4660fb" d="M893.3 835.7l13.6-8.9-8.8-10.2-13.6 9.1z"/>
<path color="#475cfa" d="M879.6 844.8l13.7-9.1-8.8-10-13.7 9.5z"/>
<path color="#4758f8" d="M865.9 854.4l13.7-9.6-8.8-9.6-13.6 10z"/>
<path color="#4853f5" d="M852.3 864.8l13.6-10.4-8.7-9.2-13.7 10.8z"/>
<path color="#484ef1" d="M838.6 876.2l13.7-11.4-8.8-8.8-13.7 11.7z"/>
<path color="#4848ec" d="M824.9 888.9l13.7-12.7-8.8-8.5-13.6 12.7z"/>
<path color="#4741e5" d="M811.3 901.6l13.6-12.7-8.7-8.5-13.7 12.7z"/>
<path color="#463cde" d="M797.6 912.8l13.7-11.2-8.8-8.5-13.7 11.4z"/>
<path color="#4537d6" d="M784 922.3l13.6-9.5-8.8-8.3-13.6 9.9z"/>
<path color="#4434cf" d="M770.3 930.7l13.7-8.4-8.8-7.9-13.7 9z"/>
<path color="#4332c8" d="M756.6 939.4l13.7-8.7-8.8-7.3-13.6 9z"/>
<path color="#422fc1" d="M743 948.1l13.6-8.7-8.7-7-13.7 9z"/>
<path color="#412cba" d="M729.3 956.9l13.7-8.8-8.8-6.7-13.7 9.1z"/>
<path color="#4029b3" d="M715.7 965.6l13.6-8.7-8.8-6.4-13.6 9z"/>
<path color="#3e27ab" d="M702 974.5l13.7-8.9-8.8-6.1-13.7 9.2z"/>
</g>
<path id="mesh" d="M702 974.5l6.8-4.5 6.9-4.4 6.8-4.3 6.8-4.4 6.9-4.4 6.8-4.4 6.8-4.4 6.8-4.3 6.9-4.4 6.8-4.3 6.8-4.2 6.9-4.2 6.8-4.5 6.8-5 6.9-5.3 6.8-5.9 6.8-6.3 6.8-6.4 6.9-6.4 6.8-6.3 6.8-5.9 6.9-5.5 6.8-5.3 6.8-5.1 6.9-4.9 6.8-4.7 6.8-4.6 6.9-4.5 6.8-4.5 6.8-4.4 6.8-4 6.9-3.7 6.8-3.5 6.8-3.1 6.9-3 6.8-2.8 6.8-2.8 6.9-2.5 6.8-2.4 6.8-2.2 6.8-2.1 6.9-2 6.8-2.1 6.8-2 6.9-2 6.8-2 6.8-2.1 6.9-2 6.8-2.1 6.8-2 6.9-2 6.8-2 6.8-1.8 6.8-1.9 6.9-1.9 6.8-1.9 6.8-1.8 6.9-1.9 6.8-2 6.8-2 6.9-1.9 6.8-2.1 6.8-2.1 6.8-2.2 6.9-2.4 6.8-2.8 6.8-3 6.9-3.5 6.8-3.9 6.8-4.3 6.9-4.6 6.8-4.6 6.8-4.8 6.8-5.2 6.9-5.6 6.8-6 6.8-6.3 6.9-6.6 6.8-6.9 6.8-7.3 6.9-7.5 6.8-8 6.8-8.4 6.9-9 6.8-9.6 6.8-10 6.8-10.3 6.9-10.4 6.8-10.7 6.8-11 6.9-11 6.8-11.1 6.8-10.9 6.9-10.8 6.8-10.6 6.8-10.9 6.8-12.4 6.9-13.9 6.8-14.6M693.2 968.7l6.9-4.6 6.8-4.6 6.8-4.5 6.8-4.5 6.9-4.5 6.8-4.6 6.8-4.5 6.9-4.5 6.8-4.5 6.8-4.5 6.9-4.4 6.8-4.6 6.8-4.8 6.8-5.1 6.9-5.5 6.8-5.9 6.8-6.3 6.9-6.4 6.8-6.4 6.8-6.3 6.9-6 6.8-5.7 6.8-5.5 6.9-5.3 6.8-5.1 6.8-4.9 6.8-4.8 6.9-4.7 6.8-4.7 6.8-4.4 6.9-4.3 6.8-4 6.8-3.8 6.9-3.6 6.8-3.4 6.8-3.4 6.8-3.3 6.9-3 6.8-2.6 6.8-2.2 6.9-2.1 6.8-2 6.8-2.1 6.9-2 6.8-2.1 6.8-2 6.9-1.9 6.8-1.9 6.8-1.9 6.8-2 6.9-1.9 6.8-2 6.8-1.9 6.9-1.8 6.8-1.9 6.8-1.9 6.9-2 6.8-2 6.8-2.1 6.8-2 6.9-1.9 6.8-2 6.8-2 6.9-2.2 6.8-2.5 6.8-2.8 6.9-3.1 6.8-3.5 6.8-3.9 6.9-4.2 6.8-4.6 6.8-4.8 6.8-5 6.9-5.4 6.8-5.8 6.8-6.1 6.9-6.6 6.8-7 6.8-7.3 6.9-7.7 6.8-7.9 6.8-8.3 6.8-8.5 6.9-9 6.8-9.5 6.8-10 6.9-10.3 6.8-10.7 6.8-10.9 6.9-11.2 6.8-11.3 6.8-11.3 6.9-11.3 6.8-11.3 6.8-11.4 6.8-11.6 6.9-12.1 6.8-12.2 6.8-12.8M684.4 963.3l6.9-4.8 6.8-4.7 6.8-4.7 6.9-4.7 6.8-4.7 6.8-4.7 6.9-4.7 6.8-4.7 6.8-4.7 6.9-4.7 6.8-4.8 6.8-4.9 6.8-5.1 6.9-5.4 6.8-5.6 6.8-5.9 6.9-6.1 6.8-6.3 6.8-6.3 6.9-6.2 6.8-6.1 6.8-5.8 6.8-5.7 6.9-5.5 6.8-5.3 6.8-5.1 6.9-5 6.8-4.9 6.8-4.8 6.9-4.6 6.8-4.4 6.8-4.2 6.9-4.1 6.8-4 6.8-3.9 6.8-3.9 6.9-3.8 6.8-3.4 6.8-2.8 6.9-2.4 6.8-2.2 6.8-2.1 6.9-2.1 6.8-2.2 6.8-2 6.8-2 6.9-1.8 6.8-1.9 6.8-1.8 6.9-1.9 6.8-2 6.8-1.9 6.9-1.9 6.8-1.8 6.8-1.9 6.9-2 6.8-2 6.8-2.1 6.8-2.1 6.9-2.1 6.8-2 6.8-2 6.9-2.2 6.8-2.3 6.8-2.6 6.9-2.8 6.8-3.2 6.8-3.6 6.8-3.9 6.9-4.2 6.8-4.6 6.8-4.9 6.9-5.2 6.8-5.6 6.8-5.9 6.9-6.5 6.8-6.8 6.8-7.3 6.8-7.6 6.9-8.1 6.8-8.5 6.8-8.5 6.9-8.6 6.8-9 6.8-9.4 6.9-10 6.8-10.4 6.8-10.8 6.9-11.1 6.8-11.3 6.8-11.5 6.8-11.6 6.9-11.7 6.8-11.8 6.8-11.9 6.9-12 6.8-12.1 6.8-10.4 6.9-10.7M675.7 957.9l6.8-4.8 6.8-4.9 6.9-4.8 6.8-4.9 6.8-4.8 6.9-4.9 6.8-4.9 6.8-5 6.8-4.9 6.9-5.1 6.8-5.1 6.8-5.2 6.9-5.3 6.8-5.5 6.8-5.7 6.9-6 6.8-6 6.8-6.2 6.8-6.2 6.9-6.1 6.8-6.1 6.8-5.9 6.9-5.8 6.8-5.6 6.8-5.5 6.9-5.3 6.8-5.2 6.8-5.1 6.9-4.9 6.8-4.8 6.8-4.6 6.8-4.4 6.9-4.3 6.8-4.2 6.8-4.2 6.9-4.1 6.8-3.9 6.8-3.6 6.9-3.2 6.8-2.8 6.8-2.5 6.8-2.3 6.9-2.3 6.8-2.2 6.8-2.1 6.9-2 6.8-1.9 6.8-1.9 6.9-1.9 6.8-1.9 6.8-1.9 6.9-1.9 6.8-1.9 6.8-1.9 6.8-2 6.9-2 6.8-2 6.8-2.1 6.9-2.2 6.8-2.1 6.8-2.2 6.9-2.2 6.8-2.3 6.8-2.6 6.8-2.7 6.9-3 6.8-3.3 6.8-3.7 6.9-3.9 6.8-4.3 6.8-4.7 6.9-4.9 6.8-5.4 6.8-5.7 6.9-6.1 6.8-6.5 6.8-7 6.8-7.5 6.9-7.8 6.8-8.3 6.8-8.5 6.9-8.7 6.8-8.8 6.8-9.2 6.9-9.6 6.8-10 6.8-10.5 6.8-11 6.9-11.2 6.8-11.4 6.8-11.6 6.9-11.7 6.8-11.8 6.8-11.6 6.9-11.4 6.8-11 6.8-10.4 6.9-9.9 6.8-10.4M666.9 952.5l6.8-4.9 6.9-4.9 6.8-5 6.8-5 6.8-5 6.9-5.1 6.8-5.1 6.8-5.2 6.9-5.2 6.8-5.3 6.8-5.4 6.9-5.4 6.8-5.5 6.8-5.7 6.9-5.8 6.8-5.9 6.8-6.1 6.8-6.1 6.9-6.1 6.8-6.1 6.8-6.1 6.9-6 6.8-5.8 6.8-5.7 6.9-5.7 6.8-5.4 6.8-5.4 6.8-5.2 6.9-5.1 6.8-4.9 6.8-4.8 6.9-4.7 6.8-4.5 6.8-4.4 6.9-4.3 6.8-4.2 6.8-4 6.9-3.7 6.8-3.4 6.8-3.1 6.8-2.8 6.9-2.6 6.8-2.5 6.8-2.3 6.9-2.2 6.8-2.2 6.8-2 6.9-2 6.8-1.9 6.8-2 6.8-1.9 6.9-2 6.8-1.9 6.8-2 6.9-2 6.8-2.1 6.8-2.1 6.9-2.1 6.8-2.2 6.8-2.3 6.8-2.3 6.9-2.5 6.8-2.5 6.8-2.8 6.9-2.9 6.8-3.2 6.8-3.5 6.9-3.8 6.8-4 6.8-4.4 6.9-4.7 6.8-5.1 6.8-5.4 6.8-5.7 6.9-6.2 6.8-6.6 6.8-7.1 6.9-7.5 6.8-7.9 6.8-8.2 6.9-8.5 6.8-8.8 6.8-9 6.8-9.4 6.9-9.7 6.8-10.1 6.8-10.6 6.9-10.9 6.8-11.3 6.8-11.4 6.9-11.7 6.8-11.6 6.8-11.7 6.9-11.3 6.8-10.7 6.8-10 6.8-9.6 6.9-9.7 6.8-10.8M658.1 947l6.8-4.9 6.9-5 6.8-5.1 6.8-5.1 6.9-5.2 6.8-5.3 6.8-5.3 6.9-5.3 6.8-5.5 6.8-5.5 6.9-5.6 6.8-5.6 6.8-5.7 6.8-5.8 6.9-5.9 6.8-5.9 6.8-6.1 6.9-6.1 6.8-6.1 6.8-6.1 6.9-6 6.8-6 6.8-6 6.8-5.8 6.9-5.7 6.8-5.6 6.8-5.5 6.9-5.4 6.8-5.2 6.8-5.1 6.9-5 6.8-4.8 6.8-4.7 6.9-4.6 6.8-4.5 6.8-4.2 6.8-4.1 6.9-3.8 6.8-3.6 6.8-3.3 6.9-3.1 6.8-2.8 6.8-2.7 6.9-2.5 6.8-2.4 6.8-2.2 6.8-2.2 6.9-2.1 6.8-2.1 6.8-2 6.9-2 6.8-2 6.8-2.1 6.9-2 6.8-2.1 6.8-2.1 6.9-2.2 6.8-2.2 6.8-2.4 6.8-2.4 6.9-2.5 6.8-2.6 6.8-2.8 6.9-3 6.8-3.2 6.8-3.4 6.9-3.7 6.8-3.9 6.8-4.2 6.8-4.5 6.9-4.8 6.8-5.1 6.8-5.4 6.9-5.8 6.8-6.2 6.8-6.6 6.9-7.1 6.8-7.5 6.8-7.8 6.9-8.2 6.8-8.5 6.8-8.8 6.8-9.1 6.9-9.4 6.8-9.8 6.8-10.2 6.9-10.5 6.8-10.9 6.8-11.2 6.9-11.4 6.8-11.4 6.8-11.5 6.8-11.3 6.9-10.9 6.8-10.3 6.8-9.7 6.9-9.5 6.8-9.9 6.8-10.8M649.3 941.5l6.9-5 6.8-5.1 6.8-5.2 6.9-5.2 6.8-5.3 6.8-5.4 6.9-5.5 6.8-5.5 6.8-5.6 6.8-5.7 6.9-5.8 6.8-5.7 6.8-5.9 6.9-5.9 6.8-6 6.8-6 6.9-6.1 6.8-6.1 6.8-6.1 6.9-6.1 6.8-6.1 6.8-6 6.8-6 6.9-5.9 6.8-5.8 6.8-5.7 6.9-5.6 6.8-5.5 6.8-5.4 6.9-5.3 6.8-5.1 6.8-5 6.8-4.9 6.9-4.7 6.8-4.5 6.8-4.4 6.9-4.2 6.8-3.9 6.8-3.8 6.9-3.4 6.8-3.3 6.8-3 6.8-2.9 6.9-2.7 6.8-2.6 6.8-2.4 6.9-2.3 6.8-2.3 6.8-2.2 6.9-2.1 6.8-2.1 6.8-2.1 6.9-2.2 6.8-2.1 6.8-2.2 6.8-2.2 6.9-2.3 6.8-2.4 6.8-2.5 6.9-2.5 6.8-2.7 6.8-2.9 6.9-3 6.8-3.2 6.8-3.5 6.8-3.6 6.9-3.9 6.8-4.1 6.8-4.3 6.9-4.7 6.8-4.8 6.8-5.2 6.9-5.5 6.8-5.9 6.8-6.2 6.9-6.6 6.8-7 6.8-7.4 6.8-7.8 6.9-8.1 6.8-8.4 6.8-8.8 6.9-9.1 6.8-9.4 6.8-9.8 6.9-10.1 6.8-10.5 6.8-10.8 6.8-11 6.9-11.1 6.8-11.2 6.8-11.2 6.9-11 6.8-10.6 6.8-10.2 6.9-9.9 6.8-9.7 6.8-10 6.9-10.9M640.6 935.8l6.8-5.1 6.8-5.1 6.9-5.3 6.8-5.3 6.8-5.5 6.8-5.5 6.9-5.5 6.8-5.7 6.8-5.7 6.9-5.8 6.8-5.9 6.8-5.9 6.9-6 6.8-6 6.8-6.1 6.9-6.1 6.8-6.1 6.8-6.1 6.8-6.2 6.9-6.1 6.8-6.1 6.8-6.1 6.9-6 6.8-6 6.8-5.8 6.9-5.9 6.8-5.7 6.8-5.6 6.8-5.5 6.9-5.5 6.8-5.2 6.8-5.2 6.9-5 6.8-4.8 6.8-4.7 6.9-4.5 6.8-4.3 6.8-4 6.9-3.9 6.8-3.6 6.8-3.5 6.8-3.2 6.9-3.1 6.8-2.8 6.8-2.8 6.9-2.6 6.8-2.5 6.8-2.4 6.9-2.3 6.8-2.3 6.8-2.2 6.8-2.3 6.9-2.2 6.8-2.3 6.8-2.3 6.9-2.4 6.8-2.4 6.8-2.5 6.9-2.6 6.8-2.8 6.8-2.9 6.9-3 6.8-3.3 6.8-3.4 6.8-3.7 6.9-3.9 6.8-4.1 6.8-4.3 6.9-4.5 6.8-4.7 6.8-5 6.9-5.3 6.8-5.6 6.8-5.9 6.8-6.2 6.9-6.6 6.8-6.9 6.8-7.4 6.9-7.6 6.8-8 6.8-8.4 6.9-8.7 6.8-9.1 6.8-9.4 6.9-9.7 6.8-10 6.8-10.4 6.8-10.6 6.9-10.8 6.8-11 6.8-11 6.9-11 6.8-10.9 6.8-10.6 6.9-10.3 6.8-10.1 6.8-9.9 6.8-10.2 6.9-10.9M631.8 929.6l6.8-5.1 6.9-5.2 6.8-5.3 6.8-5.3 6.8-5.5 6.9-5.6 6.8-5.6 6.8-5.7 6.9-5.9 6.8-5.9 6.8-5.9 6.9-6.1 6.8-6.1 6.8-6.1 6.8-6.1 6.9-6.2 6.8-6.2 6.8-6.2 6.9-6.1 6.8-6.2 6.8-6.1 6.9-6.1 6.8-6.1 6.8-6 6.8-5.9 6.9-5.9 6.8-5.8 6.8-5.8 6.9-5.6 6.8-5.6 6.8-5.4 6.9-5.3 6.8-5.1 6.8-4.9 6.9-4.8 6.8-4.7 6.8-4.4 6.8-4.2 6.9-4 6.8-3.8 6.8-3.6 6.9-3.4 6.8-3.2 6.8-3.1 6.9-2.9 6.8-2.8 6.8-2.6 6.8-2.6 6.9-2.5 6.8-2.4 6.8-2.5 6.9-2.3 6.8-2.4 6.8-2.4 6.9-2.5 6.8-2.5 6.8-2.6 6.9-2.6 6.8-2.8 6.8-3 6.8-3 6.9-3.3 6.8-3.5 6.8-3.7 6.9-3.9 6.8-4.1 6.8-4.3 6.9-4.5 6.8-4.7 6.8-4.8 6.8-5.2 6.9-5.3 6.8-5.7 6.8-5.9 6.9-6.3 6.8-6.6 6.8-6.9 6.9-7.2 6.8-7.6 6.8-7.9 6.9-8.3 6.8-8.7 6.8-9 6.8-9.3 6.9-9.6 6.8-9.9 6.8-10.1 6.9-10.5 6.8-10.6 6.8-10.9 6.9-10.9 6.8-11 6.8-10.9 6.8-10.8 6.9-10.5 6.8-10.3 6.8-10.2 6.9-10.1 6.8-10.5M623 923l6.8-5.1 6.9-5.2 6.8-5.2 6.8-5.4 6.9-5.5 6.8-5.5 6.8-5.7 6.9-5.8 6.8-5.9 6.8-6 6.8-6.1 6.9-6.1 6.8-6.2 6.8-6.1 6.9-6.3 6.8-6.2 6.8-6.2 6.9-6.3 6.8-6.2 6.8-6.2 6.9-6.1 6.8-6.2 6.8-6.1 6.8-6 6.9-6 6.8-6 6.8-5.9 6.9-5.8 6.8-5.8 6.8-5.6 6.9-5.6 6.8-5.3 6.8-5.3 6.8-5.1 6.9-4.9 6.8-4.7 6.8-4.6 6.9-4.3 6.8-4.2 6.8-4 6.9-3.7 6.8-3.6 6.8-3.4 6.9-3.2 6.8-3.1 6.8-3 6.8-2.8 6.9-2.8 6.8-2.6 6.8-2.6 6.9-2.6 6.8-2.6 6.8-2.5 6.9-2.6 6.8-2.6 6.8-2.7 6.8-2.7 6.9-2.9 6.8-3 6.8-3.1 6.9-3.3 6.8-3.4 6.8-3.7 6.9-3.9 6.8-4.1 6.8-4.3 6.9-4.5 6.8-4.6 6.8-4.9 6.8-5 6.9-5.3 6.8-5.5 6.8-5.7 6.9-6 6.8-6.3 6.8-6.6 6.9-6.9 6.8-7.2 6.8-7.5 6.8-7.8 6.9-8.3 6.8-8.6 6.8-9 6.9-9.2 6.8-9.5 6.8-9.7 6.9-9.9 6.8-10.2 6.8-10.5 6.8-10.8 6.9-11 6.8-11 6.8-10.9 6.9-10.9 6.8-10.6 6.8-10.4 6.9-10.3 6.8-9.9 6.8-9.5M614.2 916l6.9-5.1 6.8-5.2 6.8-5.2 6.9-5.3 6.8-5.4 6.8-5.6 6.9-5.7 6.8-5.8 6.8-6 6.8-6 6.9-6.2 6.8-6.1 6.8-6.3 6.9-6.2 6.8-6.3 6.8-6.3 6.9-6.2 6.8-6.3 6.8-6.3 6.8-6.2 6.9-6.2 6.8-6.2 6.8-6.1 6.9-6.1 6.8-6 6.8-6.1 6.9-5.9 6.8-6 6.8-5.8 6.8-5.7 6.9-5.7 6.8-5.4 6.8-5.4 6.9-5.2 6.8-5 6.8-4.9 6.9-4.7 6.8-4.5 6.8-4.3 6.9-4.1 6.8-4 6.8-3.7 6.8-3.6 6.9-3.4 6.8-3.3 6.8-3.1 6.9-3 6.8-3 6.8-2.8 6.9-2.8 6.8-2.8 6.8-2.8 6.8-2.7 6.9-2.8 6.8-2.8 6.8-2.8 6.9-3 6.8-3.1 6.8-3.2 6.9-3.3 6.8-3.4 6.8-3.7 6.9-3.8 6.8-4.1 6.8-4.2 6.8-4.4 6.9-4.7 6.8-4.8 6.8-4.9 6.9-5.2 6.8-5.4 6.8-5.6 6.9-5.9 6.8-6.1 6.8-6.3 6.8-6.7 6.9-6.9 6.8-7.2 6.8-7.6 6.9-7.9 6.8-8.2 6.8-8.6 6.9-8.8 6.8-9.1 6.8-9.3 6.9-9.5 6.8-9.7 6.8-10 6.8-10.3 6.9-10.8 6.8-10.9 6.8-11 6.9-10.9 6.8-10.8 6.8-10.5 6.9-10.2 6.8-9.7 6.8-9.5 6.8-10M605.5 908.8l6.8-5.2 6.8-5.2 6.9-5.3 6.8-5.2 6.8-5.4 6.8-5.5 6.9-5.6 6.8-5.9 6.8-6 6.9-6.1 6.8-6.2 6.8-6.2 6.9-6.3 6.8-6.2 6.8-6.3 6.8-6.3 6.9-6.3 6.8-6.3 6.8-6.3 6.9-6.2 6.8-6.3 6.8-6.2 6.9-6.2 6.8-6.1 6.8-6.1 6.9-6.1 6.8-6 6.8-6 6.8-5.9 6.9-5.8 6.8-5.7 6.8-5.6 6.9-5.4 6.8-5.3 6.8-5.2 6.9-5 6.8-4.9 6.8-4.6 6.8-4.5 6.9-4.3 6.8-4 6.8-3.9 6.9-3.8 6.8-3.6 6.8-3.4 6.9-3.4 6.8-3.2 6.8-3.2 6.9-3.1 6.8-3 6.8-3 6.8-3 6.9-3 6.8-3 6.8-3 6.9-3.1 6.8-3.1 6.8-3.3 6.9-3.3 6.8-3.5 6.8-3.7 6.8-3.8 6.9-3.9 6.8-4.2 6.8-4.4 6.9-4.5 6.8-4.8 6.8-4.9 6.9-5.1 6.8-5.3 6.8-5.5 6.9-5.7 6.8-5.9 6.8-6.2 6.8-6.4 6.9-6.8 6.8-7 6.8-7.3 6.9-7.6 6.8-8 6.8-8.2 6.9-8.6 6.8-8.8 6.8-9 6.8-9.1 6.9-9.4 6.8-9.5 6.8-9.9 6.9-10.1 6.8-10.5 6.8-10.8 6.9-10.8 6.8-10.7 6.8-10.5 6.8-10.3 6.9-9.9 6.8-9.6 6.8-9.6 6.9-10.2M596.7 901.2l6.8-5.3 6.8-5.3 6.9-5.3 6.8-5.3 6.8-5.2 6.9-5.4 6.8-5.6 6.8-5.9 6.9-6 6.8-6.1 6.8-6.2 6.8-6.2 6.9-6.3 6.8-6.2 6.8-6.3 6.9-6.3 6.8-6.3 6.8-6.3 6.9-6.3 6.8-6.2 6.8-6.3 6.9-6.2 6.8-6.2 6.8-6.2 6.8-6.2 6.9-6.1 6.8-6 6.8-6 6.9-6 6.8-5.9 6.8-5.7 6.9-5.7 6.8-5.6 6.8-5.4 6.8-5.3 6.9-5.1 6.8-5 6.8-4.8 6.9-4.6 6.8-4.5 6.8-4.2 6.9-4.1 6.8-3.9 6.8-3.8 6.9-3.7 6.8-3.5 6.8-3.5 6.8-3.4 6.9-3.3 6.8-3.3 6.8-3.3 6.9-3.2 6.8-3.2 6.8-3.2 6.9-3.3 6.8-3.3 6.8-3.3 6.8-3.4 6.9-3.6 6.8-3.6 6.8-3.8 6.9-3.9 6.8-4.1 6.8-4.3 6.9-4.5 6.8-4.6 6.8-4.9 6.9-5 6.8-5.2 6.8-5.4 6.8-5.6 6.9-5.8 6.8-6 6.8-6.2 6.9-6.6 6.8-6.8 6.8-7.1 6.9-7.3 6.8-7.7 6.8-8 6.8-8.3 6.9-8.6 6.8-8.8 6.8-8.9 6.9-9.1 6.8-9.2 6.8-9.3 6.9-9.7 6.8-10 6.8-10.3 6.9-10.5 6.8-10.6 6.8-10.4 6.8-10.2 6.9-9.9 6.8-9.6 6.8-9.6 6.9-9.9 6.8-10.6M587.9 893.5l6.8-5.6 6.9-5.6 6.8-5.4 6.8-5.4 6.9-5.2 6.8-5.4 6.8-5.5 6.9-5.8 6.8-5.9 6.8-6 6.8-6 6.9-6.2 6.8-6.2 6.8-6.2 6.9-6.2 6.8-6.2 6.8-6.3 6.9-6.3 6.8-6.3 6.8-6.2 6.8-6.3 6.9-6.2 6.8-6.3 6.8-6.2 6.9-6.1 6.8-6.2 6.8-6.1 6.9-6 6.8-6 6.8-5.9 6.9-5.9 6.8-5.7 6.8-5.7 6.8-5.5 6.9-5.4 6.8-5.3 6.8-5.1 6.9-5 6.8-4.8 6.8-4.6 6.9-4.4 6.8-4.2 6.8-4.1 6.8-4 6.9-3.9 6.8-3.8 6.8-3.7 6.9-3.6 6.8-3.6 6.8-3.5 6.9-3.5 6.8-3.5 6.8-3.5 6.9-3.4 6.8-3.5 6.8-3.5 6.8-3.5 6.9-3.6 6.8-3.7 6.8-3.8 6.9-3.9 6.8-4 6.8-4.2 6.9-4.4 6.8-4.6 6.8-4.7 6.8-5 6.9-5.1 6.8-5.3 6.8-5.5 6.9-5.6 6.8-5.9 6.8-6.1 6.9-6.3 6.8-6.6 6.8-6.8 6.8-7.2 6.9-7.4 6.8-7.7 6.8-8 6.9-8.3 6.8-8.6 6.8-8.7 6.9-9 6.8-8.9 6.8-9 6.9-9.1 6.8-9.4 6.8-9.8 6.8-10.1 6.9-10.3 6.8-10.5 6.8-10.4 6.9-9.8 6.8-9.5 6.8-9.4 6.9-9.4 6.8-9.7 6.8-10.4M579.1 885.7l6.9-6.1 6.8-5.9 6.8-5.7 6.9-5.5 6.8-5.2 6.8-5.3 6.8-5.4 6.9-5.6 6.8-5.7 6.8-5.8 6.9-6 6.8-6 6.8-6.1 6.9-6.1 6.8-6.2 6.8-6.2 6.8-6.2 6.9-6.2 6.8-6.3 6.8-6.2 6.9-6.3 6.8-6.2 6.8-6.2 6.9-6.2 6.8-6.2 6.8-6.2 6.9-6.1 6.8-6.1 6.8-6 6.8-6 6.9-5.8 6.8-5.9 6.8-5.7 6.9-5.6 6.8-5.5 6.8-5.4 6.9-5.3 6.8-5.1 6.8-5 6.8-4.7 6.9-4.6 6.8-4.4 6.8-4.3 6.9-4.2 6.8-4.1 6.8-4 6.9-4 6.8-3.9 6.8-3.8 6.9-3.8 6.8-3.8 6.8-3.7 6.8-3.7 6.9-3.7 6.8-3.7 6.8-3.7 6.9-3.7 6.8-3.8 6.8-3.8 6.9-3.9 6.8-4 6.8-4.1 6.8-4.2 6.9-4.5 6.8-4.6 6.8-4.9 6.9-5.1 6.8-5.2 6.8-5.4 6.9-5.5 6.8-5.7 6.8-5.9 6.9-6.2 6.8-6.3 6.8-6.6 6.8-6.9 6.9-7.2 6.8-7.4 6.8-7.7 6.9-8 6.8-8.2 6.8-8.5 6.9-8.6 6.8-8.8 6.8-8.8 6.8-8.9 6.9-9 6.8-9.2 6.8-9.5 6.9-9.7 6.8-10.1 6.8-10.4 6.9-10.3 6.8-9.9 6.8-9.5 6.9-9.1 6.8-9 6.8-9.3 6.8-9.9M570.4 877.8l6.8-6.5 6.8-6.4 6.8-5.8 6.9-5.4 6.8-5.2 6.8-5.3 6.9-5.3 6.8-5.4 6.8-5.6 6.9-5.7 6.8-5.8 6.8-5.9 6.9-6 6.8-6 6.8-6.1 6.8-6.1 6.9-6.2 6.8-6.2 6.8-6.2 6.9-6.2 6.8-6.3 6.8-6.2 6.9-6.2 6.8-6.2 6.8-6.2 6.8-6.2 6.9-6.1 6.8-6.1 6.8-6 6.9-6 6.8-6 6.8-5.8 6.9-5.8 6.8-5.7 6.8-5.6 6.9-5.5 6.8-5.3 6.8-5.3 6.8-5.1 6.9-4.9 6.8-4.8 6.8-4.6 6.9-4.5 6.8-4.4 6.8-4.4 6.9-4.2 6.8-4.2 6.8-4.2 6.8-4.1 6.9-4 6.8-4.1 6.8-4 6.9-3.9 6.8-4 6.8-3.9 6.9-3.9 6.8-3.9 6.8-3.9 6.8-3.9 6.9-4 6.8-4 6.8-4.2 6.9-4.3 6.8-4.5 6.8-4.7 6.9-5 6.8-5.1 6.8-5.3 6.9-5.5 6.8-5.6 6.8-5.8 6.8-5.9 6.9-6.2 6.8-6.4 6.8-6.6 6.9-6.9 6.8-7.1 6.8-7.4 6.9-7.7 6.8-7.9 6.8-8.2 6.8-8.3 6.9-8.6 6.8-8.6 6.8-8.8 6.9-8.8 6.8-8.9 6.8-9 6.9-9.2 6.8-9.4 6.8-9.9 6.9-10.4 6.8-10.5 6.8-10.2 6.8-9.6 6.9-9.1 6.8-8.5 6.8-8.4 6.9-9.2M561.6 870.1l6.8-6.4 6.8-6.3 6.9-6 6.8-5.5 6.8-5.4 6.9-5.4 6.8-5.3 6.8-5.5 6.9-5.5 6.8-5.6 6.8-5.8 6.8-5.8 6.9-5.9 6.8-6 6.8-6 6.9-6 6.8-6.2 6.8-6.1 6.9-6.2 6.8-6.1 6.8-6.2 6.8-6.2 6.9-6.3 6.8-6.1 6.8-6.2 6.9-6.2 6.8-6.1 6.8-6.1 6.9-6.1 6.8-6 6.8-6 6.9-5.9 6.8-5.8 6.8-5.7 6.8-5.7 6.9-5.5 6.8-5.5 6.8-5.3 6.9-5.2 6.8-5.1 6.8-5 6.9-4.8 6.8-4.8 6.8-4.6 6.8-4.6 6.9-4.5 6.8-4.4 6.8-4.4 6.9-4.4 6.8-4.3 6.8-4.3 6.9-4.3 6.8-4.2 6.8-4.2 6.9-4.2 6.8-4.1 6.8-4.1 6.8-4 6.9-4 6.8-4.1 6.8-4.1 6.9-4.2 6.8-4.3 6.8-4.6 6.9-4.7 6.8-5 6.8-5.2 6.8-5.3 6.9-5.6 6.8-5.6 6.8-5.9 6.9-6 6.8-6.2 6.8-6.4 6.9-6.7 6.8-6.9 6.8-7.1 6.9-7.3 6.8-7.6 6.8-7.9 6.8-8.1 6.9-8.3 6.8-8.5 6.8-8.6 6.9-8.7 6.8-8.8 6.8-9 6.9-9 6.8-9.2 6.8-9.5 6.8-9.9 6.9-10.5 6.8-10.7 6.8-10.4 6.9-10 6.8-9.1 6.8-8 6.9-7.2 6.8-7.7M552.8 863l6.8-6.2 6.9-6.2 6.8-6 6.8-5.8 6.9-5.6 6.8-5.5 6.8-5.5 6.8-5.6 6.9-5.5 6.8-5.7 6.8-5.7 6.9-5.8 6.8-5.8 6.8-5.9 6.9-6 6.8-6 6.8-6.1 6.9-6.1 6.8-6.1 6.8-6.1 6.8-6.2 6.9-6.2 6.8-6.2 6.8-6.1 6.9-6.2 6.8-6.1 6.8-6.2 6.9-6.1 6.8-6 6.8-6.1 6.8-6 6.9-5.9 6.8-5.8 6.8-5.8 6.9-5.7 6.8-5.7 6.8-5.5 6.9-5.4 6.8-5.4 6.8-5.2 6.8-5.1 6.9-5 6.8-4.9 6.8-4.9 6.9-4.8 6.8-4.7 6.8-4.7 6.9-4.6 6.8-4.7 6.8-4.5 6.9-4.6 6.8-4.5 6.8-4.5 6.8-4.5 6.9-4.4 6.8-4.3 6.8-4.3 6.9-4.1 6.8-4.2 6.8-4.1 6.9-4.2 6.8-4.3 6.8-4.4 6.8-4.6 6.9-4.8 6.8-5 6.8-5.2 6.9-5.3 6.8-5.6 6.8-5.7 6.9-5.9 6.8-6 6.8-6.3 6.9-6.5 6.8-6.6 6.8-6.9 6.8-7.1 6.9-7.4 6.8-7.6 6.8-7.8 6.9-8.1 6.8-8.2 6.8-8.5 6.9-8.6 6.8-8.7 6.8-8.9 6.8-9 6.9-9.3 6.8-9.4 6.8-9.8 6.9-10.1 6.8-10.5 6.8-10.6 6.9-10.6 6.8-10.2 6.8-9.7 6.9-8.4 6.8-6 6.8-5.4M544 855.8l6.9-6 6.8-6 6.8-5.9 6.8-5.9 6.9-5.7 6.8-5.7 6.8-5.7 6.9-5.6 6.8-5.6 6.8-5.7 6.9-5.7 6.8-5.8 6.8-5.8 6.9-5.9 6.8-5.9 6.8-6 6.8-6 6.9-6.1 6.8-6.1 6.8-6.1 6.9-6.1 6.8-6.1 6.8-6.2 6.9-6.1 6.8-6.2 6.8-6.1 6.8-6.1 6.9-6.1 6.8-6.1 6.8-6 6.9-6 6.8-6 6.8-5.9 6.9-5.8 6.8-5.7 6.8-5.7 6.9-5.6 6.8-5.5 6.8-5.5 6.8-5.3 6.9-5.3 6.8-5.2 6.8-5.1 6.9-5 6.8-5 6.8-4.9 6.9-4.9 6.8-4.9 6.8-4.8 6.8-4.8 6.9-4.8 6.8-4.8 6.8-4.7 6.9-4.7 6.8-4.7 6.8-4.6 6.9-4.4 6.8-4.3 6.8-4.2 6.9-4.2 6.8-4.3 6.8-4.4 6.8-4.5 6.9-4.7 6.8-4.8 6.8-5.1 6.9-5.2 6.8-5.4 6.8-5.5 6.9-5.8 6.8-5.9 6.8-6.1 6.8-6.3 6.9-6.5 6.8-6.7 6.8-6.9 6.9-7.1 6.8-7.4 6.8-7.5 6.9-7.8 6.8-8.1 6.8-8.2 6.9-8.4 6.8-8.6 6.8-8.8 6.8-9 6.9-9.1 6.8-9.4 6.8-9.6 6.9-9.9 6.8-10.1 6.8-10.3 6.9-10.4 6.8-10.3 6.8-9.8 6.8-9.1 6.9-7.7 6.8-5.6 6.8-5.2M535.3 848.6l6.8-5.8 6.8-5.9 6.8-5.9 6.9-5.8 6.8-5.8 6.8-5.8 6.9-5.7 6.8-5.6 6.8-5.7 6.9-5.7 6.8-5.8 6.8-5.8 6.8-5.8 6.9-5.8 6.8-5.9 6.8-6 6.9-6 6.8-6 6.8-6 6.9-6.1 6.8-6.1 6.8-6.1 6.9-6.1 6.8-6.2 6.8-6.1 6.8-6.1 6.9-6.1 6.8-6.1 6.8-6.1 6.9-6 6.8-6 6.8-5.9 6.9-5.9 6.8-5.9 6.8-5.8 6.8-5.7 6.9-5.7 6.8-5.6 6.8-5.5 6.9-5.5 6.8-5.4 6.8-5.3 6.9-5.2 6.8-5.2 6.8-5.2 6.8-5.1 6.9-5.1 6.8-5 6.8-5 6.9-5 6.8-5 6.8-4.9 6.9-5 6.8-4.9 6.8-4.8 6.9-4.8 6.8-4.6 6.8-4.4 6.8-4.4 6.9-4.4 6.8-4.4 6.8-4.5 6.9-4.6 6.8-4.8 6.8-4.9 6.9-5.1 6.8-5.3 6.8-5.4 6.8-5.6 6.9-5.8 6.8-6 6.8-6.1 6.9-6.3 6.8-6.5 6.8-6.7 6.9-7 6.8-7.1 6.8-7.4 6.9-7.6 6.8-7.7 6.8-8 6.8-8.3 6.9-8.4 6.8-8.5 6.8-8.8 6.9-9 6.8-9.1 6.8-9.4 6.9-9.6 6.8-9.8 6.8-9.9 6.8-10 6.9-9.9 6.8-9.7 6.8-9 6.9-8.1 6.8-6.8 6.8-6 6.9-6.8M526.5 841.3l6.8-5.7 6.8-5.8 6.9-5.7 6.8-5.8 6.8-5.8 6.9-5.7 6.8-5.8 6.8-5.7 6.8-5.7 6.9-5.7 6.8-5.8 6.8-5.7 6.9-5.8 6.8-5.9 6.8-5.9 6.9-5.9 6.8-5.9 6.8-6 6.9-6 6.8-6.1 6.8-6 6.8-6.1 6.9-6.1 6.8-6.1 6.8-6.1 6.9-6.1 6.8-6.1 6.8-6 6.9-6.1 6.8-6 6.8-6 6.8-6 6.9-5.9 6.8-5.9 6.8-5.8 6.9-5.8 6.8-5.7 6.8-5.7 6.9-5.6 6.8-5.5 6.8-5.5 6.9-5.4 6.8-5.4 6.8-5.3 6.8-5.3 6.9-5.3 6.8-5.2 6.8-5.2 6.9-5.2 6.8-5.1 6.8-5.1 6.9-5.1 6.8-5.1 6.8-5 6.8-4.9 6.9-4.9 6.8-4.7 6.8-4.7 6.9-4.6 6.8-4.6 6.8-4.6 6.9-4.7 6.8-4.8 6.8-4.8 6.9-5.1 6.8-5.2 6.8-5.3 6.8-5.5 6.9-5.6 6.8-5.9 6.8-6 6.9-6.1 6.8-6.4 6.8-6.5 6.9-6.8 6.8-6.9 6.8-7.1 6.8-7.4 6.9-7.6 6.8-7.7 6.8-8 6.9-8.1 6.8-8.4 6.8-8.5 6.9-8.7 6.8-8.9 6.8-9.1 6.9-9.3 6.8-9.4 6.8-9.5 6.8-9.6 6.9-9.5 6.8-9.5 6.8-9.1 6.9-8.6 6.8-7.9 6.8-6.8 6.9-6.6 6.8-7.5M517.7 834l6.8-5.6 6.9-5.7 6.8-5.7 6.8-5.7 6.9-5.7 6.8-5.7 6.8-5.7 6.8-5.7 6.9-5.7 6.8-5.7 6.8-5.8 6.9-5.7 6.8-5.8 6.8-5.8 6.9-5.9 6.8-5.9 6.8-5.9 6.8-6 6.9-5.9 6.8-6 6.8-6.1 6.9-6 6.8-6.1 6.8-6 6.9-6.1 6.8-6.1 6.8-6 6.8-6.1 6.9-6 6.8-6 6.8-6 6.9-6 6.8-5.9 6.8-5.9 6.9-5.8 6.8-5.8 6.8-5.8 6.9-5.7 6.8-5.7 6.8-5.6 6.8-5.6 6.9-5.5 6.8-5.5 6.8-5.4 6.9-5.4 6.8-5.4 6.8-5.4 6.9-5.3 6.8-5.2 6.8-5.3 6.8-5.2 6.9-5.2 6.8-5.2 6.8-5.1 6.9-5 6.8-5 6.8-4.9 6.9-4.8 6.8-4.8 6.8-4.8 6.9-4.8 6.8-4.9 6.8-4.9 6.8-5.1 6.9-5.1 6.8-5.3 6.8-5.4 6.9-5.6 6.8-5.7 6.8-5.9 6.9-6 6.8-6.2 6.8-6.4 6.8-6.6 6.9-6.8 6.8-6.9 6.8-7.1 6.9-7.4 6.8-7.5 6.8-7.7 6.9-7.9 6.8-8.1 6.8-8.3 6.9-8.4 6.8-8.6 6.8-8.8 6.8-8.9 6.9-9 6.8-9.2 6.8-9.2 6.9-9.1 6.8-9.2 6.8-8.9 6.9-8.7 6.8-8.3 6.8-7.8 6.8-7.3 6.9-7.5 6.8-8M508.9 826.6l6.9-5.5 6.8-5.5 6.8-5.6 6.8-5.7 6.9-5.6 6.8-5.7 6.8-5.6 6.9-5.7 6.8-5.6 6.8-5.7 6.9-5.7 6.8-5.8 6.8-5.7 6.8-5.8 6.9-5.8 6.8-5.9 6.8-5.9 6.9-5.9 6.8-5.9 6.8-6 6.9-6 6.8-6 6.8-6 6.9-6 6.8-6.1 6.8-6 6.8-6 6.9-6.1 6.8-6 6.8-6 6.9-6 6.8-5.9 6.8-6 6.9-5.9 6.8-5.8 6.8-5.9 6.8-5.7 6.9-5.8 6.8-5.7 6.8-5.7 6.9-5.6 6.8-5.6 6.8-5.6 6.9-5.5 6.8-5.5 6.8-5.5 6.9-5.4 6.8-5.4 6.8-5.4 6.8-5.3 6.9-5.3 6.8-5.3 6.8-5.3 6.9-5.2 6.8-5.1 6.8-5.1 6.9-5 6.8-5 6.8-5 6.8-5 6.9-5 6.8-5 6.8-5.1 6.9-5.2 6.8-5.3 6.8-5.3 6.9-5.6 6.8-5.6 6.8-5.8 6.9-6 6.8-6 6.8-6.3 6.8-6.4 6.9-6.6 6.8-6.8 6.8-6.9 6.9-7.2 6.8-7.3 6.8-7.4 6.9-7.7 6.8-7.8 6.8-8 6.8-8.2 6.9-8.3 6.8-8.5 6.8-8.5 6.9-8.7 6.8-8.8 6.8-8.9 6.9-8.8 6.8-8.9 6.8-8.7 6.8-8.6 6.9-8.4 6.8-8.1 6.8-7.9 6.9-7.8 6.8-8 6.8-8.5M500.1 819.3l6.9-5.4 6.8-5.5 6.8-5.5 6.9-5.6 6.8-5.5 6.8-5.6 6.9-5.6 6.8-5.6 6.8-5.6 6.8-5.6 6.9-5.7 6.8-5.7 6.8-5.7 6.9-5.7 6.8-5.8 6.8-5.8 6.9-5.9 6.8-5.9 6.8-5.9 6.9-5.9 6.8-5.9 6.8-6 6.8-6 6.9-6 6.8-6 6.8-6 6.9-6 6.8-6 6.8-6 6.9-5.9 6.8-6 6.8-5.9 6.8-6 6.9-5.9 6.8-5.8 6.8-5.9 6.9-5.8 6.8-5.8 6.8-5.7 6.9-5.8 6.8-5.6 6.8-5.7 6.9-5.6 6.8-5.6 6.8-5.6 6.8-5.5 6.9-5.5 6.8-5.5 6.8-5.4 6.9-5.5 6.8-5.3 6.8-5.4 6.9-5.3 6.8-5.3 6.8-5.2 6.8-5.2 6.9-5.2 6.8-5.2 6.8-5.1 6.9-5.1 6.8-5.2 6.8-5.2 6.9-5.2 6.8-5.3 6.8-5.4 6.9-5.5 6.8-5.6 6.8-5.8 6.8-5.9 6.9-6 6.8-6.1 6.8-6.3 6.9-6.5 6.8-6.6 6.8-6.7 6.9-7 6.8-7.1 6.8-7.2 6.8-7.5 6.9-7.5 6.8-7.8 6.8-7.9 6.9-8 6.8-8.2 6.8-8.3 6.9-8.3 6.8-8.5 6.8-8.6 6.9-8.5 6.8-8.6 6.8-8.5 6.8-8.5 6.9-8.4 6.8-8.2 6.8-8.1 6.9-8.1 6.8-8.1 6.8-8.3 6.9-8.6M491.4 812l6.8-5.3 6.8-5.4 6.9-5.4 6.8-5.5 6.8-5.5 6.9-5.5 6.8-5.5 6.8-5.5 6.8-5.6 6.9-5.5 6.8-5.6 6.8-5.7 6.9-5.6 6.8-5.7 6.8-5.8 6.9-5.7 6.8-5.8 6.8-5.9 6.8-5.8 6.9-5.9 6.8-5.9 6.8-5.9 6.9-5.9 6.8-6 6.8-5.9 6.9-6 6.8-6 6.8-5.9 6.9-6 6.8-5.9 6.8-6 6.8-5.9 6.9-5.9 6.8-5.9 6.8-5.9 6.9-5.8 6.8-5.9 6.8-5.8 6.9-5.7 6.8-5.8 6.8-5.7 6.8-5.7 6.9-5.7 6.8-5.6 6.8-5.6 6.9-5.6 6.8-5.6 6.8-5.5 6.9-5.5 6.8-5.5 6.8-5.5 6.9-5.4 6.8-5.4 6.8-5.4 6.8-5.3 6.9-5.3 6.8-5.3 6.8-5.2 6.9-5.3 6.8-5.3 6.8-5.3 6.9-5.3 6.8-5.4 6.8-5.4 6.8-5.5 6.9-5.7 6.8-5.7 6.8-5.8 6.9-5.9 6.8-6.1 6.8-6.2 6.9-6.3 6.8-6.5 6.8-6.6 6.8-6.8 6.9-6.9 6.8-7.1 6.8-7.2 6.9-7.3 6.8-7.5 6.8-7.7 6.9-7.8 6.8-7.9 6.8-8 6.9-8.1 6.8-8.2 6.8-8.3 6.8-8.3 6.9-8.3 6.8-8.4 6.8-8.3 6.9-8.3 6.8-8.2 6.8-8.1 6.9-8.2 6.8-8.1 6.8-8.3 6.8-8.4 6.9-8.7M482.6 804.8l6.8-5.3 6.9-5.3 6.8-5.3 6.8-5.4 6.8-5.4 6.9-5.4 6.8-5.4 6.8-5.4 6.9-5.5 6.8-5.5 6.8-5.5 6.9-5.6 6.8-5.6 6.8-5.6 6.8-5.7 6.9-5.7 6.8-5.8 6.8-5.8 6.9-5.8 6.8-5.8 6.8-5.9 6.9-5.8 6.8-5.9 6.8-5.9 6.9-5.9 6.8-5.9 6.8-6 6.8-5.9 6.9-5.9 6.8-5.9 6.8-5.9 6.9-5.9 6.8-5.9 6.8-5.9 6.9-5.9 6.8-5.8 6.8-5.9 6.8-5.8 6.9-5.8 6.8-5.7 6.8-5.8 6.9-5.7 6.8-5.7 6.8-5.7 6.9-5.6 6.8-5.7 6.8-5.6 6.9-5.6 6.8-5.5 6.8-5.6 6.8-5.5 6.9-5.5 6.8-5.4 6.8-5.5 6.9-5.4 6.8-5.4 6.8-5.4 6.9-5.3 6.8-5.4 6.8-5.4 6.8-5.4 6.9-5.5 6.8-5.5 6.8-5.5 6.9-5.7 6.8-5.7 6.8-5.8 6.9-5.9 6.8-6 6.8-6.1 6.9-6.2 6.8-6.4 6.8-6.5 6.8-6.6 6.9-6.7 6.8-6.9 6.8-7.1 6.9-7.1 6.8-7.3 6.8-7.4 6.9-7.6 6.8-7.6 6.8-7.8 6.8-7.9 6.9-7.9 6.8-8 6.8-8.1 6.9-8.1 6.8-8.2 6.8-8.1 6.9-8.2 6.8-8.1 6.8-8.1 6.9-8.2 6.8-8.1 6.8-8.1 6.8-8.2 6.9-8.3 6.8-8.6M473.8 797.7l6.8-5.2 6.9-5.2 6.8-5.3 6.8-5.3 6.9-5.3 6.8-5.3 6.8-5.3 6.9-5.4 6.8-5.4 6.8-5.4 6.9-5.5 6.8-5.4 6.8-5.6 6.8-5.5 6.9-5.7 6.8-5.6 6.8-5.7 6.9-5.8 6.8-5.7 6.8-5.8 6.9-5.8 6.8-5.8 6.8-5.8 6.8-5.9 6.9-5.8 6.8-5.9 6.8-5.8 6.9-5.9 6.8-5.9 6.8-5.9 6.9-5.9 6.8-5.8 6.8-5.9 6.9-5.9 6.8-5.8 6.8-5.8 6.8-5.9 6.9-5.8 6.8-5.8 6.8-5.8 6.9-5.7 6.8-5.8 6.8-5.7 6.9-5.7 6.8-5.7 6.8-5.6 6.8-5.7 6.9-5.6 6.8-5.6 6.8-5.6 6.9-5.5 6.8-5.6 6.8-5.5 6.9-5.5 6.8-5.5 6.8-5.5 6.8-5.5 6.9-5.4 6.8-5.5 6.8-5.5 6.9-5.5 6.8-5.6 6.8-5.6 6.9-5.7 6.8-5.7 6.8-5.8 6.9-5.8 6.8-6 6.8-6.1 6.8-6.1 6.9-6.3 6.8-6.4 6.8-6.5 6.9-6.6 6.8-6.7 6.8-6.9 6.9-7 6.8-7.1 6.8-7.2 6.8-7.3 6.9-7.5 6.8-7.5 6.8-7.7 6.9-7.7 6.8-7.8 6.8-7.8 6.9-8 6.8-7.9 6.8-8 6.9-8 6.8-8 6.8-8 6.8-8 6.9-8.1 6.8-8 6.8-8.1 6.9-8.2 6.8-8.3 6.8-8.3M465 790.7l6.9-5.1 6.8-5.2 6.8-5.2 6.9-5.2 6.8-5.2 6.8-5.2 6.9-5.3 6.8-5.3 6.8-5.3 6.8-5.3 6.9-5.4 6.8-5.4 6.8-5.4 6.9-5.5 6.8-5.6 6.8-5.6 6.9-5.6 6.8-5.7 6.8-5.7 6.8-5.7 6.9-5.7 6.8-5.8 6.8-5.7 6.9-5.8 6.8-5.8 6.8-5.8 6.9-5.8 6.8-5.8 6.8-5.9 6.9-5.8 6.8-5.9 6.8-5.8 6.8-5.8 6.9-5.9 6.8-5.8 6.8-5.8 6.9-5.8 6.8-5.8 6.8-5.8 6.9-5.8 6.8-5.7 6.8-5.8 6.8-5.7 6.9-5.8 6.8-5.7 6.8-5.6 6.9-5.7 6.8-5.7 6.8-5.6 6.9-5.6 6.8-5.6 6.8-5.6 6.9-5.6 6.8-5.6 6.8-5.5 6.8-5.6 6.9-5.5 6.8-5.6 6.8-5.6 6.9-5.5 6.8-5.7 6.8-5.6 6.9-5.7 6.8-5.7 6.8-5.8 6.8-5.9 6.9-5.9 6.8-6 6.8-6.1 6.9-6.2 6.8-6.3 6.8-6.4 6.9-6.6 6.8-6.6 6.8-6.7 6.9-6.8 6.8-6.9 6.8-7.1 6.8-7.1 6.9-7.3 6.8-7.3 6.8-7.5 6.9-7.5 6.8-7.6 6.8-7.6 6.9-7.7 6.8-7.8 6.8-7.8 6.8-7.8 6.9-7.9 6.8-7.9 6.8-7.9 6.9-7.9 6.8-7.9 6.8-8 6.9-8.1 6.8-8.2 6.8-8.2 6.9-8.4M456.3 783.9l6.8-5.1 6.8-5.1 6.9-5.1 6.8-5.1 6.8-5.1 6.8-5.2 6.9-5.2 6.8-5.2 6.8-5.3 6.9-5.3 6.8-5.2 6.8-5.4 6.9-5.3 6.8-5.5 6.8-5.4 6.9-5.6 6.8-5.5 6.8-5.6 6.8-5.6 6.9-5.6 6.8-5.7 6.8-5.6 6.9-5.7 6.8-5.7 6.8-5.8 6.9-5.7 6.8-5.8 6.8-5.8 6.8-5.7 6.9-5.8 6.8-5.8 6.8-5.8 6.9-5.8 6.8-5.8 6.8-5.8 6.9-5.8 6.8-5.8 6.8-5.8 6.9-5.8 6.8-5.7 6.8-5.8 6.8-5.7 6.9-5.8 6.8-5.7 6.8-5.7 6.9-5.7 6.8-5.7 6.8-5.7 6.9-5.7 6.8-5.6 6.8-5.7 6.8-5.6 6.9-5.6 6.8-5.6 6.8-5.6 6.9-5.7 6.8-5.6 6.8-5.6 6.9-5.6 6.8-5.7 6.8-5.7 6.8-5.7 6.9-5.8 6.8-5.8 6.8-5.8 6.9-6 6.8-5.9 6.8-6.1 6.9-6.2 6.8-6.2 6.8-6.3 6.9-6.4 6.8-6.5 6.8-6.6 6.8-6.7 6.9-6.8 6.8-6.9 6.8-7 6.9-7 6.8-7.2 6.8-7.2 6.9-7.4 6.8-7.4 6.8-7.4 6.8-7.6 6.9-7.5 6.8-7.6 6.8-7.7 6.9-7.7 6.8-7.7 6.8-7.7 6.9-7.8 6.8-7.8 6.8-7.8 6.9-7.9 6.8-8 6.8-8 6.8-8.1 6.9-8.1M447.5 777.3l6.8-5 6.8-5.1 6.9-5 6.8-5.1 6.8-5 6.9-5.2 6.8-5.1 6.8-5.2 6.9-5.2 6.8-5.2 6.8-5.2 6.9-5.3 6.8-5.3 6.8-5.3 6.8-5.4 6.9-5.4 6.8-5.4 6.8-5.5 6.9-5.5 6.8-5.6 6.8-5.5 6.9-5.6 6.8-5.7 6.8-5.6 6.8-5.7 6.9-5.6 6.8-5.7 6.8-5.8 6.9-5.7 6.8-5.7 6.8-5.8 6.9-5.7 6.8-5.8 6.8-5.7 6.9-5.8 6.8-5.8 6.8-5.7 6.8-5.8 6.9-5.8 6.8-5.7 6.8-5.8 6.9-5.7 6.8-5.7 6.8-5.8 6.9-5.7 6.8-5.7 6.8-5.7 6.8-5.7 6.9-5.7 6.8-5.7 6.8-5.6 6.9-5.7 6.8-5.7 6.8-5.6 6.9-5.7 6.8-5.6 6.8-5.7 6.9-5.7 6.8-5.7 6.8-5.7 6.8-5.8 6.9-5.7 6.8-5.9 6.8-5.8 6.9-5.9 6.8-6 6.8-6 6.9-6.1 6.8-6.2 6.8-6.2 6.8-6.4 6.9-6.4 6.8-6.5 6.8-6.5 6.9-6.7 6.8-6.8 6.8-6.8 6.9-6.9 6.8-7 6.8-7.1 6.9-7.1 6.8-7.3 6.8-7.3 6.8-7.3 6.9-7.4 6.8-7.4 6.8-7.5 6.9-7.5 6.8-7.6 6.8-7.6 6.9-7.6 6.8-7.6 6.8-7.6 6.8-7.7 6.9-7.6 6.8-7.7 6.8-7.8 6.9-7.7 6.8-7.8M438.7 770.9l6.8-5 6.9-4.9 6.8-5 6.8-5 6.9-5.1 6.8-5 6.8-5.1 6.9-5.1 6.8-5.1 6.8-5.2 6.8-5.2 6.9-5.2 6.8-5.2 6.8-5.2 6.9-5.3 6.8-5.3 6.8-5.4 6.9-5.4 6.8-5.4 6.8-5.5 6.9-5.4 6.8-5.6 6.8-5.5 6.8-5.6 6.9-5.6 6.8-5.6 6.8-5.6 6.9-5.6 6.8-5.7 6.8-5.7 6.9-5.7 6.8-5.7 6.8-5.7 6.8-5.7 6.9-5.7 6.8-5.8 6.8-5.7 6.9-5.7 6.8-5.8 6.8-5.7 6.9-5.8 6.8-5.7 6.8-5.7 6.8-5.7 6.9-5.8 6.8-5.7 6.8-5.7 6.9-5.7 6.8-5.7 6.8-5.7 6.9-5.7 6.8-5.7 6.8-5.7 6.9-5.7 6.8-5.7 6.8-5.7 6.8-5.7 6.9-5.7 6.8-5.7 6.8-5.8 6.9-5.8 6.8-5.8 6.8-5.9 6.9-5.9 6.8-5.9 6.8-6.1 6.8-6 6.9-6.1 6.8-6.2 6.8-6.3 6.9-6.3 6.8-6.4 6.8-6.5 6.9-6.5 6.8-6.6 6.8-6.7 6.9-6.8 6.8-6.9 6.8-6.9 6.8-7 6.9-7.1 6.8-7.1 6.8-7.2 6.9-7.2 6.8-7.3 6.8-7.3 6.9-7.4 6.8-7.3 6.8-7.5 6.8-7.4 6.9-7.4 6.8-7.5 6.8-7.4 6.9-7.5 6.8-7.5 6.8-7.4 6.9-7.4 6.8-7.4 6.8-7.5M429.9 764.7l6.9-4.9 6.8-4.9 6.8-4.9 6.9-5 6.8-5 6.8-5 6.8-5 6.9-5 6.8-5.1 6.8-5.1 6.9-5.1 6.8-5.1 6.8-5.2 6.9-5.1 6.8-5.2 6.8-5.3 6.9-5.2 6.8-5.3 6.8-5.4 6.8-5.3 6.9-5.4 6.8-5.5 6.8-5.4 6.9-5.5 6.8-5.5 6.8-5.6 6.9-5.5 6.8-5.6 6.8-5.6 6.8-5.7 6.9-5.6 6.8-5.6 6.8-5.7 6.9-5.7 6.8-5.7 6.8-5.7 6.9-5.7 6.8-5.7 6.8-5.7 6.9-5.7 6.8-5.7 6.8-5.7 6.8-5.7 6.9-5.7 6.8-5.8 6.8-5.7 6.9-5.7 6.8-5.7 6.8-5.7 6.9-5.7 6.8-5.7 6.8-5.7 6.8-5.7 6.9-5.8 6.8-5.7 6.8-5.7 6.9-5.8 6.8-5.7 6.8-5.8 6.9-5.8 6.8-5.8 6.8-5.9 6.9-5.9 6.8-5.9 6.8-6 6.8-6 6.9-6.1 6.8-6.1 6.8-6.2 6.9-6.3 6.8-6.3 6.8-6.4 6.9-6.4 6.8-6.5 6.8-6.6 6.8-6.7 6.9-6.7 6.8-6.8 6.8-6.9 6.9-6.9 6.8-6.9 6.8-7.1 6.9-7 6.8-7.2 6.8-7.1 6.9-7.2 6.8-7.3 6.8-7.2 6.8-7.3 6.9-7.3 6.8-7.3 6.8-7.3 6.9-7.3 6.8-7.3 6.8-7.2 6.9-7.3 6.8-7.2 6.8-7.2 6.8-7.2M421.2 758.7l6.8-4.8 6.8-4.9 6.9-4.9 6.8-4.9 6.8-4.9 6.8-4.9 6.9-5 6.8-5 6.8-5 6.9-5 6.8-5 6.8-5.1 6.9-5.1 6.8-5 6.8-5.2 6.8-5.1 6.9-5.2 6.8-5.2 6.8-5.3 6.9-5.2 6.8-5.4 6.8-5.3 6.9-5.4 6.8-5.4 6.8-5.4 6.8-5.5 6.9-5.5 6.8-5.5 6.8-5.5 6.9-5.6 6.8-5.6 6.8-5.6 6.9-5.6 6.8-5.6 6.8-5.6 6.9-5.7 6.8-5.7 6.8-5.6 6.8-5.7 6.9-5.7 6.8-5.7 6.8-5.7 6.9-5.7 6.8-5.7 6.8-5.7 6.9-5.7 6.8-5.7 6.8-5.7 6.8-5.7 6.9-5.7 6.8-5.7 6.8-5.8 6.9-5.7 6.8-5.7 6.8-5.8 6.9-5.7 6.8-5.8 6.8-5.8 6.9-5.8 6.8-5.8 6.8-5.9 6.8-5.8 6.9-6 6.8-5.9 6.8-6 6.9-6 6.8-6.1 6.8-6.2 6.9-6.2 6.8-6.2 6.8-6.3 6.8-6.4 6.9-6.4 6.8-6.5 6.8-6.5 6.9-6.6 6.8-6.7 6.8-6.7 6.9-6.8 6.8-6.8 6.8-6.9 6.9-6.9 6.8-7 6.8-7 6.8-7 6.9-7.1 6.8-7.1 6.8-7.2 6.9-7.1 6.8-7.2 6.8-7.1 6.9-7.2 6.8-7.1 6.8-7.2 6.8-7.1 6.9-7.1 6.8-7.1 6.8-7 6.9-7.1M412.4 752.8l6.8-4.7 6.8-4.8 6.9-4.8 6.8-4.9 6.8-4.8 6.9-4.9 6.8-4.9 6.8-4.9 6.9-4.9 6.8-5 6.8-5 6.8-4.9 6.9-5 6.8-5 6.8-5.1 6.9-5 6.8-5.1 6.8-5.2 6.9-5.1 6.8-5.2 6.8-5.3 6.9-5.2 6.8-5.3 6.8-5.3 6.8-5.4 6.9-5.4 6.8-5.4 6.8-5.5 6.9-5.4 6.8-5.5 6.8-5.6 6.9-5.5 6.8-5.6 6.8-5.5 6.8-5.6 6.9-5.6 6.8-5.6 6.8-5.7 6.9-5.6 6.8-5.7 6.8-5.6 6.9-5.7 6.8-5.7 6.8-5.7 6.9-5.6 6.8-5.7 6.8-5.7 6.8-5.7 6.9-5.7 6.8-5.8 6.8-5.7 6.9-5.7 6.8-5.7 6.8-5.8 6.9-5.7 6.8-5.8 6.8-5.8 6.8-5.8 6.9-5.8 6.8-5.8 6.8-5.9 6.9-5.9 6.8-5.9 6.8-6 6.9-6 6.8-6 6.8-6.1 6.9-6.2 6.8-6.1 6.8-6.3 6.8-6.2 6.9-6.4 6.8-6.3 6.8-6.5 6.9-6.5 6.8-6.5 6.8-6.6 6.9-6.7 6.8-6.7 6.8-6.7 6.8-6.8 6.9-6.8 6.8-6.9 6.8-6.9 6.9-7 6.8-6.9 6.8-7 6.9-7 6.8-7 6.8-7.1 6.8-7 6.9-7 6.8-7 6.8-7 6.9-7 6.8-6.9 6.8-7 6.9-6.9 6.8-6.8M403.6 747.1l6.8-4.7 6.9-4.7 6.8-4.8 6.8-4.7 6.9-4.8 6.8-4.8 6.8-4.9 6.9-4.8 6.8-4.9 6.8-4.8 6.8-4.9 6.9-4.9 6.8-4.9 6.8-4.9 6.9-5 6.8-5 6.8-5 6.9-5 6.8-5.1 6.8-5.1 6.8-5.2 6.9-5.1 6.8-5.3 6.8-5.2 6.9-5.3 6.8-5.3 6.8-5.4 6.9-5.3 6.8-5.4 6.8-5.5 6.8-5.4 6.9-5.5 6.8-5.5 6.8-5.5 6.9-5.6 6.8-5.5 6.8-5.6 6.9-5.6 6.8-5.6 6.8-5.6 6.9-5.7 6.8-5.6 6.8-5.7 6.8-5.6 6.9-5.7 6.8-5.7 6.8-5.6 6.9-5.7 6.8-5.7 6.8-5.7 6.9-5.7 6.8-5.8 6.8-5.7 6.8-5.7 6.9-5.8 6.8-5.8 6.8-5.8 6.9-5.8 6.8-5.8 6.8-5.8 6.9-5.9 6.8-5.9 6.8-5.9 6.9-6 6.8-6 6.8-6 6.8-6.1 6.9-6.1 6.8-6.2 6.8-6.2 6.9-6.2 6.8-6.3 6.8-6.4 6.9-6.3 6.8-6.5 6.8-6.5 6.8-6.5 6.9-6.6 6.8-6.6 6.8-6.7 6.9-6.7 6.8-6.7 6.8-6.8 6.9-6.8 6.8-6.8 6.8-6.8 6.9-6.9 6.8-6.9 6.8-6.9 6.8-6.9 6.9-6.8 6.8-6.9 6.8-6.9 6.9-6.8 6.8-6.8 6.8-6.8 6.9-6.8 6.8-6.7 6.8-6.6M394.8 741.4l6.9-4.6 6.8-4.6 6.8-4.7 6.9-4.7 6.8-4.7 6.8-4.7 6.8-4.8 6.9-4.7 6.8-4.8 6.8-4.8 6.9-4.8 6.8-4.8 6.8-4.8 6.9-4.8 6.8-4.9 6.8-4.9 6.8-4.9 6.9-5 6.8-5 6.8-5 6.9-5.1 6.8-5.1 6.8-5.1 6.9-5.2 6.8-5.2 6.8-5.2 6.9-5.3 6.8-5.3 6.8-5.3 6.8-5.4 6.9-5.4 6.8-5.4 6.8-5.5 6.9-5.5 6.8-5.4 6.8-5.6 6.9-5.5 6.8-5.5 6.8-5.6 6.8-5.6 6.9-5.6 6.8-5.6 6.8-5.6 6.9-5.6 6.8-5.7 6.8-5.6 6.9-5.7 6.8-5.7 6.8-5.7 6.9-5.7 6.8-5.7 6.8-5.7 6.8-5.7 6.9-5.7 6.8-5.8 6.8-5.8 6.9-5.7 6.8-5.8 6.8-5.9 6.9-5.8 6.8-5.9 6.8-5.9 6.8-5.9 6.9-6 6.8-5.9 6.8-6.1 6.9-6 6.8-6.1 6.8-6.1 6.9-6.2 6.8-6.2 6.8-6.2 6.9-6.3 6.8-6.4 6.8-6.3 6.8-6.5 6.9-6.4 6.8-6.5 6.8-6.6 6.9-6.5 6.8-6.6 6.8-6.7 6.9-6.6 6.8-6.7 6.8-6.7 6.8-6.8 6.9-6.7 6.8-6.8 6.8-6.7 6.9-6.8 6.8-6.7 6.8-6.8 6.9-6.7 6.8-6.7 6.8-6.6 6.8-6.6 6.9-6.5 6.8-6.4 6.8-6.4M386.1 735.9l6.8-4.6 6.8-4.5 6.8-4.6 6.9-4.6 6.8-4.7 6.8-4.6 6.9-4.7 6.8-4.6 6.8-4.7 6.9-4.7 6.8-4.7 6.8-4.7 6.8-4.7 6.9-4.8 6.8-4.8 6.8-4.7 6.9-4.9 6.8-4.8 6.8-5 6.9-4.9 6.8-5 6.8-5 6.9-5 6.8-5.1 6.8-5.2 6.8-5.1 6.9-5.2 6.8-5.3 6.8-5.3 6.9-5.3 6.8-5.3 6.8-5.4 6.9-5.4 6.8-5.4 6.8-5.4 6.8-5.5 6.9-5.5 6.8-5.5 6.8-5.5 6.9-5.5 6.8-5.6 6.8-5.6 6.9-5.6 6.8-5.6 6.8-5.6 6.9-5.6 6.8-5.6 6.8-5.7 6.8-5.7 6.9-5.6 6.8-5.7 6.8-5.7 6.9-5.7 6.8-5.8 6.8-5.7 6.9-5.8 6.8-5.7 6.8-5.8 6.8-5.9 6.9-5.8 6.8-5.8 6.8-5.9 6.9-5.9 6.8-6 6.8-5.9 6.9-6 6.8-6 6.8-6.1 6.9-6.1 6.8-6.1 6.8-6.2 6.8-6.2 6.9-6.2 6.8-6.3 6.8-6.3 6.9-6.3 6.8-6.4 6.8-6.4 6.9-6.5 6.8-6.5 6.8-6.5 6.8-6.5 6.9-6.6 6.8-6.6 6.8-6.6 6.9-6.6 6.8-6.6 6.8-6.6 6.9-6.6 6.8-6.7 6.8-6.6 6.9-6.5 6.8-6.6 6.8-6.5 6.8-6.5 6.9-6.4 6.8-6.3 6.8-6.2 6.9-6.1M377.3 730.4l6.8-4.5 6.8-4.4 6.9-4.5 6.8-4.6 6.8-4.5 6.9-4.6 6.8-4.5 6.8-4.6 6.9-4.6 6.8-4.6 6.8-4.6 6.8-4.6 6.9-4.6 6.8-4.6 6.8-4.7 6.9-4.7 6.8-4.8 6.8-4.7 6.9-4.8 6.8-4.9 6.8-4.9 6.8-4.9 6.9-5 6.8-5 6.8-5.1 6.9-5.1 6.8-5.1 6.8-5.2 6.9-5.2 6.8-5.2 6.8-5.3 6.9-5.3 6.8-5.4 6.8-5.3 6.8-5.4 6.9-5.4 6.8-5.5 6.8-5.4 6.9-5.5 6.8-5.5 6.8-5.5 6.9-5.6 6.8-5.5 6.8-5.6 6.8-5.6 6.9-5.6 6.8-5.6 6.8-5.6 6.9-5.6 6.8-5.7 6.8-5.7 6.9-5.7 6.8-5.6 6.8-5.8 6.9-5.7 6.8-5.7 6.8-5.8 6.8-5.8 6.9-5.8 6.8-5.8 6.8-5.8 6.9-5.9 6.8-5.9 6.8-5.9 6.9-5.9 6.8-6 6.8-5.9 6.8-6.1 6.9-6 6.8-6.1 6.8-6.1 6.9-6.1 6.8-6.2 6.8-6.2 6.9-6.3 6.8-6.2 6.8-6.3 6.8-6.4 6.9-6.3 6.8-6.4 6.8-6.4 6.9-6.4 6.8-6.5 6.8-6.5 6.9-6.4 6.8-6.5 6.8-6.5 6.9-6.5 6.8-6.5 6.8-6.5 6.8-6.4 6.9-6.5 6.8-6.4 6.8-6.3 6.9-6.3 6.8-6.2 6.8-6.2 6.9-6 6.8-5.9M368.5 724.9l6.8-4.3 6.9-4.4 6.8-4.4 6.8-4.4 6.9-4.4 6.8-4.5 6.8-4.5 6.8-4.5 6.9-4.4 6.8-4.5 6.8-4.5 6.9-4.5 6.8-4.5 6.8-4.5 6.9-4.6 6.8-4.6 6.8-4.6 6.8-4.7 6.9-4.8 6.8-4.7 6.8-4.8 6.9-4.9 6.8-4.9 6.8-4.9 6.9-5 6.8-5.1 6.8-5 6.9-5.1 6.8-5.2 6.8-5.1 6.8-5.3 6.9-5.2 6.8-5.3 6.8-5.3 6.9-5.3 6.8-5.4 6.8-5.4 6.9-5.4 6.8-5.4 6.8-5.5 6.8-5.5 6.9-5.5 6.8-5.5 6.8-5.5 6.9-5.6 6.8-5.5 6.8-5.6 6.9-5.6 6.8-5.6 6.8-5.7 6.9-5.6 6.8-5.7 6.8-5.6 6.8-5.7 6.9-5.7 6.8-5.7 6.8-5.8 6.9-5.7 6.8-5.8 6.8-5.8 6.9-5.8 6.8-5.8 6.8-5.9 6.8-5.9 6.9-5.9 6.8-5.9 6.8-5.9 6.9-6 6.8-6 6.8-6 6.9-6.1 6.8-6.1 6.8-6.1 6.9-6.1 6.8-6.2 6.8-6.2 6.8-6.2 6.9-6.2 6.8-6.3 6.8-6.3 6.9-6.3 6.8-6.3 6.8-6.3 6.9-6.4 6.8-6.3 6.8-6.4 6.8-6.3 6.9-6.4 6.8-6.3 6.8-6.4 6.9-6.3 6.8-6.3 6.8-6.2 6.9-6.2 6.8-6.1 6.8-6.1 6.9-6 6.8-5.8 6.8-5.7M359.7 719.5l6.9-4.2 6.8-4.2 6.8-4.3 6.8-4.3 6.9-4.4 6.8-4.3 6.8-4.4 6.9-4.4 6.8-4.3 6.8-4.4 6.9-4.3 6.8-4.4 6.8-4.4 6.9-4.4 6.8-4.5 6.8-4.5 6.8-4.6 6.9-4.6 6.8-4.6 6.8-4.7 6.9-4.7 6.8-4.8 6.8-4.8 6.9-4.9 6.8-4.9 6.8-5 6.8-5 6.9-5 6.8-5.1 6.8-5.1 6.9-5.2 6.8-5.1 6.8-5.3 6.9-5.2 6.8-5.3 6.8-5.3 6.9-5.4 6.8-5.3 6.8-5.4 6.8-5.4 6.9-5.5 6.8-5.4 6.8-5.5 6.9-5.5 6.8-5.5 6.8-5.5 6.9-5.6 6.8-5.6 6.8-5.5 6.8-5.6 6.9-5.6 6.8-5.7 6.8-5.6 6.9-5.7 6.8-5.7 6.8-5.6 6.9-5.8 6.8-5.7 6.8-5.7 6.8-5.8 6.9-5.8 6.8-5.8 6.8-5.8 6.9-5.8 6.8-5.9 6.8-5.9 6.9-5.9 6.8-5.9 6.8-5.9 6.9-6 6.8-6 6.8-6 6.8-6 6.9-6.1 6.8-6.1 6.8-6.1 6.9-6.1 6.8-6.1 6.8-6.2 6.9-6.2 6.8-6.2 6.8-6.2 6.8-6.2 6.9-6.2 6.8-6.2 6.8-6.3 6.9-6.2 6.8-6.2 6.8-6.2 6.9-6.2 6.8-6.2 6.8-6.1 6.9-6.1 6.8-6 6.8-6 6.8-5.9 6.9-5.8 6.8-5.7 6.8-5.5M350.9 714.1l6.9-4 6.8-4.2 6.8-4.1 6.9-4.2 6.8-4.2 6.8-4.2 6.9-4.3 6.8-4.2 6.8-4.2 6.9-4.3 6.8-4.2 6.8-4.3 6.8-4.2 6.9-4.4 6.8-4.3 6.8-4.4 6.9-4.5 6.8-4.5 6.8-4.6 6.9-4.6 6.8-4.6 6.8-4.7 6.8-4.8 6.9-4.8 6.8-4.8 6.8-4.9 6.9-5 6.8-4.9 6.8-5 6.9-5.1 6.8-5.1 6.8-5.1 6.9-5.2 6.8-5.2 6.8-5.2 6.8-5.3 6.9-5.3 6.8-5.3 6.8-5.3 6.9-5.4 6.8-5.4 6.8-5.4 6.9-5.4 6.8-5.5 6.8-5.5 6.8-5.5 6.9-5.5 6.8-5.5 6.8-5.6 6.9-5.5 6.8-5.6 6.8-5.6 6.9-5.6 6.8-5.6 6.8-5.7 6.9-5.7 6.8-5.6 6.8-5.7 6.8-5.7 6.9-5.8 6.8-5.7 6.8-5.8 6.9-5.7 6.8-5.8 6.8-5.8 6.9-5.9 6.8-5.8 6.8-5.9 6.8-5.9 6.9-5.9 6.8-5.9 6.8-5.9 6.9-6 6.8-6 6.8-6 6.9-6 6.8-6 6.8-6.1 6.9-6 6.8-6.1 6.8-6.1 6.8-6 6.9-6.1 6.8-6.1 6.8-6.1 6.9-6.1 6.8-6.1 6.8-6.1 6.9-6 6.8-6.1 6.8-6 6.8-5.9 6.9-6 6.8-5.8 6.8-5.9 6.9-5.7 6.8-5.6 6.8-5.5 6.9-5.4M342.2 708.8l6.8-4 6.8-3.9 6.9-4 6.8-4.1 6.8-4 6.9-4.1 6.8-4 6.8-4.1 6.8-4.1 6.9-4.1 6.8-4.2 6.8-4.1 6.9-4.2 6.8-4.2 6.8-4.3 6.9-4.3 6.8-4.4 6.8-4.4 6.9-4.5 6.8-4.5 6.8-4.6 6.8-4.6 6.9-4.7 6.8-4.7 6.8-4.8 6.9-4.8 6.8-4.9 6.8-4.9 6.9-5 6.8-5 6.8-5 6.8-5.1 6.9-5.1 6.8-5.2 6.8-5.1 6.9-5.2 6.8-5.3 6.8-5.2 6.9-5.3 6.8-5.4 6.8-5.3 6.8-5.4 6.9-5.4 6.8-5.4 6.8-5.4 6.9-5.5 6.8-5.4 6.8-5.5 6.9-5.5 6.8-5.6 6.8-5.5 6.9-5.6 6.8-5.6 6.8-5.5 6.8-5.7 6.9-5.6 6.8-5.6 6.8-5.7 6.9-5.6 6.8-5.7 6.8-5.7 6.9-5.7 6.8-5.8 6.8-5.7 6.8-5.8 6.9-5.8 6.8-5.7 6.8-5.9 6.9-5.8 6.8-5.8 6.8-5.9 6.9-5.8 6.8-5.9 6.8-5.9 6.9-5.9 6.8-5.9 6.8-6 6.8-5.9 6.9-5.9 6.8-6 6.8-6 6.9-5.9 6.8-6 6.8-5.9 6.9-6 6.8-6 6.8-5.9 6.8-5.9 6.9-5.9 6.8-5.9 6.8-5.9 6.9-5.8 6.8-5.7 6.8-5.8 6.9-5.6 6.8-5.6 6.8-5.5 6.9-5.4 6.8-5.2M333.4 703.5l6.8-3.8 6.9-3.9 6.8-3.8 6.8-3.9 6.8-3.8 6.9-3.9 6.8-3.9 6.8-4 6.9-3.9 6.8-4 6.8-4 6.9-4.1 6.8-4 6.8-4.2 6.9-4.1 6.8-4.3 6.8-4.3 6.8-4.3 6.9-4.4 6.8-4.4 6.8-4.5 6.9-4.6 6.8-4.6 6.8-4.7 6.9-4.7 6.8-4.7 6.8-4.9 6.8-4.8 6.9-4.9 6.8-4.9 6.8-5 6.9-5 6.8-5.1 6.8-5.1 6.9-5.1 6.8-5.2 6.8-5.2 6.9-5.2 6.8-5.2 6.8-5.3 6.8-5.3 6.9-5.3 6.8-5.4 6.8-5.3 6.9-5.4 6.8-5.4 6.8-5.5 6.9-5.4 6.8-5.5 6.8-5.5 6.8-5.5 6.9-5.5 6.8-5.5 6.8-5.6 6.9-5.6 6.8-5.5 6.8-5.6 6.9-5.7 6.8-5.6 6.8-5.6 6.9-5.7 6.8-5.7 6.8-5.6 6.8-5.7 6.9-5.7 6.8-5.7 6.8-5.8 6.9-5.7 6.8-5.8 6.8-5.7 6.9-5.8 6.8-5.8 6.8-5.8 6.8-5.8 6.9-5.8 6.8-5.8 6.8-5.9 6.9-5.8 6.8-5.8 6.8-5.9 6.9-5.8 6.8-5.9 6.8-5.8 6.9-5.8 6.8-5.8 6.8-5.8 6.8-5.8 6.9-5.8 6.8-5.8 6.8-5.7 6.9-5.7 6.8-5.6 6.8-5.6 6.9-5.6 6.8-5.5 6.8-5.4 6.8-5.4 6.9-5.2 6.8-5.2M324.6 698.1l6.9-3.6 6.8-3.7 6.8-3.7 6.8-3.6 6.9-3.7 6.8-3.8 6.8-3.7 6.9-3.7 6.8-3.8 6.8-3.9 6.9-3.9 6.8-3.9 6.8-4 6.8-4 6.9-4.1 6.8-4.1 6.8-4.2 6.9-4.3 6.8-4.3 6.8-4.3 6.9-4.5 6.8-4.5 6.8-4.5 6.9-4.6 6.8-4.7 6.8-4.7 6.8-4.7 6.9-4.8 6.8-4.8 6.8-4.9 6.9-4.9 6.8-5 6.8-5 6.9-5 6.8-5.1 6.8-5.1 6.8-5.2 6.9-5.1 6.8-5.2 6.8-5.2 6.9-5.3 6.8-5.3 6.8-5.3 6.9-5.3 6.8-5.3 6.8-5.4 6.8-5.4 6.9-5.4 6.8-5.4 6.8-5.5 6.9-5.4 6.8-5.5 6.8-5.5 6.9-5.5 6.8-5.5 6.8-5.6 6.9-5.5 6.8-5.6 6.8-5.6 6.8-5.6 6.9-5.6 6.8-5.6 6.8-5.6 6.9-5.7 6.8-5.6 6.8-5.7 6.9-5.6 6.8-5.7 6.8-5.7 6.8-5.7 6.9-5.7 6.8-5.7 6.8-5.7 6.9-5.7 6.8-5.7 6.8-5.8 6.9-5.7 6.8-5.7 6.8-5.7 6.9-5.7 6.8-5.8 6.8-5.7 6.8-5.7 6.9-5.7 6.8-5.7 6.8-5.6 6.9-5.7 6.8-5.6 6.8-5.6 6.9-5.6 6.8-5.5 6.8-5.5 6.8-5.4 6.9-5.5 6.8-5.3 6.8-5.3 6.9-5.2 6.8-5.2 6.8-5M315.8 692.8l6.9-3.5 6.8-3.5 6.8-3.5 6.9-3.5 6.8-3.5 6.8-3.5 6.9-3.6 6.8-3.6 6.8-3.6 6.8-3.7 6.9-3.7 6.8-3.8 6.8-3.9 6.9-3.9 6.8-4 6.8-4 6.9-4.2 6.8-4.1 6.8-4.3 6.9-4.3 6.8-4.3 6.8-4.4 6.8-4.5 6.9-4.6 6.8-4.5 6.8-4.7 6.9-4.7 6.8-4.7 6.8-4.8 6.9-4.8 6.8-4.9 6.8-4.9 6.8-4.9 6.9-5 6.8-5 6.8-5.1 6.9-5.1 6.8-5.1 6.8-5.1 6.9-5.2 6.8-5.2 6.8-5.2 6.9-5.3 6.8-5.2 6.8-5.3 6.8-5.4 6.9-5.3 6.8-5.4 6.8-5.3 6.9-5.4 6.8-5.5 6.8-5.4 6.9-5.4 6.8-5.5 6.8-5.5 6.8-5.5 6.9-5.5 6.8-5.5 6.8-5.6 6.9-5.5 6.8-5.6 6.8-5.5 6.9-5.6 6.8-5.6 6.8-5.6 6.9-5.5 6.8-5.6 6.8-5.6 6.8-5.7 6.9-5.6 6.8-5.6 6.8-5.6 6.9-5.6 6.8-5.7 6.8-5.6 6.9-5.6 6.8-5.6 6.8-5.6 6.8-5.6 6.9-5.7 6.8-5.5 6.8-5.6 6.9-5.6 6.8-5.6 6.8-5.5 6.9-5.5 6.8-5.5 6.8-5.5 6.9-5.4 6.8-5.5 6.8-5.3 6.8-5.4 6.9-5.3 6.8-5.2 6.8-5.2 6.9-5.2 6.8-5.1 6.8-5.1 6.9-4.9M307.1 687.5l6.8-3.4 6.8-3.3 6.9-3.3 6.8-3.3 6.8-3.4 6.9-3.3 6.8-3.4 6.8-3.4 6.8-3.5 6.9-3.5 6.8-3.6 6.8-3.6 6.9-3.8 6.8-3.8 6.8-3.9 6.9-3.9 6.8-4 6.8-4.1 6.8-4.2 6.9-4.2 6.8-4.3 6.8-4.4 6.9-4.4 6.8-4.4 6.8-4.6 6.9-4.5 6.8-4.7 6.8-4.6 6.8-4.8 6.9-4.7 6.8-4.8 6.8-4.9 6.9-4.9 6.8-4.9 6.8-5 6.9-5 6.8-5 6.8-5.1 6.9-5.1 6.8-5.1 6.8-5.1 6.8-5.2 6.9-5.2 6.8-5.2 6.8-5.3 6.9-5.2 6.8-5.3 6.8-5.3 6.9-5.4 6.8-5.3 6.8-5.4 6.8-5.4 6.9-5.4 6.8-5.4 6.8-5.5 6.9-5.4 6.8-5.5 6.8-5.4 6.9-5.5 6.8-5.5 6.8-5.5 6.9-5.5 6.8-5.5 6.8-5.6 6.8-5.5 6.9-5.5 6.8-5.5 6.8-5.6 6.9-5.5 6.8-5.5 6.8-5.6 6.9-5.5 6.8-5.5 6.8-5.6 6.8-5.5 6.9-5.5 6.8-5.5 6.8-5.5 6.9-5.5 6.8-5.5 6.8-5.5 6.9-5.5 6.8-5.4 6.8-5.4 6.9-5.4 6.8-5.4 6.8-5.4 6.8-5.3 6.9-5.3 6.8-5.3 6.8-5.2 6.9-5.2 6.8-5.1 6.8-5.1 6.9-5.1 6.8-5 6.8-5 6.8-4.9 6.9-4.8M298.3 682.2l6.8-3.2 6.9-3.2 6.8-3.1 6.8-3.1 6.8-3.2 6.9-3.1 6.8-3.2 6.8-3.3 6.9-3.3 6.8-3.3 6.8-3.5 6.9-3.5 6.8-3.6 6.8-3.7 6.8-3.8 6.9-3.9 6.8-3.9 6.8-4 6.9-4.1 6.8-4.1 6.8-4.3 6.9-4.2 6.8-4.4 6.8-4.4 6.9-4.4 6.8-4.6 6.8-4.5 6.8-4.7 6.9-4.6 6.8-4.7 6.8-4.8 6.9-4.8 6.8-4.8 6.8-4.9 6.9-4.9 6.8-4.9 6.8-5 6.8-5 6.9-5.1 6.8-5 6.8-5.1 6.9-5.1 6.8-5.2 6.8-5.1 6.9-5.2 6.8-5.3 6.8-5.2 6.9-5.3 6.8-5.3 6.8-5.3 6.8-5.3 6.9-5.3 6.8-5.4 6.8-5.4 6.9-5.3 6.8-5.4 6.8-5.5 6.9-5.4 6.8-5.4 6.8-5.4 6.8-5.5 6.9-5.4 6.8-5.5 6.8-5.5 6.9-5.4 6.8-5.5 6.8-5.4 6.9-5.5 6.8-5.4 6.8-5.5 6.9-5.5 6.8-5.4 6.8-5.5 6.8-5.4 6.9-5.4 6.8-5.4 6.8-5.5 6.9-5.4 6.8-5.3 6.8-5.4 6.9-5.4 6.8-5.3 6.8-5.3 6.8-5.3 6.9-5.3 6.8-5.2 6.8-5.3 6.9-5.1 6.8-5.2 6.8-5.1 6.9-5.1 6.8-5 6.8-5 6.8-5 6.9-4.9 6.8-4.9 6.8-4.8 6.9-4.8 6.8-4.7M289.5 676.9l6.8-3 6.9-3 6.8-3 6.8-3 6.9-2.9 6.8-3 6.8-3 6.9-3.1 6.8-3.1 6.8-3.2 6.8-3.3 6.9-3.4 6.8-3.5 6.8-3.5 6.9-3.7 6.8-3.8 6.8-3.8 6.9-3.9 6.8-4.1 6.8-4 6.9-4.2 6.8-4.2 6.8-4.3 6.8-4.3 6.9-4.4 6.8-4.5 6.8-4.5 6.9-4.5 6.8-4.7 6.8-4.6 6.9-4.7 6.8-4.7 6.8-4.8 6.8-4.8 6.9-4.9 6.8-4.9 6.8-4.9 6.9-4.9 6.8-5 6.8-5 6.9-5.1 6.8-5 6.8-5.1 6.9-5.1 6.8-5.2 6.8-5.1 6.8-5.2 6.9-5.2 6.8-5.3 6.8-5.2 6.9-5.3 6.8-5.3 6.8-5.3 6.9-5.3 6.8-5.4 6.8-5.3 6.8-5.4 6.9-5.3 6.8-5.4 6.8-5.4 6.9-5.4 6.8-5.4 6.8-5.4 6.9-5.4 6.8-5.4 6.8-5.4 6.9-5.4 6.8-5.3 6.8-5.4 6.8-5.4 6.9-5.4 6.8-5.3 6.8-5.4 6.9-5.3 6.8-5.4 6.8-5.3 6.9-5.3 6.8-5.3 6.8-5.3 6.8-5.3 6.9-5.2 6.8-5.2 6.8-5.2 6.9-5.2 6.8-5.1 6.8-5.2 6.9-5 6.8-5.1 6.8-5 6.9-5 6.8-4.9 6.8-4.9 6.8-4.9 6.9-4.8 6.8-4.8 6.8-4.7 6.9-4.7 6.8-4.7 6.8-4.7M280.7 671.7l6.9-2.9 6.8-2.9 6.8-2.8 6.9-2.8 6.8-2.8 6.8-2.8 6.9-2.8 6.8-2.9 6.8-2.9 6.8-3 6.9-3.2 6.8-3.2 6.8-3.4 6.9-3.5 6.8-3.6 6.8-3.6 6.9-3.8 6.8-3.8 6.8-3.9 6.8-4 6.9-4.1 6.8-4.1 6.8-4.3 6.9-4.2 6.8-4.4 6.8-4.4 6.9-4.4 6.8-4.5 6.8-4.6 6.9-4.6 6.8-4.6 6.8-4.7 6.8-4.7 6.9-4.8 6.8-4.8 6.8-4.8 6.9-4.9 6.8-4.8 6.8-5 6.9-4.9 6.8-5 6.8-5 6.8-5 6.9-5.1 6.8-5.1 6.8-5.1 6.9-5.1 6.8-5.2 6.8-5.2 6.9-5.2 6.8-5.2 6.8-5.2 6.9-5.3 6.8-5.3 6.8-5.3 6.8-5.3 6.9-5.3 6.8-5.3 6.8-5.3 6.9-5.3 6.8-5.4 6.8-5.3 6.9-5.3 6.8-5.4 6.8-5.3 6.8-5.3 6.9-5.3 6.8-5.4 6.8-5.3 6.9-5.3 6.8-5.2 6.8-5.3 6.9-5.3 6.8-5.3 6.8-5.2 6.8-5.2 6.9-5.2 6.8-5.2 6.8-5.2 6.9-5.2 6.8-5.1 6.8-5.1 6.9-5.1 6.8-5.1 6.8-5 6.9-5 6.8-4.9 6.8-5 6.8-4.8 6.9-4.9 6.8-4.8 6.8-4.8 6.9-4.7 6.8-4.7 6.8-4.7 6.9-4.6 6.8-4.6 6.8-4.6 6.8-4.7M272 666.4l6.8-2.7 6.8-2.7 6.9-2.7 6.8-2.6 6.8-2.6 6.8-2.6 6.9-2.7 6.8-2.7 6.8-2.8 6.9-2.9 6.8-2.9 6.8-3.2 6.9-3.2 6.8-3.4 6.8-3.4 6.8-3.6 6.9-3.6 6.8-3.8 6.8-3.8 6.9-3.9 6.8-4 6.8-4.1 6.9-4.2 6.8-4.2 6.8-4.3 6.9-4.3 6.8-4.4 6.8-4.4 6.8-4.5 6.9-4.6 6.8-4.6 6.8-4.6 6.9-4.6 6.8-4.7 6.8-4.8 6.9-4.7 6.8-4.8 6.8-4.9 6.8-4.8 6.9-4.9 6.8-4.9 6.8-5 6.9-4.9 6.8-5 6.8-5.1 6.9-5 6.8-5.1 6.8-5.1 6.9-5.1 6.8-5.2 6.8-5.1 6.8-5.2 6.9-5.2 6.8-5.3 6.8-5.2 6.9-5.3 6.8-5.2 6.8-5.3 6.9-5.3 6.8-5.3 6.8-5.2 6.8-5.3 6.9-5.3 6.8-5.2 6.8-5.3 6.9-5.3 6.8-5.2 6.8-5.3 6.9-5.2 6.8-5.2 6.8-5.2 6.9-5.2 6.8-5.2 6.8-5.2 6.8-5.1 6.9-5.2 6.8-5.1 6.8-5.1 6.9-5.1 6.8-5 6.8-5.1 6.9-5 6.8-4.9 6.8-5 6.8-4.9 6.9-4.9 6.8-4.8 6.8-4.8 6.9-4.8 6.8-4.7 6.8-4.7 6.9-4.7 6.8-4.6 6.8-4.6 6.9-4.5 6.8-4.5 6.8-4.6 6.8-4.5 6.9-4.5M263.2 661.2l6.8-2.6 6.8-2.6 6.9-2.5 6.8-2.4 6.8-2.5 6.9-2.5 6.8-2.5 6.8-2.5 6.9-2.7 6.8-2.7 6.8-2.8 6.9-3 6.8-3.1 6.8-3.2 6.8-3.3 6.9-3.5 6.8-3.5 6.8-3.7 6.9-3.8 6.8-3.8 6.8-3.9 6.9-4 6.8-4.1 6.8-4.2 6.8-4.2 6.9-4.3 6.8-4.3 6.8-4.4 6.9-4.4 6.8-4.5 6.8-4.5 6.9-4.6 6.8-4.6 6.8-4.6 6.9-4.7 6.8-4.7 6.8-4.7 6.8-4.8 6.9-4.8 6.8-4.8 6.8-4.9 6.9-4.9 6.8-4.9 6.8-4.9 6.9-5 6.8-5 6.8-5 6.8-5 6.9-5.1 6.8-5.1 6.8-5.1 6.9-5.1 6.8-5.2 6.8-5.2 6.9-5.2 6.8-5.2 6.8-5.2 6.8-5.2 6.9-5.2 6.8-5.3 6.8-5.2 6.9-5.2 6.8-5.2 6.8-5.2 6.9-5.2 6.8-5.2 6.8-5.2 6.9-5.2 6.8-5.1 6.8-5.1 6.8-5.2 6.9-5.1 6.8-5.1 6.8-5.1 6.9-5 6.8-5.1 6.8-5 6.9-5 6.8-5 6.8-5 6.8-4.9 6.9-5 6.8-4.8 6.8-4.9 6.9-4.8 6.8-4.8 6.8-4.7 6.9-4.7 6.8-4.7 6.8-4.6 6.9-4.6 6.8-4.5 6.8-4.5 6.8-4.5 6.9-4.5 6.8-4.4 6.8-4.4 6.9-4.4 6.8-4.5M254.4 656l6.8-2.5 6.9-2.4 6.8-2.3 6.8-2.4 6.9-2.3 6.8-2.3 6.8-2.4 6.9-2.4 6.8-2.5 6.8-2.6 6.8-2.7 6.9-2.8 6.8-2.9 6.8-3.1 6.9-3.2 6.8-3.3 6.8-3.5 6.9-3.6 6.8-3.6 6.8-3.8 6.8-3.9 6.9-3.9 6.8-4 6.8-4.1 6.9-4.2 6.8-4.2 6.8-4.3 6.9-4.3 6.8-4.4 6.8-4.4 6.9-4.5 6.8-4.5 6.8-4.5 6.8-4.6 6.9-4.6 6.8-4.6 6.8-4.7 6.9-4.7 6.8-4.7 6.8-4.8 6.9-4.8 6.8-4.8 6.8-4.8 6.8-4.9 6.9-4.9 6.8-4.9 6.8-5 6.9-5 6.8-5 6.8-5 6.9-5.1 6.8-5.1 6.8-5.1 6.9-5.1 6.8-5.1 6.8-5.2 6.8-5.2 6.9-5.1 6.8-5.2 6.8-5.2 6.9-5.2 6.8-5.1 6.8-5.2 6.9-5.1 6.8-5.2 6.8-5.1 6.8-5.1 6.9-5.1 6.8-5.1 6.8-5 6.9-5.1 6.8-5 6.8-5 6.9-5 6.8-5 6.8-5 6.9-4.9 6.8-5 6.8-4.9 6.8-4.9 6.9-4.8 6.8-4.9 6.8-4.8 6.9-4.7 6.8-4.8 6.8-4.6 6.9-4.7 6.8-4.6 6.8-4.6 6.8-4.5 6.9-4.5 6.8-4.4 6.8-4.4 6.9-4.4 6.8-4.4 6.8-4.3 6.9-4.3 6.8-4.4 6.8-4.3M245.6 650.8l6.9-2.3 6.8-2.3 6.8-2.2 6.9-2.2 6.8-2.1 6.8-2.2 6.8-2.2 6.9-2.3 6.8-2.4 6.8-2.4 6.9-2.6 6.8-2.7 6.8-2.8 6.9-2.9 6.8-3.1 6.8-3.3 6.9-3.3 6.8-3.5 6.8-3.6 6.8-3.7 6.9-3.8 6.8-3.9 6.8-3.9 6.9-4.1 6.8-4.1 6.8-4.1 6.9-4.2 6.8-4.3 6.8-4.3 6.8-4.4 6.9-4.4 6.8-4.4 6.8-4.5 6.9-4.5 6.8-4.5 6.8-4.6 6.9-4.6 6.8-4.6 6.8-4.7 6.9-4.7 6.8-4.7 6.8-4.7 6.8-4.8 6.9-4.8 6.8-4.8 6.8-4.9 6.9-4.9 6.8-4.9 6.8-5 6.9-5 6.8-5 6.8-5 6.8-5.1 6.9-5 6.8-5.1 6.8-5.2 6.9-5.1 6.8-5.1 6.8-5.1 6.9-5.2 6.8-5.1 6.8-5.1 6.8-5.1 6.9-5.1 6.8-5.1 6.8-5 6.9-5 6.8-5.1 6.8-5 6.9-5 6.8-4.9 6.8-5 6.9-4.9 6.8-4.9 6.8-5 6.8-4.8 6.9-4.9 6.8-4.9 6.8-4.8 6.9-4.8 6.8-4.8 6.8-4.8 6.9-4.7 6.8-4.7 6.8-4.6 6.8-4.7 6.9-4.5 6.8-4.6 6.8-4.5 6.9-4.4 6.8-4.4 6.8-4.3 6.9-4.4 6.8-4.3 6.8-4.2 6.9-4.3 6.8-4.2 6.8-4.3 6.8-4.3M236.9 645.7l6.8-2.2 6.8-2.2 6.8-2 6.9-2.1 6.8-2 6.8-2 6.9-2.1 6.8-2.2 6.8-2.2 6.9-2.3 6.8-2.4 6.8-2.6 6.9-2.7 6.8-2.8 6.8-3 6.8-3.1 6.9-3.3 6.8-3.4 6.8-3.5 6.9-3.7 6.8-3.7 6.8-3.8 6.9-3.9 6.8-4 6.8-4.1 6.8-4.1 6.9-4.1 6.8-4.2 6.8-4.3 6.9-4.2 6.8-4.4 6.8-4.3 6.9-4.5 6.8-4.4 6.8-4.5 6.9-4.5 6.8-4.5 6.8-4.6 6.8-4.5 6.9-4.7 6.8-4.6 6.8-4.7 6.9-4.7 6.8-4.7 6.8-4.8 6.9-4.7 6.8-4.9 6.8-4.8 6.8-4.9 6.9-4.9 6.8-5 6.8-5 6.9-5 6.8-5 6.8-5.1 6.9-5.1 6.8-5 6.8-5.1 6.9-5.1 6.8-5.1 6.8-5.1 6.8-5 6.9-5.1 6.8-5 6.8-5 6.9-5 6.8-5 6.8-4.9 6.9-4.9 6.8-4.9 6.8-4.9 6.8-4.9 6.9-4.9 6.8-4.8 6.8-4.9 6.9-4.8 6.8-4.8 6.8-4.8 6.9-4.8 6.8-4.7 6.8-4.7 6.9-4.7 6.8-4.7 6.8-4.6 6.8-4.6 6.9-4.6 6.8-4.5 6.8-4.4 6.9-4.5 6.8-4.3 6.8-4.4 6.9-4.3 6.8-4.2 6.8-4.2 6.8-4.2 6.9-4.1 6.8-4.2 6.8-4.2 6.9-4.2M228.1 640.6l6.8-2.1 6.8-2 6.9-1.9 6.8-1.9 6.8-1.9 6.9-1.9 6.8-2 6.8-2 6.9-2.1 6.8-2.2 6.8-2.3 6.8-2.4 6.9-2.6 6.8-2.7 6.8-2.9 6.9-3.1 6.8-3.2 6.8-3.3 6.9-3.5 6.8-3.6 6.8-3.6 6.9-3.8 6.8-3.8 6.8-4 6.8-3.9 6.9-4.1 6.8-4.1 6.8-4.1 6.9-4.2 6.8-4.2 6.8-4.3 6.9-4.3 6.8-4.3 6.8-4.4 6.8-4.4 6.9-4.4 6.8-4.5 6.8-4.5 6.9-4.5 6.8-4.5 6.8-4.6 6.9-4.6 6.8-4.6 6.8-4.7 6.8-4.6 6.9-4.7 6.8-4.8 6.8-4.8 6.9-4.8 6.8-4.9 6.8-4.9 6.9-4.9 6.8-5 6.8-5 6.9-5 6.8-5 6.8-5.1 6.8-5 6.9-5.1 6.8-5 6.8-5 6.9-5.1 6.8-4.9 6.8-5 6.9-5 6.8-4.9 6.8-4.9 6.8-4.8 6.9-4.9 6.8-4.8 6.8-4.8 6.9-4.8 6.8-4.8 6.8-4.8 6.9-4.8 6.8-4.7 6.8-4.8 6.9-4.7 6.8-4.7 6.8-4.7 6.8-4.7 6.9-4.6 6.8-4.6 6.8-4.6 6.9-4.6 6.8-4.5 6.8-4.4 6.9-4.5 6.8-4.3 6.8-4.4 6.8-4.2 6.9-4.3 6.8-4.1 6.8-4.2 6.9-4 6.8-4.1 6.8-4.1 6.9-4 6.8-4.2M219.3 635.5l6.8-2 6.9-1.8 6.8-1.8 6.8-1.7 6.9-1.8 6.8-1.8 6.8-1.8 6.8-1.9 6.9-2.1 6.8-2.1 6.8-2.2 6.9-2.3 6.8-2.5 6.8-2.6 6.9-2.8 6.8-3 6.8-3.1 6.9-3.3 6.8-3.4 6.8-3.5 6.8-3.6 6.9-3.7 6.8-3.8 6.8-3.8 6.9-4 6.8-3.9 6.8-4.1 6.9-4 6.8-4.1 6.8-4.2 6.8-4.2 6.9-4.2 6.8-4.3 6.8-4.3 6.9-4.3 6.8-4.4 6.8-4.3 6.9-4.5 6.8-4.4 6.8-4.5 6.9-4.5 6.8-4.5 6.8-4.5 6.8-4.6 6.9-4.6 6.8-4.6 6.8-4.7 6.9-4.7 6.8-4.8 6.8-4.8 6.9-4.8 6.8-4.9 6.8-4.9 6.8-5 6.9-5 6.8-5 6.8-5 6.9-5 6.8-5 6.8-5 6.9-5 6.8-5 6.8-4.9 6.9-4.9 6.8-4.9 6.8-4.8 6.8-4.9 6.9-4.8 6.8-4.7 6.8-4.8 6.9-4.7 6.8-4.8 6.8-4.7 6.9-4.7 6.8-4.7 6.8-4.7 6.8-4.7 6.9-4.7 6.8-4.6 6.8-4.7 6.9-4.6 6.8-4.6 6.8-4.5 6.9-4.6 6.8-4.5 6.8-4.5 6.9-4.4 6.8-4.4 6.8-4.4 6.8-4.3 6.9-4.2 6.8-4.2 6.8-4.1 6.9-4.1 6.8-4 6.8-4 6.9-3.9 6.8-4 6.8-4M210.5 630.4l6.9-1.8 6.8-1.7 6.8-1.6 6.9-1.6 6.8-1.6 6.8-1.7 6.8-1.7 6.9-1.9 6.8-1.9 6.8-2.1 6.9-2.2 6.8-2.2 6.8-2.4 6.9-2.6 6.8-2.7 6.8-2.8 6.8-3 6.9-3.2 6.8-3.3 6.8-3.5 6.9-3.6 6.8-3.6 6.8-3.8 6.9-3.8 6.8-3.8 6.8-3.9 6.8-4 6.9-4 6.8-4 6.8-4.1 6.9-4.1 6.8-4.2 6.8-4.2 6.9-4.2 6.8-4.2 6.8-4.3 6.9-4.3 6.8-4.4 6.8-4.3 6.8-4.4 6.9-4.4 6.8-4.5 6.8-4.4 6.9-4.5 6.8-4.6 6.8-4.5 6.9-4.6 6.8-4.6 6.8-4.7 6.8-4.8 6.9-4.8 6.8-4.8 6.8-4.9 6.9-4.9 6.8-4.9 6.8-5 6.9-5 6.8-5 6.8-5 6.9-4.9 6.8-5 6.8-4.9 6.8-4.9 6.9-4.8 6.8-4.9 6.8-4.7 6.9-4.8 6.8-4.7 6.8-4.7 6.9-4.7 6.8-4.6 6.8-4.7 6.8-4.6 6.9-4.7 6.8-4.6 6.8-4.7 6.9-4.6 6.8-4.6 6.8-4.7 6.9-4.6 6.8-4.5 6.8-4.6 6.9-4.5 6.8-4.6 6.8-4.4 6.8-4.5 6.9-4.4 6.8-4.4 6.8-4.4 6.9-4.3 6.8-4.2 6.8-4.2 6.9-4 6.8-4.1 6.8-3.9 6.8-3.9 6.9-3.9 6.8-3.8 6.8-4M201.8 625.3l6.8-1.6 6.8-1.5 6.8-1.4 6.9-1.4 6.8-1.5 6.8-1.6 6.9-1.7 6.8-1.8 6.8-2 6.9-2 6.8-2.1 6.8-2.3 6.8-2.3 6.9-2.5 6.8-2.5 6.8-2.8 6.9-2.9 6.8-3.1 6.8-3.3 6.9-3.4 6.8-3.5 6.8-3.6 6.9-3.7 6.8-3.8 6.8-3.7 6.8-3.9 6.9-3.9 6.8-3.9 6.8-3.9 6.9-4 6.8-4.1 6.8-4.1 6.9-4.1 6.8-4.1 6.8-4.2 6.8-4.2 6.9-4.3 6.8-4.2 6.8-4.3 6.9-4.3 6.8-4.4 6.8-4.3 6.9-4.4 6.8-4.4 6.8-4.4 6.9-4.5 6.8-4.5 6.8-4.6 6.8-4.6 6.9-4.6 6.8-4.8 6.8-4.8 6.9-4.8 6.8-4.9 6.8-4.9 6.9-5 6.8-4.9 6.8-5 6.8-4.9 6.9-5 6.8-4.9 6.8-4.8 6.9-4.9 6.8-4.8 6.8-4.7 6.9-4.7 6.8-4.7 6.8-4.6 6.9-4.7 6.8-4.5 6.8-4.6 6.8-4.6 6.9-4.6 6.8-4.6 6.8-4.6 6.9-4.6 6.8-4.6 6.8-4.6 6.9-4.6 6.8-4.5 6.8-4.6 6.8-4.5 6.9-4.5 6.8-4.5 6.8-4.5 6.9-4.4 6.8-4.4 6.8-4.4 6.9-4.4 6.8-4.3 6.8-4.3 6.8-4.1 6.9-4.1 6.8-4 6.8-4 6.9-3.8 6.8-3.8 6.8-3.7 6.9-3.8M193 620.3l6.8-1.5 6.8-1.2 6.9-1.2 6.8-1.3 6.8-1.4 6.9-1.5 6.8-1.7 6.8-1.8 6.8-1.9 6.9-2.1 6.8-2.1 6.8-2.2 6.9-2.3 6.8-2.4 6.8-2.4 6.9-2.6 6.8-2.8 6.8-3 6.9-3.3 6.8-3.4 6.8-3.6 6.8-3.5 6.9-3.6 6.8-3.7 6.8-3.7 6.9-3.7 6.8-3.8 6.8-3.9 6.9-3.9 6.8-3.9 6.8-4 6.8-4 6.9-4 6.8-4.1 6.8-4.1 6.9-4.1 6.8-4.2 6.8-4.2 6.9-4.2 6.8-4.2 6.8-4.3 6.9-4.3 6.8-4.3 6.8-4.3 6.8-4.4 6.9-4.4 6.8-4.4 6.8-4.4 6.9-4.6 6.8-4.6 6.8-4.7 6.9-4.7 6.8-4.8 6.8-4.8 6.8-4.9 6.9-4.9 6.8-5 6.8-4.9 6.9-4.9 6.8-4.9 6.8-4.9 6.9-4.8 6.8-4.8 6.8-4.7 6.9-4.7 6.8-4.6 6.8-4.6 6.8-4.6 6.9-4.5 6.8-4.6 6.8-4.5 6.9-4.5 6.8-4.5 6.8-4.6 6.9-4.5 6.8-4.6 6.8-4.5 6.8-4.6 6.9-4.5 6.8-4.6 6.8-4.5 6.9-4.5 6.8-4.5 6.8-4.4 6.9-4.5 6.8-4.4 6.8-4.5 6.9-4.4 6.8-4.3 6.8-4.4 6.8-4.3 6.9-4.2 6.8-4.1 6.8-4 6.9-4 6.8-3.8 6.8-3.7 6.9-3.6 6.8-3.7M184.2 615.5l6.8-1.3 6.9-1 6.8-1 6.8-1.3 6.9-1.3 6.8-1.6 6.8-1.6 6.8-1.9 6.9-1.9 6.8-2 6.8-2.2 6.9-2.1 6.8-2.3 6.8-2.3 6.9-2.4 6.8-2.5 6.8-2.6 6.8-3 6.9-3.2 6.8-3.5 6.8-3.4 6.9-3.5 6.8-3.6 6.8-3.5 6.9-3.7 6.8-3.6 6.8-3.8 6.9-3.7 6.8-3.8 6.8-3.9 6.8-3.9 6.9-3.9 6.8-4 6.8-4 6.9-4 6.8-4 6.8-4.1 6.9-4.2 6.8-4.1 6.8-4.2 6.8-4.2 6.9-4.2 6.8-4.2 6.8-4.3 6.9-4.3 6.8-4.3 6.8-4.3 6.9-4.4 6.8-4.4 6.8-4.6 6.9-4.6 6.8-4.7 6.8-4.8 6.8-4.8 6.9-4.8 6.8-4.8 6.8-4.9 6.9-4.9 6.8-4.9 6.8-4.8 6.9-4.8 6.8-4.8 6.8-4.8 6.8-4.7 6.9-4.6 6.8-4.6 6.8-4.5 6.9-4.5 6.8-4.4 6.8-4.5 6.9-4.5 6.8-4.4 6.8-4.5 6.8-4.5 6.9-4.5 6.8-4.5 6.8-4.6 6.9-4.5 6.8-4.5 6.8-4.5 6.9-4.5 6.8-4.5 6.8-4.4 6.9-4.5 6.8-4.4 6.8-4.4 6.8-4.4 6.9-4.5 6.8-4.3 6.8-4.4 6.9-4.3 6.8-4.2 6.8-4.2 6.9-4.1 6.8-3.9 6.8-3.9 6.8-3.8 6.9-3.6 6.8-3.6M702 974.5l-8.8-5.8-8.8-5.4-8.7-5.4-8.8-5.4-8.8-5.5-8.8-5.5-8.7-5.7-8.8-6.2-8.8-6.6-8.8-7-8.7-7.2-8.8-7.6-8.8-7.7-8.8-7.8-8.7-7.9-8.8-7.7-8.8-7.1-8.8-7.2-8.7-7.2-8.8-7.3-8.8-7.3-8.8-7.4-8.8-7.3-8.7-7.3-8.8-7.2-8.8-7.1-8.8-7-8.7-6.8-8.8-6.6-8.8-6.4-8.8-6.2-8.7-6-8.8-5.9-8.8-5.7-8.8-5.7-8.7-5.5-8.8-5.5-8.8-5.5-8.8-5.4-8.8-5.4-8.7-5.3-8.8-5.3-8.8-5.4-8.8-5.3-8.7-5.3-8.8-5.3-8.8-5.3-8.8-5.2-8.7-5.3-8.8-5.2-8.8-5.2-8.8-5.2-8.7-5.1-8.8-5.1-8.8-5.1-8.8-5.1-8.7-5.1-8.8-5-8.8-4.8M708.8 970l-8.7-5.9-8.8-5.6-8.8-5.4-8.8-5.5-8.8-5.5-8.7-5.6-8.8-5.8-8.8-6.2-8.8-6.6-8.7-7-8.8-7.3-8.8-7.7-8.8-8-8.7-8.3-8.8-8.3-8.8-7.6-8.8-6.9-8.7-7-8.8-7-8.8-7.2-8.8-7.2-8.7-7.3-8.8-7.2-8.8-7.2-8.8-7.2-8.8-7-8.7-6.9-8.8-6.8-8.8-6.5-8.8-6.4-8.7-6.1-8.8-5.9-8.8-5.8-8.8-5.7-8.7-5.6-8.8-5.5-8.8-5.4-8.8-5.3-8.7-5.3-8.8-5.2-8.8-5.3-8.8-5.1-8.7-5.2-8.8-5.2-8.8-5.2-8.8-5.1-8.8-5.1-8.7-5.1-8.8-5.1-8.8-5.1-8.8-5.1-8.7-5-8.8-5-8.8-5-8.8-5-8.7-4.9-8.8-4.9-8.8-4.9-8.8-4.6M715.7 965.6l-8.8-6.1-8.8-5.7-8.8-5.6-8.7-5.5-8.8-5.6-8.8-5.7-8.8-5.8-8.7-6.3-8.8-6.6-8.8-7-8.8-7.3-8.8-7.8-8.7-8.3-8.8-8.6-8.8-8.8-8.8-7.5-8.7-6.8-8.8-6.8-8.8-6.9-8.8-7.1-8.7-7.1-8.8-7.1-8.8-7.2-8.8-7.1-8.7-7.1-8.8-6.9-8.8-6.9-8.8-6.7-8.8-6.5-8.7-6.2-8.8-6.1-8.8-5.9-8.8-5.7-8.7-5.6-8.8-5.5-8.8-5.4-8.8-5.3-8.7-5.3-8.8-5.1-8.8-5.2-8.8-5-8.7-5.1-8.8-5-8.8-5-8.8-5-8.7-5-8.8-4.9-8.8-5-8.8-4.9-8.8-5-8.7-4.9-8.8-4.9-8.8-4.9-8.8-4.8-8.7-4.8-8.8-4.8-8.8-4.7-8.8-4.6-8.7-4.4M722.5 961.3l-8.8-6.3-8.8-5.9-8.7-5.7-8.8-5.7-8.8-5.7-8.8-5.8-8.7-5.9-8.8-6.3-8.8-6.5-8.8-7-8.7-7.4-8.8-7.8-8.8-8.4-8.8-8.9-8.8-8.9-8.7-7.7-8.8-6.8-8.8-6.7-8.8-6.9-8.7-6.9-8.8-7.1-8.8-7-8.8-7.1-8.7-7-8.8-7-8.8-6.9-8.8-6.8-8.7-6.6-8.8-6.4-8.8-6.2-8.8-6-8.7-5.9-8.8-5.6-8.8-5.6-8.8-5.4-8.8-5.3-8.7-5.2-8.8-5.2-8.8-5-8.8-5-8.7-4.9-8.8-4.9-8.8-4.9-8.8-4.8-8.7-4.8-8.8-4.8-8.8-4.8-8.8-4.8-8.7-4.8-8.8-4.8-8.8-4.7-8.8-4.8-8.8-4.7-8.7-4.7-8.8-4.7-8.8-4.6-8.8-4.5-8.7-4.4-8.8-4.2M729.3 956.9l-8.8-6.4-8.7-6.1-8.8-5.9-8.8-5.8-8.8-5.8-8.7-5.9-8.8-6-8.8-6.3-8.8-6.6-8.7-6.9-8.8-7.3-8.8-7.9-8.8-8.5-8.7-9-8.8-8.8-8.8-7.8-8.8-7.1-8.8-6.8-8.7-6.8-8.8-6.9-8.8-7-8.8-7-8.7-7-8.8-6.9-8.8-6.9-8.8-6.8-8.7-6.7-8.8-6.5-8.8-6.4-8.8-6.1-8.7-6-8.8-5.8-8.8-5.6-8.8-5.4-8.7-5.4-8.8-5.2-8.8-5.2-8.8-5-8.8-4.9-8.7-4.9-8.8-4.8-8.8-4.7-8.8-4.6-8.7-4.7-8.8-4.6-8.8-4.6-8.8-4.7-8.7-4.6-8.8-4.6-8.8-4.6-8.8-4.7-8.7-4.6-8.8-4.6-8.8-4.5-8.8-4.5-8.7-4.5-8.8-4.3-8.8-4.3-8.8-4.2M736.2 952.5l-8.8-6.5-8.8-6.3-8.8-6-8.8-6-8.7-6-8.8-6-8.8-6.2-8.8-6.3-8.7-6.6-8.8-6.8-8.8-7.3-8.8-7.7-8.7-8.5-8.8-9-8.8-8.8-8.8-8-8.7-7.3-8.8-6.9-8.8-6.9-8.8-6.9-8.7-6.9-8.8-6.9-8.8-6.9-8.8-6.9-8.8-6.8-8.7-6.7-8.8-6.6-8.8-6.4-8.8-6.3-8.7-6.2-8.8-5.9-8.8-5.7-8.8-5.5-8.7-5.4-8.8-5.3-8.8-5.2-8.8-5-8.7-4.9-8.8-4.9-8.8-4.7-8.8-4.6-8.8-4.5-8.7-4.5-8.8-4.5-8.8-4.5-8.8-4.4-8.7-4.4-8.8-4.5-8.8-4.4-8.8-4.5-8.7-4.5-8.8-4.4-8.8-4.5-8.8-4.4-8.7-4.4-8.8-4.3-8.8-4.2-8.8-4.2-8.7-4.1M743 948.1l-8.8-6.7-8.8-6.4-8.7-6.2-8.8-6.2-8.8-6.2-8.8-6.1-8.8-6.3-8.7-6.4-8.8-6.5-8.8-6.9-8.8-7.2-8.7-7.6-8.8-8.5-8.8-8.9-8.8-8.8-8.7-8.1-8.8-7.4-8.8-7.1-8.8-7-8.7-6.8-8.8-6.9-8.8-6.9-8.8-6.8-8.7-6.8-8.8-6.7-8.8-6.6-8.8-6.5-8.8-6.4-8.7-6.3-8.8-6-8.8-5.9-8.8-5.6-8.7-5.5-8.8-5.3-8.8-5.2-8.8-5.1-8.7-5-8.8-4.8-8.8-4.7-8.8-4.6-8.7-4.5-8.8-4.3-8.8-4.4-8.8-4.2-8.7-4.3-8.8-4.2-8.8-4.3-8.8-4.3-8.8-4.2-8.7-4.4-8.8-4.3-8.8-4.3-8.8-4.3-8.7-4.3-8.8-4.3-8.8-4.2-8.8-4.1-8.7-4.1-8.8-4.2M749.8 943.7l-8.8-6.8-8.7-6.6-8.8-6.4-8.8-6.4-8.8-6.4-8.7-6.3-8.8-6.3-8.8-6.5-8.8-6.6-8.7-6.9-8.8-7.1-8.8-7.6-8.8-8.4-8.8-8.8-8.7-8.7-8.8-8.1-8.8-7.6-8.8-7.3-8.7-7-8.8-6.9-8.8-6.8-8.8-6.8-8.7-6.8-8.8-6.7-8.8-6.6-8.8-6.5-8.7-6.5-8.8-6.3-8.8-6.2-8.8-6-8.8-5.8-8.7-5.6-8.8-5.4-8.8-5.3-8.8-5.1-8.7-5-8.8-4.8-8.8-4.8-8.8-4.6-8.7-4.5-8.8-4.2-8.8-4.2-8.8-4.2-8.7-4.1-8.8-4.1-8.8-4-8.8-4.1-8.7-4.1-8.8-4.1-8.8-4.2-8.8-4.2-8.8-4.1-8.7-4.2-8.8-4.2-8.8-4.1-8.8-4.1-8.7-4.1-8.8-4.1-8.8-4.1M756.6 939.4l-8.7-7-8.8-6.8-8.8-6.7-8.8-6.6-8.7-6.5-8.8-6.5-8.8-6.5-8.8-6.5-8.7-6.7-8.8-6.9-8.8-7.2-8.8-7.6-8.7-8.3-8.8-8.6-8.8-8.5-8.8-8.2-8.8-7.7-8.7-7.3-8.8-7-8.8-7-8.8-6.8-8.7-6.8-8.8-6.7-8.8-6.6-8.8-6.5-8.7-6.5-8.8-6.4-8.8-6.2-8.8-6.2-8.7-5.9-8.8-5.7-8.8-5.6-8.8-5.3-8.7-5.2-8.8-5-8.8-4.9-8.8-4.8-8.8-4.7-8.7-4.5-8.8-4.3-8.8-4.1-8.8-4.1-8.7-3.9-8.8-4-8.8-3.9-8.8-3.9-8.7-3.9-8.8-3.9-8.8-3.9-8.8-4-8.7-4.1-8.8-4-8.8-4.1-8.8-4-8.8-4-8.7-4.1-8.8-4-8.8-4.1-8.8-4.2M763.5 935l-8.8-7.1-8.8-7-8.8-6.9-8.7-6.9-8.8-6.8-8.8-6.6-8.8-6.6-8.7-6.7-8.8-6.7-8.8-7-8.8-7.2-8.7-7.6-8.8-8.2-8.8-8.4-8.8-8.4-8.7-8.1-8.8-7.7-8.8-7.4-8.8-7.1-8.8-7-8.7-6.8-8.8-6.7-8.8-6.7-8.8-6.6-8.7-6.4-8.8-6.4-8.8-6.3-8.8-6.2-8.7-6.1-8.8-5.8-8.8-5.7-8.8-5.5-8.7-5.2-8.8-5.2-8.8-4.9-8.8-4.8-8.7-4.7-8.8-4.5-8.8-4.4-8.8-4.2-8.8-4-8.7-3.9-8.8-3.8-8.8-3.8-8.8-3.8-8.7-3.7-8.8-3.7-8.8-3.7-8.8-3.8-8.7-3.9-8.8-3.9-8.8-3.9-8.8-3.9-8.7-3.9-8.8-4-8.8-3.9-8.8-4.1-8.8-4-8.7-4.2M770.3 930.7l-8.8-7.3-8.7-7.2-8.8-7.3-8.8-7.1-8.8-7-8.8-6.8-8.7-6.7-8.8-6.8-8.8-6.8-8.8-7-8.7-7.3-8.8-7.6-8.8-8.1-8.8-8.2-8.7-8.3-8.8-8-8.8-7.8-8.8-7.4-8.7-7.1-8.8-7-8.8-6.8-8.8-6.7-8.8-6.6-8.7-6.5-8.8-6.4-8.8-6.3-8.8-6.2-8.7-6.2-8.8-6-8.8-5.8-8.8-5.6-8.7-5.4-8.8-5.2-8.8-5-8.8-4.9-8.7-4.7-8.8-4.6-8.8-4.4-8.8-4.3-8.7-4.1-8.8-3.8-8.8-3.8-8.8-3.7-8.8-3.6-8.7-3.6-8.8-3.5-8.8-3.6-8.8-3.5-8.7-3.7-8.8-3.7-8.8-3.8-8.8-3.7-8.7-3.8-8.8-3.8-8.8-3.9-8.8-3.9-8.7-4-8.8-4.1-8.8-4.1M777.1 926.5l-8.7-7.5-8.8-7.6-8.8-7.6-8.8-7.4-8.7-7.2-8.8-7-8.8-6.8-8.8-6.8-8.8-7-8.7-7.1-8.8-7.3-8.8-7.6-8.8-7.9-8.7-8.2-8.8-8.1-8.8-8-8.8-7.7-8.7-7.4-8.8-7.2-8.8-7-8.8-6.8-8.7-6.6-8.8-6.6-8.8-6.4-8.8-6.3-8.7-6.3-8.8-6.1-8.8-6-8.8-6-8.8-5.8-8.7-5.5-8.8-5.3-8.8-5.2-8.8-4.9-8.7-4.8-8.8-4.6-8.8-4.5-8.8-4.3-8.7-4.1-8.8-4-8.8-3.8-8.8-3.6-8.7-3.6-8.8-3.4-8.8-3.5-8.8-3.4-8.8-3.4-8.7-3.4-8.8-3.4-8.8-3.6-8.8-3.7-8.7-3.6-8.8-3.6-8.8-3.7-8.8-3.8-8.7-3.9-8.8-3.9-8.8-4.1-8.8-4.2M784 922.3l-8.8-7.9-8.8-7.9-8.8-7.9-8.7-7.6-8.8-7.4-8.8-7.1-8.8-7-8.7-7-8.8-7-8.8-7.1-8.8-7.4-8.8-7.6-8.7-7.9-8.8-8-8.8-8-8.8-7.9-8.7-7.7-8.8-7.4-8.8-7.2-8.8-6.9-8.7-6.8-8.8-6.7-8.8-6.5-8.8-6.4-8.7-6.2-8.8-6.1-8.8-6.1-8.8-6-8.7-5.9-8.8-5.7-8.8-5.4-8.8-5.3-8.8-5-8.7-4.9-8.8-4.7-8.8-4.5-8.8-4.4-8.7-4.2-8.8-4-8.8-3.9-8.8-3.6-8.7-3.6-8.8-3.4-8.8-3.3-8.8-3.3-8.7-3.3-8.8-3.3-8.8-3.2-8.8-3.4-8.7-3.4-8.8-3.5-8.8-3.5-8.8-3.5-8.8-3.5-8.7-3.7-8.8-3.8-8.8-4-8.8-4-8.7-4.1M790.8 917.8l-8.8-8.2-8.8-8.2-8.7-8.1-8.8-7.8-8.8-7.6-8.8-7.3-8.7-7.1-8.8-7.1-8.8-7.1-8.8-7.2-8.7-7.4-8.8-7.6-8.8-7.8-8.8-7.9-8.7-7.9-8.8-7.8-8.8-7.6-8.8-7.4-8.8-7.2-8.7-6.9-8.8-6.8-8.8-6.6-8.8-6.5-8.7-6.3-8.8-6.2-8.8-6.1-8.8-5.9-8.7-5.9-8.8-5.9-8.8-5.6-8.8-5.4-8.7-5.2-8.8-4.9-8.8-4.8-8.8-4.6-8.8-4.4-8.7-4.3-8.8-4.1-8.8-3.9-8.8-3.7-8.7-3.6-8.8-3.4-8.8-3.4-8.8-3.2-8.7-3.2-8.8-3.1-8.8-3.2-8.8-3.1-8.7-3.2-8.8-3.3-8.8-3.3-8.8-3.4-8.7-3.4-8.8-3.4-8.8-3.6-8.8-3.7-8.8-3.9-8.7-4-8.8-4.1M797.6 912.8l-8.8-8.3-8.7-8.5-8.8-8.2-8.8-8-8.8-7.7-8.7-7.4-8.8-7.2-8.8-7.2-8.8-7.1-8.7-7.3-8.8-7.4-8.8-7.6-8.8-7.8-8.7-7.8-8.8-7.8-8.8-7.8-8.8-7.5-8.7-7.4-8.8-7.1-8.8-7-8.8-6.7-8.8-6.6-8.7-6.4-8.8-6.3-8.8-6.1-8.8-6-8.7-5.9-8.8-5.9-8.8-5.7-8.8-5.5-8.7-5.3-8.8-5.1-8.8-4.9-8.8-4.7-8.7-4.5-8.8-4.4-8.8-4.1-8.8-4-8.7-3.8-8.8-3.7-8.8-3.4-8.8-3.4-8.8-3.2-8.7-3.1-8.8-3.1-8.8-3-8.8-3-8.7-3.1-8.8-3.1-8.8-3.1-8.8-3.2-8.7-3.2-8.8-3.3-8.8-3.3-8.8-3.5-8.7-3.7-8.8-3.8-8.8-3.9-8.8-4M804.5 907.5l-8.8-8.5-8.8-8.6-8.8-8.3-8.7-8.1-8.8-7.8-8.8-7.5-8.8-7.3-8.8-7.2-8.7-7.3-8.8-7.3-8.8-7.4-8.8-7.6-8.7-7.7-8.8-7.8-8.8-7.7-8.8-7.7-8.7-7.5-8.8-7.3-8.8-7.1-8.8-7-8.7-6.7-8.8-6.5-8.8-6.4-8.8-6.3-8.8-6-8.7-6-8.8-5.8-8.8-5.7-8.8-5.7-8.7-5.4-8.8-5.2-8.8-5.1-8.8-4.8-8.7-4.6-8.8-4.4-8.8-4.3-8.8-4-8.7-3.9-8.8-3.7-8.8-3.5-8.8-3.4-8.7-3.2-8.8-3.2-8.8-3-8.8-3-8.8-2.9-8.7-2.9-8.8-3-8.8-2.9-8.8-3-8.7-3.1-8.8-3.1-8.8-3.2-8.8-3.2-8.7-3.4-8.8-3.6-8.8-3.6-8.8-3.8-8.7-4M811.3 901.6l-8.8-8.5-8.8-8.6-8.7-8.4-8.8-8-8.8-7.8-8.8-7.6-8.7-7.4-8.8-7.3-8.8-7.3-8.8-7.4-8.8-7.4-8.7-7.6-8.8-7.6-8.8-7.8-8.8-7.6-8.7-7.6-8.8-7.5-8.8-7.3-8.8-7.1-8.7-6.9-8.8-6.7-8.8-6.5-8.8-6.3-8.7-6.2-8.8-6-8.8-5.9-8.8-5.8-8.7-5.7-8.8-5.5-8.8-5.3-8.8-5.2-8.8-4.9-8.7-4.7-8.8-4.6-8.8-4.3-8.8-4.1-8.7-4-8.8-3.8-8.8-3.6-8.8-3.4-8.7-3.3-8.8-3.2-8.8-3-8.8-2.9-8.7-2.9-8.8-2.9-8.8-2.8-8.8-2.8-8.8-2.9-8.7-2.9-8.8-2.9-8.8-3.1-8.8-3-8.7-3.2-8.8-3.3-8.8-3.4-8.8-3.6-8.7-3.6-8.8-3.9M818.1 895.3l-8.8-8.5-8.7-8.4-8.8-8.3-8.8-8.1-8.8-7.8-8.7-7.6-8.8-7.4-8.8-7.4-8.8-7.3-8.7-7.4-8.8-7.5-8.8-7.6-8.8-7.6-8.8-7.7-8.7-7.6-8.8-7.6-8.8-7.4-8.8-7.2-8.7-7.1-8.8-6.8-8.8-6.7-8.8-6.5-8.7-6.3-8.8-6.1-8.8-6-8.8-5.8-8.7-5.7-8.8-5.6-8.8-5.4-8.8-5.3-8.7-5-8.8-4.9-8.8-4.6-8.8-4.5-8.8-4.2-8.7-4.1-8.8-3.9-8.8-3.6-8.8-3.6-8.7-3.3-8.8-3.2-8.8-3.1-8.8-2.9-8.7-2.9-8.8-2.7-8.8-2.8-8.8-2.7-8.7-2.8-8.8-2.7-8.8-2.8-8.8-2.9-8.7-2.9-8.8-3-8.8-3.1-8.8-3.2-8.8-3.3-8.7-3.5-8.8-3.5-8.8-3.7M824.9 888.9l-8.7-8.5-8.8-8.3-8.8-8.2-8.8-8-8.7-7.8-8.8-7.6-8.8-7.4-8.8-7.5-8.7-7.4-8.8-7.4-8.8-7.5-8.8-7.6-8.7-7.6-8.8-7.6-8.8-7.6-8.8-7.5-8.7-7.4-8.8-7.2-8.8-7-8.8-6.8-8.8-6.7-8.7-6.4-8.8-6.3-8.8-6.1-8.8-5.9-8.7-5.8-8.8-5.6-8.8-5.5-8.8-5.3-8.7-5.2-8.8-4.9-8.8-4.8-8.8-4.6-8.7-4.3-8.8-4.2-8.8-3.9-8.8-3.8-8.8-3.6-8.7-3.5-8.8-3.2-8.8-3.1-8.8-3-8.7-2.9-8.8-2.7-8.8-2.7-8.8-2.7-8.7-2.6-8.8-2.7-8.8-2.7-8.8-2.7-8.7-2.8-8.8-2.8-8.8-2.9-8.8-3-8.7-3.2-8.8-3.2-8.8-3.4-8.8-3.4-8.8-3.7M831.8 882.5l-8.8-8.5-8.8-8.2-8.8-8.1-8.7-7.9-8.8-7.8-8.8-7.6-8.8-7.5-8.7-7.4-8.8-7.5-8.8-7.5-8.8-7.5-8.7-7.6-8.8-7.6-8.8-7.6-8.8-7.5-8.7-7.5-8.8-7.3-8.8-7.2-8.8-6.9-8.7-6.8-8.8-6.6-8.8-6.4-8.8-6.3-8.8-6-8.7-5.9-8.8-5.7-8.8-5.6-8.8-5.4-8.7-5.2-8.8-5.1-8.8-4.9-8.8-4.7-8.7-4.4-8.8-4.3-8.8-4.1-8.8-3.9-8.7-3.6-8.8-3.6-8.8-3.3-8.8-3.2-8.7-3-8.8-2.9-8.8-2.8-8.8-2.7-8.8-2.6-8.7-2.6-8.8-2.6-8.8-2.5-8.8-2.6-8.7-2.7-8.8-2.6-8.8-2.8-8.8-2.8-8.7-3-8.8-3.1-8.8-3.1-8.8-3.4-8.7-3.4-8.8-3.6M838.6 876.2l-8.8-8.5-8.7-8.1-8.8-8-8.8-7.9-8.8-7.8-8.7-7.6-8.8-7.5-8.8-7.5-8.8-7.5-8.8-7.5-8.7-7.5-8.8-7.6-8.8-7.6-8.8-7.6-8.7-7.5-8.8-7.4-8.8-7.3-8.8-7.2-8.7-6.9-8.8-6.8-8.8-6.5-8.8-6.4-8.7-6.2-8.8-6-8.8-5.8-8.8-5.7-8.8-5.5-8.7-5.3-8.8-5.2-8.8-5-8.8-4.7-8.7-4.6-8.8-4.4-8.8-4.2-8.8-4-8.7-3.8-8.8-3.6-8.8-3.4-8.8-3.3-8.7-3.1-8.8-2.9-8.8-2.8-8.8-2.7-8.7-2.7-8.8-2.5-8.8-2.5-8.8-2.5-8.8-2.5-8.7-2.5-8.8-2.6-8.8-2.6-8.8-2.7-8.7-2.8-8.8-2.9-8.8-3-8.8-3.1-8.7-3.3-8.8-3.4-8.8-3.7M845.4 870.3l-8.7-8.6-8.8-8.2-8.8-8-8.8-7.9-8.7-7.7-8.8-7.7-8.8-7.5-8.8-7.5-8.7-7.5-8.8-7.6-8.8-7.6-8.8-7.6-8.8-7.6-8.7-7.6-8.8-7.5-8.8-7.3-8.8-7.3-8.7-7.1-8.8-6.9-8.8-6.7-8.8-6.6-8.7-6.3-8.8-6.1-8.8-6-8.8-5.8-8.7-5.6-8.8-5.4-8.8-5.3-8.8-5-8.7-4.9-8.8-4.7-8.8-4.6-8.8-4.3-8.8-4.1-8.7-3.9-8.8-3.7-8.8-3.5-8.8-3.3-8.7-3.2-8.8-3-8.8-2.9-8.8-2.7-8.7-2.7-8.8-2.5-8.8-2.5-8.8-2.5-8.7-2.4-8.8-2.4-8.8-2.4-8.8-2.5-8.8-2.6-8.7-2.6-8.8-2.7-8.8-2.8-8.8-3-8.7-3.1-8.8-3.2-8.8-3.5-8.8-3.5M852.3 864.8l-8.8-8.8-8.8-8.3-8.8-8.1-8.7-8-8.8-7.7-8.8-7.7-8.8-7.6-8.7-7.5-8.8-7.6-8.8-7.6-8.8-7.6-8.7-7.6-8.8-7.6-8.8-7.6-8.8-7.5-8.8-7.3-8.7-7.3-8.8-7-8.8-6.9-8.8-6.7-8.7-6.5-8.8-6.3-8.8-6.1-8.8-5.9-8.7-5.7-8.8-5.6-8.8-5.4-8.8-5.1-8.7-5-8.8-4.9-8.8-4.6-8.8-4.4-8.7-4.2-8.8-4-8.8-3.9-8.8-3.6-8.8-3.4-8.7-3.3-8.8-3.1-8.8-2.9-8.8-2.8-8.7-2.7-8.8-2.6-8.8-2.4-8.8-2.5-8.7-2.3-8.8-2.4-8.8-2.3-8.8-2.4-8.7-2.4-8.8-2.5-8.8-2.6-8.8-2.6-8.7-2.8-8.8-2.9-8.8-3-8.8-3.2-8.8-3.4-8.7-3.5M859.1 859.5l-8.8-9-8.8-8.5-8.7-8.2-8.8-8-8.8-7.9-8.8-7.7-8.7-7.6-8.8-7.6-8.8-7.6-8.8-7.6-8.7-7.7-8.8-7.6-8.8-7.7-8.8-7.5-8.7-7.5-8.8-7.4-8.8-7.2-8.8-7-8.7-6.8-8.8-6.7-8.8-6.5-8.8-6.2-8.8-6.1-8.7-5.8-8.8-5.7-8.8-5.5-8.8-5.3-8.7-5.1-8.8-5-8.8-4.7-8.8-4.5-8.7-4.4-8.8-4.1-8.8-4-8.8-3.7-8.7-3.5-8.8-3.4-8.8-3.2-8.8-3-8.8-2.9-8.7-2.7-8.8-2.6-8.8-2.5-8.8-2.4-8.7-2.4-8.8-2.3-8.8-2.3-8.8-2.3-8.7-2.3-8.8-2.3-8.8-2.4-8.8-2.5-8.7-2.6-8.8-2.7-8.8-2.9-8.8-3-8.7-3.1-8.8-3.3-8.8-3.5M865.9 854.4l-8.7-9.2-8.8-8.7-8.8-8.3-8.8-8.1-8.8-8-8.7-7.8-8.8-7.7-8.8-7.6-8.8-7.6-8.7-7.7-8.8-7.7-8.8-7.7-8.8-7.7-8.7-7.5-8.8-7.5-8.8-7.3-8.8-7.2-8.7-7-8.8-6.9-8.8-6.6-8.8-6.4-8.7-6.2-8.8-6.1-8.8-5.8-8.8-5.6-8.8-5.5-8.7-5.2-8.8-5-8.8-4.9-8.8-4.7-8.7-4.4-8.8-4.3-8.8-4-8.8-3.9-8.7-3.7-8.8-3.4-8.8-3.3-8.8-3.1-8.7-3-8.8-2.8-8.8-2.6-8.8-2.6-8.7-2.4-8.8-2.4-8.8-2.2-8.8-2.3-8.8-2.2-8.7-2.2-8.8-2.3-8.8-2.3-8.8-2.3-8.7-2.5-8.8-2.5-8.8-2.7-8.8-2.7-8.7-3-8.8-3.1-8.8-3.2-8.8-3.3M872.8 849.5l-8.8-9.4-8.8-8.9-8.8-8.5-8.7-8.3-8.8-8-8.8-7.9-8.8-7.7-8.8-7.7-8.7-7.7-8.8-7.7-8.8-7.8-8.8-7.8-8.7-7.6-8.8-7.6-8.8-7.5-8.8-7.3-8.7-7.2-8.8-7-8.8-6.8-8.8-6.6-8.7-6.4-8.8-6.2-8.8-6-8.8-5.7-8.7-5.6-8.8-5.4-8.8-5.2-8.8-5-8.8-4.8-8.7-4.6-8.8-4.3-8.8-4.2-8.8-4-8.7-3.8-8.8-3.6-8.8-3.4-8.8-3.2-8.7-3-8.8-2.9-8.8-2.7-8.8-2.6-8.7-2.5-8.8-2.4-8.8-2.2-8.8-2.3-8.7-2.1-8.8-2.2-8.8-2.2-8.8-2.2-8.8-2.2-8.7-2.3-8.8-2.4-8.8-2.5-8.8-2.5-8.7-2.8-8.8-2.8-8.8-3-8.8-3.2-8.7-3.3M879.6 844.8l-8.8-9.6-8.8-9.1-8.7-8.7-8.8-8.4-8.8-8.2-8.8-8-8.7-7.9-8.8-7.7-8.8-7.8-8.8-7.8-8.7-7.8-8.8-7.8-8.8-7.7-8.8-7.6-8.8-7.5-8.7-7.3-8.8-7.1-8.8-7-8.8-6.8-8.7-6.6-8.8-6.4-8.8-6.1-8.8-6-8.7-5.7-8.8-5.5-8.8-5.4-8.8-5.1-8.7-4.9-8.8-4.7-8.8-4.6-8.8-4.3-8.8-4.1-8.7-3.9-8.8-3.7-8.8-3.5-8.8-3.3-8.7-3.2-8.8-3-8.8-2.8-8.8-2.6-8.7-2.5-8.8-2.4-8.8-2.4-8.8-2.2-8.7-2.1-8.8-2.2-8.8-2.1-8.8-2.1-8.7-2.1-8.8-2.2-8.8-2.2-8.8-2.3-8.8-2.5-8.7-2.5-8.8-2.6-8.8-2.8-8.8-3-8.7-3-8.8-3.2M886.4 840.2l-8.8-9.8-8.7-9.3-8.8-8.9-8.8-8.6-8.8-8.3-8.7-8.1-8.8-8-8.8-7.8-8.8-7.9-8.7-7.8-8.8-7.9-8.8-7.8-8.8-7.8-8.7-7.6-8.8-7.5-8.8-7.3-8.8-7.2-8.8-6.9-8.7-6.8-8.8-6.6-8.8-6.3-8.8-6.1-8.7-6-8.8-5.7-8.8-5.5-8.8-5.2-8.7-5.1-8.8-4.9-8.8-4.6-8.8-4.5-8.7-4.2-8.8-4.1-8.8-3.8-8.8-3.7-8.7-3.4-8.8-3.2-8.8-3.1-8.8-2.9-8.8-2.8-8.7-2.6-8.8-2.4-8.8-2.4-8.8-2.2-8.7-2.2-8.8-2.1-8.8-2-8.8-2.1-8.7-2-8.8-2.1-8.8-2.1-8.8-2.2-8.7-2.2-8.8-2.4-8.8-2.5-8.8-2.6-8.8-2.7-8.7-2.9-8.8-2.9-8.8-3.2M893.3 835.7l-8.8-10-8.8-9.5-8.8-9.1-8.8-8.7-8.7-8.5-8.8-8.2-8.8-8.1-8.8-8-8.7-7.9-8.8-8-8.8-7.9-8.8-7.8-8.7-7.8-8.8-7.7-8.8-7.5-8.8-7.3-8.7-7.2-8.8-6.9-8.8-6.8-8.8-6.5-8.8-6.4-8.7-6.1-8.8-5.9-8.8-5.6-8.8-5.5-8.7-5.2-8.8-5-8.8-4.9-8.8-4.6-8.7-4.3-8.8-4.2-8.8-4-8.8-3.8-8.7-3.5-8.8-3.4-8.8-3.2-8.8-3-8.7-2.8-8.8-2.7-8.8-2.5-8.8-2.4-8.8-2.3-8.7-2.2-8.8-2.1-8.8-2-8.8-2.1-8.7-1.9-8.8-2-8.8-2-8.8-2.1-8.7-2.1-8.8-2.2-8.8-2.3-8.8-2.4-8.7-2.5-8.8-2.7-8.8-2.8-8.8-2.9-8.7-3M900.1 831.2l-8.8-10.2-8.8-9.6-8.7-9.2-8.8-8.9-8.8-8.6-8.8-8.4-8.8-8.2-8.7-8.1-8.8-8.1-8.8-8-8.8-8-8.7-7.9-8.8-7.8-8.8-7.7-8.8-7.5-8.7-7.4-8.8-7.1-8.8-7-8.8-6.8-8.7-6.5-8.8-6.3-8.8-6.1-8.8-5.9-8.7-5.6-8.8-5.4-8.8-5.2-8.8-5-8.8-4.7-8.7-4.6-8.8-4.3-8.8-4.1-8.8-3.9-8.7-3.7-8.8-3.5-8.8-3.3-8.8-3.2-8.7-2.9-8.8-2.8-8.8-2.6-8.8-2.4-8.7-2.4-8.8-2.2-8.8-2.1-8.8-2.1-8.8-2-8.7-1.9-8.8-2-8.8-1.9-8.8-1.9-8.7-2-8.8-2.1-8.8-2.1-8.8-2.3-8.7-2.3-8.8-2.4-8.8-2.6-8.8-2.7-8.7-2.9-8.8-2.9M906.9 826.8l-8.8-10.2-8.7-9.8-8.8-9.4-8.8-9-8.8-8.8-8.7-8.6-8.8-8.4-8.8-8.2-8.8-8.1-8.8-8.1-8.7-8.1-8.8-8-8.8-7.8-8.8-7.8-8.7-7.5-8.8-7.4-8.8-7.2-8.8-6.9-8.7-6.8-8.8-6.5-8.8-6.3-8.8-6.1-8.7-5.8-8.8-5.6-8.8-5.4-8.8-5.2-8.7-4.9-8.8-4.7-8.8-4.5-8.8-4.3-8.8-4.1-8.7-3.8-8.8-3.6-8.8-3.5-8.8-3.2-8.7-3.1-8.8-2.8-8.8-2.7-8.8-2.6-8.7-2.4-8.8-2.3-8.8-2.1-8.8-2.1-8.7-2-8.8-1.9-8.8-1.9-8.8-1.9-8.7-1.9-8.8-1.9-8.8-1.9-8.8-2-8.8-2.1-8.7-2.1-8.8-2.3-8.8-2.4-8.8-2.5-8.7-2.6-8.8-2.8-8.8-2.9M913.7 822.8l-8.7-10.5-8.8-9.9-8.8-9.6-8.8-9.2-8.7-9-8.8-8.7-8.8-8.5-8.8-8.4-8.7-8.3-8.8-8.2-8.8-8.1-8.8-8-8.7-8-8.8-7.7-8.8-7.7-8.8-7.4-8.8-7.2-8.7-6.9-8.8-6.8-8.8-6.5-8.8-6.3-8.7-6.1-8.8-5.8-8.8-5.6-8.8-5.3-8.7-5.2-8.8-4.9-8.8-4.6-8.8-4.5-8.7-4.2-8.8-4-8.8-3.8-8.8-3.6-8.8-3.3-8.7-3.2-8.8-3-8.8-2.8-8.8-2.7-8.7-2.5-8.8-2.3-8.8-2.2-8.8-2.1-8.7-2-8.8-2-8.8-1.8-8.8-1.9-8.7-1.8-8.8-1.8-8.8-1.9-8.8-1.8-8.7-2-8.8-2-8.8-2.1-8.8-2.2-8.8-2.3-8.7-2.4-8.8-2.6-8.8-2.7-8.8-2.8M920.6 819.1l-8.8-10.8-8.8-10.1-8.8-9.8-8.7-9.5-8.8-9.1-8.8-8.9-8.8-8.7-8.7-8.5-8.8-8.3-8.8-8.3-8.8-8.3-8.7-8.1-8.8-8-8.8-7.9-8.8-7.6-8.7-7.5-8.8-7.2-8.8-7-8.8-6.7-8.8-6.6-8.7-6.3-8.8-6-8.8-5.8-8.8-5.6-8.7-5.3-8.8-5.1-8.8-4.9-8.8-4.6-8.7-4.4-8.8-4.2-8.8-3.9-8.8-3.8-8.7-3.5-8.8-3.3-8.8-3.1-8.8-3-8.7-2.7-8.8-2.6-8.8-2.4-8.8-2.3-8.8-2.2-8.7-2-8.8-2-8.8-1.9-8.8-1.8-8.7-1.8-8.8-1.7-8.8-1.8-8.8-1.8-8.7-1.8-8.8-1.9-8.8-1.9-8.8-2-8.7-2.2-8.8-2.2-8.8-2.4-8.8-2.5-8.8-2.6-8.7-2.7M927.4 815.6l-8.8-11.1-8.7-10.4-8.8-10-8.8-9.7-8.8-9.3-8.8-9.1-8.7-8.8-8.8-8.6-8.8-8.5-8.8-8.4-8.7-8.3-8.8-8.3-8.8-8.1-8.8-7.9-8.7-7.7-8.8-7.5-8.8-7.2-8.8-7.1-8.7-6.7-8.8-6.6-8.8-6.3-8.8-6.1-8.8-5.8-8.7-5.5-8.8-5.3-8.8-5.1-8.8-4.8-8.7-4.6-8.8-4.4-8.8-4.1-8.8-3.9-8.7-3.7-8.8-3.5-8.8-3.2-8.8-3.1-8.7-2.9-8.8-2.7-8.8-2.5-8.8-2.4-8.7-2.2-8.8-2.1-8.8-2-8.8-1.9-8.8-1.8-8.7-1.8-8.8-1.7-8.8-1.7-8.8-1.7-8.7-1.7-8.8-1.8-8.8-1.8-8.8-1.9-8.7-2-8.8-2-8.8-2.2-8.8-2.3-8.7-2.4-8.8-2.5-8.8-2.7M934.2 812.5l-8.7-11.6-8.8-10.8-8.8-10.2-8.8-9.9-8.7-9.5-8.8-9.2-8.8-8.9-8.8-8.7-8.8-8.7-8.7-8.5-8.8-8.4-8.8-8.4-8.8-8.2-8.7-8-8.8-7.8-8.8-7.5-8.8-7.3-8.7-7.1-8.8-6.8-8.8-6.6-8.8-6.3-8.7-6.1-8.8-5.8-8.8-5.5-8.8-5.3-8.7-5.1-8.8-4.8-8.8-4.5-8.8-4.3-8.8-4.1-8.7-3.9-8.8-3.6-8.8-3.4-8.8-3.2-8.7-3.1-8.8-2.8-8.8-2.6-8.8-2.5-8.7-2.3-8.8-2.2-8.8-2.1-8.8-1.9-8.7-1.8-8.8-1.8-8.8-1.7-8.8-1.7-8.8-1.6-8.7-1.7-8.8-1.6-8.8-1.7-8.8-1.8-8.7-1.8-8.8-1.9-8.8-2-8.8-2.1-8.7-2.2-8.8-2.3-8.8-2.5-8.8-2.6M941.1 809.5l-8.8-12-8.8-11.3-8.8-10.5-8.7-10-8.8-9.7-8.8-9.2-8.8-9.1-8.7-8.8-8.8-8.8-8.8-8.6-8.8-8.6-8.8-8.5-8.7-8.3-8.8-8.1-8.8-7.9-8.8-7.6-8.7-7.3-8.8-7.1-8.8-6.9-8.8-6.6-8.7-6.3-8.8-6.1-8.8-5.8-8.8-5.6-8.7-5.3-8.8-5-8.8-4.8-8.8-4.5-8.7-4.3-8.8-4-8.8-3.9-8.8-3.5-8.8-3.4-8.7-3.2-8.8-2.9-8.8-2.8-8.8-2.6-8.7-2.4-8.8-2.3-8.8-2.1-8.8-2-8.7-1.9-8.8-1.8-8.8-1.7-8.8-1.7-8.7-1.6-8.8-1.6-8.8-1.6-8.8-1.6-8.7-1.6-8.8-1.7-8.8-1.7-8.8-1.9-8.8-1.9-8.7-2-8.8-2.1-8.8-2.3-8.8-2.4-8.7-2.5M947.9 806.7l-8.8-12.6-8.8-11.8-8.7-10.7-8.8-10.1-8.8-9.7-8.8-9.4-8.7-9.2-8.8-9-8.8-8.8-8.8-8.8-8.7-8.7-8.8-8.6-8.8-8.5-8.8-8.2-8.7-8-8.8-7.6-8.8-7.5-8.8-7.1-8.8-6.9-8.7-6.7-8.8-6.3-8.8-6.2-8.8-5.8-8.7-5.5-8.8-5.3-8.8-5-8.8-4.8-8.7-4.5-8.8-4.3-8.8-4-8.8-3.8-8.7-3.5-8.8-3.3-8.8-3.1-8.8-3-8.8-2.7-8.7-2.5-8.8-2.4-8.8-2.2-8.8-2.1-8.7-1.9-8.8-1.9-8.8-1.7-8.8-1.7-8.7-1.6-8.8-1.5-8.8-1.6-8.8-1.5-8.7-1.5-8.8-1.6-8.8-1.6-8.8-1.7-8.7-1.8-8.8-1.8-8.8-2-8.8-2-8.8-2.2-8.7-2.3-8.8-2.4M954.7 803.9l-8.8-13.1-8.7-12.3-8.8-10.8-8.8-10.2-8.8-9.8-8.7-9.5-8.8-9.3-8.8-9.1-8.8-9-8.7-8.9-8.8-8.9-8.8-8.7-8.8-8.6-8.7-8.4-8.8-8-8.8-7.8-8.8-7.5-8.7-7.2-8.8-7-8.8-6.7-8.8-6.4-8.8-6.1-8.7-5.9-8.8-5.6-8.8-5.3-8.8-5-8.7-4.7-8.8-4.5-8.8-4.2-8.8-4-8.7-3.8-8.8-3.5-8.8-3.2-8.8-3.1-8.7-2.9-8.8-2.7-8.8-2.5-8.8-2.3-8.7-2.2-8.8-2-8.8-1.9-8.8-1.8-8.8-1.7-8.7-1.6-8.8-1.5-8.8-1.5-8.8-1.5-8.7-1.5-8.8-1.4-8.8-1.5-8.8-1.6-8.7-1.6-8.8-1.7-8.8-1.8-8.8-1.8-8.7-2-8.8-2.2-8.8-2.2-8.8-2.3M961.6 801.4l-8.8-13.6-8.8-12.7-8.8-11-8.7-10.3-8.8-9.9-8.8-9.6-8.8-9.4-8.8-9.3-8.7-9.1-8.8-9.1-8.8-9-8.8-8.9-8.7-8.8-8.8-8.5-8.8-8.2-8.8-7.8-8.7-7.6-8.8-7.3-8.8-7.1-8.8-6.8-8.7-6.4-8.8-6.2-8.8-5.9-8.8-5.6-8.8-5.3-8.7-5-8.8-4.7-8.8-4.5-8.8-4.2-8.7-3.9-8.8-3.8-8.8-3.4-8.8-3.3-8.7-3-8.8-2.8-8.8-2.7-8.8-2.4-8.7-2.3-8.8-2.1-8.8-2-8.8-1.8-8.7-1.8-8.8-1.6-8.8-1.6-8.8-1.5-8.8-1.4-8.7-1.4-8.8-1.4-8.8-1.5-8.8-1.4-8.7-1.5-8.8-1.5-8.8-1.7-8.8-1.7-8.7-1.8-8.8-1.9-8.8-2-8.8-2.2-8.7-2.3M968.4 799l-8.8-13.8-8.8-12.9-8.7-11.4-8.8-10.5-8.8-10.1-8.8-9.8-8.7-9.5-8.8-9.4-8.8-9.3-8.8-9.2-8.8-9.2-8.7-9-8.8-9-8.8-8.7-8.8-8.3-8.7-7.9-8.8-7.8-8.8-7.4-8.8-7.1-8.7-6.9-8.8-6.5-8.8-6.2-8.8-5.9-8.7-5.6-8.8-5.4-8.8-5-8.8-4.7-8.7-4.5-8.8-4.2-8.8-3.9-8.8-3.7-8.8-3.4-8.7-3.2-8.8-3-8.8-2.8-8.8-2.6-8.7-2.4-8.8-2.2-8.8-2.1-8.8-1.9-8.7-1.8-8.8-1.7-8.8-1.6-8.8-1.5-8.7-1.5-8.8-1.4-8.8-1.3-8.8-1.4-8.8-1.3-8.7-1.4-8.8-1.4-8.8-1.5-8.8-1.5-8.7-1.7-8.8-1.7-8.8-1.8-8.8-2-8.7-2.1-8.8-2.2M975.2 796.8l-8.8-13.8-8.7-13.1-8.8-11.8-8.8-10.8-8.8-10.3-8.7-9.9-8.8-9.7-8.8-9.6-8.8-9.5-8.7-9.3-8.8-9.4-8.8-9.2-8.8-9.1-8.8-8.8-8.7-8.5-8.8-8.1-8.8-7.9-8.8-7.5-8.7-7.3-8.8-6.9-8.8-6.6-8.8-6.3-8.7-6-8.8-5.6-8.8-5.3-8.8-5.1-8.7-4.7-8.8-4.4-8.8-4.2-8.8-3.9-8.7-3.7-8.8-3.4-8.8-3.2-8.8-2.9-8.8-2.8-8.7-2.5-8.8-2.4-8.8-2.2-8.8-2-8.7-1.9-8.8-1.8-8.8-1.6-8.8-1.5-8.7-1.5-8.8-1.4-8.8-1.3-8.8-1.3-8.7-1.3-8.8-1.3-8.8-1.3-8.8-1.4-8.7-1.4-8.8-1.5-8.8-1.5-8.8-1.7-8.8-1.7-8.7-1.9-8.8-2-8.8-2.2M982 794.7l-8.7-13.8-8.8-13.2-8.8-12.1-8.8-11.1-8.7-10.6-8.8-10.1-8.8-9.9-8.8-9.7-8.7-9.6-8.8-9.6-8.8-9.4-8.8-9.4-8.7-9.3-8.8-9-8.8-8.7-8.8-8.3-8.8-8-8.7-7.7-8.8-7.4-8.8-7-8.8-6.7-8.7-6.3-8.8-6-8.8-5.7-8.8-5.4-8.7-5-8.8-4.7-8.8-4.5-8.8-4.2-8.7-3.9-8.8-3.6-8.8-3.4-8.8-3.1-8.7-3-8.8-2.7-8.8-2.5-8.8-2.3-8.8-2.2-8.7-2-8.8-1.8-8.8-1.7-8.8-1.6-8.7-1.5-8.8-1.4-8.8-1.3-8.8-1.3-8.7-1.3-8.8-1.2-8.8-1.2-8.8-1.3-8.7-1.3-8.8-1.3-8.8-1.4-8.8-1.5-8.7-1.6-8.8-1.6-8.8-1.9-8.8-1.9-8.8-2.1M988.9 792.7l-8.8-13.8-8.8-13.3-8.8-12.3-8.7-11.4-8.8-10.8-8.8-10.3-8.8-10.1-8.7-9.9-8.8-9.8-8.8-9.7-8.8-9.6-8.7-9.6-8.8-9.4-8.8-9.2-8.8-8.9-8.7-8.5-8.8-8.2-8.8-7.9-8.8-7.5-8.7-7.1-8.8-6.8-8.8-6.4-8.8-6.1-8.8-5.7-8.7-5.4-8.8-5.1-8.8-4.7-8.8-4.4-8.7-4.2-8.8-3.9-8.8-3.6-8.8-3.4-8.7-3.1-8.8-2.9-8.8-2.7-8.8-2.5-8.7-2.3-8.8-2.1-8.8-1.9-8.8-1.8-8.8-1.7-8.7-1.5-8.8-1.5-8.8-1.3-8.8-1.3-8.7-1.2-8.8-1.2-8.8-1.2-8.8-1.2-8.7-1.2-8.8-1.2-8.8-1.2-8.8-1.4-8.7-1.4-8.8-1.5-8.8-1.6-8.8-1.7-8.7-1.9-8.8-2M995.7 790.6l-8.8-13.8-8.7-13.3-8.8-12.5-8.8-11.6-8.8-11-8.8-10.5-8.7-10.3-8.8-10-8.8-10-8.8-9.9-8.7-9.8-8.8-9.7-8.8-9.6-8.8-9.4-8.7-9.1-8.8-8.8-8.8-8.3-8.8-8.1-8.7-7.6-8.8-7.3-8.8-6.9-8.8-6.5-8.7-6.1-8.8-5.8-8.8-5.4-8.8-5.1-8.8-4.7-8.7-4.5-8.8-4.1-8.8-3.9-8.8-3.6-8.7-3.4-8.8-3.1-8.8-2.9-8.8-2.6-8.7-2.5-8.8-2.2-8.8-2.1-8.8-1.9-8.7-1.7-8.8-1.7-8.8-1.5-8.8-1.4-8.7-1.3-8.8-1.2-8.8-1.2-8.8-1.1-8.8-1.1-8.7-1.1-8.8-1.2-8.8-1.1-8.8-1.2-8.7-1.3-8.8-1.3-8.8-1.4-8.8-1.5-8.7-1.7-8.8-1.8-8.8-1.9M1002.5 788.6l-8.7-13.8-8.8-13.5-8.8-12.5-8.8-11.7-8.7-11.2-8.8-10.7-8.8-10.4-8.8-10.3-8.7-10.1-8.8-10.1-8.8-10-8.8-9.9-8.8-9.8-8.7-9.6-8.8-9.3-8.8-9-8.8-8.6-8.7-8.2-8.8-7.8-8.8-7.4-8.8-7-8.7-6.6-8.8-6.2-8.8-5.8-8.8-5.5-8.7-5.1-8.8-4.8-8.8-4.4-8.8-4.2-8.8-3.8-8.7-3.6-8.8-3.4-8.8-3.1-8.8-2.8-8.7-2.6-8.8-2.5-8.8-2.2-8.8-2-8.7-1.9-8.8-1.7-8.8-1.6-8.8-1.4-8.7-1.4-8.8-1.2-8.8-1.2-8.8-1.1-8.7-1.1-8.8-1.1-8.8-1-8.8-1.1-8.8-1.1-8.7-1.1-8.8-1.2-8.8-1.3-8.8-1.3-8.7-1.4-8.8-1.6-8.8-1.7-8.8-1.9M1009.4 786.6l-8.8-13.9-8.8-13.4-8.8-12.6-8.7-11.8-8.8-11.4-8.8-10.9-8.8-10.6-8.7-10.4-8.8-10.3-8.8-10.3-8.8-10.1-8.7-10.2-8.8-10-8.8-9.8-8.8-9.6-8.8-9.2-8.7-8.8-8.8-8.4-8.8-8-8.8-7.5-8.7-7.1-8.8-6.7-8.8-6.3-8.8-5.8-8.7-5.5-8.8-5.2-8.8-4.8-8.8-4.4-8.7-4.2-8.8-3.9-8.8-3.6-8.8-3.3-8.7-3-8.8-2.9-8.8-2.6-8.8-2.4-8.8-2.2-8.7-2-8.8-1.8-8.8-1.7-8.8-1.5-8.7-1.4-8.8-1.3-8.8-1.2-8.8-1.2-8.7-1-8.8-1.1-8.8-1-8.8-1-8.7-1-8.8-1-8.8-1-8.8-1.2-8.8-1.1-8.7-1.3-8.8-1.4-8.8-1.4-8.8-1.7-8.7-1.8M1016.2 784.6l-8.8-13.9-8.8-13.4-8.7-12.6-8.8-12-8.8-11.4-8.8-11.1-8.7-10.8-8.8-10.6-8.8-10.5-8.8-10.4-8.7-10.4-8.8-10.3-8.8-10.3-8.8-10-8.7-9.8-8.8-9.5-8.8-9-8.8-8.6-8.8-8.2-8.7-7.7-8.8-7.2-8.8-6.8-8.8-6.3-8.7-5.9-8.8-5.6-8.8-5.1-8.8-4.8-8.7-4.5-8.8-4.2-8.8-3.9-8.8-3.6-8.7-3.3-8.8-3-8.8-2.9-8.8-2.5-8.7-2.4-8.8-2.2-8.8-1.9-8.8-1.8-8.8-1.7-8.7-1.5-8.8-1.3-8.8-1.3-8.8-1.2-8.7-1-8.8-1.1-8.8-0.9-8.8-1-8.7-0.9-8.8-1-8.8-0.9-8.8-1-8.7-1-8.8-1.1-8.8-1.2-8.8-1.3-8.7-1.4-8.8-1.6-8.8-1.7M1023 782.5l-8.7-13.7-8.8-13.3-8.8-12.7-8.8-12.1-8.8-11.6-8.7-11.2-8.8-11-8.8-10.7-8.8-10.7-8.7-10.6-8.8-10.6-8.8-10.6-8.8-10.5-8.7-10.3-8.8-10-8.8-9.7-8.8-9.3-8.7-8.8-8.8-8.4-8.8-7.8-8.8-7.4-8.7-6.8-8.8-6.4-8.8-6-8.8-5.6-8.8-5.2-8.7-4.8-8.8-4.5-8.8-4.2-8.8-3.9-8.7-3.6-8.8-3.3-8.8-3-8.8-2.8-8.7-2.6-8.8-2.3-8.8-2.2-8.8-1.9-8.7-1.8-8.8-1.6-8.8-1.4-8.8-1.4-8.8-1.2-8.7-1.1-8.8-1-8.8-1-8.8-0.9-8.7-0.9-8.8-0.9-8.8-0.9-8.8-0.9-8.7-0.9-8.8-1-8.8-1-8.8-1.1-8.7-1.2-8.8-1.3-8.8-1.5-8.8-1.6M1029.9 780.5l-8.8-13.6-8.8-13.3-8.8-12.7-8.7-12.2-8.8-11.7-8.8-11.4-8.8-11.1-8.8-10.9-8.7-10.9-8.8-10.8-8.8-10.8-8.8-10.8-8.7-10.7-8.8-10.6-8.8-10.3-8.8-9.9-8.7-9.5-8.8-9.1-8.8-8.5-8.8-8-8.7-7.5-8.8-6.9-8.8-6.5-8.8-6-8.7-5.7-8.8-5.2-8.8-4.9-8.8-4.5-8.8-4.2-8.7-3.9-8.8-3.6-8.8-3.3-8.8-3-8.7-2.8-8.8-2.6-8.8-2.3-8.8-2.1-8.7-1.9-8.8-1.8-8.8-1.5-8.8-1.4-8.7-1.3-8.8-1.2-8.8-1.1-8.8-0.9-8.7-1-8.8-0.8-8.8-0.9-8.8-0.8-8.8-0.8-8.7-0.9-8.8-0.8-8.8-0.9-8.8-1-8.7-1-8.8-1.1-8.8-1.3-8.8-1.3-8.7-1.6M1036.7 778.4l-8.8-13.4-8.8-13.2-8.7-12.8-8.8-12.2-8.8-11.9-8.8-11.5-8.7-11.2-8.8-11.1-8.8-11-8.8-11-8.7-11.1-8.8-11-8.8-11-8.8-10.8-8.8-10.6-8.7-10.2-8.8-9.8-8.8-9.2-8.8-8.7-8.7-8.2-8.8-7.5-8.8-7.1-8.8-6.5-8.7-6.1-8.8-5.7-8.8-5.3-8.8-4.9-8.7-4.6-8.8-4.2-8.8-3.9-8.8-3.6-8.8-3.3-8.7-3-8.8-2.8-8.8-2.6-8.8-2.3-8.7-2-8.8-1.9-8.8-1.7-8.8-1.6-8.7-1.3-8.8-1.3-8.8-1.1-8.8-1-8.7-1-8.8-0.9-8.8-0.8-8.8-0.8-8.7-0.7-8.8-0.8-8.8-0.8-8.8-0.8-8.8-0.8-8.7-0.9-8.8-1-8.8-1-8.8-1.2-8.7-1.3-8.8-1.4M1043.5 776.4l-8.8-13.4-8.7-13.1-8.8-12.8-8.8-12.3-8.8-11.9-8.7-11.6-8.8-11.4-8.8-11.2-8.8-11.2-8.7-11.2-8.8-11.3-8.8-11.3-8.8-11.2-8.7-11.1-8.8-10.8-8.8-10.5-8.8-10-8.8-9.5-8.7-8.9-8.8-8.3-8.8-7.7-8.8-7.1-8.7-6.7-8.8-6.1-8.8-5.8-8.8-5.3-8.7-4.9-8.8-4.6-8.8-4.3-8.8-3.9-8.7-3.6-8.8-3.3-8.8-3.1-8.8-2.7-8.7-2.6-8.8-2.2-8.8-2.1-8.8-1.9-8.8-1.6-8.7-1.5-8.8-1.4-8.8-1.2-8.8-1.1-8.7-0.9-8.8-0.9-8.8-0.9-8.8-0.7-8.7-0.8-8.8-0.7-8.8-0.7-8.8-0.7-8.7-0.8-8.8-0.7-8.8-0.9-8.8-0.9-8.8-1-8.7-1-8.8-1.3-8.8-1.4M1050.4 774.4l-8.8-13.3-8.8-13.2-8.8-12.7-8.8-12.3-8.7-12-8.8-11.7-8.8-11.5-8.8-11.5-8.7-11.3-8.8-11.4-8.8-11.5-8.8-11.6-8.7-11.4-8.8-11.4-8.8-11.1-8.8-10.7-8.7-10.3-8.8-9.7-8.8-9.1-8.8-8.4-8.8-7.8-8.7-7.2-8.8-6.7-8.8-6.3-8.8-5.8-8.7-5.3-8.8-5-8.8-4.7-8.8-4.2-8.7-4-8.8-3.6-8.8-3.3-8.8-3.1-8.7-2.7-8.8-2.6-8.8-2.2-8.8-2.1-8.7-1.8-8.8-1.6-8.8-1.5-8.8-1.3-8.8-1.2-8.7-1-8.8-1-8.8-0.8-8.8-0.8-8.7-0.7-8.8-0.7-8.8-0.6-8.8-0.7-8.7-0.7-8.8-0.7-8.8-0.7-8.8-0.8-8.7-0.8-8.8-1-8.8-1-8.8-1.2-8.7-1.3M1057.2 772.4l-8.8-13.3-8.8-13.1-8.7-12.7-8.8-12.4-8.8-12-8.8-11.8-8.8-11.7-8.7-11.5-8.8-11.6-8.8-11.6-8.8-11.7-8.7-11.8-8.8-11.7-8.8-11.6-8.8-11.4-8.7-11-8.8-10.5-8.8-10-8.8-9.2-8.7-8.6-8.8-7.9-8.8-7.3-8.8-6.8-8.7-6.3-8.8-5.9-8.8-5.4-8.8-5-8.8-4.7-8.7-4.3-8.8-4-8.8-3.6-8.8-3.4-8.7-3-8.8-2.8-8.8-2.5-8.8-2.2-8.7-2.1-8.8-1.8-8.8-1.6-8.8-1.4-8.7-1.3-8.8-1.1-8.8-1-8.8-0.9-8.8-0.8-8.7-0.7-8.8-0.7-8.8-0.6-8.8-0.6-8.7-0.6-8.8-0.7-8.8-0.6-8.8-0.7-8.7-0.7-8.8-0.8-8.8-0.9-8.8-1-8.7-1.1-8.8-1.3M1064 770.6l-8.8-13.4-8.7-13.1-8.8-12.7-8.8-12.4-8.8-12.2-8.7-11.9-8.8-11.7-8.8-11.7-8.8-11.7-8.8-11.8-8.7-12-8.8-12-8.8-12-8.8-11.8-8.7-11.6-8.8-11.3-8.8-10.8-8.8-10.2-8.7-9.5-8.8-8.7-8.8-8-8.8-7.4-8.7-6.8-8.8-6.4-8.8-5.9-8.8-5.5-8.7-5.1-8.8-4.7-8.8-4.4-8.8-4-8.8-3.6-8.7-3.4-8.8-3-8.8-2.8-8.8-2.5-8.7-2.2-8.8-2-8.8-1.8-8.8-1.6-8.7-1.4-8.8-1.3-8.8-1-8.8-1-8.7-0.8-8.8-0.8-8.8-0.7-8.8-0.6-8.7-0.6-8.8-0.5-8.8-0.6-8.8-0.6-8.8-0.6-8.7-0.6-8.8-0.7-8.8-0.7-8.8-0.9-8.7-0.9-8.8-1.1-8.8-1.3M1070.8 768.7l-8.7-13.3-8.8-13.1-8.8-12.8-8.8-12.5-8.7-12.2-8.8-12-8.8-11.9-8.8-11.8-8.7-11.9-8.8-12-8.8-12.2-8.8-12.2-8.7-12.2-8.8-12.1-8.8-11.9-8.8-11.5-8.8-11.1-8.7-10.4-8.8-9.7-8.8-8.8-8.8-8.1-8.7-7.5-8.8-6.9-8.8-6.5-8.8-6-8.7-5.5-8.8-5.2-8.8-4.7-8.8-4.4-8.7-4.1-8.8-3.7-8.8-3.3-8.8-3.1-8.8-2.7-8.7-2.5-8.8-2.3-8.8-2-8.8-1.7-8.7-1.6-8.8-1.3-8.8-1.2-8.8-1.1-8.7-0.9-8.8-0.8-8.8-0.7-8.8-0.7-8.7-0.5-8.8-0.6-8.8-0.5-8.8-0.5-8.7-0.5-8.8-0.5-8.8-0.6-8.8-0.7-8.8-0.7-8.7-0.8-8.8-0.9-8.8-1-8.8-1.3M1077.7 766.8l-8.8-13.3-8.8-13.1-8.8-12.9-8.7-12.5-8.8-12.3-8.8-12.1-8.8-12-8.7-12-8.8-12-8.8-12.2-8.8-12.4-8.7-12.5-8.8-12.4-8.8-12.3-8.8-12.1-8.7-11.8-8.8-11.3-8.8-10.7-8.8-9.8-8.8-8.9-8.7-8.2-8.8-7.6-8.8-7-8.8-6.6-8.7-6.1-8.8-5.6-8.8-5.2-8.8-4.8-8.7-4.5-8.8-4.1-8.8-3.7-8.8-3.4-8.7-3-8.8-2.8-8.8-2.5-8.8-2.2-8.7-2-8.8-1.7-8.8-1.6-8.8-1.3-8.8-1.2-8.7-1-8.8-0.8-8.8-0.8-8.8-0.7-8.7-0.5-8.8-0.6-8.8-0.5-8.8-0.4-8.7-0.5-8.8-0.4-8.8-0.5-8.8-0.6-8.7-0.6-8.8-0.7-8.8-0.7-8.8-0.9-8.8-1-8.7-1.2M1084.5 764.9l-8.8-13.3-8.7-13.2-8.8-12.9-8.8-12.6-8.8-12.3-8.8-12.2-8.7-12.2-8.8-12.1-8.8-12.2-8.8-12.3-8.7-12.7-8.8-12.7-8.8-12.6-8.8-12.5-8.7-12.3-8.8-12-8.8-11.5-8.8-11-8.7-10-8.8-9-8.8-8.3-8.8-7.7-8.8-7.1-8.7-6.7-8.8-6.2-8.8-5.7-8.8-5.3-8.7-4.9-8.8-4.4-8.8-4.2-8.8-3.7-8.7-3.4-8.8-3.1-8.8-2.8-8.8-2.5-8.7-2.2-8.8-1.9-8.8-1.7-8.8-1.5-8.7-1.4-8.8-1.1-8.8-0.9-8.8-0.9-8.8-0.7-8.7-0.6-8.8-0.5-8.8-0.5-8.8-0.5-8.7-0.4-8.8-0.4-8.8-0.4-8.8-0.5-8.7-0.5-8.8-0.5-8.8-0.7-8.8-0.7-8.7-0.9-8.8-0.9-8.8-1.1M1091.3 763.1l-8.7-13.5-8.8-13.2-8.8-12.9-8.8-12.7-8.7-12.4-8.8-12.3-8.8-12.3-8.8-12.3-8.8-12.3-8.7-12.6-8.8-12.8-8.8-12.9-8.8-12.8-8.7-12.7-8.8-12.5-8.8-12.2-8.8-11.7-8.7-11.1-8.8-10.2-8.8-9.1-8.8-8.5-8.7-7.8-8.8-7.3-8.8-6.8-8.8-6.3-8.8-5.8-8.7-5.3-8.8-5-8.8-4.5-8.8-4.2-8.7-3.8-8.8-3.4-8.8-3.1-8.8-2.8-8.7-2.4-8.8-2.2-8.8-2-8.8-1.7-8.7-1.5-8.8-1.2-8.8-1.1-8.8-0.9-8.7-0.8-8.8-0.7-8.8-0.6-8.8-0.5-8.8-0.4-8.7-0.4-8.8-0.3-8.8-0.4-8.8-0.4-8.7-0.4-8.8-0.4-8.8-0.6-8.8-0.6-8.7-0.7-8.8-0.8-8.8-1-8.8-1M1098.2 761.2l-8.8-13.6-8.8-13.3-8.8-12.9-8.7-12.7-8.8-12.5-8.8-12.5-8.8-12.4-8.7-12.4-8.8-12.6-8.8-12.8-8.8-13-8.8-13-8.7-13-8.8-12.9-8.8-12.6-8.8-12.3-8.7-11.8-8.8-11.3-8.8-10.3-8.8-9.4-8.7-8.6-8.8-8-8.8-7.5-8.8-6.8-8.7-6.4-8.8-5.9-8.8-5.5-8.8-5-8.7-4.6-8.8-4.2-8.8-3.8-8.8-3.5-8.8-3.1-8.7-2.8-8.8-2.4-8.8-2.2-8.8-2-8.7-1.6-8.8-1.5-8.8-1.2-8.8-1.1-8.7-0.9-8.8-0.7-8.8-0.6-8.8-0.5-8.7-0.5-8.8-0.3-8.8-0.4-8.8-0.3-8.8-0.3-8.7-0.3-8.8-0.4-8.8-0.4-8.8-0.5-8.7-0.6-8.8-0.7-8.8-0.8-8.8-0.9-8.7-1M1105 759.2l-8.8-13.7-8.8-13.3-8.7-13-8.8-12.7-8.8-12.7-8.8-12.6-8.7-12.5-8.8-12.6-8.8-12.8-8.8-13-8.7-13.1-8.8-13.3-8.8-13.1-8.8-13-8.8-12.7-8.7-12.4-8.8-12-8.8-11.3-8.8-10.5-8.7-9.6-8.8-8.8-8.8-8.2-8.8-7.6-8.7-7-8.8-6.5-8.8-6-8.8-5.6-8.7-5-8.8-4.7-8.8-4.2-8.8-3.9-8.7-3.5-8.8-3.1-8.8-2.8-8.8-2.5-8.8-2.2-8.7-1.9-8.8-1.6-8.8-1.4-8.8-1.2-8.7-1-8.8-0.9-8.8-0.7-8.8-0.6-8.7-0.4-8.8-0.4-8.8-0.3-8.8-0.3-8.7-0.3-8.8-0.2-8.8-0.3-8.8-0.3-8.7-0.4-8.8-0.5-8.8-0.5-8.8-0.7-8.8-0.7-8.7-0.9-8.8-1M1111.8 757.2l-8.8-13.7-8.7-13.4-8.8-13-8.8-12.9-8.8-12.8-8.7-12.7-8.8-12.8-8.8-12.8-8.8-12.9-8.7-13.2-8.8-13.3-8.8-13.4-8.8-13.3-8.7-13.1-8.8-12.8-8.8-12.5-8.8-12-8.7-11.4-8.8-10.7-8.8-9.8-8.8-9-8.8-8.4-8.7-7.7-8.8-7.2-8.8-6.6-8.8-6.1-8.7-5.6-8.8-5.2-8.8-4.7-8.8-4.3-8.7-3.9-8.8-3.5-8.8-3.1-8.8-2.8-8.7-2.5-8.8-2.2-8.8-1.9-8.8-1.6-8.8-1.4-8.7-1.2-8.8-0.9-8.8-0.8-8.8-0.7-8.7-0.5-8.8-0.4-8.8-0.3-8.8-0.3-8.7-0.2-8.8-0.3-8.8-0.2-8.8-0.2-8.7-0.3-8.8-0.3-8.8-0.4-8.8-0.5-8.7-0.6-8.8-0.8-8.8-0.8-8.8-0.9M1118.7 755.3l-8.8-13.7-8.8-13.5-8.8-13.2-8.8-13-8.7-13-8.8-12.9-8.8-13-8.8-12.9-8.7-13.2-8.8-13.3-8.8-13.6-8.8-13.5-8.7-13.4-8.8-13.2-8.8-12.8-8.8-12.6-8.7-12.1-8.8-11.5-8.8-10.8-8.8-10-8.7-9.2-8.8-8.6-8.8-7.9-8.8-7.3-8.8-6.7-8.7-6.2-8.8-5.8-8.8-5.2-8.8-4.8-8.7-4.3-8.8-3.9-8.8-3.6-8.8-3.1-8.7-2.8-8.8-2.5-8.8-2.1-8.8-1.9-8.7-1.6-8.8-1.4-8.8-1.1-8.8-0.9-8.7-0.8-8.8-0.6-8.8-0.5-8.8-0.3-8.8-0.3-8.7-0.2-8.8-0.2-8.8-0.1-8.8-0.2-8.7-0.2-8.8-0.2-8.8-0.3-8.8-0.3-8.7-0.5-8.8-0.6-8.8-0.7-8.8-0.8-8.7-0.8M1125.5 753.2l-8.8-13.6-8.8-13.5-8.7-13.4-8.8-13.3-8.8-13.1-8.8-13.2-8.7-13.1-8.8-13.2-8.8-13.3-8.8-13.6-8.8-13.7-8.7-13.6-8.8-13.5-8.8-13.3-8.8-12.9-8.7-12.6-8.8-12.2-8.8-11.6-8.8-10.9-8.7-10.2-8.8-9.4-8.8-8.7-8.8-8.1-8.7-7.4-8.8-6.9-8.8-6.3-8.8-5.8-8.8-5.3-8.7-4.8-8.8-4.4-8.8-4-8.8-3.5-8.7-3.2-8.8-2.8-8.8-2.5-8.8-2.1-8.7-1.9-8.8-1.5-8.8-1.4-8.8-1.1-8.7-0.8-8.8-0.8-8.8-0.5-8.8-0.4-8.7-0.3-8.8-0.2-8.8-0.2-8.8-0.1-8.8-0.1-8.7-0.1-8.8-0.1-8.8-0.2-8.8-0.2-8.7-0.4-8.8-0.4-8.8-0.5-8.8-0.6-8.7-0.8-8.8-0.8M1132.3 751.1l-8.8-13.5-8.7-13.7-8.8-13.5-8.8-13.5-8.8-13.4-8.7-13.4-8.8-13.4-8.8-13.4-8.8-13.5-8.7-13.7-8.8-13.8-8.8-13.8-8.8-13.6-8.8-13.3-8.7-13-8.8-12.6-8.8-12.3-8.8-11.7-8.7-11-8.8-10.4-8.8-9.5-8.8-8.9-8.7-8.2-8.8-7.6-8.8-7-8.8-6.4-8.7-5.9-8.8-5.4-8.8-4.9-8.8-4.4-8.7-4-8.8-3.6-8.8-3.1-8.8-2.8-8.8-2.5-8.7-2.1-8.8-1.9-8.8-1.5-8.8-1.3-8.7-1-8.8-0.9-8.8-0.6-8.8-0.5-8.7-0.4-8.8-0.2-8.8-0.2-8.8-0.1-8.7 0-8.8-0.1-8.8 0-8.8-0.1-8.8-0.1-8.7-0.2-8.8-0.2-8.8-0.4-8.8-0.5-8.7-0.6-8.8-0.7-8.8-0.8M1139.1 748.9l-8.7-13.5-8.8-13.8-8.8-13.8-8.8-13.7-8.7-13.6-8.8-13.6-8.8-13.6-8.8-13.7-8.7-13.7-8.8-13.9-8.8-13.9-8.8-13.9-8.7-13.7-8.8-13.4-8.8-13-8.8-12.7-8.8-12.3-8.7-11.8-8.8-11.1-8.8-10.4-8.8-9.8-8.7-9-8.8-8.3-8.8-7.7-8.8-7.1-8.7-6.6-8.8-5.9-8.8-5.5-8.8-4.9-8.7-4.5-8.8-4-8.8-3.6-8.8-3.2-8.7-2.8-8.8-2.5-8.8-2.1-8.8-1.8-8.8-1.5-8.7-1.2-8.8-1-8.8-0.8-8.8-0.6-8.7-0.5-8.8-0.3-8.8-0.2-8.8-0.1-8.7 0-8.8 0-8.8 0.1-8.8 0-8.7 0-8.8-0.1-8.8-0.1-8.8-0.2-8.7-0.3-8.8-0.4-8.8-0.6-8.8-0.6-8.8-0.8M1146 746.5l-8.8-13.6-8.8-13.9-8.8-13.9-8.7-13.9-8.8-13.9-8.8-13.9-8.8-13.8-8.7-13.9-8.8-13.9-8.8-14-8.8-14.1-8.7-14-8.8-13.8-8.8-13.4-8.8-13.1-8.7-12.7-8.8-12.4-8.8-11.8-8.8-11.2-8.7-10.6-8.8-9.8-8.8-9.2-8.8-8.4-8.8-7.8-8.7-7.3-8.8-6.6-8.8-6-8.8-5.5-8.7-5-8.8-4.5-8.8-4.1-8.8-3.6-8.7-3.2-8.8-2.8-8.8-2.4-8.8-2.1-8.7-1.8-8.8-1.5-8.8-1.2-8.8-0.9-8.8-0.8-8.7-0.5-8.8-0.4-8.8-0.3-8.8-0.1-8.7 0-8.8 0-8.8 0.1-8.8 0.1-8.7 0.1-8.8 0-8.8 0-8.8 0-8.7-0.2-8.8-0.2-8.8-0.4-8.8-0.4-8.7-0.6-8.8-0.7M1152.8 743.7l-8.8-13.6-8.7-13.9-8.8-14.1-8.8-14.1-8.8-14.1-8.8-14.1-8.7-14.1-8.8-14.1-8.8-14.1-8.8-14.1-8.7-14.2-8.8-14.1-8.8-13.9-8.8-13.6-8.7-13.2-8.8-12.7-8.8-12.4-8.8-11.9-8.7-11.2-8.8-10.7-8.8-9.9-8.8-9.2-8.7-8.6-8.8-8-8.8-7.3-8.8-6.7-8.8-6.1-8.7-5.6-8.8-5-8.8-4.6-8.8-4-8.7-3.6-8.8-3.2-8.8-2.8-8.8-2.5-8.7-2-8.8-1.8-8.8-1.4-8.8-1.2-8.7-0.9-8.8-0.7-8.8-0.4-8.8-0.4-8.7-0.1-8.8-0.1-8.8 0-8.8 0.1-8.8 0.2-8.7 0.1-8.8 0.2-8.8 0.1-8.8 0.1-8.7 0-8.8-0.1-8.8-0.1-8.8-0.3-8.7-0.4-8.8-0.5-8.8-0.7M1159.6 740.7l-8.7-13.7-8.8-14-8.8-14.2-8.8-14.3-8.7-14.3-8.8-14.3-8.8-14.3-8.8-14.3-8.7-14.3-8.8-14.3-8.8-14.3-8.8-14.2-8.8-14-8.7-13.7-8.8-13.2-8.8-12.8-8.8-12.4-8.7-11.9-8.8-11.3-8.8-10.7-8.8-10-8.7-9.4-8.8-8.6-8.8-8.1-8.8-7.4-8.7-6.7-8.8-6.2-8.8-5.6-8.8-5.1-8.8-4.6-8.7-4.1-8.8-3.6-8.8-3.2-8.8-2.8-8.7-2.4-8.8-2-8.8-1.7-8.8-1.4-8.7-1.2-8.8-0.8-8.8-0.6-8.8-0.5-8.7-0.2-8.8-0.1-8.8 0-8.8 0.1-8.7 0.1-8.8 0.3-8.8 0.2-8.8 0.2-8.8 0.2-8.7 0.2-8.8 0-8.8 0-8.8-0.1-8.7-0.2-8.8-0.3-8.8-0.4-8.8-0.6M1166.5 737.2l-8.8-13.7-8.8-14.1-8.8-14.3-8.7-14.4-8.8-14.4-8.8-14.5-8.8-14.5-8.7-14.5-8.8-14.4-8.8-14.5-8.8-14.4-8.7-14.3-8.8-14.1-8.8-13.8-8.8-13.3-8.8-12.8-8.7-12.4-8.8-12-8.8-11.3-8.8-10.8-8.7-10.1-8.8-9.4-8.8-8.8-8.8-8.1-8.7-7.5-8.8-6.8-8.8-6.2-8.8-5.7-8.7-5.1-8.8-4.6-8.8-4.1-8.8-3.7-8.7-3.2-8.8-2.7-8.8-2.4-8.8-2-8.8-1.7-8.7-1.3-8.8-1.1-8.8-0.8-8.8-0.6-8.7-0.3-8.8-0.2-8.8 0-8.8 0-8.7 0.2-8.8 0.3-8.8 0.2-8.8 0.3-8.7 0.3-8.8 0.3-8.8 0.2-8.8 0.2-8.8 0.1-8.7-0.1-8.8-0.1-8.8-0.2-8.8-0.4-8.7-0.5M1173.3 733.3l-8.8-13.7-8.8-14.1-8.7-14.3-8.8-14.5-8.8-14.6-8.8-14.6-8.7-14.7-8.8-14.7-8.8-14.6-8.8-14.5-8.7-14.6-8.8-14.4-8.8-14.2-8.8-13.9-8.7-13.4-8.8-12.9-8.8-12.4-8.8-11.9-8.8-11.4-8.7-10.8-8.8-10.2-8.8-9.5-8.8-8.9-8.7-8.1-8.8-7.6-8.8-6.9-8.8-6.2-8.7-5.8-8.8-5.1-8.8-4.6-8.8-4.1-8.7-3.7-8.8-3.1-8.8-2.8-8.8-2.3-8.7-2-8.8-1.6-8.8-1.3-8.8-1-8.8-0.8-8.7-0.5-8.8-0.3-8.8-0.1-8.8 0-8.7 0.2-8.8 0.3-8.8 0.3-8.8 0.3-8.7 0.4-8.8 0.4-8.8 0.3-8.8 0.3-8.7 0.3-8.8 0.1-8.8 0.1-8.8-0.1-8.7-0.2-8.8-0.2-8.8-0.4M1180.1 729l-8.7-13.6-8.8-14.1-8.8-14.4-8.8-14.6-8.8-14.7-8.7-14.8-8.8-14.7-8.8-14.8-8.8-14.8-8.7-14.7-8.8-14.7-8.8-14.5-8.8-14.3-8.7-13.9-8.8-13.5-8.8-12.9-8.8-12.5-8.7-12-8.8-11.4-8.8-10.9-8.8-10.2-8.7-9.6-8.8-8.9-8.8-8.2-8.8-7.6-8.8-6.9-8.7-6.3-8.8-5.8-8.8-5.1-8.8-4.7-8.7-4.1-8.8-3.6-8.8-3.2-8.8-2.7-8.7-2.3-8.8-1.9-8.8-1.6-8.8-1.2-8.7-1-8.8-0.7-8.8-0.4-8.8-0.2-8.8-0.1-8.7 0.1-8.8 0.3-8.8 0.3-8.8 0.4-8.7 0.4-8.8 0.5-8.8 0.5-8.8 0.4-8.7 0.3-8.8 0.4-8.8 0.2-8.8 0.1-8.7 0-8.8 0-8.8-0.3-8.8-0.3M1187 724.4l-8.8-13.6-8.8-14.1-8.8-14.5-8.7-14.6-8.8-14.8-8.8-14.8-8.8-14.9-8.8-15-8.7-14.9-8.8-14.8-8.8-14.8-8.8-14.6-8.7-14.3-8.8-14-8.8-13.6-8.8-13-8.7-12.5-8.8-12-8.8-11.5-8.8-10.9-8.7-10.2-8.8-9.6-8.8-9-8.8-8.3-8.7-7.6-8.8-7-8.8-6.3-8.8-5.8-8.8-5.2-8.7-4.6-8.8-4.1-8.8-3.6-8.8-3.1-8.7-2.7-8.8-2.3-8.8-1.9-8.8-1.5-8.7-1.2-8.8-0.9-8.8-0.6-8.8-0.4-8.7-0.1-8.8 0-8.8 0.2-8.8 0.3-8.7 0.4-8.8 0.5-8.8 0.6-8.8 0.5-8.8 0.5-8.7 0.5-8.8 0.5-8.8 0.4-8.8 0.3-8.7 0.2-8.8 0.1-8.8 0-8.8-0.2-8.7-0.3M1193.8 719.8l-8.8-13.8-8.8-14.2-8.7-14.5-8.8-14.8-8.8-14.8-8.8-14.9-8.7-15-8.8-15-8.8-15.1-8.8-14.9-8.7-14.9-8.8-14.7-8.8-14.4-8.8-14-8.8-13.6-8.7-13.1-8.8-12.5-8.8-12.1-8.8-11.5-8.7-10.9-8.8-10.3-8.8-9.7-8.8-9-8.7-8.3-8.8-7.7-8.8-7-8.8-6.3-8.7-5.8-8.8-5.2-8.8-4.6-8.8-4.1-8.8-3.6-8.7-3.1-8.8-2.6-8.8-2.2-8.8-1.9-8.7-1.4-8.8-1.2-8.8-0.8-8.8-0.5-8.7-0.3-8.8-0.1-8.8 0.1-8.8 0.3-8.7 0.4-8.8 0.5-8.8 0.6-8.8 0.6-8.7 0.6-8.8 0.6-8.8 0.6-8.8 0.5-8.8 0.5-8.7 0.4-8.8 0.2-8.8 0.2-8.8 0.1-8.7-0.1-8.8-0.2M1200.6 715l-8.8-14-8.7-14.4-8.8-14.7-8.8-14.8-8.8-14.8-8.7-15-8.8-15.1-8.8-15.1-8.8-15.1-8.7-15.1-8.8-14.9-8.8-14.8-8.8-14.5-8.7-14.1-8.8-13.6-8.8-13.1-8.8-12.6-8.8-12.1-8.7-11.5-8.8-11-8.8-10.3-8.8-9.7-8.7-9.1-8.8-8.3-8.8-7.7-8.8-7-8.7-6.4-8.8-5.7-8.8-5.2-8.8-4.6-8.7-4-8.8-3.6-8.8-3-8.8-2.7-8.7-2.1-8.8-1.8-8.8-1.4-8.8-1.1-8.8-0.7-8.7-0.5-8.8-0.2-8.8 0-8.8 0.2-8.7 0.4-8.8 0.5-8.8 0.5-8.8 0.7-8.7 0.7-8.8 0.7-8.8 0.7-8.8 0.7-8.7 0.6-8.8 0.5-8.8 0.5-8.8 0.3-8.8 0.3-8.7 0.1-8.8 0-8.8-0.2M1207.4 709.8l-8.7-14.2-8.8-14.6-8.8-14.8-8.8-14.8-8.7-14.9-8.8-15.1-8.8-15.1-8.8-15.1-8.7-15.2-8.8-15.2-8.8-15-8.8-14.8-8.7-14.6-8.8-14.1-8.8-13.7-8.8-13.1-8.7-12.7-8.8-12.1-8.8-11.5-8.8-11-8.8-10.4-8.7-9.7-8.8-9.1-8.8-8.3-8.8-7.7-8.7-7-8.8-6.4-8.8-5.7-8.8-5.1-8.7-4.6-8.8-4-8.8-3.6-8.8-3-8.7-2.5-8.8-2.2-8.8-1.7-8.8-1.3-8.7-1-8.8-0.7-8.8-0.4-8.8-0.1-8.8 0.1-8.7 0.3-8.8 0.4-8.8 0.6-8.8 0.7-8.7 0.8-8.8 0.7-8.8 0.8-8.8 0.8-8.7 0.8-8.8 0.7-8.8 0.6-8.8 0.5-8.7 0.4-8.8 0.3-8.8 0.2-8.8 0-8.8-0.1M1214.3 704.2l-8.8-14.4-8.8-14.7-8.7-15-8.8-14.9-8.8-14.9-8.8-15.1-8.8-15.1-8.7-15.2-8.8-15.2-8.8-15.2-8.8-15.1-8.7-15-8.8-14.6-8.8-14.1-8.8-13.7-8.7-13.2-8.8-12.6-8.8-12.2-8.8-11.5-8.7-11.1-8.8-10.4-8.8-9.7-8.8-9-8.8-8.4-8.7-7.6-8.8-7-8.8-6.4-8.8-5.7-8.7-5.1-8.8-4.5-8.8-4-8.8-3.5-8.7-3-8.8-2.5-8.8-2-8.8-1.7-8.7-1.3-8.8-0.9-8.8-0.6-8.8-0.3-8.7 0-8.8 0.2-8.8 0.4-8.8 0.5-8.8 0.7-8.7 0.8-8.8 0.8-8.8 0.9-8.8 0.9-8.7 0.9-8.8 0.8-8.8 0.7-8.8 0.7-8.7 0.6-8.8 0.5-8.8 0.4-8.8 0.2-8.7 0.1-8.8-0.1M1221.1 698.2l-8.8-14.5-8.7-15.1-8.8-15-8.8-15-8.8-14.9-8.7-15.1-8.8-15.1-8.8-15.2-8.8-15.2-8.8-15.3-8.7-15.2-8.8-15-8.8-14.6-8.8-14.2-8.7-13.7-8.8-13.2-8.8-12.6-8.8-12.2-8.7-11.6-8.8-11-8.8-10.4-8.8-9.7-8.7-9.1-8.8-8.3-8.8-7.6-8.8-7-8.7-6.3-8.8-5.7-8.8-5.1-8.8-4.4-8.8-4-8.7-3.4-8.8-2.9-8.8-2.5-8.8-2-8.7-1.5-8.8-1.2-8.8-0.9-8.8-0.5-8.7-0.2-8.8 0.1-8.8 0.3-8.8 0.4-8.7 0.7-8.8 0.8-8.8 0.9-8.8 0.9-8.8 1-8.7 0.9-8.8 1-8.8 0.9-8.8 0.9-8.7 0.7-8.8 0.7-8.8 0.5-8.8 0.4-8.7 0.3-8.8 0.1-8.8 0M1227.9 691.9l-8.7-14.8-8.8-15.3-8.8-15.2-8.8-15.1-8.7-14.9-8.8-15-8.8-15-8.8-15.2-8.7-15.2-8.8-15.3-8.8-15.3-8.8-15.1-8.8-14.7-8.7-14.2-8.8-13.6-8.8-13.2-8.8-12.6-8.7-12.2-8.8-11.6-8.8-11-8.8-10.4-8.7-9.8-8.8-9-8.8-8.3-8.8-7.6-8.7-6.9-8.8-6.2-8.8-5.7-8.8-5-8.7-4.4-8.8-3.9-8.8-3.4-8.8-2.8-8.8-2.4-8.7-1.9-8.8-1.5-8.8-1.1-8.8-0.8-8.7-0.4-8.8-0.1-8.8 0.1-8.8 0.4-8.7 0.6-8.8 0.8-8.8 0.9-8.8 0.9-8.7 1.1-8.8 1.1-8.8 1-8.8 1.1-8.7 1-8.8 0.9-8.8 0.8-8.8 0.7-8.8 0.6-8.7 0.5-8.8 0.3-8.8 0.2-8.8-0.1M1234.8 685.3l-8.8-15.2-8.8-15.6-8.8-15.4-8.7-15.1-8.8-14.9-8.8-14.9-8.8-15-8.7-15-8.8-15.2-8.8-15.3-8.8-15.4-8.7-15.1-8.8-14.8-8.8-14.2-8.8-13.6-8.7-13.1-8.8-12.7-8.8-12.2-8.8-11.6-8.8-11-8.7-10.4-8.8-9.7-8.8-8.9-8.8-8.3-8.7-7.5-8.8-6.9-8.8-6.2-8.8-5.6-8.7-4.9-8.8-4.4-8.8-3.8-8.8-3.3-8.7-2.8-8.8-2.3-8.8-1.8-8.8-1.4-8.8-1.1-8.7-0.6-8.8-0.3-8.8-0.1-8.8 0.3-8.7 0.5-8.8 0.7-8.8 0.9-8.8 1-8.7 1-8.8 1.2-8.8 1.2-8.8 1.1-8.7 1.2-8.8 1-8.8 1-8.8 0.9-8.7 0.8-8.8 0.6-8.8 0.6-8.8 0.3-8.8 0.2-8.7 0M1241.6 678.4l-8.8-15.6-8.8-15.9-8.7-15.6-8.8-15.2-8.8-14.8-8.8-14.9-8.7-14.8-8.8-15-8.8-15.1-8.8-15.4-8.7-15.4-8.8-15.2-8.8-14.8-8.8-14.2-8.7-13.6-8.8-13-8.8-12.7-8.8-12.1-8.7-11.7-8.8-11-8.8-10.3-8.8-9.6-8.8-9-8.7-8.1-8.8-7.5-8.8-6.8-8.8-6.1-8.7-5.5-8.8-4.9-8.8-4.3-8.8-3.8-8.7-3.2-8.8-2.7-8.8-2.2-8.8-1.8-8.7-1.3-8.8-0.9-8.8-0.6-8.8-0.2-8.7 0.1-8.8 0.4-8.8 0.6-8.8 0.8-8.8 1-8.7 1.1-8.8 1.2-8.8 1.2-8.8 1.3-8.7 1.2-8.8 1.3-8.8 1.1-8.8 1.1-8.7 0.9-8.8 0.9-8.8 0.7-8.8 0.5-8.7 0.4-8.8 0.3-8.8 0M1248.4 671.1l-8.7-16-8.8-16.3-8.8-15.8-8.8-15.1-8.7-14.8-8.8-14.8-8.8-14.7-8.8-14.9-8.8-15-8.7-15.5-8.8-15.5-8.8-15.2-8.8-14.8-8.7-14.2-8.8-13.5-8.8-13-8.8-12.6-8.7-12.1-8.8-11.6-8.8-11-8.8-10.3-8.7-9.6-8.8-8.8-8.8-8.1-8.8-7.4-8.8-6.7-8.7-6.1-8.8-5.4-8.8-4.8-8.8-4.2-8.7-3.7-8.8-3.1-8.8-2.6-8.8-2.2-8.7-1.6-8.8-1.3-8.8-0.8-8.8-0.5-8.7-0.1-8.8 0.2-8.8 0.5-8.8 0.7-8.7 1-8.8 1-8.8 1.3-8.8 1.3-8.8 1.3-8.7 1.4-8.8 1.4-8.8 1.3-8.8 1.2-8.7 1.2-8.8 1-8.8 0.9-8.8 0.7-8.7 0.6-8.8 0.5-8.8 0.2-8.8 0.1M1255.3 663.6l-8.8-16.4-8.8-16.9-8.8-15.8-8.7-15.1-8.8-14.8-8.8-14.7-8.8-14.7-8.7-14.8-8.8-15-8.8-15.4-8.8-15.5-8.8-15.3-8.7-14.8-8.8-14.1-8.8-13.5-8.8-12.9-8.7-12.6-8.8-12.1-8.8-11.5-8.8-11-8.7-10.2-8.8-9.5-8.8-8.8-8.8-8-8.7-7.3-8.8-6.6-8.8-5.9-8.8-5.3-8.7-4.7-8.8-4.2-8.8-3.5-8.8-3.1-8.8-2.5-8.7-2.1-8.8-1.5-8.8-1.2-8.8-0.7-8.7-0.4-8.8 0-8.8 0.3-8.8 0.6-8.7 0.9-8.8 1-8.8 1.3-8.8 1.3-8.7 1.4-8.8 1.5-8.8 1.5-8.8 1.4-8.8 1.5-8.7 1.3-8.8 1.2-8.8 1.1-8.8 0.9-8.7 0.8-8.8 0.7-8.8 0.4-8.8 0.3-8.7 0.1M1262.1 655.6l-8.8-16.7-8.8-17.1-8.7-16-8.8-15.2-8.8-14.8-8.8-14.7-8.7-14.6-8.8-14.8-8.8-14.9-8.8-15.4-8.7-15.5-8.8-15.3-8.8-14.8-8.8-14-8.8-13.3-8.7-12.9-8.8-12.5-8.8-12.1-8.8-11.6-8.7-10.8-8.8-10.2-8.8-9.4-8.8-8.7-8.7-7.9-8.8-7.1-8.8-6.5-8.8-5.9-8.7-5.2-8.8-4.6-8.8-4-8.8-3.5-8.7-2.9-8.8-2.4-8.8-2-8.8-1.5-8.8-1-8.7-0.6-8.8-0.3-8.8 0.1-8.8 0.5-8.7 0.7-8.8 0.9-8.8 1.2-8.8 1.4-8.7 1.4-8.8 1.6-8.8 1.6-8.8 1.6-8.7 1.5-8.8 1.5-8.8 1.4-8.8 1.3-8.7 1.2-8.8 1-8.8 0.8-8.8 0.7-8.8 0.5-8.7 0.3-8.8 0.1M1268.9 647.2l-8.8-16.8-8.7-17.2-8.8-16.2-8.8-15.4-8.8-14.9-8.7-14.7-8.8-14.6-8.8-14.7-8.8-14.9-8.7-15.2-8.8-15.5-8.8-15.3-8.8-14.7-8.7-13.9-8.8-13.3-8.8-12.8-8.8-12.5-8.7-12-8.8-11.6-8.8-10.8-8.8-10.1-8.8-9.3-8.7-8.5-8.8-7.8-8.8-7-8.8-6.4-8.7-5.7-8.8-5.1-8.8-4.5-8.8-3.9-8.7-3.3-8.8-2.9-8.8-2.3-8.8-1.9-8.7-1.3-8.8-1-8.8-0.5-8.8-0.1-8.8 0.2-8.7 0.6-8.8 0.8-8.8 1.1-8.8 1.3-8.7 1.5-8.8 1.6-8.8 1.7-8.8 1.7-8.7 1.7-8.8 1.7-8.8 1.6-8.8 1.4-8.7 1.4-8.8 1.2-8.8 1.1-8.8 0.9-8.7 0.7-8.8 0.5-8.8 0.3-8.8 0.2M1275.8 638.2l-8.8-16.8-8.8-17.2-8.8-16.4-8.8-15.6-8.7-14.9-8.8-14.7-8.8-14.6-8.8-14.6-8.7-14.8-8.8-15.1-8.8-15.4-8.8-15.2-8.7-14.8-8.8-13.7-8.8-13.1-8.8-12.8-8.7-12.5-8.8-12-8.8-11.5-8.8-10.8-8.7-10-8.8-9.2-8.8-8.4-8.8-7.6-8.8-6.9-8.7-6.2-8.8-5.6-8.8-4.9-8.8-4.4-8.7-3.8-8.8-3.3-8.8-2.7-8.8-2.2-8.7-1.8-8.8-1.2-8.8-0.9-8.8-0.4-8.7 0-8.8 0.4-8.8 0.7-8.8 1-8.7 1.2-8.8 1.4-8.8 1.6-8.8 1.8-8.8 1.8-8.7 1.8-8.8 1.8-8.8 1.8-8.8 1.7-8.7 1.6-8.8 1.4-8.8 1.3-8.8 1.1-8.7 0.9-8.8 0.7-8.8 0.6-8.8 0.4-8.7 0.1M1282.6 628.6l-8.8-16.7-8.8-17.1-8.7-16.6-8.8-15.7-8.8-15-8.8-14.7-8.7-14.5-8.8-14.5-8.8-14.7-8.8-14.9-8.8-15.2-8.7-15.2-8.8-14.6-8.8-13.6-8.8-13.1-8.7-12.7-8.8-12.5-8.8-12.1-8.8-11.5-8.7-10.7-8.8-9.9-8.8-9.1-8.8-8.2-8.7-7.4-8.8-6.7-8.8-6.1-8.8-5.4-8.8-4.9-8.7-4.2-8.8-3.7-8.8-3.1-8.8-2.6-8.7-2.2-8.8-1.6-8.8-1.1-8.8-0.8-8.7-0.2-8.8 0.1-8.8 0.5-8.8 0.8-8.7 1.1-8.8 1.4-8.8 1.5-8.8 1.8-8.7 1.9-8.8 1.9-8.8 2-8.8 1.9-8.8 1.9-8.7 1.8-8.8 1.6-8.8 1.6-8.8 1.3-8.7 1.1-8.8 1-8.8 0.8-8.8 0.5-8.7 0.4-8.8 0.2M1289.4 618.6l-8.8-16.7-8.7-17.1-8.8-16.6-8.8-15.8-8.8-15.1-8.7-14.6-8.8-14.4-8.8-14.4-8.8-14.5-8.7-14.7-8.8-15.1-8.8-15-8.8-14.4-8.8-13.5-8.7-13-8.8-12.7-8.8-12.6-8.8-12.2-8.7-11.5-8.8-10.6-8.8-9.8-8.8-8.8-8.7-8-8.8-7.3-8.8-6.5-8.8-5.9-8.7-5.3-8.8-4.7-8.8-4.1-8.8-3.6-8.7-3-8.8-2.5-8.8-2-8.8-1.5-8.8-1.1-8.7-0.6-8.8-0.1-8.8 0.2-8.8 0.6-8.7 1-8.8 1.2-8.8 1.6-8.8 1.7-8.7 1.9-8.8 2-8.8 2.1-8.8 2-8.7 2.1-8.8 2-8.8 1.9-8.8 1.8-8.8 1.5-8.7 1.4-8.8 1.2-8.8 1-8.8 0.8-8.7 0.6-8.8 0.4-8.8 0.2M1296.2 608.3l-8.7-16.7-8.8-17.2-8.8-16.7-8.8-15.9-8.7-15-8.8-14.6-8.8-14.3-8.8-14.1-8.7-14.3-8.8-14.5-8.8-14.9-8.8-14.8-8.7-14.2-8.8-13.4-8.8-12.9-8.8-12.8-8.8-12.6-8.7-12.3-8.8-11.5-8.8-10.6-8.8-9.6-8.7-8.6-8.8-7.8-8.8-7.1-8.8-6.3-8.7-5.8-8.8-5.1-8.8-4.5-8.8-4-8.7-3.5-8.8-2.9-8.8-2.3-8.8-1.9-8.7-1.4-8.8-0.9-8.8-0.5-8.8 0-8.8 0.4-8.7 0.7-8.8 1.1-8.8 1.4-8.8 1.7-8.7 1.8-8.8 2.1-8.8 2.1-8.8 2.2-8.7 2.3-8.8 2.2-8.8 2.1-8.8 2-8.7 1.8-8.8 1.7-8.8 1.4-8.8 1.3-8.7 1-8.8 0.8-8.8 0.6-8.8 0.3-8.8 0.3M1303.1 597.9l-8.8-17-8.8-17.3-8.8-16.9-8.7-15.8-8.8-15-8.8-14.5-8.8-14.1-8.7-14-8.8-14-8.8-14.3-8.8-14.8-8.7-14.6-8.8-13.9-8.8-13.2-8.8-12.7-8.7-12.8-8.8-12.9-8.8-12.4-8.8-11.5-8.7-10.5-8.8-9.3-8.8-8.4-8.8-7.6-8.8-6.8-8.7-6.1-8.8-5.6-8.8-5-8.8-4.4-8.7-3.8-8.8-3.3-8.8-2.8-8.8-2.3-8.7-1.7-8.8-1.3-8.8-0.8-8.8-0.3-8.7 0.1-8.8 0.5-8.8 0.9-8.8 1.2-8.8 1.6-8.7 1.8-8.8 2-8.8 2.2-8.8 2.3-8.7 2.4-8.8 2.3-8.8 2.3-8.8 2.3-8.7 2.1-8.8 1.9-8.8 1.7-8.8 1.6-8.7 1.2-8.8 1.1-8.8 0.8-8.8 0.6-8.7 0.3-8.8 0.2M1309.9 587.2l-8.8-17.2-8.7-17.5-8.8-17-8.8-15.9-8.8-14.9-8.8-14.3-8.7-13.9-8.8-13.8-8.8-13.9-8.8-14.1-8.7-14.6-8.8-14.5-8.8-13.7-8.8-12.9-8.7-12.4-8.8-12.8-8.8-13.1-8.8-12.6-8.7-11.5-8.8-10.3-8.8-9.1-8.8-8.1-8.7-7.2-8.8-6.6-8.8-6-8.8-5.4-8.8-4.8-8.7-4.3-8.8-3.7-8.8-3.2-8.8-2.6-8.7-2.1-8.8-1.6-8.8-1.2-8.8-0.6-8.7-0.2-8.8 0.2-8.8 0.7-8.8 1-8.7 1.4-8.8 1.7-8.8 1.9-8.8 2.2-8.7 2.4-8.8 2.4-8.8 2.5-8.8 2.5-8.8 2.5-8.7 2.3-8.8 2.2-8.8 2-8.8 1.8-8.7 1.6-8.8 1.4-8.8 1-8.8 0.8-8.7 0.6-8.8 0.4-8.8 0.2M1316.7 576.2l-8.7-17.4-8.8-17.6-8.8-17.1-8.8-15.9-8.7-14.9-8.8-14-8.8-13.8-8.8-13.7-8.8-13.8-8.7-14.1-8.8-14.3-8.8-14.3-8.8-13.5-8.7-12.5-8.8-12.1-8.8-12.9-8.8-13.4-8.7-12.7-8.8-11.4-8.8-10-8.8-8.8-8.7-7.7-8.8-7-8.8-6.4-8.8-5.7-8.7-5.3-8.8-4.7-8.8-4.1-8.8-3.6-8.8-3-8.7-2.5-8.8-2-8.8-1.5-8.8-1-8.7-0.5-8.8-0.1-8.8 0.4-8.8 0.8-8.7 1.2-8.8 1.5-8.8 1.9-8.8 2.1-8.7 2.3-8.8 2.5-8.8 2.6-8.8 2.7-8.7 2.6-8.8 2.6-8.8 2.5-8.8 2.3-8.8 2.1-8.7 1.9-8.8 1.7-8.8 1.3-8.8 1.1-8.7 0.8-8.8 0.6-8.8 0.3-8.8 0.2M1323.6 565.2l-8.8-17.7-8.8-17.8-8.8-17.2-8.7-16-8.8-14.6-8.8-13.8-8.8-13.6-8.7-13.6-8.8-13.9-8.8-14-8.8-14.2-8.7-14-8.8-13.3-8.8-12.3-8.8-11.9-8.8-12.9-8.7-13.6-8.8-12.7-8.8-11.2-8.8-9.7-8.7-8.3-8.8-7.5-8.8-6.6-8.8-6.2-8.7-5.6-8.8-5.1-8.8-4.6-8.8-3.9-8.7-3.5-8.8-2.8-8.8-2.4-8.8-1.8-8.8-1.4-8.7-0.8-8.8-0.4-8.8 0-8.8 0.6-8.7 0.9-8.8 1.3-8.8 1.7-8.8 2-8.7 2.3-8.8 2.5-8.8 2.7-8.8 2.7-8.7 2.8-8.8 2.8-8.8 2.7-8.8 2.6-8.7 2.4-8.8 2.2-8.8 2-8.8 1.7-8.8 1.5-8.7 1.1-8.8 0.8-8.8 0.5-8.8 0.3-8.7 0.2M1330.4 554.1l-8.8-17.9-8.8-18.1-8.7-17.3-8.8-15.9-8.8-14.5-8.8-13.5-8.7-13.4-8.8-13.6-8.8-13.9-8.8-14-8.7-14-8.8-13.8-8.8-13.2-8.8-12.2-8.7-11.9-8.8-13-8.8-13.6-8.8-12.5-8.8-10.9-8.7-9.2-8.8-8-8.8-7-8.8-6.4-8.7-6-8.8-5.4-8.8-5-8.8-4.5-8.7-3.8-8.8-3.3-8.8-2.7-8.8-2.2-8.7-1.7-8.8-1.2-8.8-0.7-8.8-0.3-8.7 0.3-8.8 0.6-8.8 1.1-8.8 1.5-8.8 1.9-8.7 2.1-8.8 2.5-8.8 2.6-8.8 2.8-8.7 2.9-8.8 3-8.8 2.9-8.8 2.8-8.7 2.7-8.8 2.6-8.8 2.3-8.8 2.1-8.7 1.7-8.8 1.5-8.8 1.2-8.8 0.8-8.8 0.6-8.7 0.2-8.8 0.2M1337.2 543.2l-8.7-18.3-8.8-18.5-8.8-17.4-8.8-15.8-8.8-14.1-8.7-13.2-8.8-13.3-8.8-13.6-8.8-13.9-8.7-14-8.8-13.8-8.8-13.5-8.8-13.2-8.7-12.1-8.8-12.1-8.8-13.2-8.8-13.5-8.7-12.3-8.8-10.4-8.8-8.8-8.8-7.4-8.8-6.7-8.7-6.2-8.8-5.8-8.8-5.3-8.8-4.9-8.7-4.4-8.8-3.7-8.8-3.1-8.8-2.5-8.7-2.1-8.8-1.5-8.8-1.1-8.8-0.6-8.7-0.1-8.8 0.4-8.8 0.8-8.8 1.3-8.7 1.6-8.8 2-8.8 2.4-8.8 2.6-8.8 2.8-8.7 2.9-8.8 3.1-8.8 3.1-8.8 3-8.7 3-8.8 2.8-8.8 2.7-8.8 2.4-8.7 2.1-8.8 1.9-8.8 1.6-8.8 1.2-8.7 0.9-8.8 0.5-8.8 0.2-8.8 0.1M1344.1 532.4l-8.8-18.8-8.8-19-8.8-17.2-8.7-15.5-8.8-13.7-8.8-12.9-8.8-13.3-8.8-13.8-8.7-14-8.8-13.9-8.8-13.5-8.8-13.2-8.7-12.8-8.8-12.2-8.8-12.4-8.8-13.4-8.7-13.7-8.8-12-8.8-9.8-8.8-8.2-8.7-7-8.8-6.4-8.8-6-8.8-5.7-8.7-5.4-8.8-4.8-8.8-4.2-8.8-3.6-8.8-3-8.7-2.3-8.8-1.9-8.8-1.4-8.8-0.9-8.7-0.4-8.8 0-8.8 0.6-8.8 1-8.7 1.4-8.8 1.8-8.8 2.2-8.8 2.4-8.7 2.8-8.8 2.9-8.8 3.2-8.8 3.2-8.8 3.2-8.7 3.2-8.8 3.1-8.8 2.9-8.8 2.8-8.7 2.5-8.8 2.2-8.8 2-8.8 1.6-8.7 1.3-8.8 0.9-8.8 0.6-8.8 0.2-8.7 0M1350.9 521.8l-8.8-19.6-8.8-19.5-8.7-16.7-8.8-14.8-8.8-13.3-8.8-12.8-8.7-13.4-8.8-14-8.8-14.1-8.8-13.8-8.8-13.3-8.7-12.8-8.8-12.4-8.8-12.2-8.8-12.5-8.7-13.8-8.8-13.9-8.8-11.6-8.8-9-8.7-7.8-8.8-6.7-8.8-6.2-8.8-6-8.7-5.8-8.8-5.3-8.8-4.7-8.8-4.2-8.7-3.5-8.8-2.7-8.8-2.2-8.8-1.6-8.8-1.3-8.7-0.8-8.8-0.2-8.8 0.2-8.8 0.7-8.7 1.2-8.8 1.6-8.8 1.9-8.8 2.3-8.7 2.7-8.8 2.9-8.8 3.1-8.8 3.3-8.7 3.3-8.8 3.4-8.8 3.3-8.8 3.2-8.7 3.1-8.8 2.8-8.8 2.6-8.8 2.4-8.8 2-8.7 1.8-8.8 1.3-8.8 1-8.8 0.5-8.7 0.2-8.8 0.1M1357.7 510.9l-8.8-20.3-8.7-19.9-8.8-15.7-8.8-13.8-8.8-13-8.7-13-8.8-13.6-8.8-14.2-8.8-14.2-8.7-13.6-8.8-13-8.8-12.5-8.8-12.2-8.7-11.9-8.8-12.5-8.8-13.8-8.8-14.5-8.8-11-8.7-8-8.8-7.6-8.8-6.6-8.8-6.3-8.7-6.2-8.8-5.8-8.8-5.3-8.8-4.7-8.7-4.2-8.8-3.4-8.8-2.4-8.8-1.9-8.7-1.5-8.8-1.1-8.8-0.6-8.8-0.1-8.8 0.4-8.7 0.9-8.8 1.4-8.8 1.7-8.8 2.1-8.7 2.5-8.8 2.8-8.8 3.1-8.8 3.2-8.7 3.4-8.8 3.5-8.8 3.5-8.8 3.5-8.7 3.3-8.8 3.2-8.8 2.9-8.8 2.7-8.7 2.4-8.8 2.2-8.8 1.8-8.8 1.4-8.8 1.1-8.7 0.6-8.8 0.2-8.8 0M1364.5 498.5l-8.7-20-8.8-19.9-8.8-14-8.8-13-8.7-12.9-8.8-13.2-8.8-13.8-8.8-14.5-8.7-14.3-8.8-13-8.8-12.9-8.8-12.5-8.7-12-8.8-11.5-8.8-12-8.8-13.3-8.7-14.9-8.8-10.3-8.8-7.1-8.8-7.6-8.8-7.1-8.7-6.8-8.8-6.5-8.8-6-8.8-5.2-8.7-4.7-8.8-4.2-8.8-3.2-8.8-2.2-8.7-1.5-8.8-1.3-8.8-1-8.8-0.5-8.7 0.1-8.8 0.7-8.8 1.1-8.8 1.5-8.7 1.9-8.8 2.3-8.8 2.7-8.8 2.9-8.8 3.2-8.7 3.4-8.8 3.5-8.8 3.6-8.8 3.7-8.7 3.6-8.8 3.4-8.8 3.2-8.8 3.1-8.7 2.8-8.8 2.5-8.8 2.2-8.8 1.9-8.7 1.6-8.8 1.1-8.8 0.7-8.8 0.3-8.8-0.1M1371.4 484.6l-8.8-18.3-8.8-18.1-8.7-13.5-8.8-12.8-8.8-13.1-8.8-13.3-8.8-14-8.7-14.4-8.8-14.1-8.8-12.6-8.8-13-8.7-12.8-8.8-11.8-8.8-11.1-8.8-11.1-8.7-12.1-8.8-13.7-8.8-9.9-8.8-7.5-8.7-8.2-8.8-8-8.8-7.3-8.8-6.8-8.8-6.1-8.7-5.1-8.8-4.7-8.8-4.1-8.8-3.1-8.7-1.8-8.8-1.2-8.8-1.1-8.8-0.8-8.7-0.4-8.8 0.3-8.8 1-8.8 1.3-8.7 1.7-8.8 2.1-8.8 2.4-8.8 2.9-8.7 3-8.8 3.4-8.8 3.4-8.8 3.6-8.8 3.8-8.7 3.8-8.8 3.7-8.8 3.5-8.8 3.3-8.7 3.2-8.8 2.8-8.8 2.6-8.8 2.3-8.7 2.1-8.8 1.6-8.8 1.3-8.8 0.8-8.7 0.4-8.8-0.1M1378.2 470l-8.8-16.5-8.7-16-8.8-13.2-8.8-13.2-8.8-13.1-8.7-13.4-8.8-14-8.8-14-8.8-13.1-8.8-13.1-8.7-13.2-8.8-13.2-8.8-11.6-8.8-10.6-8.7-10.4-8.8-10.6-8.8-11.4-8.8-9.7-8.7-9.1-8.8-8.9-8.8-8.5-8.8-7.8-8.7-6.9-8.8-6.2-8.8-5-8.8-4.4-8.7-4.2-8.8-2.8-8.8-1.5-8.8-0.9-8.8-0.8-8.7-0.7-8.8-0.1-8.8 0.5-8.8 1.2-8.7 1.6-8.8 1.9-8.8 2.3-8.8 2.6-8.7 3-8.8 3.2-8.8 3.4-8.8 3.6-8.7 3.7-8.8 3.9-8.8 3.9-8.8 3.7-8.8 3.5-8.7 3.5-8.8 3.2-8.8 3-8.8 2.6-8.7 2.4-8.8 2.1-8.8 1.8-8.8 1.3-8.7 1-8.8 0.5-8.8 0" fill="none" stroke="#000" stroke-width="2.7" stroke-linejoin="round"/>
</g>
<path d="M702 974.5l6.8-4.5 6.9-4.4 6.8-4.3 6.8-4.4 6.9-4.4 6.8-4.4 6.8-4.4 6.8-4.3 6.9-4.4 6.8-4.3 6.8-4.2 6.9-4.2 6.8-4.5 6.8-5 6.9-5.3 6.8-5.9 6.8-6.3 6.8-6.4 6.9-6.4 6.8-6.3 6.8-5.9 6.9-5.5 6.8-5.3 6.8-5.1 6.9-4.9 6.8-4.7 6.8-4.6 6.9-4.5 6.8-4.5 6.8-4.4 6.8-4 6.9-3.7 6.8-3.5 6.8-3.1 6.9-3 6.8-2.8 6.8-2.8 6.9-2.5 6.8-2.4 6.8-2.2 6.8-2.1 6.9-2 6.8-2.1 6.8-2 6.9-2 6.8-2 6.8-2.1 6.9-2 6.8-2.1 6.8-2 6.9-2 6.8-2 6.8-1.8 6.8-1.9 6.9-1.9 6.8-1.9 6.8-1.8 6.9-1.9 6.8-2 6.8-2 6.9-1.9 6.8-2.1 6.8-2.1 6.8-2.2 6.9-2.4 6.8-2.8 6.8-3 6.9-3.5 6.8-3.9 6.8-4.3 6.9-4.6 6.8-4.6 6.8-4.8 6.8-5.2 6.9-5.6 6.8-6 6.8-6.3 6.9-6.6 6.8-6.9 6.8-7.3 6.9-7.5 6.8-8 6.8-8.4 6.9-9 6.8-9.6 6.8-10 6.8-10.3 6.9-10.4 6.8-10.7 6.8-11 6.9-11 6.8-11.1 6.8-10.9 6.9-10.8 6.8-10.6 6.8-10.9 6.8-12.4 6.9-13.9 6.8-14.6M184.2 615.5l6.8-1.3 6.9-1 6.8-1 6.8-1.3 6.9-1.3 6.8-1.6 6.8-1.6 6.8-1.9 6.9-1.9 6.8-2 6.8-2.2 6.9-2.1 6.8-2.3 6.8-2.3 6.9-2.4 6.8-2.5 6.8-2.6 6.8-3 6.9-3.2 6.8-3.5 6.8-3.4 6.9-3.5 6.8-3.6 6.8-3.5 6.9-3.7 6.8-3.6 6.8-3.8 6.9-3.7 6.8-3.8 6.8-3.9 6.8-3.9 6.9-3.9 6.8-4 6.8-4 6.9-4 6.8-4 6.8-4.1 6.9-4.2 6.8-4.1 6.8-4.2 6.8-4.2 6.9-4.2 6.8-4.2 6.8-4.3 6.9-4.3 6.8-4.3 6.8-4.3 6.9-4.4 6.8-4.4 6.8-4.6 6.9-4.6 6.8-4.7 6.8-4.8 6.8-4.8 6.9-4.8 6.8-4.8 6.8-4.9 6.9-4.9 6.8-4.9 6.8-4.8 6.9-4.8 6.8-4.8 6.8-4.8 6.8-4.7 6.9-4.6 6.8-4.6 6.8-4.5 6.9-4.5 6.8-4.4 6.8-4.5 6.9-4.5 6.8-4.4 6.8-4.5 6.8-4.5 6.9-4.5 6.8-4.5 6.8-4.6 6.9-4.5 6.8-4.5 6.8-4.5 6.9-4.5 6.8-4.5 6.8-4.4 6.9-4.5 6.8-4.4 6.8-4.4 6.8-4.4 6.9-4.5 6.8-4.3 6.8-4.4 6.9-4.3 6.8-4.2 6.8-4.2 6.9-4.1 6.8-3.9 6.8-3.9 6.8-3.8 6.9-3.6 6.8-3.6M702 974.5l-8.8-5.8-8.8-5.4-8.7-5.4-8.8-5.4-8.8-5.5-8.8-5.5-8.7-5.7-8.8-6.2-8.8-6.6-8.8-7-8.7-7.2-8.8-7.6-8.8-7.7-8.8-7.8-8.7-7.9-8.8-7.7-8.8-7.1-8.8-7.2-8.7-7.2-8.8-7.3-8.8-7.3-8.8-7.4-8.8-7.3-8.7-7.3-8.8-7.2-8.8-7.1-8.8-7-8.7-6.8-8.8-6.6-8.8-6.4-8.8-6.2-8.7-6-8.8-5.9-8.8-5.7-8.8-5.7-8.7-5.5-8.8-5.5-8.8-5.5-8.8-5.4-8.8-5.4-8.7-5.3-8.8-5.3-8.8-5.4-8.8-5.3-8.7-5.3-8.8-5.3-8.8-5.3-8.8-5.2-8.7-5.3-8.8-5.2-8.8-5.2-8.8-5.2-8.7-5.1-8.8-5.1-8.8-5.1-8.8-5.1-8.7-5.1-8.8-5-8.8-4.8M1378.2 470l-8.8-16.5-8.7-16-8.8-13.2-8.8-13.2-8.8-13.1-8.7-13.4-8.8-14-8.8-14-8.8-13.1-8.8-13.1-8.7-13.2-8.8-13.2-8.8-11.6-8.8-10.6-8.7-10.4-8.8-10.6-8.8-11.4-8.8-9.7-8.7-9.1-8.8-8.9-8.8-8.5-8.8-7.8-8.7-6.9-8.8-6.2-8.8-5-8.8-4.4-8.7-4.2-8.8-2.8-8.8-1.5-8.8-0.9-8.8-0.8-8.7-0.7-8.8-0.1-8.8 0.5-8.8 1.2-8.7 1.6-8.8 1.9-8.8 2.3-8.8 2.6-8.7 3-8.8 3.2-8.8 3.4-8.8 3.6-8.7 3.7-8.8 3.9-8.8 3.9-8.8 3.7-8.8 3.5-8.7 3.5-8.8 3.2-8.8 3-8.8 2.6-8.7 2.4-8.8 2.1-8.8 1.8-8.8 1.3-8.7 1-8.8 0.5-8.8 0" fill="none" stroke="#0a0a0a" stroke-width="1.2" stroke-linejoin="round"/>
<path d="M184.2 757.6L184.2 229.6M184.2 757.6L702 998M702 998L1378.2 811.5M184.2 757.6L166.8 749.5M184.2 581.6L166.8 573.5M184.2 405.6L166.8 397.5M184.2 229.6L166.8 221.5M702 998L685 1002.7M529.4 917.9L512.4 922.5M356.8 837.7L339.8 842.4M184.2 757.6L167.2 762.3M844.4 958.7L860.3 966.1M1022.3 909.7L1038.3 917.1M1200.3 860.6L1216.2 868M1378.2 811.5L1394.2 818.9" fill="none" stroke="#262626" stroke-width="1.7"/>
<g class="tk"><text x="152.3" y="761.7" text-anchor="end">0</text><text x="152.3" y="585.7" text-anchor="end">0.5</text><text x="152.3" y="409.7" text-anchor="end">1</text><text x="152.3" y="233.7" text-anchor="end">1.5</text><text x="671.5" y="1046.7" text-anchor="end">0</text><text x="498.9" y="966.5" text-anchor="end">1</text><text x="326.3" y="886.4" text-anchor="end">2</text><text x="153.7" y="806.3" text-anchor="end">3</text><text x="872.8" y="1013.1">5</text><text x="1050.8" y="964.1">10</text><text x="1228.7" y="915">15</text><text x="1406.7" y="865.9">20</text></g>
<defs><linearGradient id="cb" x1="0" y1="0" x2="0" y2="1"><stop offset="0.0000" stop-color="#f9fb15"/><stop offset="0.0159" stop-color="#f7f51b"/><stop offset="0.0317" stop-color="#f6ef20"/><stop offset="0.0476" stop-color="#f5e924"/><stop offset="0.0635" stop-color="#f5e327"/><stop offset="0.0794" stop-color="#f7dc2a"/><stop offset="0.0952" stop-color="#fad62d"/><stop offset="0.1111" stop-color="#fccf30"/><stop offset="0.1270" stop-color="#fec934"/><stop offset="0.1429" stop-color="#fec338"/><stop offset="0.1587" stop-color="#febe3c"/><stop offset="0.1746" stop-color="#f8ba3d"/><stop offset="0.1905" stop-color="#f0ba36"/><stop offset="0.2063" stop-color="#e6bb2d"/><stop offset="0.2222" stop-color="#dcbd29"/><stop offset="0.2381" stop-color="#d1bf27"/><stop offset="0.2540" stop-color="#c5c22a"/><stop offset="0.2698" stop-color="#b9c431"/><stop offset="0.2857" stop-color="#abc739"/><stop offset="0.3016" stop-color="#9dc943"/><stop offset="0.3175" stop-color="#8fcb4e"/><stop offset="0.3333" stop-color="#81cc59"/><stop offset="0.3492" stop-color="#72cd64"/><stop offset="0.3651" stop-color="#64cd6f"/><stop offset="0.3810" stop-color="#57cc7a"/><stop offset="0.3968" stop-color="#4acb84"/><stop offset="0.4127" stop-color="#3fca8e"/><stop offset="0.4286" stop-color="#37c897"/><stop offset="0.4444" stop-color="#31c69f"/><stop offset="0.4603" stop-color="#2cc4a7"/><stop offset="0.4762" stop-color="#24c1ae"/><stop offset="0.4921" stop-color="#19bfb6"/><stop offset="0.5079" stop-color="#0bbdbd"/><stop offset="0.5238" stop-color="#02bac3"/><stop offset="0.5397" stop-color="#01b8ca"/><stop offset="0.5556" stop-color="#08b5d0"/><stop offset="0.5714" stop-color="#12b1d6"/><stop offset="0.5873" stop-color="#18addb"/><stop offset="0.6032" stop-color="#1ca9df"/><stop offset="0.6190" stop-color="#20a5e3"/><stop offset="0.6349" stop-color="#23a0e5"/><stop offset="0.6508" stop-color="#259be8"/><stop offset="0.6667" stop-color="#2797eb"/><stop offset="0.6825" stop-color="#2b91ef"/><stop offset="0.6984" stop-color="#2d8cf3"/><stop offset="0.7143" stop-color="#2e87f7"/><stop offset="0.7302" stop-color="#2f81fa"/><stop offset="0.7460" stop-color="#327cfc"/><stop offset="0.7619" stop-color="#3875fe"/><stop offset="0.7778" stop-color="#3e6fff"/><stop offset="0.7937" stop-color="#4269fe"/><stop offset="0.8095" stop-color="#4563fd"/><stop offset="0.8254" stop-color="#465efb"/><stop offset="0.8413" stop-color="#4758f8"/><stop offset="0.8571" stop-color="#4852f4"/><stop offset="0.8730" stop-color="#484df0"/><stop offset="0.8889" stop-color="#4747eb"/><stop offset="0.9048" stop-color="#4741e5"/><stop offset="0.9206" stop-color="#463cde"/><stop offset="0.9365" stop-color="#4537d5"/><stop offset="0.9524" stop-color="#4332cb"/><stop offset="0.9683" stop-color="#422ec0"/><stop offset="0.9841" stop-color="#402ab4"/><stop offset="1.0000" stop-color="#3e26a8"/></linearGradient></defs><rect x="1464.3" y="45.2" width="43.9" height="953.8" fill="url(#cb)" stroke="#262626" stroke-width="2"/>
<path d="M1508.2 912.8h-9.5M1508.2 777.5h-9.5M1508.2 642.2h-9.5M1508.2 506.8h-9.5M1508.2 371.5h-9.5M1508.2 236.2h-9.5M1508.2 100.9h-9.5" fill="none" stroke="#262626" stroke-width="2"/>
<g class="cbt"><text x="1524.5" y="925.4">0.2</text><text x="1524.5" y="790.1">0.4</text><text x="1524.5" y="654.8">0.6</text><text x="1524.5" y="519.4">0.8</text><text x="1524.5" y="384.1">1</text><text x="1524.5" y="248.8">1.2</text><text x="1524.5" y="113.5">1.4</text></g>
<text class="lab" x="132" y="968.5" textLength="311" lengthAdjust="spacing">LAP (%, w/w)</text>
<text class="lab" x="1007" y="1016" textLength="342" lengthAdjust="spacing">T1304 (%, w/w)</text>
<text class="lab" transform="translate(70 673.5) rotate(-90)" textLength="358" lengthAdjust="spacing"><tspan font-style="italic">β</tspan>-Lap (<tspan font-style="italic">μ</tspan>g.mL<tspan font-size="33" dy="-17">−1</tspan><tspan dy="17">)</tspan></text>
<text class="cap" x="852" y="1268" text-anchor="middle" font-size="85"><tspan>(</tspan><tspan font-weight="bold" font-size="88">c</tspan><tspan>)</tspan></text>
</svg>
</body></html>
